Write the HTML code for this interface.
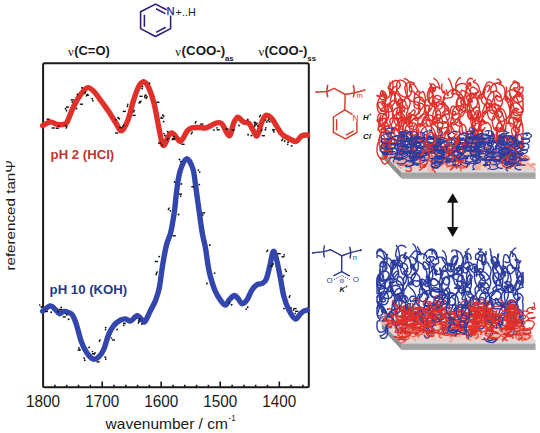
<!DOCTYPE html><html><head><meta charset="utf-8"><style>html,body{margin:0;padding:0;background:#fff;}svg{display:block;}</style></head><body><svg width="540" height="433" viewBox="0 0 540 433">
<rect width="540" height="433" fill="#fff"/>
<rect x="43.1" y="63.2" width="265.7" height="324.1" fill="none" stroke="#1a1a1a" stroke-width="2" rx="1.5"/>
<path d="M302.9,387.2 v-2.4 M291.1,387.2 v-2.4 M279.3,387.2 v-5.6 M267.5,387.2 v-2.4 M255.7,387.2 v-2.4 M243.9,387.2 v-2.4 M232.1,387.2 v-2.4 M220.2,387.2 v-5.6 M208.4,387.2 v-2.4 M196.6,387.2 v-2.4 M184.8,387.2 v-2.4 M173.0,387.2 v-2.4 M161.2,387.2 v-5.6 M149.4,387.2 v-2.4 M137.6,387.2 v-2.4 M125.8,387.2 v-2.4 M114.0,387.2 v-2.4 M102.2,387.2 v-5.6 M90.3,387.2 v-2.4 M78.5,387.2 v-2.4 M66.7,387.2 v-2.4 M54.9,387.2 v-2.4" stroke="#1a1a1a" stroke-width="1.6" fill="none"/>
<text x="43.1" y="407.2" font-family="Liberation Sans" font-size="16.0" fill="#1a1a1a" text-anchor="middle" textLength="34.0" lengthAdjust="spacingAndGlyphs">1800</text>
<text x="102.2" y="407.2" font-family="Liberation Sans" font-size="16.0" fill="#1a1a1a" text-anchor="middle" textLength="34.0" lengthAdjust="spacingAndGlyphs">1700</text>
<text x="161.2" y="407.2" font-family="Liberation Sans" font-size="16.0" fill="#1a1a1a" text-anchor="middle" textLength="34.0" lengthAdjust="spacingAndGlyphs">1600</text>
<text x="220.2" y="407.2" font-family="Liberation Sans" font-size="16.0" fill="#1a1a1a" text-anchor="middle" textLength="34.0" lengthAdjust="spacingAndGlyphs">1500</text>
<text x="279.3" y="407.2" font-family="Liberation Sans" font-size="16.0" fill="#1a1a1a" text-anchor="middle" textLength="34.0" lengthAdjust="spacingAndGlyphs">1400</text>
<text x="105.6" y="428.7" font-family="Liberation Sans" font-size="15.0" fill="#1a1a1a" textLength="122.3" lengthAdjust="spacingAndGlyphs">wavenumber / cm</text>
<text x="228.6" y="421.2" font-family="Liberation Sans" font-size="8.6" fill="#1a1a1a" textLength="7" lengthAdjust="spacingAndGlyphs">-1</text>
<text x="0.0" y="0.0" font-family="Liberation Sans" font-size="13.4" fill="#1a1a1a" textLength="110.6" lengthAdjust="spacingAndGlyphs" transform="translate(14.8,270.6) rotate(-90)">referenced tan&#936;</text>
<text x="68.0" y="55.8" font-family="Liberation Serif" font-size="12.6" fill="#1a1a1a">&#957;</text>
<text x="74.2" y="55.0" font-family="Liberation Sans" font-size="12.8" fill="#1a1a1a" font-weight="bold" textLength="35.6" lengthAdjust="spacingAndGlyphs">(C=O)</text>
<text x="175.3" y="55.8" font-family="Liberation Serif" font-size="12.6" fill="#1a1a1a">&#957;</text>
<text x="181.6" y="55.0" font-family="Liberation Sans" font-size="12.8" fill="#1a1a1a" font-weight="bold" textLength="43.6" lengthAdjust="spacingAndGlyphs">(COO-)</text>
<text x="224.9" y="60.5" font-family="Liberation Sans" font-size="7.2" fill="#1a1a1a" font-weight="bold" textLength="8.6" lengthAdjust="spacingAndGlyphs">as</text>
<text x="258.4" y="55.8" font-family="Liberation Serif" font-size="12.6" fill="#1a1a1a">&#957;</text>
<text x="264.4" y="55.0" font-family="Liberation Sans" font-size="12.8" fill="#1a1a1a" font-weight="bold" textLength="43.0" lengthAdjust="spacingAndGlyphs">(COO-)</text>
<text x="307.3" y="60.8" font-family="Liberation Sans" font-size="7.2" fill="#1a1a1a" font-weight="bold" textLength="8.8" lengthAdjust="spacingAndGlyphs">ss</text>
<g stroke="#30197a" stroke-width="1.55" fill="none" stroke-linejoin="round"><path d="M166.6,9.7 L155.5,4.1 L140.6,11.8 L140.6,28.6 L155.5,36.5 L170.6,28.6 L170.6,15.6"/><path d="M156,8.8 L165.4,13.6"/><path d="M144.4,14.8 L144.4,26.8"/><path d="M156,32.4 L165.7,27.3"/></g>
<text x="166.6" y="15.2" font-family="Liberation Sans" font-size="11.2" fill="#30197a" stroke="#30197a" stroke-width="0.25">N</text>
<text x="175.6" y="15.5" font-family="Liberation Sans" font-size="11.6" fill="#222" textLength="20.2" lengthAdjust="spacingAndGlyphs">+..H</text>
<path d="M42.6,125.7 C43.9,125.1 48.0,122.1 50.4,121.9 C52.8,121.7 54.8,124.0 56.9,124.4 C59.0,124.8 61.6,124.8 63.3,124.4 C65.0,124.0 65.5,124.9 67.2,121.9 C68.9,118.9 71.3,111.1 73.7,106.3 C76.1,101.5 79.1,96.4 81.5,93.3 C83.9,90.2 85.8,87.8 88.0,87.6 C90.2,87.4 92.0,89.5 94.4,92.0 C96.8,94.5 99.8,99.2 102.2,102.4 C104.6,105.7 106.5,108.2 108.7,111.5 C110.9,114.8 113.0,118.7 115.2,121.9 C117.4,125.1 119.5,131.3 121.7,130.9 C123.9,130.5 126.3,124.3 128.2,119.3 C130.1,114.3 131.6,106.5 133.3,101.1 C135.0,95.7 136.8,90.1 138.5,86.9 C140.2,83.7 142.0,81.5 143.7,81.7 C145.4,81.9 147.2,84.4 148.9,88.1 C150.6,91.8 152.5,97.4 154.1,103.7 C155.7,110.0 157.1,119.2 158.5,126.0 C159.9,132.8 161.3,141.5 162.5,144.3 C163.7,147.1 164.6,144.3 165.5,143.0 C166.4,141.7 167.3,138.1 168.2,136.5 C169.1,134.9 170.0,133.5 171.0,133.2 C172.0,132.8 172.7,133.1 174.1,134.4 C175.5,135.7 178.0,140.2 179.3,141.1 C180.7,142.0 180.8,141.3 182.2,139.6 C183.5,137.9 185.8,132.7 187.4,130.7 C189.0,128.7 189.9,128.3 191.9,127.8 C193.9,127.3 197.1,127.5 199.3,127.5 C201.5,127.5 203.5,128.2 205.2,128.0 C206.9,127.8 207.9,127.1 209.6,126.3 C211.3,125.5 213.9,123.9 215.6,123.3 C217.3,122.7 218.8,122.5 220.0,122.8 C221.2,123.1 221.2,122.8 222.8,125.0 C224.4,127.2 227.6,136.1 229.4,135.8 C231.2,135.5 232.2,126.4 233.6,123.3 C235.0,120.2 236.2,117.4 237.8,117.2 C239.4,117.0 241.5,120.9 243.3,121.9 C245.2,122.9 247.3,121.9 248.9,123.3 C250.5,124.7 251.7,128.2 253.1,130.3 C254.5,132.4 255.8,137.0 257.2,135.8 C258.6,134.6 260.0,126.7 261.4,123.3 C262.8,119.9 264.0,116.5 265.6,115.6 C267.2,114.7 269.2,116.0 271.1,117.8 C273.0,119.5 274.9,123.3 276.7,126.1 C278.5,128.9 280.1,132.3 282.2,134.4 C284.3,136.5 286.9,137.4 289.2,138.6 C291.5,139.8 294.0,141.9 296.1,141.4 C298.2,140.9 299.8,136.9 301.7,135.8 C303.6,134.7 306.5,135.1 307.5,135.0" stroke="#e0302a" stroke-width="5.4" fill="none" stroke-linecap="round" stroke-linejoin="round"/>
<path d="M42.6,311.1 C43.9,310.2 48.2,306.1 50.4,305.9 C52.6,305.7 54.1,308.5 55.6,309.8 C57.1,311.1 58.1,313.4 59.4,313.7 C60.7,314.0 61.8,311.8 63.3,311.6 C64.8,311.4 67.0,311.8 68.5,312.4 C70.0,313.0 71.1,313.1 72.4,315.0 C73.7,316.9 74.8,319.6 76.3,324.1 C77.8,328.6 79.8,337.4 81.5,342.2 C83.2,346.9 84.8,349.8 86.7,352.6 C88.7,355.4 91.3,358.3 93.2,359.1 C95.1,359.9 96.6,358.8 98.3,357.3 C100.0,355.8 101.8,353.8 103.5,350.0 C105.2,346.2 107.0,338.5 108.7,334.4 C110.4,330.3 112.0,327.8 113.9,325.4 C115.9,323.0 118.5,321.3 120.4,320.2 C122.4,319.1 123.9,318.8 125.6,318.9 C127.3,319.0 128.8,321.5 130.7,321.0 C132.6,320.5 135.2,315.9 137.2,315.8 C139.1,315.7 141.1,319.2 142.4,320.2 C143.7,321.1 143.7,323.0 145.0,321.5 C146.3,320.0 148.5,314.6 150.2,311.1 C151.9,307.6 153.9,304.6 155.4,300.7 C156.9,296.8 158.1,293.9 159.3,287.8 C160.5,281.7 161.6,271.1 162.8,264.0 C164.0,256.9 165.2,250.0 166.5,245.0 C167.8,240.0 169.3,237.5 170.3,234.0 C171.3,230.5 171.7,228.0 172.4,224.0 C173.1,220.0 173.9,215.7 174.6,210.0 C175.3,204.3 175.9,196.5 176.8,190.0 C177.7,183.5 178.5,176.2 180.1,171.0 C181.7,165.8 184.4,159.2 186.5,158.8 C188.6,158.4 191.2,163.8 192.8,168.5 C194.4,173.2 194.8,180.1 195.8,187.0 C196.8,193.9 197.9,202.4 199.0,210.1 C200.1,217.8 201.2,226.9 202.3,233.2 C203.4,239.5 204.6,242.7 205.5,248.0 C206.4,253.3 207.2,260.4 208.0,265.0 C208.8,269.6 209.0,271.4 210.2,275.7 C211.4,280.0 213.5,287.0 215.2,291.0 C216.9,295.0 218.6,297.6 220.3,299.9 C222.0,302.2 223.9,305.0 225.4,305.0 C226.9,305.0 227.7,301.5 229.2,299.9 C230.7,298.3 232.8,295.7 234.3,295.5 C235.8,295.3 236.8,297.2 238.1,298.6 C239.4,300.0 240.4,303.5 241.9,303.7 C243.4,303.9 245.3,302.2 247.0,299.9 C248.7,297.6 250.4,292.2 252.1,289.7 C253.8,287.1 255.5,285.7 257.2,284.6 C258.9,283.6 260.7,284.2 262.2,283.4 C263.7,282.5 264.8,282.5 266.1,279.5 C267.4,276.5 268.7,270.2 269.9,265.6 C271.1,261.0 272.1,252.9 273.2,251.6 C274.2,250.3 275.1,253.9 276.2,257.9 C277.3,261.9 278.7,269.3 280.0,275.7 C281.3,282.1 282.3,290.4 283.8,296.1 C285.3,301.8 287.0,306.2 288.9,310.0 C290.8,313.8 293.4,318.3 295.3,318.9 C297.2,319.5 298.9,315.1 300.4,313.8 C301.9,312.5 303.0,311.4 304.2,310.8 C305.4,310.2 306.9,310.1 307.5,310.0" stroke="#3246ad" stroke-width="5.4" fill="none" stroke-linecap="round" stroke-linejoin="round"/>
<g fill="#111"><circle cx="118.1" cy="117.7" r="0.95"/>
<circle cx="115.7" cy="119.7" r="0.85"/>
<rect x="122.6" y="124.4" width="1.4" height="3" transform="rotate(30 123.3 125.9)"/>
<circle cx="149.5" cy="83.3" r="0.95"/>
<rect x="46.5" y="118.5" width="3.2" height="1.4"/>
<circle cx="251.4" cy="135.5" r="0.95"/>
<circle cx="273.8" cy="131.7" r="0.95"/>
<circle cx="273.2" cy="129.7" r="0.85"/>
<circle cx="82.0" cy="87.7" r="0.95"/>
<rect x="146.0" y="96.0" width="1.4" height="3" transform="rotate(30 146.7 97.5)"/>
<circle cx="145.9" cy="95.5" r="0.85"/>
<rect x="254.5" y="122.0" width="1.4" height="3" transform="rotate(30 255.2 123.5)"/>
<rect x="70.7" y="99.2" width="3.2" height="1.4"/>
<circle cx="72.2" cy="101.9" r="0.85"/>
<rect x="66.0" y="106.4" width="3.2" height="1.4"/>
<rect x="259.3" y="114.5" width="1.4" height="3" transform="rotate(30 260.0 116.0)"/>
<rect x="172.0" y="138.0" width="3.2" height="1.4"/>
<circle cx="174.1" cy="136.7" r="0.85"/>
<circle cx="284.6" cy="141.0" r="0.95"/>
<rect x="139.9" y="100.4" width="1.4" height="3" transform="rotate(30 140.6 101.9)"/>
<rect x="166.9" y="137.6" width="1.4" height="3" transform="rotate(30 167.6 139.1)"/>
<rect x="231.6" y="129.4" width="3.2" height="1.4"/>
<rect x="138.7" y="100.8" width="1.4" height="3" transform="rotate(30 139.4 102.3)"/>
<rect x="86.3" y="93.7" width="1.4" height="3" transform="rotate(30 87.0 95.2)"/>
<rect x="225.5" y="128.4" width="3.2" height="1.4"/>
<rect x="191.1" y="131.5" width="1.4" height="3" transform="rotate(30 191.8 133.0)"/>
<circle cx="142.2" cy="88.5" r="0.95"/>
<circle cx="142.6" cy="86.5" r="0.85"/>
<rect x="122.7" y="110.7" width="3.2" height="1.4"/>
<rect x="200.2" y="123.4" width="3.2" height="1.4"/>
<rect x="156.3" y="101.6" width="3.2" height="1.4"/>
<rect x="118.9" y="126.9" width="3.2" height="1.4"/>
<rect x="171.5" y="138.8" width="3.2" height="1.4"/>
<rect x="181.4" y="143.6" width="3.2" height="1.4"/>
<rect x="144.4" y="94.1" width="1.4" height="3" transform="rotate(30 145.1 95.6)"/>
<circle cx="145.0" cy="97.6" r="0.85"/>
<circle cx="167.7" cy="131.8" r="0.95"/>
<circle cx="291.7" cy="145.9" r="0.95"/>
<circle cx="77.5" cy="94.5" r="0.95"/>
<circle cx="266.8" cy="122.1" r="0.95"/>
<circle cx="265.8" cy="120.1" r="0.85"/>
<rect x="157.9" y="142.4" width="3.2" height="1.4"/>
<circle cx="161.9" cy="145.1" r="0.85"/>
<rect x="254.2" y="124.3" width="1.4" height="3" transform="rotate(30 254.9 125.8)"/>
<circle cx="92.2" cy="98.7" r="0.95"/>
<circle cx="92.9" cy="100.7" r="0.85"/>
<rect x="65.8" y="125.8" width="1.4" height="3" transform="rotate(30 66.5 127.3)"/>
<circle cx="65.6" cy="125.3" r="0.85"/>
<rect x="256.0" y="122.4" width="1.4" height="3" transform="rotate(30 256.7 123.9)"/>
<circle cx="257.7" cy="125.9" r="0.85"/>
<rect x="133.2" y="109.7" width="1.4" height="3" transform="rotate(30 133.9 111.2)"/>
<rect x="115.1" y="132.3" width="3.2" height="1.4"/>
<circle cx="247.8" cy="119.5" r="0.95"/>
<rect x="194.9" y="120.8" width="1.4" height="3" transform="rotate(30 195.6 122.3)"/>
<rect x="216.6" y="129.1" width="3.2" height="1.4"/>
<circle cx="217.0" cy="127.8" r="0.85"/>
<circle cx="254.5" cy="122.3" r="0.95"/>
<circle cx="269.7" cy="121.8" r="0.95"/>
<circle cx="265.4" cy="129.8" r="0.95"/>
<circle cx="265.8" cy="127.8" r="0.85"/>
<rect x="160.3" y="117.4" width="3.2" height="1.4"/>
<circle cx="163.8" cy="116.1" r="0.85"/>
<circle cx="248.1" cy="134.7" r="0.95"/>
<rect x="261.7" y="135.0" width="3.2" height="1.4"/>
<circle cx="164.8" cy="135.5" r="0.95"/>
<circle cx="163.9" cy="133.5" r="0.85"/>
<rect x="260.9" y="128.9" width="1.4" height="3" transform="rotate(30 261.6 130.4)"/>
<rect x="281.5" y="138.3" width="1.4" height="3" transform="rotate(30 282.2 139.8)"/>
<circle cx="65.6" cy="108.7" r="0.95"/>
<circle cx="66.5" cy="110.7" r="0.85"/>
<rect x="85.9" y="94.5" width="3.2" height="1.4"/>
<rect x="272.0" y="129.1" width="3.2" height="1.4"/>
<rect x="84.5" y="91.3" width="1.4" height="3" transform="rotate(30 85.2 92.8)"/>
<circle cx="213.9" cy="130.1" r="0.95"/>
<rect x="132.5" y="114.7" width="3.2" height="1.4"/>
<circle cx="127.4" cy="106.3" r="0.95"/>
<circle cx="127.8" cy="104.3" r="0.85"/>
<circle cx="163.6" cy="121.6" r="0.95"/>
<circle cx="162.9" cy="115.3" r="0.95"/>
<circle cx="161.5" cy="117.3" r="0.85"/>
<circle cx="119.3" cy="118.7" r="0.95"/>
<rect x="55.7" y="127.5" width="3.2" height="1.4"/>
<circle cx="58.8" cy="126.2" r="0.85"/>
<circle cx="76.4" cy="108.5" r="0.95"/>
<rect x="51.6" y="127.3" width="3.2" height="1.4"/>
<circle cx="288.1" cy="142.3" r="0.95"/>
<circle cx="287.7" cy="144.3" r="0.85"/>
<rect x="267.6" y="118.7" width="1.4" height="3" transform="rotate(30 268.3 120.2)"/>
<circle cx="239.0" cy="125.5" r="0.95"/>
<rect x="79.8" y="103.5" width="3.2" height="1.4"/>
<rect x="139.4" y="95.6" width="3.2" height="1.4"/><circle cx="181.4" cy="183.9" r="0.95"/>
<circle cx="174.6" cy="182.0" r="0.95"/>
<rect x="111.8" y="339.3" width="3.2" height="1.4"/>
<circle cx="111.5" cy="338.0" r="0.85"/>
<circle cx="247.7" cy="307.2" r="0.95"/>
<circle cx="246.3" cy="309.2" r="0.85"/>
<rect x="269.8" y="265.3" width="3.2" height="1.4"/>
<circle cx="272.4" cy="264.0" r="0.85"/>
<rect x="281.4" y="256.1" width="3.2" height="1.4"/>
<circle cx="284.1" cy="254.8" r="0.85"/>
<circle cx="293.5" cy="309.9" r="0.95"/>
<circle cx="291.1" cy="307.9" r="0.85"/>
<rect x="93.9" y="352.0" width="1.4" height="3" transform="rotate(30 94.6 353.5)"/>
<circle cx="92.4" cy="351.5" r="0.85"/>
<circle cx="209.8" cy="245.0" r="0.95"/>
<rect x="62.7" y="316.2" width="3.2" height="1.4"/>
<circle cx="66.8" cy="314.9" r="0.85"/>
<circle cx="84.8" cy="360.2" r="0.95"/>
<circle cx="84.1" cy="358.2" r="0.85"/>
<rect x="266.6" y="249.4" width="1.4" height="3" transform="rotate(30 267.3 250.9)"/>
<rect x="295.1" y="310.6" width="3.2" height="1.4"/>
<circle cx="295.3" cy="313.3" r="0.85"/>
<rect x="156.1" y="271.1" width="1.4" height="3" transform="rotate(30 156.8 272.6)"/>
<circle cx="156.2" cy="274.6" r="0.85"/>
<circle cx="179.5" cy="159.5" r="0.95"/>
<circle cx="180.8" cy="161.5" r="0.85"/>
<circle cx="284.0" cy="308.6" r="0.95"/>
<rect x="58.8" y="308.8" width="3.2" height="1.4"/>
<circle cx="58.1" cy="311.5" r="0.85"/>
<circle cx="123.8" cy="323.5" r="0.95"/>
<circle cx="123.7" cy="325.5" r="0.85"/>
<rect x="91.9" y="353.0" width="3.2" height="1.4"/>
<circle cx="105.3" cy="357.2" r="0.95"/>
<circle cx="105.8" cy="359.2" r="0.85"/>
<circle cx="159.2" cy="256.6" r="0.95"/>
<rect x="99.0" y="339.1" width="1.4" height="3" transform="rotate(30 99.7 340.6)"/>
<circle cx="199.3" cy="184.6" r="0.95"/>
<rect x="288.9" y="295.0" width="1.4" height="3" transform="rotate(30 289.6 296.5)"/>
<circle cx="199.7" cy="172.1" r="0.95"/>
<circle cx="198.3" cy="170.1" r="0.85"/>
<circle cx="79.0" cy="347.9" r="0.95"/>
<circle cx="79.5" cy="349.9" r="0.85"/>
<circle cx="141.9" cy="324.1" r="0.95"/>
<rect x="277.6" y="253.0" width="3.2" height="1.4"/>
<rect x="202.0" y="212.2" width="3.2" height="1.4"/>
<circle cx="202.8" cy="214.9" r="0.85"/>
<rect x="191.3" y="186.0" width="3.2" height="1.4"/>
<circle cx="51.2" cy="312.3" r="0.95"/>
<rect x="77.6" y="349.3" width="3.2" height="1.4"/>
<circle cx="89.1" cy="347.4" r="0.95"/>
<circle cx="231.6" cy="304.7" r="0.95"/>
<circle cx="229.2" cy="302.7" r="0.85"/>
<rect x="44.8" y="310.8" width="3.2" height="1.4"/>
<circle cx="68.6" cy="319.3" r="0.95"/>
<circle cx="214.6" cy="273.1" r="0.95"/>
<circle cx="286.2" cy="271.3" r="0.95"/>
<circle cx="285.2" cy="269.3" r="0.85"/>
<circle cx="178.5" cy="214.5" r="0.95"/>
<circle cx="124.9" cy="323.4" r="0.95"/>
<rect x="172.6" y="235.1" width="3.2" height="1.4"/>
<circle cx="117.1" cy="329.4" r="0.95"/>
<rect x="178.8" y="193.4" width="3.2" height="1.4"/>
<circle cx="180.7" cy="196.1" r="0.85"/>
<rect x="138.1" y="320.8" width="1.4" height="3" transform="rotate(30 138.8 322.3)"/>
<circle cx="41.4" cy="307.0" r="0.95"/>
<circle cx="39.7" cy="305.0" r="0.85"/>
<circle cx="206.9" cy="283.5" r="0.95"/>
<rect x="96.5" y="361.2" width="3.2" height="1.4"/>
<circle cx="105.7" cy="327.6" r="0.95"/>
<circle cx="105.6" cy="329.6" r="0.85"/>
<rect x="282.9" y="274.6" width="1.4" height="3" transform="rotate(30 283.6 276.1)"/>
<circle cx="139.8" cy="318.9" r="0.95"/>
<circle cx="138.7" cy="320.9" r="0.85"/>
<circle cx="61.2" cy="307.4" r="0.95"/>
<rect x="154.8" y="260.8" width="3.2" height="1.4"/>
<rect x="168.1" y="207.3" width="1.4" height="3" transform="rotate(30 168.8 208.8)"/>
<circle cx="170.4" cy="210.8" r="0.85"/>
<circle cx="273.0" cy="264.0" r="0.95"/>
<rect x="293.4" y="307.9" width="3.2" height="1.4"/></g>
<text x="50.6" y="159.4" font-family="Liberation Sans" font-size="12.4" fill="#c0352e" font-weight="bold" textLength="63.6" lengthAdjust="spacingAndGlyphs">pH 2 (HCl)</text>
<text x="49.6" y="293.8" font-family="Liberation Sans" font-size="12.9" fill="#2a3784" font-weight="bold" textLength="77.6" lengthAdjust="spacingAndGlyphs">pH 10 (KOH)</text>
<polygon points="381.7,152.4 401.7,172.4 535.6,172.4 535.6,169.4 520,152.4" fill="#d9d9d9"/>
<polygon points="387,152.4 404.5,169.6 533,169.6 533,166.4 520,152.4" fill="#f0cdc6"/>
<polygon points="381.7,152.4 401.7,172.4 401.7,178.8 381.7,157.4" fill="#8e8e8e"/>
<rect x="401.7" y="172.4" width="133.9" height="6.4" fill="#a4a4a4"/>
<g fill="none" stroke-width="1.4" stroke-linejoin="round"><path d="M464,150.8l0.7,-2.5l1.1,-2.3l0,-1.2l0.1,-0.8l-0.3,-0.3l-0.5,-0.2l-0.4,-0.6l-0.1,-0.8l0.2,-1.2l0.3,-1.1l0.7,-1l1.1,-0.8l1.4,-0.1l0.7,0.4l0.7,1l0.4,1.6l-0.1,1.7l-0.4,1.5l-0.6,1.2l-0.3,1l-0.8,0.3l-0.8,-0.1l-1,-0.6l-1,-1l-0.3,-0.8l0.4,-0.5l0.9,-0.3l1.6,-0.2l1.8,-0.2l1.6,-0.4l1.5,-0.7l0.9,-1l0.8,-1.4l0.4,-1l0.2,-0.7l-0.3,-0.5l-0.4,0l-0.5,0l-0.9,0l0.3,-0.5l0.3,-0.7l0.4,-0.9l0.4,-1.2l-0.2,-1.2l0.2,-0.7l0.4,-0.5l0.1,-0.4l-0.4,-0.5l-0.1,-0.6l-0.3,-0.4l0.1,-0.7l0.1,-1l-0.4,-1.2l-0.6,-1.4l-0.7,-1.8l0.3,-1.7l-0.2,-1.9l0.7,-2.1l0.4,-1.4l0.8,-1.6l0.7,-1.4l0.5,-1.3l0.5,-1l0.8,-0.2l0.8,-0.3l1.3,0.2l0.6,0.7l0.9,1.5l0.3,2.1l-0.4,1.7l-0.7,1.8l-0.8,1l-1.5,0.5l-1.8,-0.2l-1.4,-0.7l-0.6,-1.2l-1,-2l-1,-1.7l-1.1,-2.3l-0.6,-2.6l-0.7,-2.5l-0.9,-2.4l0.1,-2.3l0.3,-2l0.2,-1.6l0.7,-1l1.3,0.9l0.6,1l0.8,1.2l-0.2,1.2l-0.4,0.3l-0.6,-0.3l-0.1,-0.7l-0.2,-0.7l-0.4,-0.9l-0.1,-0.6l-0.4,-0.7l-0.3,-0.8l-0.5,-0.8l0.2,-1.3l-0.4,-1.2l-0.9,-0.8l-1,-0.5l-0.5,-0.1l0,-0.5l0,-0.7l0,-0.8l0.3,-1l-0.4,-1.1l-0.2,-0.6l-0.2,-0.2l0,0l-0.1,-0.4l0.5,-0.7l0.5,-1l0.6,-1l0.7,-1l0.6,-0.7l0.5,-0.4l1,0.1l0.3,0.3l0.1,0.6l0.2,1l0,0.9l-0.7,1.0" stroke="#e0302a"/>
<path d="M415.9,153.5l0,1l-0.1,0.7l-0.8,0.1l-0.2,-0.4l-0.2,-1.1l-0.1,-1.5l-0.6,-1.8l-0.1,-1.8l0.4,-1.9l0.6,-1.9l-0.1,-1.3l-0.7,-0.8l-0.4,-0.4l-0.6,-0.1l-0.7,0.4l-0.3,0.7l0.1,0.7l0,-0.2l-0.6,-0.9l-0.6,-1.3l-0.4,-0.7l-0.8,-0.2l0,0.2l0,0.6l0,0.8l1,0.8l0.8,0.4l1.4,-0.1l0.7,-0.6l1.2,-1.3l0.5,-2.1l0.4,-2.2l0.6,-2.4l0.4,-2.5l-0.1,-1.7l0,-1.1l-0.1,-0.4l0.1,0.1l0.4,0.8l0.1,1.2l-0.2,1.3l-0.6,1.4l-1.3,1l-1.7,0.6l-1.1,0l-0.7,-0.6l-0.7,-1.2l-0.5,-1.7l-0.5,-2.2l-0.3,-2.8l0,-2.6l0.4,-2.9l0.5,-2.8l0.7,-1.7l0.4,-1l-0.2,-0.4l-0.3,0.1l-1.1,0.4l-1,1.2l-0.5,1.2l0.5,1.4l0.5,1.4l0.1,1.4l-0.3,0.3l-0.2,-0.4l-0.2,-0.6l-0.2,-1.3l-0.1,-1.5l-0.5,-1.6l0,-1.6l0.1,-1.6l0.5,-0.8l0.4,-0.5l0.3,0l0.6,0.3l0.6,0.5l0.5,0.4l0.8,0.5l1.2,0.3l1.5,0l1.6,-0.3l1.3,-0.7l1.3,-1.1l1.3,-1.7l0.5,-1.1l-0.3,-0.7l-0.7,-0.3l-0.9,-0.3l-0.7,-0.3l-1.2,-0.3l-1.5,-0.5l-0.7,-0.7l-0.3,-0.9l-0.1,-1.1l-0.1,-1.3l0.1,-1.4l-0.2,-1.5l0.2,-1.9l0.3,-2l0.2,-2l0.9,-1.7l1.1,-1.3l1,-0.8l1.1,0l0.9,0.5l0.4,0.8l-0.2,0.3l-0.7,-0.5l-0.5,-0.7l-0.8,-1.3l-0.8,-1.4l-0.8,-1.3l-0.8,-1.4l-0.9,-1l-0.8,-0.7l-0.8,-0.5l-0.6,-0.1l-1.1,0.3" stroke="#e0302a"/>
<path d="M437.3,157.6l-1.2,-1.3l-0.6,-2l-0.2,-1.4l0,-0.9l0.2,-0.4l0.1,0.1l0.6,0.5l0.8,0.3l0.6,-0.9l0.1,-1l0.3,-1l0,-1.1l-0.1,-1.2l0,-1.3l0.9,-1.4l0.5,-1.4l0.3,-1.5l0.5,-1.5l0.7,-1.6l0.8,-1.3l0.8,-1.3l0.8,-0.9l1.4,-1.1l1.9,-0.6l1.4,-0.3l1.1,0.7l0.5,0.3l0.4,-0.3l0.5,-0.9l-0.6,-1.2l-0.8,-1.5l-0.4,-1.3l-0.2,-0.9l-0.4,-0.7l-0.1,-0.5l-0.2,-0.5l-0.1,-0.3l0.4,-0.1l0.6,0.2l0.1,-0.3l-0.5,-0.8l-0.7,-1.1l-1.1,-1.1l-1.6,-1.1l-2,0.1l-1.4,0.4l-0.9,0.2l-1.8,0.3l-1.4,0.3l-1.3,0.4l-1,0.5l-0.5,0.7l-0.4,0.1l-0.4,-0.2l0.1,-0.6l-0.4,-0.9l0,-1.1l0.1,-1.5l0.6,-1.3l1.1,-1.5l0.6,-0.8l0.3,-0.5l0.8,-0.4l0.6,-0.3l-0.1,0l-0.6,0l-0.2,0.2l-0.1,0.7l-0.5,0.2l0,0.3l0.8,0.5l0.9,0.6l1.3,0.1l1.4,-0.2l1.4,-0.7l1.7,-1.3l1,-1.9l0.5,-2.1l0,-2.3l-0.4,-2.1l-0.7,-2l-0.9,-1.8l-1.1,-1.3l-0.4,-1l-0.9,-0.6l-0.8,0l-1.2,0.4l-1,0.8l-1,0.9l-0.2,1.2l-0.1,1.1l0.8,0.9l0.5,0.5l0.4,0.3l0,-0.3l-0.8,-0.5l-0.5,-0.6l-0.8,-0.8l-1.3,-1l-0.8,-1.4l-0.5,-1.8l-0.4,-2l-0.2,-2l0,-2.1l-0.1,-1.9l0.3,-1.7l1,-2l1,-1.3l1.2,-0.7l1.7,0.1l1.4,1.1l0.4,0.7l0.4,0l-0.2,-0.8l-0.2,-1.1l-0.5,-1.5l-0.4,-1.6l-0.9,-1.6l-1,-1.7l-1.6,-1.1l-1.1,-0.6l0,-0.5l0.2,-0.6" stroke="#e0302a"/>
<path d="M474.5,156.3l0.5,-1.7l-0.3,-1.2l-0.3,-0.9l-0.3,-0.4l0.1,0l-0.1,0l-0.4,0.2l-0.4,0.3l-0.7,0l-0.6,-0.2l-1.1,-0.6l-0.9,-0.9l-0.5,-1.4l-0.5,-1.9l-0.6,-2.3l-0.1,-2.3l-0.2,-2.1l-0.6,-2.6l0.3,-2.5l0.3,-1.7l-0.4,-1l-0.2,-0.7l-0.4,-0.4l-0.6,0.1l-0.2,0.4l0.3,0.7l0.3,1.1l1.8,1.9l1.3,0.6l0.4,-0.4l0.2,-0.7l0.2,-1.4l0.6,-1.8l0.6,-2l0.9,-1.9l1.2,-1.8l0.9,-1.7l1.1,-1.3l2,-0.9l1.8,-0.2l1.2,-0.1l0.2,0.3l0.1,-0.1l-0.6,-0.6l-1.1,-0.6l-0.8,-0.5l-1.3,-0.2l-1.3,0.2l-1.5,0.3l-1,0.7l-0.8,0.7l-1,1l0.8,1.2l0.6,0.7l0.5,0.3l0.8,0l0.6,-0.5l-0.1,-0.9l0,-1.2l-0.1,-1.5l-0.5,-1.6l-0.7,-1.7l-1,-1.6l-0.7,-1.3l-0.4,-1.1l-0.2,-0.8l0,-0.6l-0.5,-1.7l-0.9,-0.6l-1.1,0.2l-1,1.1l-0.6,1.7l0.2,2l1.2,1.9l1.5,1.5l1.6,0.8l1.8,0l2.1,-1l0.8,-1.2l1,-1.7l0.6,-2.1l0.8,-2.6l0.3,-3l-0.1,-3l-0.8,-3.3l-1.3,-2.9l-1.8,-2.4l-0.9,-1.2l-0.3,-0.7l-0.8,-0.6l-1.5,-0.4l-1.6,0l-1.6,0.6l-1,1.1l-1,1.4l-0.1,1.4l0.6,1.3l0.3,1.4l0.4,0l-0.5,-0.7l-0.6,-1.6l-0.7,-2.2l-0.8,-2.5l0.1,-2.3l1,-2.3l1.5,-2.3l1.5,-1.7l0.1,-0.8l0,-0.7l-0.1,-0.5l0.7,0.6l0.2,0.3l0,0.5l-0.8,0.3l-0.7,-1.1l-1.1,-0.7l-0.8,-0.8l0.3,-1.1l0.6,-1.2l0.6,-1l0.9,-0.9l1.1,-0.3l1.3,0.3l1.2,0.8" stroke="#e0302a"/>
<path d="M500.6,147.5l0.6,-2l1.6,-1.5l1.3,-0.7l1.7,0.1l1.9,0.8l1.8,1.2l0.6,0.1l0,-0.7l-0.2,-1.4l-0.4,-1.6l-0.9,-1.7l-1,-1.8l-1.8,-1.5l-1.8,-1l-1.8,0.9l-1.1,1l-1,0.9l-0.6,1.1l-0.4,1l-0.2,0.8l-0.4,0.2l-0.7,-0.5l-0.5,-0.2l-0.1,-0.1l0.5,0l0.5,0l0.7,-0.1l0.8,-0.2l0.8,-0.4l0,-0.6l-0.8,-0.6l-1,-0.7l-0.6,-0.9l-0.5,-0.8l-0.1,-1.3l-0.3,-1.7l0.8,-1.9l0.8,-2.1l0.8,-1.3l0.8,-0.5l0.3,-0.1l0,0.3l-0.2,0.7l0.1,0.6l-0.1,-0.3l-0.4,-0.1l-0.1,0l0.2,0.2l0.3,0.1l0.2,0.8l0.7,0.7l1,0.6l0.9,0.3l0.9,-0.1l0.7,-0.6l0.8,-1.1l0,-1.5l0,-1.8l0.5,-2.5l0.2,-2.8l0,-2.7l-0.3,-2.4l-0.6,-2.2l-0.9,-2.3l-1.4,-1.8l-1.6,-1.2l-1.5,-0.5l-0.9,0.2l-1.3,1l-1.4,1.7l-0.6,2.5l0,2.4l1,2.2l1.2,1.8l2,1.2l2.3,0.3l2.4,-1.2l1.9,-1.7l1.8,-1.6l1.1,-2.2l0.4,-2.8l-0.4,-3l-0.6,-2.6l-0.7,-2.1l-1,-2.1l-1.1,-1.8l-1.1,-0.4l0.2,-1.1l0.1,-1l1.1,-0.5l0.8,-0.2l0.4,0.3l0.6,0.7l0.7,1l0.8,1.9l0.5,0.7l0.1,-0.6l0.3,-1.4l0.3,-1.9l-0.9,-2.2l-0.6,-1.1l0.1,-0.4l0.2,0.5l0.3,1.1l0.5,1.5l-0.1,1.8l-0.4,1.4l-1,1.2l-1,0.8l-0.9,-1.1l-0.2,-1.4l-0.3,-1.4l-0.6,-1.5l-0.2,-1.6l-0.2,-1.1l-0.2,-1.4l0.8,-2l0.4,-2.3l-0.2,-1l-0.2,-0.5l0.1,0l0.2,0.1l0.1,0.3" stroke="#e0302a"/>
<path d="M398.1,155.3l-0.8,0.9l-1.7,0.4l-0.8,-0.4l0,-0.7l0.4,-0.9l0.2,-1l0.9,-0.8l1.1,-1.5l0.7,-1.7l0.5,-2.3l-0.1,-2.6l-0.7,-2.4l-1,-2.2l-1.7,-1.1l-1.6,-0.6l-1.4,-0.3l-1.1,0.1l-0.4,0.5l0.1,0.6l0.5,0.9l0.2,0.8l-0.2,0.7l-0.2,0.7l0.7,0.4l1.1,0.2l1.1,0.1l1.5,-0.3l1.3,-0.7l1.8,-1l1.4,-1.4l1.4,-1.4l1,-1.9l0.4,-2.1l0.2,-2.4l0,-2.3l0.2,-1.6l0.3,-0.8l-0.3,0.4l-0.3,0.7l-0.3,0.6l-0.3,0.6l-0.7,0l-0.7,-0.4l-0.4,-0.9l-0.2,-1l-0.5,-0.9l-0.3,-1.9l-0.9,-2.1l-1.4,-1.9l-1.8,-1.4l-1.8,-0.8l-1.9,-0.1l-1.2,0.8l-0.5,1.6l0,2l0.9,2.4l1.1,2.3l1.5,1.8l1.8,1l1.7,0.2l1.4,-0.6l1.5,-1.3l1.1,-1.8l0.5,-2.2l0.3,-2.8l0.1,-3.3l-0.1,-3.2l-0.3,-2.9l-1,-2.9l-0.6,-1.6l0,-0.8l0.4,-0.2l0.6,0.4l0.6,0.6l0.6,1.4l0.3,1.7l-0.2,1.7l-0.4,2l-0.4,1.8l-1.3,1.6l-1.7,0.7l-1.7,-0.2l-2,-1l-0.5,-1.1l0.2,-0.8l0.9,-0.5l1.1,-0.3l0.7,-0.4l0.8,-0.4l0.9,-0.7l1.4,-1.3l1.5,-1.9l0.6,-2.3l0.4,-2.4l-0.1,-2.3l-0.6,-2.4l-1.3,-2.7l-2,-2.5l-1.8,-1.8l-1.6,-1.4l-1.6,-0.7l-0.9,0l-0.6,1.2l0.2,1.2l-0.2,1.3l0.1,0.3l-0.3,-0.5l-0.6,-0.9l-0.5,-1.3l0.5,-1.4l0.7,-1.4l1,-1.3l0.8,-1l0.6,-0.7l1.3,-0.4l0.7,0l0.5,0.3l0,0.5l0,0.9l-0.1,1.1l-0.2,1.7l-1.1,1.8l-1.1,1.4" stroke="#e0302a"/>
<path d="M425.1,158.6l-0.6,-1.7l-0.7,-2.1l-0.5,-2.2l-0.4,-2.2l0.3,-2.3l0.5,-2l0.7,-1.8l0.8,-1.4l1.5,-0.9l1.2,-0.4l1.5,0.2l1.2,0.8l1.3,1.5l0.7,1.7l0.2,1.9l0,1.2l-0.3,0.9l-1.5,0.2l-1.8,-0.7l-1.5,-1.8l-1.8,-2.2l-1.2,-2.3l-0.6,-2.1l-0.1,-2l-0.2,-1.8l0.2,-1.6l0.8,-0.8l0.6,-0.2l0.4,0.1l0.8,0.4l0.7,0.6l0.6,0.6l0,0.4l0.2,-0.1l0.2,-0.4l-0.4,-0.5l-0.1,-0.7l-0.2,-0.9l-0.3,-1.1l-0.3,-1.1l-0.4,-1.1l-0.6,-1.1l-0.2,-1l-0.1,-0.9l-0.2,-0.8l-1.2,-0.7l-1.3,-0.5l-1.1,-0.2l-0.9,0.1l-0.6,0.2l-0.2,0.2l0.3,0.4l0.2,0.3l-0.5,0.2l-0.7,-0.3l-0.4,-0.7l-0.8,-1l-0.4,-1.3l0,-1.4l0.1,-1.8l0.4,-1.9l1.3,-1.6l1.2,-1.3l1.2,-0.8l1.2,-0.6l1.1,-0.3l0.6,0.1l0.8,0.3l1,0.6l0.5,-0.1l0.3,-0.4l0.1,-0.8l0.4,-1l1,-1.8l0.6,-1.7l-0.2,-2l-0.7,-1l-0.5,-0.6l-1,-0.2l-1.2,0.2l-0.5,0.5l-0.3,0.7l-0.2,1l-0.2,1.4l-0.3,1.3l-0.2,1.1l0.8,0.8l1.3,0.3l1.6,-0.3l1.3,-1l1.2,-1.5l1.1,-2l1.1,-2.2l0,-2.4l-0.4,-1.6l0,-0.8l0.8,-0.5l0.5,-0.2l0.8,0.3l0.1,0.5l0.2,0.4l-0.1,0.3l0.3,0.6l-0.5,0.6l-1.1,0.4l-1,0l-1.1,0.3l-1.5,-0.4l-1.4,-1.3l-0.4,-2.7l-0.6,-2.6l0,-2.8l0.8,-2.6l1.6,-2.1l1.1,-1l0.5,-0.6l-0.1,-0.3l-0.9,0l-0.3,0.3l-0.3,0.4l-0.6,0.7l-0.3,0.8l0.2,0.8l0.7,0.9l0.7,0.6l1.2,0.1l1.7,-0.4l1.5,-0.3" stroke="#e0302a"/>
<path d="M516.1,151l1.2,-1.8l1.4,-1.1l1.3,-0.6l0.6,-0.5l0.1,-0.1l-0.6,-0.2l-1,-0.3l-0.1,-0.2l0.6,-0.4l0.4,-0.4l0.8,-1.4l0.4,-1.2l-0.1,-1.1l0.5,-0.9l0.4,-0.9l0.5,-0.7l0.5,-0.5l0,-0.1l0,0.5l0,1.2l0,1.9l0,2.2l-0.1,2.1l-0.3,1l-0.6,-0.7l-0.1,-1.2l0,-0.7l-0.4,-0.4l-0.1,-0.2l-0.4,-0.1l-0.6,0.9l-0.8,0.5l-1.6,-0.1l-1.7,-0.5l-1.4,-1.1l-0.2,-0.6l0.1,-0.1l0.7,0.2l0.8,0.3l1.2,0.1l0.6,-0.3l0.7,-0.3l1.1,-0.5l0.7,-0.9l1,-1.3l1.3,-2l0.1,-2.5l0,-3.1l0,-3.1l-0.2,-3l-0.5,-2.7l-1,-2.9l-0.7,-1.5l-0.2,-0.5l0.3,0.3l0.7,0.7l0.2,1.3l-0.2,1.5l-0.3,1.3l-0.7,1.1l-0.9,1.2l-1,1l-1.3,0.6l-1.2,-0.4l-1.1,-0.7l-1.4,-1.2l-0.3,-1.1l0.3,-1l0.3,-0.8l0.5,-0.6l0.6,-0.4l0.6,-0.5l0.6,-0.5l0.3,-0.5l0.8,-0.8l0.8,-1l1.2,-0.7l1.2,-1.3l1.1,-1.8l0.6,-2.3l0.3,-2.8l-1.1,-2.2l-1.4,-2.3l-1.8,-1.6l-1.8,-0.8l-1.5,-0.1l-1,0.4l-0.6,0.8l-0.2,0.9l0.2,1.3l0.4,1.3l0.6,1.4l1,1.3l1.5,1.2l0.7,0.7l0.1,-0.1l0.6,0.1l0.7,0.2l1.2,0.1l1.2,-0.4l1.7,-1l0.1,-1.1l-0.3,-1.6l-1.1,-1.1l-0.8,-1l-1.1,-1l-0.6,-1l-0.4,-1.3l-0.6,-1.6l-0.5,-1.7l-1,-1.8l-0.5,-2.2l0.8,-2.5l1.2,-2.3l1,-1.8l1.1,-1.2l1.1,-0.7l0.8,-0.3l0.9,0.3l0,0.7l0,1.1l0,1.1l-0.1,1.1l-0.8,1.1l-0.9,1l-0.9,-0.4l-1.2,-0.7l-0.6,-0.9l0,-1.2l-0.3,-0.7l0,-0.6" stroke="#e0302a"/>
<path d="M479.6,153.2l-0.9,-2.6l-1.6,-2.2l-1.6,-1.8l-1.2,-0.8l-0.4,-0.6l0.1,-0.4l0.3,-0.2l0.8,0l0.9,0.1l0.6,0.7l0.2,0.2l0,-0.4l-0.1,-1.1l-0.4,-1.5l-0.8,-1.5l-1.4,-1.6l-1.4,-1.4l-1.2,-1.1l-0.6,-0.6l0.1,-0.5l0.6,-0.6l0.9,-0.5l1.3,-0.4l1.8,-0.1l1.2,0.3l1.2,0.7l0.6,0.9l0.7,1.1l0.3,1.4l-0.2,1.3l-1,0.9l-0.6,0l-0.1,-0.8l0.3,-1.3l-0.1,-1.5l0.1,-1.8l-0.4,-1.8l-0.6,-1.8l-0.8,-1.7l-0.7,-1.4l-1.2,-1.1l-0.9,-0.8l-0.8,-0.5l-0.4,-0.2l-0.7,0l-0.1,0.1l-0.1,0.4l-0.3,0.6l-0.9,0.5l-0.6,1.1l-0.1,1.6l0.7,1.3l1.4,1.2l2.3,0.6l1.7,-1.5l1.5,-1.8l1.1,-1.7l0.9,-1.9l0.5,-1.8l-0.2,-1.9l-0.2,-1.8l-0.4,-1.4l0.1,-2.1l-0.4,-1.7l-0.2,-1.3l-0.8,-1.1l-0.2,-0.6l0,-0.4l0.1,-0.1l0,0.3l0,0.6l0.2,1l-0.1,1.2l-0.4,1.6l-0.8,1.4l-1.4,0.3l-0.7,-0.1l-0.5,0.6l-0.7,0.2l-0.1,-0.2l-0.2,-0.2l0.5,-0.2l0.2,-0.3l0.6,-0.3l1.2,-0.5l1.4,-1l0.8,-0.8l0.8,-0.6l-0.2,-0.2l-0.4,-0.1l-0.8,-0.1l-1.2,-1.2l-1.2,-1.4l-0.9,-1.5l-0.7,-1.8l-1.3,-2l-0.6,-1.9l-0.6,-1.8l-0.2,-1.9l0.8,-1.7l1.3,-1.5l0.8,-1.3l0.8,-1.2l1.4,-0.8l1.1,-1.3l1.1,-0.9l1,-0.4l0,-0.5l0,-0.7l-0.4,-1l-1,-0.9l-1.1,-0.9l-1.1,-0.7l-0.8,-0.5l-0.9,-0.2l-1.1,0.2l-0.8,0.6l-1,1.3l-0.3,1.5l0.6,1.3l0.8,0.9l0.7,0.3l0.4,0l0.7,0.3l1,-0.1l1.6,-0.5l1.7,-0.9l1.6,-1.3" stroke="#e0302a"/>
<path d="M449.8,154.6l-0.7,-2.3l-1,-1.7l-0.4,-1l-0.7,-0.2l-0.6,0.2l-0.3,0.4l0,0.5l0.1,0.9l0.8,1.2l0.8,1.2l1.6,0.3l1.9,-0.1l1.5,-0.6l0.9,-0.9l1.1,-0.6l1.1,-1l1.1,-1.7l0.4,-1.1l0.3,-0.5l0.3,0l-0.1,0.3l-0.3,0.3l-1.2,-0.2l-1,-0.5l-1.4,-0.2l-0.7,-0.5l0.3,-0.5l-0.1,-0.5l0.2,-1l0.3,-1.1l0.8,-1.4l-0.2,-0.9l0,-0.4l0.2,-0.4l0,-0.2l0.3,-0.2l-0.7,-0.3l-1,-0.3l-1.3,-0.6l-0.9,-0.7l-1.3,-1.1l-1.2,-1.3l-0.7,-1.7l0.1,-1.7l0.1,-1.8l0.2,-1.9l0.5,-2.1l1.2,-1.6l1,-1.3l0.6,-0.8l0.6,-0.4l1,0l0.4,-0.1l0.5,0.2l1,-1.1l0.2,-1.3l0.9,-0.8l0.9,-0.3l0.9,0.9l1.2,0.6l1.4,1l0.9,1.3l0.5,1.4l-0.6,1.2l-1.6,0.5l-1.3,-0.1l-1.8,-0.9l-1.7,-1.4l-0.9,-2l-1.1,-2.2l-0.8,-2.3l-0.3,-2.3l0.5,-2.2l0.4,-2.7l1.5,-2.3l2.4,-1.4l2.3,-0.6l2.4,0.4l2.5,1.3l0.8,0.4l0.5,-0.5l0.3,-1l0,-1.6l-0.4,-1.8l-0.5,-1.9l-0.9,-1.8l-1.2,-1l-1.8,-0.2l-1.7,0.4l-1.4,0.9l-0.8,1.2l-0.5,1.7l-0.3,2.5l0.3,2.1l0.3,2l0.8,1.4l1.4,0.5l1.3,-0.1l1.6,-0.9l1.3,-1.5l0.4,-1.8l0.3,-2.2l-0.1,-2.5l-0.3,-2.8l-1.1,-2.9l-1.8,-2.6l-1.9,-1.9l-2.3,-1.2l-2.6,-1.3l-2,0.7l-1.4,0.8l-0.8,1l-1.1,0.8l-0.7,1l-0.4,0.9l0,0.7l0.3,0.5l0.4,0.2l0.3,-0.3l-0.3,-0.6l-0.9,-0.7l-0.5,0.1l0.5,-0.1l0.3,-0.2l0.3,-0.1l-0.1,-0.5l-0.5,-0.4l-0.5,-1.2l-0.3,-2.2" stroke="#e0302a"/>
<path d="M484,150.2l1.2,-1.7l1.5,-1.2l1.6,-0.5l1.7,0.3l0.5,0.7l0.2,1.1l0.2,1.4l0.2,1.6l-0.8,0.9l-0.7,0.3l-0.4,-0.2l-0.8,-0.4l-0.5,-0.8l-0.6,-1l-0.3,-1.2l0,-0.9l-0.9,0.4l-1.2,-0.1l-1.2,-0.5l0,-1.5l-0.3,-1.5l0.1,-1.8l0.2,-1.6l0.1,-1.4l-0.5,-1.7l-0.2,-1.1l-0.2,-0.7l-0.5,-0.3l-0.4,-0.1l-0.9,0.3l-0.3,0.7l-0.6,0.9l0.1,0.7l0.4,0.5l1,0.2l0.5,1l1.2,0.7l1.8,-0.1l2,-0.7l2.2,-1.5l1.4,-1.9l1,-2.2l0.1,-2.3l-0.5,-2.3l-0.1,-2.4l-0.7,-2.4l-1.5,-2l-2,-1.5l-1.6,-0.6l-1.7,-1.3l-1.4,-0.6l-1.4,0.5l-1.1,1.6l-0.9,2.7l-0.3,2.6l0.7,2.3l0.6,0.6l0.5,0l0.3,-0.7l0,-1.3l-0.2,-1.9l0.3,-2.2l0.5,-2.7l1,-3.1l1.5,-2.9l1.6,-2l1.4,-1.8l1.8,-1l1.7,-0.6l1.8,0.1l1.6,0.6l1.2,0.8l0.5,1.3l0.1,1.8l-0.5,2l-0.7,1.8l-0.7,1.3l-1.1,0.6l-1.1,-0.1l-1.4,-1l-1.3,-1.6l-0.8,-1.9l-0.4,-2l-0.2,-2l-0.8,-2.1l-0.2,-2l-0.2,-2.1l-0.1,-2l0.4,-1.7l0.5,-1.1l0.5,-0.8l1.1,-0.4l0.8,0.4l1.1,0.6l0.5,0.8l0.3,0.8l0.1,1l-0.4,0.8l-0.1,0.8l0,0.6l-0.4,0.4l-0.4,0.2l-0.7,-0.6l-0.5,-0.9l-1.1,-1.1l-0.7,-1.3l0,-1.3l-1.1,-1l-0.8,-1.5l-0.9,-2l-0.5,-1.5l-0.2,-0.5l-1,-0.2l-1,0.1l-0.8,0.4l-1.3,0.5l-0.9,1l0.5,1.1l0.7,0.9l1.2,0.4l1.2,-0.3l1,-1.7l0.8,-2l0.5,-2.3l0.3,-1.7l0.2,-0.8l0.1,-0.2l0.1,-0.2l0,0.1l0.8,-0.5" stroke="#e0302a"/>
<path d="M452,159.9l0.5,-1.5l0.2,-1l-0.1,-0.2l-0.1,0.3l-0.4,0.5l-1.1,0.5l-1.2,0.7l-0.8,0.5l-0.8,0.2l-1.4,-0.2l-1.4,-0.7l-0.8,-0.8l0.1,-0.4l-0.5,-0.8l-0.7,-1.2l-0.2,-1.8l-0.3,-2l-0.8,-2.5l0,-1.7l0.1,-1l0.3,-0.5l0.3,0l0.2,0.4l0.3,1l0.1,1l0.6,1.2l1.3,0.7l1.8,0.4l1.7,-0.2l0.5,-0.1l-0.4,-0.2l-0.8,-0.1l-1.2,-0.3l-0.7,-0.3l0.2,-0.4l0.7,-0.7l0.4,-0.9l0.2,-1.2l0.7,-1.8l0.5,-1.9l0,-2.9l-0.4,-2.9l-0.5,-3.2l-1,-1.5l-0.7,-0.5l-0.1,0.3l-0.4,0.8l-0.4,1.5l-0.5,1.7l-0.6,1.9l-0.9,1.6l-1.1,0.7l-2,0l-2.1,-0.6l-2.3,-1.3l-2.4,-2.2l-1.4,-2.8l-0.6,-3.2l-0.3,-3.6l0.7,-3.8l1.2,-3.1l1.3,-2.5l1.6,-2l1.8,-0.9l1.3,0l1.3,1.2l1.1,2.2l0.6,2.5l0.6,2.5l0.2,2.2l-0.7,1.7l-0.8,1.5l-0.8,0.6l-1.7,-1.1l-1.9,-0.7l-1.7,-1.4l-1.6,-2.3l-0.7,-2.9l-0.5,-3.4l0.5,-3.8l1.4,-3.7l2.1,-3l2.4,-1.8l2.9,-0.8l2.7,0.4l2.1,1.5l1.7,2.2l0.7,2.5l-0.1,2.1l-0.8,1.8l-0.8,0l-0.4,-0.6l-0.8,0.4l-0.4,0.3l-1.1,0.3l-0.8,-0.1l-1,-0.6l-0.1,-1.2l0.6,-1.1l0.9,-0.7l0.6,-0.2l0.8,0l0.8,0l1.3,0l-0.5,-1.1l-0.9,-1.1l-1.1,-0.4l-0.6,-1.4l-0.4,-1.6l-0.5,-1.8l-0.6,-1.8l0.2,-1.8l0,-1.7l0.3,-0.9l0.2,-0.3l0.3,-0.2l0.1,0.2l0,0.3l0.6,0.4l0.9,0.3l1.3,0.1l1.2,-0.2l1.8,-0.3l1.2,-0.2l0.8,-0.7l0.6,-1.3l0.4,-2l0,-2.3l-0.5,-2.6l-0.4,-1.4l-0.7,-1.6l-0.4,-1.7l-0.9,-2.2l-0.9,-2l-1.4,-1.6" stroke="#e0302a"/>
<path d="M382.7,153l1.2,-1l1.5,-0.4l1,0.2l1.1,0.7l0.3,1l-0.3,1.3l-0.2,1.5l-0.4,1.2l-0.5,1l-0.5,-0.1l-0.3,-0.6l0.2,-0.9l-0.1,-1.4l0.1,-1.6l0,-2.1l0,-2.2l-0.4,-2.4l-0.5,-2.2l-0.7,-1.7l-0.5,-1.2l-0.8,-0.7l-0.5,-0.3l-1,0.1l-1.1,0.5l-0.9,0.7l-0.4,1l0.1,1.4l0.7,1.4l1,1.1l1.1,1.1l1.4,0.4l1.8,0l1.7,-0.9l1.8,-1.8l1,-2.2l0.4,-2.5l0.2,-2.4l0.3,-2.2l-0.2,-2l-0.3,-1.7l-0.6,-1.3l-1.3,-1.1l-1.5,-0.6l-1.2,0l-0.7,0.4l0.2,0.1l0.4,-0.2l-0.1,-0.4l0.4,-0.6l-0.1,-0.5l-0.3,-1.3l0.3,-1l1.2,-0.6l1.1,0.1l0.4,0.4l0.5,0.8l0.5,0.4l0.4,-0.2l-0.2,-0.8l-0.5,-1.1l-0.8,-1.1l-0.8,-1l-0.5,-0.9l-0.4,-0.7l-0.3,-0.7l0,-0.9l-0.9,-1.5l-0.8,-0.7l-0.5,-0.1l-1,0.9l-0.9,1.3l0.3,1.5l0.7,2.1l1.5,1.2l1.3,1l1.5,0.2l1.7,-0.3l2,-1.1l1.4,-2.3l0.6,-2.4l0.4,-2.6l-0.1,-2.5l-0.5,-2.1l-0.7,-2.1l-1.1,-2.1l-1.8,-1.8l-1.2,-1.1l-0.6,-0.8l0.1,-0.7l0.9,-0.5l0.6,-0.3l0.5,-0.1l0,0.1l0.9,0.7l1,1.2l0.6,1.5l0.5,1.8l-0.4,1.6l-1.1,1.3l-2.4,0.3l-1.8,0.2l-2.2,-0.3l-2.3,-1l-2,-1.7l-1.7,-2.3l-0.7,-2.9l0.1,-2.5l0.8,-2l0.6,-1.7l0.9,-1.1l1,-1.2l1.1,-0.7l1.1,-0.4l1.5,0l0.9,0.5l0.9,0.9l0.1,1.4l-0.6,1.1l-1,0.8l-1,0.4l-1.2,0l-0.8,0.4l-1,-0.2l-0.8,-1l-0.9,-1.6l-0.8,-0.8l-0.5,-0.3l-0.3,0.3" stroke="#e0302a"/>
<path d="M438.7,156.8l0.1,1.3l-0.5,1.5l-0.9,1.6l-1.2,1.1l-1.7,0.5l-1.9,-0.1l-1.6,-0.7l-0.9,-1.3l-0.9,-1.9l-0.3,-2l-0.3,-2.4l0.2,-2.6l0.6,-2.2l0.9,-2l1.5,-1.4l1.1,-1l1.1,-0.6l1.3,-0.1l1.4,0.4l1.3,0.9l0.4,1l0.3,1.3l-0.1,1.1l-0.8,0.9l-1.1,0.5l-1.6,0.2l-1.7,-0.1l-1.5,-0.4l-1.4,-0.7l-1.6,-1.1l-0.7,-0.9l-0.2,-0.6l0.4,-0.2l-0.8,-0.6l-0.6,-0.8l-1.2,-0.4l-1.2,-0.8l-1.1,-1.3l-1.5,-1.7l-0.7,-2.2l-0.5,-2.6l0,-2.9l0.5,-2.6l1.5,-2.2l1.8,-1.5l1.8,-1l1,-0.6l0.2,-0.6l-0.4,-0.6l-0.6,-0.5l-0.5,-0.4l-0.8,0l-0.6,0.1l-0.7,0.6l-0.9,1.2l-0.5,0.3l0,-0.4l0.1,-1l0.3,-1.8l0,-1.9l0.5,-1.7l1.2,-1l1.1,-0.5l0.6,-0.1l0.3,0.1l0.8,0.5l0.4,0.7l0.6,1l0.8,1.1l0.9,1.5l0.1,1.6l0,1.4l-0.4,0.8l-1.2,0.3l-0.9,-0.3l-0.7,-0.8l-0.6,-1.4l-0.4,-1.7l0,-1.3l0.3,-0.9l0.4,-0.4l0.1,0.2l0.1,0.3l0.5,0.5l1.3,-0.4l0.8,0.4l1.3,0l1.7,-0.7l1.7,-1.5l1.2,-2l0.7,-2.9l-0.3,-2.4l-0.4,-2.1l-0.6,-1.7l-0.4,-1.5l-0.3,-1.2l-0.5,-0.7l-1.1,-0.3l-1.1,0l-0.9,0.2l-0.3,0.6l0.2,0.1l0.4,-0.2l0.6,-0.5l1,-0.1l0.7,-0.5l0,-0.8l-0.1,-0.9l0,-1l0.3,-1.1l0.4,-1.1l0.9,-1.1l0.5,-0.8l0.7,-0.6l1.1,-0.3l0.9,0l0.3,0.2l0.7,0.3l1.4,0.4l0.6,0.9l0.3,1l-0.4,0.9l-0.7,0.6l-1.2,0.1l-1.3,-0.4l-1.2,-0.6l-1.3,-1.1l-1.4,-1.4l-1.1,-1.8l-1.1,-2l-0.4,-1.4l-1.2,-0.5l-0.9,0l-0.3,0.0" stroke="#e0302a"/>
<path d="M403.6,164.9l-1.4,0.5l-1.7,-0.2l-1.4,-0.9l-0.7,-1.8l-0.2,-2.1l0.4,-2.5l0.8,-1.5l0.4,-1l0.1,-0.5l-0.3,-0.2l0.2,0.1l-0.2,0.2l-0.1,0.4l0.3,-0.4l0.3,-0.9l0,-1.2l0.4,-1.5l0.4,-1.8l0.6,-1.9l0.5,-0.9l-0.4,-0.6l-0.6,0.1l-0.8,0.3l-0.4,0.5l0,1l0.3,1.1l0.7,1.2l1,1.1l1.2,0.8l1.8,0.2l2.4,-0.6l1.9,-1.5l1.5,-2.1l1.2,-2.7l0.3,-3.1l-0.2,-3.5l-1.1,-3.1l-2.2,-1.9l-2,-1.2l-1.8,-0.6l-1.7,0.1l-1.2,0.4l-1.4,0.9l-0.4,0.4l-1,-0.9l-0.9,-1.3l-0.7,-1.9l-0.6,-1.2l-0.9,-0.5l-1.4,0.3l-1.2,0.6l-0.8,1.1l-0.1,1.7l1,1.2l0.7,0.9l0,1l0.1,0.1l-0.1,-0.6l-0.1,-1.3l0.1,-1.8l0,-2.5l1.6,-2.8l1.6,-2.2l0.6,-1.9l0.6,-1.1l0.2,-1.8l0.6,-0.2l1.1,0l0.9,0.2l1,0.5l0.9,0.5l0.7,0.7l0.5,0.7l1.1,0.8l0.4,0.7l-0.5,0.6l-0.9,0l-0.1,-0.4l0,-0.4l0.4,-0.6l0.1,-0.7l0.8,-0.3l0.7,-0.9l0.3,-1.3l-0.2,-2.1l-0.2,-2.2l0.1,-1.5l0.7,-0.8l0.4,-1l0.2,-1.4l0.2,-1.7l-0.2,-0.9l-0.4,-0.6l-0.4,-0.9l-1.1,-0.7l0,-1.6l-0.5,-1.6l-1,-1.4l-1.2,-1l-1.2,0.2l-1.7,0.6l-1.5,0.7l-1,0.9l-0.7,1.3l-0.2,1l0,0.9l0.5,0.5l0.5,-0.2l0.4,-0.6l-0.2,-0.2l-0.4,-0.4l-0.8,-1l-0.8,-1.2l-0.4,-1.8l0.3,-0.9l0.3,-0.4l-0.3,0.2l-0.3,0.6l0,0.8l0.6,0.8l0.5,0.9l0.3,0.6l1.1,0.5l1.3,-0.1l1.8,-0.7l2.2,-1.4l1.6,-2.2l1.5,-3l0.7,-3.6l-0.2,-3.4l-0.2,-3.1l-1.3,-2.8l-2.2,-2l-1.8,-1l-1.8,0l-1.2,0.6l-1.1,1.2l-0.7,1.5l-0.1,2l-0.1,1.8" stroke="#e0302a"/>
<path d="M383.3,153.7l-0.3,-0.7l0.1,-0.5l0,0l0.3,0.1l0.2,0.1l0.3,0.3l0.6,0.4l0.5,0.5l-0.2,0.5l-0.4,0.6l-0.3,0.7l0.3,1.2l-0.2,1.1l-0.2,0.8l-0.8,0.4l-1.2,-0.1l-1.6,-0.8l-1.3,-1.4l-1.3,-2.1l-0.8,-2.9l0,-3.4l0.4,-3.6l1.2,-3.4l0.4,-1.7l-0.1,-0.9l0,0.7l-0.3,0.8l0.3,0.2l0.6,-0.3l0.2,-0.6l-0.2,-1.8l0.1,-1.8l0.7,-1.9l1.5,-1.5l1.2,-0.9l1.5,-0.2l1.4,0.7l1.6,1.6l1.3,1.9l0.7,0.8l0.2,-0.2l-0.8,-0.5l-0.7,-1.3l-0.6,-1.4l-0.7,-1.3l-0.6,-1.1l-0.9,-0.9l-1.1,-0.6l-1.6,-0.3l-1.2,0.1l-0.6,0.3l-0.8,0.3l-0.4,0.3l-0.2,0.6l0.1,0.6l0.1,0.7l0.7,0.6l0.9,0.3l1.2,0l0.9,-0.4l0.8,-0.8l0.7,-1.3l0,-1.1l-0.1,-0.7l-0.2,-0.3l-0.3,-0.3l-0.7,-0.1l-0.4,-0.2l-0.6,-0.2l-0.6,-0.5l-0.8,-0.3l-1.2,-0.8l-0.7,-1.2l-0.6,-1.6l-0.7,-1.8l-0.4,-1.2l0,-0.5l-0.3,0.1l-0.2,0.7l0.1,0.7l0.5,0.7l0.7,0.4l0.9,-0.5l0.8,-0.8l1.1,-1.1l0.8,-1.3l0.6,-1.6l0.3,-1.2l0.2,-0.8l0.7,0.4l0.4,-0.2l0.5,-0.9l0.2,-0.1l0.6,-0.7l0.2,-1.6l0.4,-1.8l-0.3,-2l-0.3,-1.7l-0.7,-1.3l-0.8,-1.1l-1,-1.1l-0.4,-0.6l0.2,-0.4l0.3,-0.2l0.2,-0.2l1,-0.8l0.9,-0.1l0.6,0.5l-0.2,0.1l-0.2,-0.5l-0.2,-0.9l0,-1.3l-0.1,-1.6l-0.9,-1.7l-1,-1.5l-0.7,-0.7l-0.3,-0.4l0,-0.3l0.3,0l0,0l0.4,0.3l0.4,0.5l0.2,0.7l0.3,0.7l-0.2,1.2l-1.1,0.6l-1.4,0.3l-1.7,-0.1l-1.3,-0.4l-1.1,-0.6l0,0.4l0,0.2l0,0l0.3,0.2l0.7,0.1l0.9,-0.1l1.2,-0.5l1.5,-1l1.4,-1.6" stroke="#e0302a"/>
<path d="M518.9,157.1l-0.3,-1.7l-0.7,-1.4l-0.9,-1.1l-1.3,-0.5l-1.8,0.2l-1.2,0.7l-1.1,1.1l-0.9,1.2l-0.3,1.3l0.1,1.2l1,1.2l1.3,0.7l0.7,0l0,-0.4l-0.1,-0.6l-0.2,-1.5l-0.4,-1.4l-0.1,-1l0.1,-0.6l0.4,0l0.9,0.4l1.2,0.5l1.5,0.2l1.5,0.1l1.2,-1.2l0.5,-1.4l0.2,-1.7l0.4,-1.6l0.5,-2l0.6,-1.9l0.3,-1.8l0.4,-2l0.2,-1.9l-0.5,-2l-0.8,-1.9l-0.9,-1.2l-1.1,-0.6l-1,0.1l-1.4,0.5l-1.6,1l-0.6,1.2l-0.1,1.3l-0.5,1.5l-0.4,1.8l0.1,1.5l0.5,-0.2l0.4,-0.9l0.3,-1.4l0.4,-1.7l0.3,-2l-0.2,-2.1l0.3,-2l0,-2.4l-0.3,-2.5l-0.8,-2.1l-1.4,-1.6l-1.8,-1l-1.5,-0.5l-1.3,0.1l-0.6,0.5l-0.4,-0.2l0.3,-0.7l0.2,-0.9l0.3,-1.1l0.7,-1.2l0.8,-1.1l1.6,-0.8l1.6,-0.3l1.6,0.2l1.2,0.9l1,1.3l0.3,1.6l0,1.8l-0.6,1.9l-0.5,1.6l-1.3,0.6l-1.8,0l-1.6,-0.6l-1.2,-1.3l-0.4,-1.8l-0.8,-1.7l0.2,-2.6l0.5,-2.2l0.5,-2l1.1,-1.6l1,-1.3l1.5,-0.9l0.9,-0.5l1.2,-0.4l1.3,-0.3l1.2,-0.4l0.1,-0.2l-0.1,-0.2l-0.7,-0.1l-1.3,-0.9l-1.6,0l-1.2,0.7l-0.9,1.1l-0.3,1.8l0.6,1.6l1.1,1.4l1.4,0.7l1.8,0.3l1.9,-0.5l2,-1.3l1.7,-2.3l0,-2.6l0,-3.1l0,-3.5l-0.7,-3.8l-1.3,-3.1l-1.2,-1.7l-0.6,-0.8l-0.2,-0.3l0.6,0.3l0.7,1l0.3,1.6l-0.5,0.4l-0.2,-0.6l-0.5,-0.9l-1.1,-1.6l-1.4,-1.3l-1.2,-1.4l-1.5,-1.2l-0.9,-0.6l0.1,-0.4l0.7,-0.3l1.2,0l1.2,0.4l0.6,-0.2l0.7,-0.8l0.3,-1.4l-0.1,-1.7l-1.3,-1.5l-1,-1.2l-0.5,-0.5l-0.8,0.1l-1.2,0.7l-0.2,0.5l0,-0.1" stroke="#e0302a"/>
<path d="M504.9,162l0.3,-2.4l0.3,-2.2l-0.5,-2l-0.3,-1.7l-0.7,-1.3l-0.9,-0.9l-0.8,-0.6l-1.7,-0.3l-1.1,0l-0.9,0.6l-0.4,0.7l-0.3,0l0,-0.7l0.5,-1.2l0.8,-1.5l0.5,-1l-0.5,-0.4l-0.7,-0.2l-0.3,-0.1l-0.5,0.1l-0.9,0.5l-0.2,0.9l-0.1,0.9l0.3,1.2l1.1,1.3l1.7,0.8l1.5,0.4l2,-0.4l1.9,-1l2.2,-1.7l0.8,-2.1l0.1,-2.6l-0.2,-2.7l-0.9,-2.7l-1.2,-2.1l-1.5,-1.6l-1.6,-0.9l-1.9,-0.3l-1.6,0.3l-0.8,0.6l-0.9,1.1l-0.6,1l-0.3,1.1l0.1,1l0,1.3l1.1,1.4l1.8,1.2l1.5,-1.1l0.4,-1.1l0,-1.1l-0.6,0l-0.7,-0.8l-0.9,-1.1l-1.3,-1.3l-0.7,-2.1l-0.1,-2.4l-0.5,-2.5l0.3,-1.7l-0.7,-0.9l-0.7,-0.1l-0.7,0.5l0.3,0.8l1,0.9l0.9,0.8l1.1,0.5l0.6,0.7l1.1,0.2l1.1,-0.8l0.9,-1l0.8,-1l-0.2,-0.6l-0.6,-0.4l0.1,-0.7l0.8,-0.8l0.7,-1.1l0.7,-1.4l0.4,-1.5l0,-1.5l-0.3,-1.6l-0.6,-1.8l-0.5,-1.8l-0.8,-1.8l-0.9,-1.6l-1.2,-1l-0.9,-1.3l-0.3,-1.1l0.7,-1l0.6,-0.6l-0.1,-0.8l-0.5,-0.9l-1,-0.6l-1.8,-0.4l-2.1,-0.3l-1.8,0.5l-1.3,0.7l-1.2,1l-0.8,1.2l-0.7,1.3l0.1,1.2l0.5,1.1l1,1l1.3,0.6l1.7,0.4l1.9,-0.3l1.7,-1l1.5,-1.6l0.8,-2.1l1.7,-2.9l1.2,-3.3l-0.5,-2.5l-0.8,-1.8l-1.3,-1.1l-1.2,-0.4l-1,-0.9l-0.6,-0.5l-0.7,0l-0.3,0.4l-0.5,0.8l-0.1,1.1l0.6,1.3l1,0.9l0.7,0.9l1,0.5l1.3,0l1.9,-1.1l1.3,-1l0.9,-1.6l0.7,-2.3l0.1,-2.7l-0.2,-2.8l-1,-2.5l-1.8,-1.8l-2,-0.9l-1,-0.4l-0.1,-0.4l0.4,-0.6l0.8,-0.6l0.6,-0.7l0.5,-0.6" stroke="#e0302a"/>
<path d="M501,159.8l0,-1.3l0.1,-1.6l-0.6,-1.5l-0.9,-1.2l-1.1,-1l-0.8,-0.6l-0.8,-0.1l-1.2,0.2l-1,0.6l-0.7,0.9l-0.8,1.2l-0.3,1.3l-0.2,1l1.1,0.8l1.2,0l1.3,-0.4l1.4,-0.6l1.4,-1l1.3,-1.1l1.7,-0.9l1.3,-1.6l0.9,-2.2l0.4,-2.7l-0.5,-2.7l-1.3,-2.6l-1.7,-2.2l-1.3,-1.3l-0.7,-0.9l0,-0.8l-0.4,-0.7l0.1,-0.5l0.8,-0.2l0.6,0.1l0.7,0.4l0.4,0.9l0.3,1.5l0,1.5l-0.4,1.6l-0.5,1.3l-0.9,1l-1.1,0.7l-0.8,0.4l-0.8,-0.1l-0.3,-0.6l-0.3,-1l-0.6,-1.3l0.2,-1.8l0.2,-2.2l-0.1,-2.2l0.2,-1.6l0.1,-0.8l-0.2,-1l0,-1.2l-0.4,-1l0,-1.1l-0.4,-0.9l0.7,-0.8l1.2,-0.5l0.4,-0.3l0.1,0.1l-0.4,0.3l0.1,0.6l0,0.7l-0.5,0.6l-0.8,0.4l-0.9,0.2l-0.8,-0.2l-0.4,-0.5l-0.3,-0.4l-0.4,-1.1l-0.5,-1.7l-0.6,-2l-0.4,-2.5l0.4,-2.3l0.5,-2.1l1.1,-1.9l1.3,-1.3l0.7,-0.7l0,-0.6l0,-0.7l-0.1,-0.5l-0.3,-0.3l0.3,-0.4l0.1,-0.7l0.9,-0.9l1.1,0l0.9,0l0.6,0.2l0.8,0.3l0.5,0.7l0.3,1l0.8,1l0.2,1l-0.1,1l-0.2,1.2l-0.7,1l-1.1,0.4l-1.2,0l-0.8,-0.6l-1.4,-1l-1.6,-1.6l-1.2,-1.9l-1.3,-2l-0.7,-2.5l-0.3,-2.8l0.5,-2.8l1,-2.6l1,-1.7l1.8,-1l1.5,-0.1l1.6,0.4l1.2,0.2l0.8,-0.1l0.2,-0.7l-0.5,-1.1l-0.8,-1.3l-1.3,-1.1l-1.4,-0.9l-1.5,-0.6l-1.1,-0.1l-1.3,0.6l-1.5,0.4l-1.5,1.2l-1.4,1.9l-1,2.2l-0.6,1.1l-0.8,0.2l-1,-0.5l-1,-1.3l-0.9,-1.8l-0.3,-1.9l0.4,-2.6l0.8,-2.8l1.1,-2.6l1.1,-2.2l1.6,-0.9l0.7,-0.2l1,0.3l1.9,0.7l1.8,0.5l1.4,1.2l1,2l0.4,2.5l-0.1,2.1" stroke="#e0302a"/>
<path d="M490.7,156.5l-0.3,0.2l-0.2,-0.2l-0.2,-0.6l0,-0.8l0.8,-1.2l0.8,-1.1l1.3,-0.8l1.2,-0.5l1.5,-0.8l1.6,-0.2l2.1,0.5l1.5,1.1l0.9,1.6l0.7,2.2l0.1,2l-0.8,1.8l-1.7,1.2l-2.3,0.5l-2,-0.6l-1.7,-1.4l-0.9,-1.2l-0.6,-0.8l-0.2,-0.3l0.4,0.2l1,0.2l1.6,-0.2l1.3,-0.7l1.6,-1.4l1,-3l0.6,-3l0.3,-2.8l-0.2,-2.5l-0.9,-2.2l-1.3,-1.5l-1.6,-1.1l-1,-0.5l-0.5,-1.6l0,-1.3l0.3,-1.2l-0.3,0l-0.3,0.3l-0.8,-0.1l0.4,1.3l0.6,1.2l-0.4,1.1l-0.1,1.7l0.4,1.7l1.3,1.5l2,0.7l1.5,-0.3l1.7,-1.1l1.3,-1.7l1.5,-2.4l0.1,-2.7l0.1,-2.5l0,-2.7l-0.1,-2.3l-0.6,-2.1l-1.2,-1.6l-1.2,-1l-1.4,-0.6l-0.7,-1.2l0.2,-1l0.4,-0.7l0,-0.2l0.2,0.3l0.6,0.8l0.8,1.5l0.6,1.8l0.2,1.8l-0.1,1.9l-0.4,1.5l-0.9,1.2l-2.3,0.3l-1.7,-0.7l-0.6,-0.9l0,-1.1l0.7,-1.1l0.6,-1.5l0.7,-1.8l0.9,-1.7l0.6,-2.4l-0.6,-2.9l-0.6,-2.8l-1.1,-2.7l-0.7,-2.2l-1.8,-1.6l-1.9,-0.7l-1.8,0.2l-0.8,0.1l0.2,-0.1l0.7,-0.6l0.7,-0.8l0.8,-0.9l1.1,-0.7l1.4,-0.6l1.3,0.6l0.7,0.8l1,1.1l0.4,0.9l0.4,0.9l-0.2,0.7l0.2,0.6l0,0.6l-0.5,0.3l-0.6,0l-0.8,-0.4l-0.9,-0.8l-0.6,-1.1l-0.2,-1.4l-0.3,-1.5l0.1,-1.5l-0.2,-1.5l-0.1,-1.4l-0.8,-1.8l0.1,-1.8l-0.1,-1.3l0.3,-1l-0.1,-1l-0.2,-0.8l-0.5,-0.6l-0.7,-0.2l-1,0l-0.4,0.3l-0.4,0.5l-0.1,0.8l0.1,0l0.3,-0.4l0,-1l-0.2,-1.2l0,-1.6l0.3,-1.8l0.9,-1.5l1.1,-1.4l2.1,-1.1l2.1,-0.4l2,0.2l1.2,0.2l0.5,-0.2l0.1,-0.6l-0.5,-1l-0.9,-1.2l-1.4,-1.1l-1.8,-0.2" stroke="#e0302a"/>
<path d="M450.9,170.5l-0.3,-0.8l0.3,-0.5l0.5,-0.3l0.6,-0.2l0.7,-0.3l-0.3,-0.5l-0.1,-0.5l0.6,-0.8l0.9,-1l1,-1.5l1,-2l0.6,-2.3l0.6,-2.4l0.7,-2.5l0.2,-1.3l0.3,-0.5l0.6,-0.2l0.3,0l0.8,0.2l0.2,0.6l0.6,1.1l0.5,1.5l-0.6,1.2l-0.7,0.9l-0.9,0.3l-1,-0.2l-0.8,-0.5l-0.3,-0.6l0.5,-0.9l0.2,-1.1l0.4,-1.7l0.7,-2l0.5,-1.1l0,-0.5l-0.6,0l-0.9,0.5l-0.7,0.5l-1,0.2l-1.4,0.2l-1.6,-0.2l-1.6,-1l-0.4,-1l0.2,-0.8l0.8,-0.5l1.1,-0.5l1.7,-0.6l1.6,-0.3l1.4,-0.7l1.5,-1.2l0.7,-1.7l0.2,-0.9l-0.3,-0.4l0,-0.9l0.2,-1.4l0,-0.6l-0.2,-0.6l-0.4,0.2l-0.4,0.3l0.1,-0.4l0,-0.7l0,-0.8l0.2,-1.3l0.1,-1.7l0.5,-1.7l-0.2,-1.1l-0.2,-0.2l-0.1,0l-0.5,0.3l-0.7,0.5l-0.8,0.4l-1.1,0.2l-1.2,-0.4l-0.9,-0.9l-1,-1.3l-0.9,-1.7l-0.8,-2.1l-0.2,-1.3l0,-0.7l0.1,-0.3l0.4,-0.2l0.5,0.2l0.7,0.5l-0.1,0.4l0.5,0.3l0.6,-0.1l0.7,-0.5l1,-0.8l1.5,-1.2l1,-1.5l0.7,-1.8l0,-2.1l0.3,-2.2l-0.5,-2.2l-0.7,-2.2l-1.2,-1.8l-1.2,-1.2l-1.5,-0.7l-1.3,-0.2l-1,0.3l-0.5,0.6l-0.4,0.8l-0.1,0.9l-0.4,1.1l-0.2,1.5l0.3,1.5l0.9,1.2l1.4,0.7l1.8,0.2l1.8,-0.6l1.6,-1l1.4,-1.8l0.9,-2.4l0.7,-2.9l0.3,-2.7l-0.2,-2.8l-0.4,-2.3l-1.2,-2.1l-0.9,-1.4l-1.3,-1l-1.5,-0.4l-1.2,0.1l-1.5,0.5l-0.7,0.3l-0.1,-0.1l-0.2,-0.3l-0.2,-0.6l-0.2,-1l0.4,-1l0.7,-1l1.1,-0.3l1,-0.1l0.8,0l0.6,0.3l0.7,0.6l0.7,0.7l0.8,0.8" stroke="#e0302a"/>
<path d="M380.2,159.4l0.5,-1.3l0.4,-0.6l-0.1,-0.1l-0.1,0.2l0.1,0.6l0.2,0.8l0.1,1l0.3,1l0.7,0.9l0.7,1.3l1.3,0.8l1.1,-0.1l1.5,-0.8l1.7,-1.6l1.4,-2.5l1.2,-2.9l0,-3.5l-0.8,-3l-1.2,-2.7l-1.6,-1.6l-1.4,-0.7l-1.1,0l-1.2,0.3l-0.9,0.7l-1.1,0.5l-1.2,0.6l-0.8,1.2l0,1.4l0.5,1.6l1.3,1.2l0.7,0.1l-0.1,-0.3l0.3,-0.4l0.6,-0.2l1,-0.3l1.3,-0.7l1.4,-1.1l0.7,-0.9l0,-0.5l-0.2,-0.3l-0.5,-0.1l-0.8,-0.1l-0.8,-0.4l-1.1,-0.6l-1.1,-1.2l-0.5,-1.6l-0.5,-1.9l-0.6,-2.1l-0.4,-2.3l-0.1,-2.7l0.2,-2.3l0.4,-2.3l0.9,-1.8l0.6,-1l-0.1,-0.6l-0.2,-0.5l-0.7,-0.2l-0.8,0l-1.1,0.3l-0.7,0.6l-0.9,1.2l-0.4,1.6l-0.1,0.8l-0.1,0l0,-0.8l0.2,-1.4l0.3,-1.2l0.3,-1.5l0.6,-1.7l0.7,-1.8l0.8,-1.7l0.5,-0.9l-0.3,-0.6l-0.4,-0.5l-0.3,-1.4l0.4,-1.6l0.1,0.2l-0.1,0.3l-0.2,0.4l-0.2,0.7l-0.4,0.9l-0.1,0.8l-0.7,1.1l0,1.6l0.1,1.3l0.9,1.1l1,0.6l1.4,-0.2l1.5,-1.1l1.3,-2l0.9,-2.7l0,-3.4l-0.4,-3.3l-1.1,-3.1l-1.7,-2.6l-1.1,-1.3l-0.4,-0.7l0.2,-0.5l0.3,-0.3l1,0.1l0.9,0.5l0.9,1l0.4,1.4l0.2,1.3l-0.4,1.4l-0.8,1.2l-0.8,1l-1.2,0.3l-1.4,-0.2l-0.3,-0.6l0.3,-0.7l0.6,-0.6l1.2,-0.8l0.9,-0.9l0.7,-1.3l0.5,-1.5l0.5,-1.9l0.5,-2.1l0.1,-2l0.2,-1.9l-0.2,-2.1l-0.7,-1.8l-1.4,-1.3l-1.1,-0.7l-0.7,0l-0.7,0.6l-0.7,0.9l-0.3,1.2l0.3,1.2l1,1.2l1.1,0.7l1.1,0.4l0.9,0.1l0.9,0.9l1.3,0.3l1.4,-0.7l1.3,-1.6l0.3,-1.1l0,-0.5l-0.2,-1l0.1,-1.6l0.1,-2.1l0.1,-2.4l0.1,-2.8l-0.3,-2.8" stroke="#e0302a"/>
<path d="M435.9,172.7l-0.5,-0.2l-0.7,-0.8l-0.9,-1.4l-1,-2.1l-0.5,-2.3l-0.2,-2.4l-0.1,-2.4l0.3,-2.2l0.2,-1.4l0.4,-0.8l0.4,-0.4l-0.2,0l-0.8,0.1l-0.1,0.6l0,0.7l-0.1,0.7l0.3,0.5l0.2,0.4l0.2,0.3l0.3,0.2l0.8,0.2l0.7,-0.2l0.8,-0.4l0.9,-0.6l1.2,-0.4l0.7,-0.9l-0.2,-1.5l0,-1l-0.3,-0.6l-0.3,-0.5l-0.6,-0.3l-0.3,-0.4l-0.4,-0.5l-0.7,-0.7l-0.6,-0.8l-0.7,-0.6l-0.8,-1.2l-0.6,-1.1l-0.1,-0.7l0.1,-0.3l0.2,-0.3l0.2,0.1l0.1,0l0.4,0.1l-0.5,0.5l-0.3,0.1l-0.2,-0.6l-0.7,-1.2l-0.9,-0.9l-0.8,-0.2l0,0.1l-0.3,0.4l0,0.4l1.7,0.7l1.9,0.6l1.8,-0.1l2.3,-0.8l1.3,-2.9l0.8,-2.9l0.7,-2.9l0.7,-2.6l0,-2.4l0.2,-2.3l-0.3,-1.4l-0.2,-0.7l-0.2,-0.5l-0.1,0l0.2,0.5l-0.2,0.9l-0.3,1.1l-0.5,1.1l-0.6,1l-0.7,0.7l-0.4,-0.1l0,-0.5l-0.3,-0.8l-0.3,-1.2l0,-1.4l0,-1.6l0.4,-1.2l0,-1.6l0,-1.7l-0.2,-1.7l-0.2,-1.6l-0.6,-1.3l-0.4,-1l-0.3,-1.6l-0.5,-1.5l0.1,-1.2l0.5,-1.1l0.9,-0.7l0.8,-0.2l0.1,-0.5l0.8,0l0.9,0.6l0.6,1.2l0.5,1.7l0,2.2l-0.7,2l-1.2,1.9l-1.7,1.3l-2.2,0.5l-2.4,-0.2l-2,-1.1l-1.6,-2.1l-1,-3.2l0.2,-3.5l0.7,-3.2l0.9,-2.7l2,-1.9l2.5,-1l1.9,-0.4l2,0.1l1.9,0.7l1.2,0.8l0.6,0.8l0.6,0.9l-0.3,1.2l-0.8,1.1l-1.4,0.8l-1.5,0.2l-1.4,-0.3l-1.4,-0.8l-2,-1.3l-2,-1.3l-1.4,-1.9l-1,-2.3l-0.2,-2.9l-0.1,-2.9l0.2,-3l1.5,-2.1l1.8,-1.4l1.2,-0.6l0.7,-0.4l-0.3,-0.2l-1.3,-0.1l-1,0.3l-0.5,0l-0.4,-0.5l-0.4,-0.9l0.1,-1l0.3,-0.8l0.9,-0.6l0.6,-0.2l0.9,0.2l0.7,0.7l1,1l0.4,1.3l0.2,1.5l-0.4,1.7l-0.9,1.4" stroke="#e0302a"/>
<path d="M405.7,170.1l0.5,0.8l1.6,0.5l1.4,0l1.2,-0.4l0.9,-0.7l0.2,-0.7l-0.4,-0.9l-0.3,-1.3l-0.3,-1.4l-0.1,-1.6l-0.3,-1.7l0.3,-1.9l0.4,-1.9l0.7,-1.8l1.1,-1.7l1.4,-1.4l0.8,-1l0.9,-0.9l0.7,-0.3l1,0.2l1,0.7l0.4,0.9l0.2,1.4l-0.5,1.5l-0.9,1.4l-0.7,0.4l-0.3,-0.3l0.2,-0.7l0.1,-1.3l0,-1.7l-0.5,-1.9l0.1,-2l-0.8,-2.4l-1.1,-2.5l-1.7,-2.4l-2.4,-2l-1.9,-1l-1,-0.7l-0.5,-0.5l0,-0.4l0.4,-0.2l0.9,0l0.3,0.8l0.2,1l-0.3,0.4l0.1,-0.2l0,-0.6l-0.4,-0.9l-0.3,-1.1l-0.5,-1.1l-0.6,-1.1l-0.3,-0.7l0.3,-0.4l0.5,-0.3l0.3,-0.6l0.7,-0.6l0.2,-0.8l-0.5,-0.7l-0.5,-0.6l-0.6,-0.4l-1,-0.3l-0.9,0.1l-0.6,0.3l-0.2,0.7l-0.1,1l0,0.4l-0.4,0l0.6,-0.9l0.4,-1.3l0.6,-1.9l0.7,-2.3l1.6,-1.5l1.2,-1.1l1,-0.8l0.9,-0.3l0.7,0l0.7,0.3l0.4,0.7l-0.3,0.8l-0.1,0.8l0,0.7l-0.1,0.5l-0.5,0.2l-0.8,-0.2l-1,-0.6l-0.4,-0.9l-0.7,-1.2l-0.4,-1.3l-0.2,-1.4l-0.3,-1.6l0.3,-1.8l0.4,-1.2l1,-0.8l0.7,-1.4l0.5,-1.4l0.8,-0.8l1.2,-1.3l0.9,-0.8l1.1,0.5l0.5,0.9l-0.1,1l-0.7,1.1l-0.9,1.2l-1.2,0.9l-1.2,1.7l-1.7,1.2l-2.1,0.5l-2.5,-0.4l-2.2,-1.7l-2.2,-2.9l-1.1,-3.4l0.9,-2.2l0.7,-0.9l1,0l1.1,0.3l1.1,0.4l1.2,0.3l1.7,0.1l1.1,-0.2l1.1,-0.6l0.1,-0.7l-0.2,-0.7l0.4,-0.7l0.3,-0.7l0.3,-0.9l0,-1l-0.3,-1.2l-0.3,-1.3l-0.2,-0.8l-0.4,-0.6l-0.3,-0.3l-0.7,-0.2l-0.5,-0.2l-0.2,-0.1l-0.3,-0.1l0.2,-0.2l0.3,-0.3l0.1,-0.5l0.1,-0.6l0,-0.7l0.9,0.4l0.9,-0.4l1.3,-1.2l0.8,-2.1l0.4,-2.8l-0.8,-3.1l-0.9,-2.8l-1.2,-2.3l-1.9,-1.8l-1.7,-0.9l-1.7,-0.1" stroke="#e0302a"/>
<path d="M448.1,153.5l-0.9,-0.9l-0.4,-1.3l0.4,-1.1l1.1,-1l1.3,-0.5l1.2,-0.2l1,0.3l0.4,0.4l-0.5,0.3l-1.2,0.2l-1.5,-0.3" stroke="#e8604f"/>
<path d="M396.5,152.7l-1.1,0.3l-1.8,0l-1.8,-0.6l-1.3,-1l-0.5,-1.3l0.6,-1.3l1.5,-0.9l1.9,-0.6l0.6,-0.3l-0.1,-0.4l-0.4,-0.5" stroke="#f0a898"/>
<path d="M464.2,150.7l1.8,-0.3l1.3,0.3l0.4,0.4l-0.7,0.4l-1.2,-0.1l-1.2,-0.4l-1.1,-0.7l-0.5,-1l-0.1,-1l0.4,-1.0" stroke="#e8604f"/>
<path d="M482,151.1l-1.9,-0.4l-1.5,0l-0.8,0.3l-0.2,0.4l0.5,0.2l1.1,0l1.6,-0.5l1.5,-0.8l0.7,-1l0.2,-1l-0.7,-1.1l-1,-0.9l-1.5,-0.6l-1.4,-0.1" stroke="#f0a898"/>
<path d="M504,151.3l-1.7,-0.6l-0.5,-0.4l0,-0.3l0.4,-0.3l0.3,-0.3l0.6,-0.3l0.5,-0.2l0.8,-0.1l0.6,0.1l0,0.2l-0.4,0.2" stroke="#e8604f"/>
<path d="M477,154.9l1.5,-0.6l1,-1l0.3,-1.1l-0.3,-0.7l0.2,-0.5l0,-0.7l-0.1,-0.9l-1,-0.6l-1.6,-0.5l-1.5,-0.2l-0.9,0l-0.3,-0.2l0.1,-0.4l0.3,-0.4l0.2,-0.8l0.8,-0.8l0.2,-0.6" stroke="#e8604f"/>
<path d="M492.3,155l1.7,-0.7l1.1,-1l0.3,-1.3l-0.9,-1.2l-1.7,-0.9l-1.8,-0.5l-1.7,0l-0.9,0.4l0.2,0.4l0.8,0.2l1,-0.2l0.9,-0.5l1.1,-0.4l0.9,-0.8l0.6,-1.2l-0.2,-1.1l-1,-1l-1.8,-0.7" stroke="#f0a898"/>
<path d="M468.4,153.2l-1.1,0.2l0,0.5l0.9,0.3l1.5,-0.1l1.3,-0.5l0.6,-0.8l0.8,-1l0.1,-1.2l-1.5,-1l-1.8,-0.4l-1.6,-0.1" stroke="#f0a898"/>
<path d="M468.1,154.7l-0.7,0.3l-1.2,0l-1.2,-0.4l-0.7,-0.7l-0.5,-0.8l0,-0.9l0.3,-0.7l0.9,-0.7l0.9,-0.5l0.7,-0.3l-0.1,-0.4l-0.6,-0.4l-0.4,-0.4l-0.5,-0.4l-0.8,-0.2l-0.6,-0.2l-0.4,-0.1l0.3,-0.1l0.2,0.1l1,0l1.8,-0.2" stroke="#f0a898"/>
<path d="M503.7,156l-1.6,-0.1l-1.7,-0.6l-1.4,-1l-0.6,-1.2l0.4,-1.3l1.2,-0.9l1.3,-0.4l1,0.1l0.1,0.5l-0.7,0.4l-1.4,0.1l-1.4,-0.4l-1,-0.8l-0.4,-1.1l0.2,-1.0" stroke="#f0a898"/>
<path d="M489.4,156.3l1.6,-0.3l1.7,-1l0.6,-1.4l-0.6,-1.2l-1.7,-0.9l-1.8,-0.4l-0.7,-0.1l-0.4,-0.2l-0.1,-0.1l0.1,-0.4l0,-0.5l0.2,-0.7l0.4,-0.6l1.1,-0.7l1.6,-0.4l1.2,-0.1l1,0.2" stroke="#f0a898"/>
<path d="M474.2,156.6l-1.3,0l-1.1,-0.3l-0.2,-0.6l0.2,-0.6l0.6,-0.6l1,-0.4l1.2,-0.7l1,-1.1l0.4,-0.9l0.1,-0.9l-0.6,-1l-1.2,-0.7l-1.3,-0.5l-1.4,-0.2l-0.9,0.2l-0.4,0.4l0.1,0.4l0.5,0.3l1.5,0.2l2.1,-0.2l2.3,-0.9" stroke="#f0a898"/>
<path d="M402.4,154.1l1.5,-0.4l1.2,0.3l0.5,0.5l-0.6,0.5l-0.7,-0.1l-0.3,-0.3l0.2,-0.5l0.5,-0.5l0.5,-0.7l0.2,-0.9l0,-0.5l-0.1,-0.3l0.1,-0.2l-0.3,-0.1l-0.3,0l-0.8,-0.1l-1.2,-0.3l-1,-0.7l-0.6,-0.8l-0.5,-1.1l0.3,-1l1,-0.8l1.7,-0.6l1.4,-0.1" stroke="#e8604f"/>
<path d="M444.1,156.3l0.6,0.3l1.2,0l1.6,-0.2l1.7,-0.7l1.4,-1.2l0.2,-1.4l-1.2,-1.4l-1.9,-0.7l-1.5,-0.3l-1.3,0.1l-0.7,0.4l0,0.5l1.1,0.3l1.5,-0.2l0.1,-0.6l-0.3,-0.3l-0.4,-0.3l-0.7,-0.3l-1.1,-0.4l-1,-0.8l-0.2,-0.6l-0.2,-0.3l0.5,-0.3l0.9,-0.3" stroke="#e8604f"/>
<path d="M489.2,154.7l-1.7,-0.1l-1.3,0.3l-0.1,0.5l0.9,0.3l1.6,-0.1l1.5,-0.7l0.6,-1.1l0.7,-1.2l-0.5,-1.3l-1.2,-0.9l-1.7,-0.4l-1.6,0.1l-0.2,0.7l0.5,0.5l1.2,0.3l2,-0.3l1.4,-0.7l1,-1l0.8,-1.1l-0.3,-1.3l-1.4,-1l-1.8,-0.5l-1.9,0.1l-0.8,0l-0.1,-0.4" stroke="#f0a898"/>
<path d="M442.1,157.8l-0.6,-1.3l1,-1.3l1.7,-0.8l1.8,-0.2l0.8,0.5l-0.6,0.8l-1.7,0.3l-2.4,-0.1l-2.1,-0.8l-1.4,-1.3l0.2,-1.4l1.3,-1.2l1.8,-0.6l1.7,-0.1l1.2,0.2l0.1,0.3" stroke="#e8604f"/>
<path d="M388.7,157.1l0.9,-1.2l1.7,-0.7l1.4,-0.2l0.8,0.4l0,0.5l-0.7,0.3l-0.8,-0.1l-0.3,-0.4l0.3,-0.4l0.6,-0.6l0.7,-0.7l0.8,-0.9l0.5,-0.5l0.4,-0.3" stroke="#f0a898"/>
<path d="M406.3,157.5l0.3,0.4l1.2,0.2l1.8,-0.1l1.9,-0.6l1.4,-1l0.4,-1.3l-0.9,-1.4l-1.6,-0.9l-1.8,-0.4l-1.6,0l-0.5,-0.2l0,-0.4l0.2,-0.7l1.2,-0.8l1.4,-0.7l1.5,-0.5l1.6,-0.2l1.4,0.1l1.1,0.4l0.1,0.9l-1.2,0.7l-2.1,0.3" stroke="#e8604f"/>
<path d="M426.1,157l-0.5,0.5l0.7,0.4l1.4,0.1l1.6,-0.3l1.5,-0.8l0.8,-1.1l-0.1,-1.2l-0.7,-1.2l-2,-0.7l-2.2,-0.2l-1.4,0.2l-0.5,0.4l0.4,0.2l0.7,0.4l1.9,-0.1l2,-0.8l1,-0.9l-0.3,-0.8l-0.6,-0.3l-0.5,-0.2l-0.6,-0.2l-1.2,-0.1l-1.2,-0.3" stroke="#e8604f"/>
<path d="M507.1,157.3l-1,-0.9l-1.2,-0.5l-1.2,-0.3l-0.9,0l-0.6,0.2l-0.1,0.3l0.5,-0.1l0.6,-0.4l-0.1,-0.4l-0.5,-0.5l-0.7,-0.8l-0.4,-1.1" stroke="#e8604f"/>
<path d="M416.5,157.5l0.8,-1.1l1.7,-0.6l1.7,0l0.9,0.4l-0.3,0.4l-1,0.4l-2.2,0l-1,-0.6l-0.4,-0.7l-0.1,-0.6l-0.3,-0.8l0.1,-0.9l0.6,-0.8l0.3,-0.9l1.1,-0.7l1.6,-0.4l1.1,0l0.8,0.2l-0.3,0.2l-0.8,0.2" stroke="#f0a898"/>
<path d="M490.2,159.6l1.5,-0.8l0.5,-1.1l-0.2,-1.2l-0.6,-0.8l-0.1,-0.5l0.1,-0.4l-0.1,-0.2l0.6,-0.1l0.3,0l0,0.1l-0.3,0.2" stroke="#f0a898"/>
<path d="M427.9,158.2l0.5,0.5l-0.8,0.6l-1.8,0.2l-2.4,-0.4l-2.4,-1l-1.1,-1.4l0.5,-1.5l1.9,-1.3l2.4,-0.7l2.1,-0.3l1.5,0.3l0.8,0.4l0,0.7l-1.3,0.6l-1.9,0l-2.2,-0.5l-2.4,-0.8l-1.3,-1.4l0.6,-1.5l1.4,-1.1" stroke="#e8604f"/>
<path d="M417.9,159.7l-0.4,-0.2l-0.1,-0.4l0,-0.5l-0.1,-0.5l0.3,-0.9l0.1,-0.8l-0.2,-0.9l-0.2,-0.7l0,-0.4l-0.1,-0.3l0,-0.1l0.1,0l-0.3,0.1l-1,0.2l-1.3,-0.1l-1.4,-0.3l-1.6,-0.7l-1,-0.9l0.1,-1l0.7,-1l0.9,-0.8" stroke="#e8604f"/>
<path d="M455.2,159.7l-0.7,-1.1l0.1,-1.2l1.1,-1l1.3,-0.6l1.5,-0.2l0.3,-0.1l0.5,-0.3l0,-0.5l-0.2,-0.6l-0.8,-0.8l-0.2,-0.5" stroke="#f0a898"/>
<path d="M502.5,160.1l-1.5,0.1l-1.3,-0.4l-1.2,-0.9l-0.6,-1.2l0.3,-1.2l1.3,-1.1l1.8,-0.6l1.7,0l0.8,0.5l-0.2,0.4l-1.1,0.1" stroke="#f0a898"/>
<path d="M437.1,159.1l0.1,-1.2l-1.1,-0.8l-1.6,-0.5l-1,-0.1l-0.3,0.1l0.4,0.3l0.2,0.3l1.1,0.2l1.7,-0.3l1.7,-0.8l0.9,-1.3l-0.3,-1.4l-1.2,-1.1l-2.2,-0.7l-2.5,-0.1l-1.7,0.4l-0.5,0.6l0.6,0.6l1.9,0.3l2.4,-0.2l2.3,-0.8l1.4,-1.3l0.4,-1.7" stroke="#f0a898"/>
<path d="M496.9,158.7l-0.1,-0.3l0.1,-0.6l0.3,-0.6l0.5,-0.7l0.7,-0.6l1,-0.4l1.3,-0.2l1.3,0.1l0.9,0.4l0.4,0.5l-0.4,0.2l-1.2,0l-1.2,-0.3l-1.5,-0.8l-1.1,-1.1l-0.3,-1.2l0.4,-1.3l1.4,-1.1l2,-0.7l2,0l1.3,0.3l0.1,0.7l-1.4,0.5l-2.4,-0.1" stroke="#f0a898"/>
<path d="M459.6,158.6l1.3,-0.9l1.8,-0.5l1.3,-0.1l1,0.2l0.4,0.3l-0.4,0.3l-1.1,0.1l-1.3,-0.3l-0.5,-0.5l-0.2,-0.5l0.2,-0.4" stroke="#f0a898"/>
<path d="M428.8,158.1l1.2,-0.1l0.8,0.1l-0.1,0.3l-0.5,0.2l-0.6,0.2l-1.2,0l-1.5,-0.3l-1.7,-0.8l-1.1,-1.2l0.2,-1.5l1.1,-1.2l1.8,-0.8l1.6,-0.3" stroke="#f0a898"/>
<path d="M463.9,161.3l1.8,-0.8l0.9,-1.1l0.2,-1.1l-0.8,-1l-1.1,-0.8l-1.3,-0.4l-0.9,-0.3l-0.4,-0.3l0,-0.4l0.2,-0.5" stroke="#f0a898"/>
<path d="M515.3,161l1.5,0.1l1.5,-0.3l1.5,-0.8l0.9,-1.1l0.3,-0.8l0.3,-0.5l0.1,-0.2l0.1,-0.2l-0.3,-0.1l-0.3,0l-0.7,-0.2l-0.8,-0.3l-1,-0.4l-1.1,-0.6l-0.6,-0.9" stroke="#f0a898"/>
<path d="M403.8,161.6l-0.5,-1.2l-1.2,-1l-0.8,-0.6l-0.2,-0.4l-0.5,-0.4l-0.7,-0.4l-0.9,-0.3l-1.2,0.1l-0.7,0.3l0,0.4l0.8,0.4l1.8,0.1l2.1,-0.2" stroke="#f0a898"/>
<path d="M521.2,162.3l0,-1.1l0.7,-1.1l1.4,-0.9l1.8,-0.6l0.8,-0.3l0.1,-0.4l-0.4,-0.4l-0.7,-0.4l-1,-0.4l-1.2,-0.2l-1,-0.1l-0.6,0.1l0,-0.2l-0.1,-0.4l0.2,-0.7l0,-0.4l-0.3,-0.1l-0.1,0l-0.1,0.2l0.3,0.1l0.9,0l1.1,-0.3" stroke="#e8604f"/>
<path d="M452,160.2l-2.1,-0.4l-1.7,0.2l-0.8,0.6l0.6,0.5l1.5,0.4l2.1,-0.1l1.8,-0.7l1.4,-1.2l0.2,-1.5l-0.8,-1.5" stroke="#e8604f"/>
<path d="M518.1,163.1l-1.6,-0.1l-1.7,-0.5l-1.2,-1l-0.1,-1.2l1,-1.2l1.5,-1.1l2.3,-0.5l2,0l0.7,0l-0.1,-0.1l-0.5,-0.3l-0.4,-0.6l-0.5,-0.7l-0.7,-0.7l-0.8,-0.5l-1.1,-0.3l-1,-0.1l-0.8,0.1l-0.3,0.3l0.2,0.4l0.9,0l1.5,-0.2l1.2,-0.7" stroke="#e8604f"/>
<path d="M480.5,163.4l-1.8,-0.3l-1.5,-1.1l-0.3,-1.5l0.7,-1.4l1.4,-1l2.1,-0.5l1.9,0l0.9,0.6l0.1,0.7l-1.1,0.5l-1.9,0.1l-1.9,-0.7l-1.1,-1.1l-0.1,-1.3l0.8,-1.1l1,-0.6l0.7,-0.6l-0.3,-0.4l0.2,-0.5l0.4,-0.6" stroke="#f0a898"/>
<path d="M392.1,163.1l1.5,0.2l2.1,-0.4l1.6,-0.7l0.9,-1l0.3,-1l-0.7,-1l-1.5,-0.8l-1.7,-0.5l-1.9,0l-0.7,0.1l-0.3,-0.3l0.3,-0.5l0.6,-0.6l0.6,-0.7l0.8,-0.6l1,-0.5l1.3,-0.4l1,-0.1l0.8,0l0.4,0.1l0,-0.1l0,-0.3l0.2,-0.5l0.1,-0.7" stroke="#f0a898"/>
<path d="M520.9,163.1l0.3,-1.1l-0.6,-1.3l-1.6,-0.9l-2,-0.5l-1.8,0l-1.1,0.4l0.3,0.6l1.6,0.4l2.3,-0.1l2.4,-0.8l1.3,-1.2l0,-1.5l-1.5,-1.3l-2.2,-0.6l-2.1,0l-0.9,0.4l0.2,0.6l1.2,0.4l1.9,0.1l1,-0.4l0.3,-0.4l1,-0.5l0.7,-0.8l0,-0.5l-0.4,-0.2" stroke="#f0a898"/>
<path d="M464.3,164l1.8,-0.8l1.1,-1.2l-0.4,-1.3l-1.4,-1l-1.9,-0.6l-1.7,0l-0.6,0.3l0.2,0.5l0.9,0.3l1.7,-0.1l1.6,-0.5" stroke="#e8604f"/>
<path d="M490.8,163.8l-0.7,-1.2l0.2,-1.3l1.2,-1.1l0.7,-0.6l0.6,-0.4l0,-0.4l-0.4,-0.4l-0.8,-0.3l-1.1,-0.1l-0.7,0.3l0.2,0.3" stroke="#f0a898"/>
<path d="M503.9,162.6l-0.2,0.4l0.5,0.5l1.6,0.2l2,-0.3l2.1,-1l0.8,-0.8l0.4,-0.4l-0.7,-0.2l-0.9,-0.2l-1.3,-0.2l-1.2,-0.5l-0.6,-0.5l0,-0.5" stroke="#f0a898"/>
<path d="M441.2,164.7l0.7,0l0.5,-0.3l0.2,-0.4l-0.3,-0.5l-0.8,-0.7l-0.4,-0.9l0.1,-1l0.5,-1l1.1,-0.9l1.8,-0.7l2.1,-0.3l1.6,0.2l0.6,0.4l-0.6,0.3l-1.1,0l-0.4,-0.4l-0.6,-0.3l0.2,-0.4l0.7,-0.5" stroke="#e8604f"/>
<path d="M526.2,165.2l-1.8,0l-2,-0.4l-1.8,-1.1l-0.3,-1.5l0.8,-1.4l2.1,-1l2.3,-0.5l1.9,0.1l1.1,0.5l0.3,0.1l0.2,-0.2l0.3,-0.4l-0.1,-0.7l-0.3,-0.8l-0.8,-0.9l-1.3,-0.9l-1.5,-0.7l-1.4,-0.2" stroke="#e8604f"/>
<path d="M425.7,165.1l-1.6,0.1l-1.6,-0.4l-1.5,-0.8l-0.9,-1.1l0,-1.2l1.1,-1.1l1.7,-0.9l2,-0.2l0.8,-0.2l0.1,-0.3l-0.6,-0.5l-0.9,-0.6l-1,-0.6l-1.4,-0.4l-1.4,0l-1.3,0.1l-0.5,0.4l0.4,0.5l0.7,0l0.1,-0.3l-0.1,-0.4" stroke="#e8604f"/>
<path d="M411.4,165.2l1,0.2l1.6,-0.1l1.6,-0.6l1.6,-1.1l0.8,-1.6l-0.4,-1.5l-1.8,-1.2l-2.3,-0.5l-1.8,0.2l-0.3,0l0.1,-0.3l0.4,-0.6" stroke="#f0a898"/>
<path d="M441.7,165.8l-2,-0.5l-1.4,-1l-0.5,-1.1l0.6,-1.2l1.4,-1l1.9,-0.5l1.4,0l0.5,0.5l-0.7,0.5l-1.7,0.1l-1.8,-0.4l-1.7,-0.6l-1.2,-1.2l-0.5,-0.8l-0.1,-0.5l-0.3,-0.2l-0.2,0l0.2,0.2l0.5,0.2l1.2,0.1l1.9,-0.2l2.1,-0.6l1.8,-1l1.4,-1.1l0.3,-1.3" stroke="#e8604f"/>
<path d="M400.4,163.4l-1.1,0l-0.3,0.4l0.1,0.4l1.2,0.4l1.9,-0.1l2.2,-0.5l1.3,-1l0.5,-1.4l-0.5,-1.5l-1.7,-1.2l-2,-0.8" stroke="#e8604f"/>
<path d="M435,165.2l0.5,-1l1,-0.9l1.6,-0.6l1.4,-0.2l0.9,0l0.2,0.3l-0.7,0.3l-1.2,0.1l-1.5,-0.2l-1.1,-0.6l-0.7,-0.9l0,-0.9l0.3,-1l1,-0.8" stroke="#f0a898"/>
<path d="M408.8,166.8l-0.2,-0.4l0,-0.4l0.8,-0.4l0.8,-0.8l0.7,-0.9l0.4,-1l-0.4,-1l-1.1,-0.9l-1.7,-0.7l-1.8,-0.2l-1.4,0.3l-0.2,0.5l0.8,0.2l1.3,0.1" stroke="#f0a898"/>
<path d="M451.8,164.3l1.4,0.4l-0.2,0.7l-1.4,0.5l-2.2,0.1l-2.3,-0.5l-2,-1.2l-0.5,-1.7l1.4,-1.7l2.5,-1.1l3.1,-0.2l2.2,0.3l0.8,0.3l0.3,-0.2l0,-0.6" stroke="#e8604f"/>
<path d="M486.8,165.3l1.1,-1.1l1.6,-0.6l1.4,-0.3l0.3,-0.2l-0.1,-0.5l-0.6,-0.5l-1.1,-0.6l-1.3,-0.4l-1.2,-0.1l-0.8,0.2l-0.4,0.4l0.6,0.4l1.3,0.2l1.9,-0.3l1.7,-0.8l1.1,-1.1l0.4,-1.2l-0.5,-1.3" stroke="#f0a898"/>
<path d="M517.4,164.3l1.8,-0.1l1.2,0.2l0.2,0.4l-0.7,0.3l-0.4,-0.1l0.1,-0.3l0.4,-0.5l0.6,-0.8l0.2,-1l-0.3,-1.1l-0.8,-1l-0.4,-0.6l0.2,-0.4l0.3,-0.3l0.7,-0.2l0.4,-0.1l0.3,0.1l0,-0.2l-0.1,-0.6l-0.3,-0.7l-0.5,-0.8l-1.1,-0.6l-1.1,-0.4l-0.4,-0.3l0.2,-0.5" stroke="#e8604f"/>
<path d="M440.1,167.2l-1.2,-1.1l0,-1.4l0.9,-1.1l1.6,-0.8l1.8,-0.2l1.4,0.2l0.5,0.5l0.1,0l0.1,-0.2l0.1,-0.3" stroke="#f0a898"/>
<path d="M420.1,164.8l-1.4,0.4l0.5,0l0.5,-0.3l0,-0.5l0,-0.7l0.2,-0.9l0.7,-0.7l0.7,-0.6l1.2,-0.3l1,0.1l0,0.2" stroke="#f0a898"/>
<path d="M485.5,167.4l-0.7,-1.1l0.2,-0.7l0.4,-0.5l0.2,-0.4l-0.1,-0.5l0.1,-0.6l0.5,-0.7l0.9,-0.7l0.9,-0.7l1.1,-0.6l1.5,-0.2l1,0.3l0.1,0.4l-0.7,0.4l-1.9,0.2l-2.2,-0.4l-2,-1l-0.7,-1.1l0.4,-1.3l0.8,-1l1.3,-0.7l1.6,-0.4l1.4,0.2l0.3,0.4" stroke="#e8604f"/>
<path d="M496,166l0.3,0.4l-0.4,0.4l-1.6,0.2l-1.7,-0.3l-1.5,-0.6l-0.4,-0.6l-0.4,-0.8l-0.1,-0.9l0,-1l0.7,-0.8l1.1,-0.7l1.1,-0.4l1.1,0l0.4,0.3l-0.4,0.2l-1.1,0.1l-1.3,-0.3l-1.3,-0.7l-0.7,-1l0,-1.1l1,-0.9l1.7,-0.7" stroke="#f0a898"/>
<path d="M407.4,166.6l-1,-1l-1.6,-0.7l-1.5,-0.3l-1.1,-0.1l-0.8,0.1l-0.1,0.4l0.4,0.4l1.3,0.2l1.8,-0.2l1.9,-0.5l1.5,-1.2l0.5,-1.5l-0.8,-1.3l-1.5,-1l-1.4,-0.5l-1.7,-0.1l-0.6,0l0.2,-0.3" stroke="#e8604f"/>
<path d="M402.3,167.7l-0.7,0.1l-1,-0.1l-1,-0.5l-0.9,-0.6l-0.6,-0.8l-0.2,-0.8l0.6,-1l0.6,-0.9l0.3,-0.7l-0.4,-0.6l-0.8,-0.4l-1.1,-0.2l-1.3,0.1l-0.7,0.6l0.5,0.6l1.6,0.5l1.9,-0.2l2.1,-0.8l1.2,-1.3l-0.2,-1.4l-1.2,-1.2l-2.1,-0.7l-2,-0.2l-1.2,0.4l-0.2,0.5" stroke="#f0a898"/>
<path d="M460.6,168.1l1.1,0.2l1.5,0.1l2,-0.3l2,-0.7l0.8,-1.5l-0.4,-1.3l-1.2,-1.1l-1.6,-0.5l-1.6,0l-0.7,0.3l0.1,0.6l0.9,0.2l1.4,-0.2l1.5,-0.7l1.1,-1.1l-0.2,-1.1l-0.6,-0.7" stroke="#f0a898"/>
<path d="M446.4,167.6l1.1,-1.1l1.5,-0.9l1.6,-0.3l1,0.1l0.7,0.3l-0.4,0.4l-1.4,0.2l-1.6,-0.2l-0.9,-0.4l-0.2,-0.4l-0.4,-0.5l-0.4,-0.5l-0.5,-0.7l-0.4,-0.8l0.1,-0.9l0.5,-0.9l0.9,-0.8l1.3,-0.7l1.1,-0.4" stroke="#e8604f"/>
<path d="M409.7,168.6l-0.4,-1.3l0.5,-1.2l1.4,-1.1l1.9,-0.6l0.9,-0.3l-0.4,-0.2l-0.6,-0.3l-0.6,-0.3l-1,-0.5l-1.7,-0.4l-1.6,-0.2l-1.5,0.1l-0.6,0.3l0.1,0.5l1.1,0.4l1.6,0l1.6,-0.4l0.5,-0.6l0,-0.4l-0.2,-0.4l-0.5,-0.3l-0.8,-0.2l-1.3,-0.4l-1.9,-0.7l-1.5,-1.0" stroke="#f0a898"/>
<path d="M453.1,167.6l1.5,-0.5l1.7,-0.3l1.3,-0.4l1.1,-0.4l1.2,-0.2l0.9,0.3l0.3,0.4l-0.6,0.3l-1.2,0.3l-1.7,0l-2.4,-0.6l-1.5,-1.1l-0.8,-1.6l0.1,-1.2l0.1,-0.6l0.8,-1l1.5,-0.9l2.1,-0.6l1.3,-0.4l0.1,-0.4l-0.7,-0.3" stroke="#e8604f"/>
<path d="M418.5,167.8l1.6,-1l1.6,-0.4l0.4,-0.3l0,-0.3l-0.6,-0.5l-0.7,-0.4l-1.2,-0.4l-1,0l-0.7,0.2l-0.2,0.5l0,-0.1l-0.1,-0.6l-0.3,-0.9l0.4,-1.2l1.2,-1.2l1.8,-0.8l2.1,-0.3l1.9,0.2l0.8,0.2l0.1,-0.2l0,-0.4l-0.2,-0.7l-0.6,-0.7l-0.9,-0.8l-0.5,-0.5" stroke="#f0a898"/>
<path d="M477.3,170.6l-0.2,-0.4l-0.1,-0.3l0.7,-0.3l-0.1,-0.3l-0.4,-0.3l-0.7,-0.5l-0.3,-0.5l0.4,-0.2l0.9,-0.2l1.1,-0.4l1.5,-0.6l0.9,-0.9l0.2,-1.2l-0.3,-0.7l-0.3,-0.4l0,-0.2l0,-0.1l-0.2,0l-0.8,0l-1.1,-0.2l-1.1,-0.3l-1.2,-0.6l-1.1,-0.8" stroke="#f0a898"/>
<path d="M477,168.2l1.6,-0.1l1.1,0.2l0.3,0.5l-0.7,0.4l-1.4,0l-1.7,-0.7l-0.8,-0.9l-0.3,-1l0.6,-0.9l1,-0.8l1.4,-0.3l1,-0.1l0.4,0l0.1,-0.2l-0.1,-0.3l0.1,-0.5l0,-0.5l0.3,-0.4l0.4,-0.5l0.2,-0.5l-0.2,-0.5l0.2,-0.5" stroke="#f0a898"/>
<path d="M535,170.7l0,-1.2l-0.5,-1.2l-1.3,-0.9l-1.7,-0.6l-1.1,-0.4l-0.4,-0.5l-0.2,-0.5l0.5,-0.6l0.9,-0.7l1.4,-0.4l1.4,-0.2l1,0.2l0,0.4l0,0.5l-0.7,0.5l-1.8,0.2l-2.2,-0.2l-2.2,-0.8l-1.6,-1.4" stroke="#f0a898"/>
<path d="M433.1,171l-0.9,-1.1l-0.1,-1.2l0.7,-1l1.5,-0.8l1.5,-0.4l1.4,-0.1l0.7,0.3l-0.1,0.4l-0.8,0.3l-1.4,0l-1.3,-0.4l-1.4,-0.7l-0.8,-0.9l-0.4,-1l0.4,-1.2l1.1,-0.8l1.4,-0.6l1.2,-0.2l0.9,0.1l0,0.3" stroke="#e8604f"/>
<path d="M433.8,171.5l-1.8,0l-1.8,-0.5l-1.2,-0.8l-0.7,-1.2l0.2,-1.3l1.5,-1.3l1,-0.6l0.6,-0.6l-0.2,-0.4l-0.5,-0.4l-1.2,-0.1l-1.2,0.2l-0.4,0.6" stroke="#f0a898"/>
<path d="M461.5,171.4l-0.8,-1.1l0,-1.3l0.1,-0.7l-0.2,-0.4l-0.3,-0.2l-0.2,0l-0.2,0.1l0.4,0.1l0.9,0.1l1.3,-0.1l1.6,-0.4l1.4,-0.7l0.9,-0.9l0.4,-0.8l0.1,-0.5l0.1,-0.3l0.1,-0.1" stroke="#e8604f"/>
<path d="M479.4,148.4l-0.6,1.5l-0.1,1.6l0.3,1.1l0.9,0.8l0.9,0.4l0.9,-0.2l1.3,-0.7l0.5,-0.9l-0.6,-0.6l-0.8,-0.4l-0.4,-0.3l-0.5,-0.4l-1.1,-0.5l-1.4,-0.5l-1.3,-1.2l-0.8,-1.9l-0.8,-2.3l0.2,-2.3l0.3,-2.2l0.6,-1.8l1,-1.5l0.8,-1l0.7,-0.7l0.5,-0.4l0.4,-0.1l0.3,0.2l0.2,0.3l0.4,0.5l0.2,0.5l-0.3,0.6l0.8,1.3l-0.3,1l-0.8,0.8l-1.1,0.2l-0.7,-0.6l-0.9,-1.4l-0.1,-2.3l0,-2.4l0,-2.3l1.1,-2l1.1,-1.6l1.1,-1.2l0.8,-0.9l1.4,-0.5l0.7,-0.3l0.1,-0.4l-0.1,-0.4l-0.2,-0.4l-0.3,-0.5l0,-0.5l-0.1,-0.4l0.1,-0.4l-0.4,-0.7l-0.4,-0.4l-0.7,-0.1l-0.5,0.2l0.2,0.4l0.3,0.6l0.2,0.8l0.7,0.6l1,0.5l1.1,0.6l1.1,0.2l-0.1,-0.1l-0.6,-0.4l-0.8,-0.7l-1.2,-1l-1.1,-1.7l-0.4,-2.3l0.1,-2.7l0.2,-2.8l1,-2.2l0.6,-1.7l0.2,-1.5l0.4,-0.9l0.4,-0.4l0.5,0.2l0.7,0.8l0.8,0.6l0.4,1.4l-0.7,1.6l-0.8,0.9l-0.3,1l-0.6,1.2l-1.4,0.8l-1,0.2l0.2,-0.1l0.7,-1l0.9,-1l1.4,-1.1l0.9,-1.2l1.5,-1.7l1.2,-2.1l0.2,-1.4l0.4,-0.8l-0.5,-0.2l-0.8,0.1l-1.6,0.5l-1.2,0.3l-1.3,0.1l-0.9,-0.3l-0.7,-0.5l-0.8,-1.1l-0.6,-1.4l-0.4,-1.7l-0.2,-2.2l0.8,-2.4l1.1,-2.6l0.8,-2.5l1.6,-2l1.8,-1.5l0.9,-0.9l0.7,0.1l0.9,0.6l0.4,0.8l-0.5,1l-0.3,1.2l-0.2,1.1l-0.5,1l-0.9,0.7l-0.9,0.3" stroke="#e0302a"/>
<path d="M435.7,152.4l-1.7,0.3l-2.4,-0.2l-2.1,-0.8l-1.4,-1l-0.5,-1.4l0.8,-1.4l2.2,-1l2.7,-0.2l1.7,0.3l0.5,0.5l-0.3,0.4l-1,0.3l-1.6,-0.2l-1.8,-0.4l-1.4,-0.9l-0.9,-1l0,-1.2l1.1,-1.2l2.2,-0.9l2.6,-0.3l1.5,0.4l0.1,0l-0.2,-0.3l-0.5,-0.6l-0.7,-0.6l-0.7,-0.6l-0.1,-0.4l-0.6,-0.5l-1.2,-0.4l-0.2,-0.3l0.1,-0.5l0.6,-0.4l0.8,-0.3l0.9,-0.3l0.7,0l0.9,0.1l0.1,0.4l-1.1,0.4l-2.1,0.2l-2.2,-0.5l-1.9,-1.3l0.6,-1.1l0.7,-0.5l0.4,-0.3l0.7,0.0" stroke="#2c3c9e" stroke-width="1.2"/>
<path d="M481.3,146.4l-0.3,-0.2l-0.1,-0.7l0.2,-0.8l0.3,-0.7l-0.1,-0.8l-0.8,-0.5l-0.3,-0.3l-0.5,0.1l-0.3,-0.1l-0.3,0.1l-0.5,0.5l0,0.7l-0.1,0.9l-0.3,1l0.2,0.8l0.1,0l0.4,-0.3l-0.1,-0.7l-0.3,-0.8l-1,-1.2l-1,-1.2l-0.9,-1.7l0.1,-2l0.5,-1.7l0.6,-1.3l0.5,-1.5l0.5,-1.3l0.3,-1l0.9,-0.7l1.4,-0.1l0.8,0.2l0.7,0.7l0.7,1l0.4,1l-0.3,1l-1,0.8l-1.6,0.5l-1.3,0.3l-1.5,-0.2l-1.5,-0.7l-1.3,-0.7l-0.5,-0.7l-0.1,-0.8l0.4,-0.4l0.5,0.7l0.9,0.6l1.5,0.5l1.6,0l1.8,-0.7l1.5,-1.5l1.3,-2.4l1.1,-1.7l0.5,-0.9l-0.1,0.1l-0.4,0.8l-1,0.9l-1.9,1l-2.4,0.5l-2.2,-0.2l-2,-0.8l-1.9,-1.5l-1.3,-2.1l-0.8,-3.4l-0.5,-3.5l0.3,-3.5l0.6,-3.2l1.2,-2.8l1.2,-1.7l1.3,-1l1.3,-0.3l1.8,0.5l1.3,1.1l0.1,1.8l0.6,1.9l0.4,2.2l-0.5,2l-1.2,1.6l-1.8,1.1l-2.1,0.1l-2.4,-0.9l-2.1,-1.6l-0.9,-1.5l-0.7,-0.7l0.2,-0.3l0.5,-1.5l0.2,-1.5l-0.2,-1.8l0,-1.9l0.2,-2.1l0.4,-2.1l0.2,-2.1l-0.3,-2.6l1,-2.5l1.6,-1.9l1.8,-0.1l1.5,0.5l0.8,0.9l0.5,1.3l0.8,1.6l0.2,0.7l-0.1,-0.2l0.2,0.2l0.7,-0.4l0.1,-0.7l0.2,-1l0.5,-1.5l0.4,-1.7l0.2,-1.1l-0.1,-0.7l0,-0.1l-0.4,-0.4l-0.2,-1l-0.4,-1.3l-0.4,-1.6l-0.6,-1.7l-1,-1.3l-0.6,-1l-1.3,-0.7l-1.1,-0.2l-0.9,-0.2l-0.2,-0.5l0.2,-0.7l1,-0.8l1.4,-0.6" stroke="#e0302a"/>
<path d="M420.6,158.6l-1.8,0.4l-1.5,-1.3l-1.1,-1.2l-0.2,-0.9l0.1,0.5l0.5,0.2l0.8,-0.4l0.5,-0.4l-0.1,-1.3l-0.1,-0.2l-0.8,-0.3l-1,-0.3l-1.1,-0.6l-0.9,-0.8l-0.9,-1.2l-1.1,-1.6l-0.9,-2.1l-0.9,-2.3l-0.1,-1.7l-0.7,-0.8l-0.2,-0.3l-0.2,0.1l-0.4,-0.5l-0.4,-1.3l-0.3,-1.6l-0.6,-0.9l0,-0.5l0,0.4l-0.1,0.6l0.4,1.2l0.9,1.3l0.8,1l1,0.6l1.5,0.1l2.2,-0.5l2.2,-1.2l1.5,-1.8l0.8,-2.7l0.2,-2.8l0,-3.2l-0.7,-2.5l-0.6,-2l-0.9,-1.4l-1.4,-0.9l-1.7,-0.6l-1.6,-0.2l-1.3,0.2l-0.2,0.5l-0.3,0l0,-0.2l0.2,-0.6l0.5,-0.7l0.8,-0.9l0.5,-0.9l0.9,-0.9l0.8,-0.8l1.1,-0.7l0.7,-0.4l1,-0.3l0.7,0.2l0.5,0.3l-0.3,0l0.2,0.3l0.3,0.7l-0.1,0.5l-0.3,0.6l-0.4,0.4l0,0.1l-0.3,0l-0.4,0.2l-0.6,-0.2l-0.9,-0.7l-0.1,-1l0,-0.2l0.4,0l0.9,0.1l1.3,0.1l1.2,0.1l1.1,0l1.4,-1.1l0.9,-1.3l1,-1.5l0.9,-1.8l0.8,-1.8l0.5,-2l0.5,-1.9l-0.4,-2.2l-0.5,-2.3l-1,-2.3l-1.1,-1.9l-1.5,-1.3l-1.8,0.3l-1.6,-0.2l-1.3,0.4l-1.1,1.1l-1.1,1.7l0.1,2l0.7,1.3l0.6,0.8l0.9,0.5l1.6,0l0.9,-0.6l-0.4,-0.9l-0.2,-0.6l-0.6,-0.5l-1.6,-0.5l-1.6,-0.5l-1.6,0.2l-1.4,-0.3l-1.3,-0.9l-1.6,-1.3l-1,-1.7l-0.7,-1.9l-1.1,-2.6l-0.7,-2.6l-0.5,-2.8l1,-2.3l1.1,-1.6l1.7,-1.1l1.2,-0.5l1,0l1.3,0.3l1.4,0.5l1.3,0.8" stroke="#e0302a"/>
<path d="M464.8,151l-1.1,0l-0.1,0.1l0.4,-0.1l0.4,-0.4l0,-0.5l0.6,-0.7l0.8,-0.6l1,-0.5l1,-0.4l1,-0.2l0.6,-0.2l0.6,0l0.3,0.2l0,-0.1l-0.1,-0.4l0.2,-0.4l0.6,-0.5l0.7,-0.7l0.4,-0.8l-0.2,-0.6l0.2,-0.2l0.1,-0.1l0,-0.1l0,-0.2l-0.3,0l-0.4,0l-0.9,-0.1l-1.6,-0.2l-1.8,-0.7l-1.7,-1l-0.7,-1.2l0.2,-1.3l1.2,-1.1l1.6,-0.7l2,-0.4l1.9,0.1l1.1,0.4l0.3,0.5l-0.6,0.5l-2,0.1l-2,-0.4l-1.7,-0.7l-1,-0.9l-0.2,-1.1l0.7,-1.1l0.7,-0.7l-0.3,-0.4l-0.7,-0.3l-0.8,-0.1l-0.4,0.3l0.6,0.5l1.2,0.4l2.1,0l2.7,-0.5l2.2,-1.2l1,-1.7l-0.9,-1.6l-2.5,-1.3" stroke="#2c3c9e" stroke-width="1.2"/>
<path d="M406.7,153.8l-1.7,-0.1l-1.7,-0.6l-0.8,-0.8l0,-0.5l0.6,-0.2l0.8,-0.2l1.5,-0.1l1.8,-0.3l1.7,-0.5l1.8,-0.7l1.2,-1l0,-1.3l-1,-1.1l-0.7,-0.7l-0.3,-0.5l0.1,-0.3l0.4,-0.3l0.9,-0.1l0.5,0.1l0.4,0.1l-0.4,0.2l-0.6,0.1l-0.1,-0.1l0.3,-0.4l0.5,-0.5l0.5,-0.9l0.4,-0.9l-0.1,-1.1l-1.2,-1.3l-2.1,-1.1l-1.7,-0.5l-0.4,-0.5l0.9,-0.3l-0.1,-0.5l-1.3,-0.3l-1.5,-0.3l-1.6,0l-1.5,0.2l-0.7,0.7l0.4,0.8l1.8,0.6l2.7,0.1l3.2,-0.6l2.5,-1.4l0.8,-1.9l-1.6,-1.7l-2.9,-1l-2.8,-0.2l-0.8,-0.1l-0.2,-0.3l0.6,-0.5l1.2,-0.5" stroke="#2c3c9e" stroke-width="1.2"/>
<path d="M506.9,151.4l2.1,-0.1l1.6,0.3l0.3,0.5l-1,0.5l-2.1,0.1l-2.4,-0.6l-1.6,-1.2l0.5,-1.5l1.6,-1l1.9,-0.5l1.7,-0.1l0.9,0.2l0.6,0.2l-0.6,0.4l-1.4,0.3l-2,-0.2l-0.9,-0.3l0.4,-0.5l1.1,-0.5l2,-0.4l1.9,-0.9l1.3,-1.2l0,-1.3l-0.8,-1.1l-0.6,-0.7l0.3,-0.3l0.7,-0.1l0.8,0.1l0.1,0.2l-0.4,0.3l-0.9,0.2l-0.2,-0.3l0.4,-0.5l0.6,-0.7l0.5,-1.1l0.2,-1l-0.2,-1l-1,-0.9l-1.7,-0.8l-2.2,-0.3l-1.7,0.2l-0.8,0.4l0,0.5l1.1,0.5l2.2,0.2l2.8,-0.2l2.2,-0.8l1.1,-0.7l0.3,-0.5l0.6,-0.8l0.3,-0.8l0.1,-1l-0.8,-0.9" stroke="#2c3c9e" stroke-width="1.2"/>
<path d="M385.4,153l0,-2.4l0.6,-2.1l1.1,-1.9l1.4,-1.5l1.5,-1.1l0.7,-0.6l0.4,-0.8l0.2,-0.7l-0.3,-1l-0.7,-0.7l-1.3,-0.3l-1.6,0.3l-1,1.1l-0.8,1.7l-0.2,1.9l-0.2,1.8l0.3,1.4l0.5,1l0.6,0.6l1.4,0.4l1.8,-0.1l2.1,-0.8l2,-1.5l2,-2.2l1.7,-2.7l1.2,-3.1l0.2,-3.2l0,-2.8l-0.7,-2.3l-0.9,-1.7l-1.3,-1.4l-1.3,-0.7l-1.6,0l-1.1,0.7l-0.5,1.1l-0.4,1.7l-0.2,2.3l0.3,2l1.1,1.7l1.3,1.4l1.4,0.9l1.1,0.4l1.3,-0.1l1,-0.7l1.4,-1.4l1.3,-2l1,-2.4l0.5,-2.9l0.4,-3.5l0.1,-3.7l-0.9,-3.3l-1.2,-2.8l-1.7,-1.8l-1.5,-0.9l-1,-0.5l-0.2,-0.5l0,-0.6l1.4,-0.5l1.3,-0.1l1.9,0.4l1.1,1.1l1.7,1.9l1.3,2.4l0,2.6l-0.7,2.4l-1.1,2l-1.7,1.5l-2.1,0.8l-2.7,-1.5l-1.7,-2.1l-1.1,-2.6l-1.3,-3l-0.6,-2.8l0.2,-2.6l0.9,-2l1.3,-1.5l1.4,-0.9l1,-0.6l1.2,-0.2l0.4,-0.3l0.6,-0.3l-0.1,-0.5l0.1,-1.8l-1.2,-1.6l-1.7,-1.3l-1.2,-0.8l-1.4,-0.3l-1.7,0.3l-1.2,1.6l-1.1,1.3l-0.9,1.1l0.2,0.9l0.5,0.5l0.3,0.4l0.6,0.1l0.5,-0.2l0.7,-0.4l0.9,-0.7l0.7,-0.9l0.7,-1.2l0.8,-1.3l0.4,-1.4l-0.2,-1.5l-0.1,-1.5l0,-1.5l-0.7,-1.5l-0.8,-1.4l-0.3,-1.1l-0.5,-0.8l-0.8,-0.6l-1.3,-1.4l-1.4,-0.7l-1.2,-0.6l0.2,-1l0.7,-1.2l1,-1.3l1.2,-1.2l1.6,-1.4l1.8,-1.1l1.5,-0.4l1.8,0.2l0.9,0.7l1.1,1.8l0.6,2.4l-0.7,1.2l-0.4,1l-1.4,1.1l-1.5,0.6" stroke="#e0302a"/>
<path d="M485.4,153l0.1,0.5l-1.1,0.4l-2.3,-0.2l-2.2,-0.7l-1.4,-1l-0.3,-0.7l-0.1,-0.4l-0.1,-0.2l0.4,-0.1l0.3,-0.5l0.3,-0.3l0.7,-0.2l0.8,-0.1l1.2,-0.3l1.1,-0.4l1.1,-0.6l0.9,-0.6l0.3,-0.8l0.2,-1l-0.6,-0.9l-1.3,-0.8l-1.5,-0.6l-1.4,-0.2l-0.9,0.1l-0.5,0.4l0.9,0.3l1.7,0l1.7,-0.4l1.5,-0.8l0.6,-1.1l-0.7,-1.2l-0.9,-0.8l-1.6,-0.5l-1.3,0l-0.8,0.2l0.4,0.3l1.1,0.1l1.6,-0.1l1.6,-0.4l1.8,-0.5l1.5,-0.8l1,-1.2l-0.4,-1.4l-1.5,-1.1l-2.6,-0.5l-2.5,0.3l-1,0.7l0.6,0.6l1.6,0.3l2,-0.2l1.9,-0.7l1.2,-1.1l0,-0.8l0.3,-0.9l-0.3,-0.9" stroke="#2c3c9e" stroke-width="1.2"/>
<path d="M432.8,151.9l-2,-0.4l-1.8,0l-1,0.3l0.1,0.6l1.5,0.3l2.1,0l2,-0.5l1.7,-0.9l0.8,-1.2l-0.4,-1.2l-0.5,-0.7l-0.1,-0.5l0,-0.3l0.4,-0.2l0.3,-0.1l0.1,0.2l-0.7,0.1l-0.9,0l-1,-0.3l-1.1,-0.4l-0.7,-0.5l-0.4,-0.8l0.3,-0.9l0.6,-0.8l1.1,-0.7l1.3,-0.6l1.6,-0.4l1.8,-0.1l1,0.2l-0.1,0.5l-1.3,0.2l-1.8,-0.4l-1.5,-1l-0.5,-1.3l0.5,-1l0.4,-0.6l0,-0.5l-0.2,-0.3l0.5,-0.5l0.4,-0.8l1.2,-0.8l0.2,-0.5l-0.8,-0.4l-0.9,0l-1,0.2l-0.8,0.4l-0.1,0.6l1.2,0.4l2.3,0.1l2.6,-0.5l2.3,-1l1,-1.4l-0.3,-1.6l-2,-1.3l-1.2,-0.6l-0.5,-0.3l0.3,-0.2l0.7,-0.3l-0.2,-0.3l-0.8,-0.3" stroke="#2c3c9e" stroke-width="1.2"/>
<path d="M423.8,152.4l-1.5,0.1l-0.1,0.4l0.6,0.4l1.6,0.3l2.2,-0.2l1.1,-0.5l0.4,-0.4l-0.3,-0.2l-0.6,-0.3l-1,-0.3l-1.3,-0.6l-1,-0.9l-0.1,-0.6l0.2,-0.3l0.3,-0.2l1.1,0l1.6,-0.1l2,-0.3l1.7,-0.5l1.4,-0.7l1.1,-1.1l0.2,-1.4l-0.9,-1.3l-2.5,-1.1l-2.6,-0.5l-2.4,0.1l-1.7,0.6l0,0.9l1.5,0.7l2.8,0.1l3.3,-0.6l2.3,-1.1l1.2,-1.7l-0.9,-1.7l-2.6,-1.3l-2.2,-0.6l-0.6,-0.3l-0.2,-0.3l0.7,-0.2l1.1,-0.1l1.5,0l1.2,0.3l-0.1,0.5l-1.3,0.4l-1.4,0.3l-2,0l-2.3,-0.6l-2,-1.1l-0.9,-1.7l0.8,-1.7l2.2,-1.3l2.8,-0.7l2.8,-0.2l0.6,0.2l0,-0.1l-0.5,-0.3l-0.6,-0.4l-0.5,-0.3l-0.6,-0.3" stroke="#2c3c9e" stroke-width="1.2"/>
<path d="M506.4,152.6l1.3,-0.3l0.7,-0.3l-0.5,-0.5l0.2,-0.4l0.6,-0.2l0.7,-0.2l0.8,-0.1l0.8,0l0.4,0.3l-0.5,0.5l-1.7,0.3l-2.4,-0.4l-0.9,-0.4l-0.1,-0.6l0.4,-0.5l0.7,-0.4l0.9,-0.5l1,-0.7l1.1,-0.8l0.2,-1l-0.5,-1l-1.2,-0.7l-1.3,-0.5l-1.2,-0.2l-0.5,0l0.1,0.1l0.9,0.1l1,-0.3l0.4,-0.4l-0.1,-0.4l-0.2,-0.5l-0.5,-0.7l-0.2,-0.5l-0.2,-0.6l0,-0.7l0.4,-0.7l0.7,-0.6l0.9,-0.4l0.9,-0.1l0.3,0l-0.3,0l-0.6,0l-1.3,-0.1l-0.5,-0.4l0.2,-0.3l0.4,-0.4l1,-0.2l1.4,-0.4l1.3,-0.6l0.8,-0.5l0.3,-0.3" stroke="#2c3c9e" stroke-width="1.2"/>
<path d="M382.5,153.5l1.5,-1l2.1,-0.6l1.6,-0.1l0.9,0.2l-0.1,0.3l-0.6,0.4l-1.4,0.2l-2.1,-0.1l-2.4,-0.5l-1,-0.9l0,-1.1l0,-1.3l0.9,-1.3l2.2,-0.9l2.9,-0.2l2.3,0.4l0.7,0.9l-0.9,0.8l-2.8,0.4l-3.5,-0.5l-1.8,-1.1l0,-1.4l0.3,-1.3l1.3,-1.2l2.2,-0.7l2.3,-0.3l1.8,0.1l1,0.3l-0.2,0.6l-1.3,0.4l-2.3,0l-2.4,-0.6l-2,-1l-0.7,-1.2l0.7,-1.4l2.3,-1.1l2.5,-0.4l2,0.2l0.9,0.5l-0.2,0.5l-1.3,0.4l-2.3,-0.1l-2.2,-0.6l-1.8,-1.2l-0.5,-1.4l1.1,-1.2l1.6,-0.9l2.2,-0.4l0.7,-0.2" stroke="#2c3c9e" stroke-width="1.2"/>
<path d="M458.8,157l2.1,-0.6l1.6,-1.1l0.3,-1.2l-0.7,-1.2l-1.4,-0.7l-1.4,-0.3l-1.1,0.1l-0.1,0.3l0.4,0.5l1.5,0.3l2.5,-0.1l2.5,-1l0.9,-1.6l-0.7,-1.5l-2.1,-1.2l-2.6,-0.7l-2.5,0.1l-1.5,0.6l0,0.7l1.4,0.8l2.7,0.1l2.6,-0.4l2.6,-1l1.2,-1.3l0.1,-1.3l-0.4,-1.2l-1.4,-0.9l-2.2,-0.6l-2.4,-0.1l-1.7,0.3l-0.8,0.8l0.9,0.5l1.9,0.2l2.1,-0.4l2.2,-0.9l1.1,-1.2l-0.3,-1.2l-1,-1.1l-1.9,-0.8l-2,-0.2l-0.7,0.3l0.3,0.3l1.2,0.3l1.9,0l1.6,-0.5l1,-0.8l0.3,-1l-0.6,-0.8l-0.9,-0.7l-1.1,-0.4l-1,-0.2" stroke="#2c3c9e" stroke-width="1.2"/>
<path d="M387.1,153.9l-1.8,-0.5l-2.1,-0.1l-0.5,0.4l0.6,0.6l1.2,0.5l2,0.1l2,-0.3l2.3,-0.6l1.4,-1l0.6,-1.5l-0.5,-1.4l-1.5,-1l-1.8,-0.6l-1.7,-0.2l-1.6,0.2l-0.6,0.5l0.1,0.4l0.8,0.3l1.6,0.1l2.4,-0.1l2.6,-0.7l2.3,-1.2l0.5,-1.4l-1.1,-1.4l-2.1,-1l-2.4,-0.5l-2.3,0.2l-1.3,0.6l-0.5,0.6l1.1,0.4l1.7,-0.1l0.6,-0.4l0,-0.4l-0.7,-0.3l-1.4,-0.5l-1.5,-0.6l-0.4,-0.4l-0.3,-0.4l0.2,-0.3l1.2,-0.2l1.2,-0.3l0.3,-0.4l-0.3,-0.5l0.4,-0.5l0.9,-0.4l1.3,-0.6l0.2,-0.5l-0.2,-0.5l-0.7,-0.4l-0.9,-0.5l-0.7,-0.6l-0.6,-0.7l-0.4,-0.8l0.1,-0.8l0.6,-0.7l0.8,-0.5l1.5,-0.6l1.8,-0.1l1,0.5l-0.7,0.8l-2.6,0.3l-3.3,-0.6l-1.7,-1.6l0.6,-1.7l1.9,-1.2l2.3,-0.7l2.3,-0.1l1.9,0.4l0.2,0.7l-1.1,0.7l-1,0.0" stroke="#2c3c9e" stroke-width="1.2"/>
<path d="M404.7,149.3l-1.3,-0.8l-1.2,-0.2l-0.4,0.3l-0.2,0.6l-0.1,1.1l-0.5,1.3l0.3,0.7l0.2,-0.4l0.7,-0.7l-0.1,-1.2l0.3,-2l0.1,-1.9l0.7,-2.5l0.5,-2.5l0.8,-1.3l-0.6,-0.5l-0.7,-0.3l-0.8,-0.1l-0.2,0.1l-0.6,0.4l-1,0.5l-0.4,0.9l0.1,1l0.1,1.3l0.4,1.4l0.7,1.3l1.2,0.9l1,0.2l1.2,-0.2l1.3,-0.8l1.6,-1.3l1.7,-1.9l0.9,-2.1l0.3,-1.4l0.1,-0.8l-0.3,-0.1l-0.7,0.5l-0.5,0.4l-0.6,0.5l-0.7,0.3l-1.1,0.2l-1.6,-0.2l-1.3,-0.8l-1.2,-1.1l-1.3,-1.6l-0.6,-2.3l-1.1,-2.1l-0.8,-2.5l-0.2,-2.6l0.2,-2.7l1.1,-2.5l1,-2.1l1.2,-1.5l1.6,-0.3l0.6,0l-0.5,0l-1.1,-0.1l-1.3,0l-1.3,0.2l-1.1,0.5l-0.9,0.8l-0.3,1l-0.2,1l0,1l0.5,1l0.8,0.8l0.3,0.1l0.3,-0.3l0.3,-0.7l-0.1,-0.8l-0.9,-0.9l-1.2,-1.5l-1,-2.1l-0.5,-2.8l0.1,-3l1,-2.9l0.9,-2.5l1.9,-1.8l2,0.3l1.2,0.6l1,0.9l0.4,0.9l0.1,1.2l-0.4,1.1l-0.3,0.9l0,0.6l0.1,0.3l0.3,0.1l-0.6,-0.2l-0.6,-0.5l-1,-0.7l-0.8,-0.9l-0.9,-0.9l-0.5,-1.1l-0.4,-1.5l0.4,-1.6l0.6,-1.6l0.7,-1.6l0.2,-0.9l-0.6,-0.6l-0.2,-0.5l-0.1,-0.3l-0.3,-0.2l-0.4,0l-0.4,0.2l-0.8,0.4l-0.4,0.6l-0.3,1.2l0.1,1.3l0.4,1.3l0,0.4l-0.3,0.1l-0.8,-0.2l-1,-0.4l-1,-1l-0.7,-1.4l-0.1,-2.1l0.3,-2.9l0.7,-3.2l0.7,-1.6l0.4,-0.9l0.4,-0.1l0.4,0.7l0.4,0.8l0.6,1.1l1.2,1.5l1.4,1.2l1.9,1l2.1,0.5l2.3,-0.2l2.5,-0.9" stroke="#e0302a"/>
<path d="M414.4,157.1l-2.1,-0.1l-2.3,-0.5l-1.9,-0.8l-1.1,-1.3l-0.2,-0.8l0.9,-0.2l0.7,-0.1l0.8,0l1.1,-0.1l1.3,-0.2l0.7,-0.5l0.1,-0.1l-0.3,-0.3l0.5,-0.3l0.6,-0.2l0.9,-0.3l1.1,-0.5l1.2,-0.6l1,-0.9l0.5,-1l0,-1.2l-0.5,-1.2l-1.3,-1l-2.2,-0.3l-1.8,0.1l-0.8,0.2l0,0.2l0.7,0.3l0.9,0l1.3,-0.1l1.1,-0.5l1.2,-0.8l0.5,-0.9l-0.1,-1l-0.9,-0.9l-1.3,-0.5l-1.1,-0.3l-0.8,-0.4l-0.1,-0.3l0.2,-0.4l0.6,-0.5l0.6,-0.6l1,-0.4l1.3,-0.3l1.3,0l0.8,0.2l0.2,0.2l-0.6,0.1l-1.5,-0.1l-1.6,-0.7l-0.9,-1.0" stroke="#2c3c9e" stroke-width="1.2"/>
<path d="M404.9,157.5l2,-0.5l1.9,-0.7l1.4,-1.1l0.3,-1.3l-0.6,-1.1l-1.8,-0.8l-1.1,-0.4l-1.2,-0.2l-1.4,0.1l-0.8,0.2l-0.3,0.4l0.4,0.4l1.3,0.2l2.8,-0.3l2.2,-0.8l1.5,-1.4l0,-1.4l-1.2,-1.3l-2.1,-0.9l-2,-0.2l-1.5,0.2l-0.5,0.5l0.7,0.5l1.9,0.3l2.1,-0.4l1.6,-0.7l1.5,-1l0.5,-1.4l-1.2,-1.3l-2.3,-0.8l-1.5,-0.4l-0.9,-0.4l0.4,-0.3l1,-0.4l1,-0.3l1.6,-0.2l1.5,-0.1l0.9,0.2l0.2,0.4l-1,0.4l-1.8,0.1l-2.2,-0.4l-1.3,-0.6l-0.3,-0.5l0,-0.3l0.6,-0.3l1.1,-0.2l1.6,-0.5l1,-0.7l0.9,-0.9l0.5,-1.1" stroke="#2c3c9e" stroke-width="1.2"/>
<path d="M413.5,155.9l1.1,-1.2l2.3,-0.9l2.7,-0.5l1.4,-0.2l0.6,-0.4l-0.2,-0.6l-0.8,-0.7l-1.5,-0.6l-2,-0.3l-2.2,0.1l-1.3,0.2l0.4,0.7l0.9,0.3l0.6,-0.4l0.5,-0.4l0.3,-0.7l0.1,-0.7l0.1,-0.8l0.6,-0.9l1.3,-0.6l1.3,-0.3l0.8,-0.1l0.7,0.1l-0.2,0.1l-0.6,0l-1,-0.2l-1.2,-0.5l-1.2,-0.6l-0.7,-0.8l0,-1.1l1.4,-1l1.5,-0.6l1.9,-0.2l1.4,0.1l0.6,0.2l0,0.3l-0.6,0.1l-1.1,-0.1l-0.6,-0.3l-0.1,-0.4l0.5,-0.4l0.7,-0.4l1,-0.6l1,-0.7l0.8,-0.9l0,-0.7l-0.2,-0.4l0,-0.3l0.1,-0.2l-0.5,0l-0.8,0.1l-1.1,0l-1.6,-0.2l-1.5,-0.5l-1.5,-0.8l-0.5,-1.2l0.4,-0.8l0.2,-0.4l0.1,-0.2l0.2,0.0" stroke="#2c3c9e" stroke-width="1.2"/>
<path d="M499.9,156.2l0,0.4l0.7,0.2l1.5,0.1l2.3,-0.2l2.2,-0.6l1.9,-1l0.8,-0.9l0.6,-0.5l0.6,-0.1l0.4,0l-0.4,0l-1.4,-0.1l-1.5,-0.3l-1.2,-0.4l-1.5,-0.4l-1.9,-0.8l-1.1,-1.1l-0.3,-1.3l1.3,-1.3l2.1,-0.8l2.2,-0.2l1.8,0.4l0.5,0.5l-0.6,0.6l-2,0.5l-2.6,-0.2l-2.3,-0.7l-0.9,-0.8l-0.2,-0.7l0.3,-0.4l0.7,-0.1l0.8,0l1.6,0l2,-0.4l0.7,-0.5l-0.3,-0.3l-1,-0.3l-1.6,-0.5l-1.3,-0.7l-0.2,-0.6l0.1,-0.4l-0.1,-0.5l-0.5,-0.7l0.2,-1l0.3,-1l0.8,-0.9l0.3,-0.4l-0.5,-0.4l-0.5,-0.1l0.8,0.2l0.9,0l0.5,-0.3l0.1,-0.5l-0.2,-0.7l-0.1,-0.6l0.5,-0.7l0.7,-0.7l0.8,-0.4l0.9,-0.3l0.7,-0.3l0.6,-0.2l0.1,-0.1l-0.5,0l-0.5,-0.2l-0.8,-0.2l-0.8,-0.4l-1.2,-0.5l-0.9,-0.7l-0.3,-0.7l0.2,-0.7" stroke="#2c3c9e" stroke-width="1.2"/>
<path d="M513.7,158.5l2.7,-0.2l2.6,-0.9l0.9,-1.3l-0.5,-1.3l-1.4,-0.8l-1.7,-0.2l-1.2,0.1l-0.1,0.2l0.3,-0.1l0,-0.4l0,-0.4l-0.1,-0.6l-0.9,-0.6l-0.6,-0.4l-0.7,-0.1l-0.1,0l0.4,0l1.3,0.1l2.2,0l2.4,-0.5l2.2,-1l1.5,-1.4l0.3,-1l0.3,-0.7l0.7,-0.2l0.6,-0.1l-0.2,0.3l-0.2,0l-0.5,-0.6l-0.2,-0.7l-0.4,-0.8l-0.5,-0.8l-0.8,-0.8l-0.3,-0.8l-0.9,-0.6l-1.4,-0.4l-1.8,0l-0.9,0.3l-0.3,0.6l0.8,0.4l1.2,0.2l2.3,-0.2l0.9,-0.4l-0.2,-0.4l-0.6,-0.3l-1.5,-0.4l-1.5,-0.7l-1.6,-1l-0.7,-1.3l0.1,-1.3l0.8,-1.2l1.5,-1l2.4,-0.8l3.1,-0.3l2.5,0.3l1.2,0.5l0.2,0.9l-1.2,0.7" stroke="#2c3c9e" stroke-width="1.2"/>
<path d="M443,163.4l0.5,-0.6l0.9,-0.7l1.7,-0.9l1.3,-1.4l1.4,-1.6l0,-1.8l-0.2,-1.9l-0.3,-2.3l-0.8,-2.3l-1.1,-2.2l-1,-2.1l-1,-1.7l-1.3,-0.6l-1.3,-0.1l-1.3,0.5l-0.5,1.3l0.1,1.2l0.3,1.2l1.1,1.1l0.4,0.8l0.9,0.2l1.1,0l0.9,-0.5l0.5,-0.8l0.3,-1l0.4,-0.4l0.4,-0.3l-0.4,-0.2l-0.5,-0.2l-0.7,0l-0.7,0.6l-1.1,0.2l-1.8,-0.4l-1.4,-1.1l-0.6,-2.2l-0.1,-2.5l-0.5,-2.2l0,-2.4l0.3,-2.1l0.7,-1.9l0.8,-1.7l1.1,-1.5l1.8,-0.9l2,-0.4l1.3,-0.1l0.7,0.6l0.4,0.6l0,0.9l0.2,1.1l-0.3,0.9l-0.7,0.7l-1.1,0.6l-1.2,0.4l-0.4,-0.3l0.2,-0.5l0.9,-0.6l0.8,-0.9l0.9,-0.9l0.3,-1.3l0.7,-1.4l0.3,-1.4l0.2,-1.6l-0.2,-1.7l-0.5,-1.4l-0.7,-1.3l-0.4,-1.1l-0.3,-0.9l-0.2,-0.6l-0.7,-1.4l-0.9,-0.6l-0.9,0l-1.4,0.3l-1.2,1.1l-1.1,1.7l-0.5,1.6l0.4,1.7l0.9,1.1l1.2,0.6l1.6,0l1.8,-0.6l1.5,-1.4l1.7,-2l1,-2.2l-0.4,-3.1l-0.5,-2.8l-0.3,-2.1l-0.4,-1.6l-0.9,-0.8l0,-0.4l-0.1,-0.2l-0.1,-0.1l-0.9,-0.4l-0.7,-1.5l-0.4,-1.4l-1.4,-0.4l-0.9,-0.3l-0.5,-0.1l0.3,-0.3l0.1,-0.4l0.2,-0.4l0.3,-0.5l0.3,-0.4l0.9,-0.4l0.3,-0.5l0.3,-0.4l-0.2,-0.4l0.2,-0.2l-0.3,-0.4l-0.6,-0.6l0,-0.7l0.5,-0.9l0.4,-0.8l0.3,-0.7l0.2,-0.6l-0.2,-0.5l-0.1,-0.5l-0.8,-1.3l-0.5,0.3l-0.5,0.4l0.4,0.4l0.3,0.5l0.1,0.3l-0.3,-0.1l-0.9,-0.3l-0.2,-0.9l-0.5,-1.2l-0.6,-1.8l0.1,-1.9l0.2,-1.7l0.3,-1.7" stroke="#e0302a"/>
<path d="M429.6,158.1l1.1,0.4l2,0.1l1.9,-0.5l1.6,-1.1l0.6,-1.4l-0.8,-1.3l-1.7,-0.9l-2,-0.5l-1.7,0.1l-0.5,-0.1l0.2,-0.2l0.6,-0.5l0.9,-0.7l1.1,-0.7l1.4,-0.7l1.7,-0.4l1.6,0l0.6,0.2l0,0.2l-0.3,0.3l-1.3,0.1l-1.5,-0.1l-1.2,-0.5l-0.8,-0.8l-0.6,-0.9l0,-1.1l0.7,-0.9l1.7,-0.6l0.7,-0.3l0.5,-0.3l0.1,-0.4l-0.3,-0.5l0.2,-0.3l0.7,-0.3l0.7,-0.2l1,0l0.6,0.1l-0.1,0.2l-0.2,-0.1l-0.1,-0.4l0.2,-0.5l0.1,-0.6l0.4,-0.6l0.3,-0.8l0.1,-0.9l-0.3,-0.7l-1.1,-0.8l-1.5,-0.5l-1.5,-0.1l-1.7,0l-0.9,0.4l0.2,0.5l1.8,0.4" stroke="#2c3c9e" stroke-width="1.2"/>
<path d="M391.5,153.3l-0.4,-0.5l-1,-0.4l-0.7,-0.5l-0.7,-0.5l-0.4,-0.4l0.2,-0.2l-0.1,0l0.1,0.1l-0.2,0.2l-0.1,0.5l0.6,0.4l0.3,-0.1l-0.1,-0.5l0.3,-0.7l0.4,-0.9l0.6,-0.9l0.2,-1.1l0.2,-1l0.5,-1.2l0.2,-0.6l0,-0.4l-0.3,-0.7l-0.5,-0.8l-0.3,-0.9l0.3,-0.8l0.2,-1.7l0.5,-1.4l0.3,-1l0.6,-0.4l0.8,0.2l1.2,1.1l0.5,1.4l0,1.7l-0.6,1.6l-1.6,1.6l-2.1,1.4l-1.6,0.3l-0.4,-0.4l0.1,-0.9l0.9,-1.3l0.2,-1.1l-0.6,-0.7l-0.8,-0.1l-1,0l-1.1,0.1l-0.9,0l-0.4,-0.5l0,-0.6l0.3,-0.7l0.3,-0.5l-0.1,-0.4l-0.5,-0.5l-0.5,-1.3l-0.5,-1.4l-0.1,-1.3l0.2,-1.6l0.2,-1.7l0.4,-1.6l0.1,-1.8l-0.1,-1.9l0.3,-2l0.8,-1.9l0.5,-1.5l0.4,-1.7l0.4,-1.2l-0.3,-1.4l-0.8,-1.1l-1,-0.9l-1.9,-0.7l-1.6,-0.1l-1.8,0.4l-1,0.9l-0.4,1.1l-0.3,1.4l0,1.9l0.5,1.9l0.5,1.9l1.1,1.6l1.4,0.7l1.8,0l1.6,-1.2l1.8,-2.1l1.4,-2.7l0.9,-3.2l-0.1,-3.1l-0.4,-3.2l-1.1,-3.2l-1.5,-2.8l-1.8,-2l-2.1,-0.1l-1.8,0.7l-1.6,0l-1,0.9l-0.4,1.5l0.2,2l0.4,2.1l0.5,1.8l0.7,1.5l1.5,0.9l2.3,0.5l2.8,-0.4l1.6,-1.7l0.7,-1.3l0.5,-1.1l0.1,-0.7l-0.4,-0.6l-0.5,-0.8l0.1,-0.8l0.5,-0.6l0.5,-0.7l0.7,-0.8l0.5,-1l0.5,-1.2l0.3,-1.7l0.4,-1.9l0.5,-2l-0.2,-2.1l-1,-1.9l-0.7,-1.2l-0.1,-0.7l-0.3,-0.5l0,-0.4l0.8,-0.7l0.5,0.1l0.7,1l0.5,0.5l0.6,-0.2l0.5,-1.1l-0.1,-1.3l0.4,-1.7l0,-1.9l-0.2,-1.8l-0.6,-1.9" stroke="#e0302a"/>
<path d="M454.7,159.7l1.4,-1l0.6,-1.1l-0.1,-1.1l-1,-1l-1.9,-0.7l-2,-0.1l-1.2,0.3l0,0.5l1.2,0.5l2.2,0.2l2.9,-0.4l2.4,-0.9l1.4,-1.3l-0.3,-1.5l-1.6,-1.3l-3,-0.6l-2.8,0l-1.5,0.5l0.3,0.7l1.4,0.3l2.1,0l2,-0.5l1.9,-0.7l1.4,-1.2l-0.4,-1.2l-1.1,-0.9l-1.4,-0.5l-1.4,-0.2l-0.8,0.1l-0.4,0.2l0.4,0.1l1.1,-0.2l1.3,-0.4l0.9,-0.6l0.2,-0.8l-0.2,-0.7l-0.7,-0.7l-0.9,-0.6l-0.9,-0.5l-0.9,-0.2l-0.1,-0.4l0,-0.3l-0.2,-0.4l0.4,-0.5l0.5,-0.4l0.6,-0.4l0.7,-0.4l0.8,-0.4l0.5,-0.2l0.6,0l-0.2,0l-0.5,0l-1,-0.1l-1.4,-0.4l-1.4,-0.6l-0.7,-0.8" stroke="#2c3c9e" stroke-width="1.2"/>
<path d="M398.2,160.6l2.1,-0.6l1,-0.7l0.5,-0.4l0.1,-0.3l-0.2,-0.7l0.1,-0.8l0.1,-0.8l0.2,-0.7l-0.4,-0.7l-0.4,-0.8l-0.7,-0.6l-0.9,-0.4l-0.9,-0.3l-0.2,-0.2l0.2,-0.3l0.5,-0.6l0.7,-0.6l0.8,-0.6l0.4,-0.6l-0.1,-0.5l-0.8,-0.4l-1,-0.2l-1.6,0l-1.1,0.6l-0.1,0.6l1,0.6l2.6,0.2l2.9,-0.5l2.8,-1.4l0.8,-1.8l-0.8,-1.6l-2,-1.2l-2.9,-0.5l-2.6,0.3l-1.3,0.7l0.4,0.8l1.7,0.7l2.4,0.1l2.6,-0.4l2.6,-1l1.5,-1.6l-0.5,-1.8l-2.2,-1.3l-2.9,-0.3l-1.8,0.3l-0.8,0.5l-0.2,0.6l1.9,0.5l3.3,-0.2l2.5,-1l1.2,-1.5l-0.9,-1.2l-1.5,-0.9l-0.5,-0.6l-0.9,-0.4l-1.1,-0.4l-1.2,-0.1l-0.8,0l-0.6,0.3l0.1,0.4l1.1,0.3l1.7,-0.1l1.7,-0.7l0.7,-1.2l-0.5,-1.2l-1.4,-1l-2,-0.6l-1.7,-0.2l-1,0.2l0.3,0.3l1,0.2l1.5,-0.2" stroke="#2c3c9e" stroke-width="1.2"/>
<path d="M487.2,160.7l-1.2,-1.2l0.3,-1.2l1.2,-1.1l1.9,-0.9l2.3,-0.4l2.1,0l1.5,0.4l0.3,0.5l-1.3,0.5l-2.5,0.1l-2.4,-0.6l-1.5,-1l-0.3,-1.2l0.6,-1.1l1.5,-1l1.8,-0.6l1.9,-0.3l1.4,0.2l0.4,0.2l-0.4,0.2l-0.7,0.1l-1.5,-0.2l-1.6,-0.6l-1.1,-1l-0.2,-1.1l0.6,-0.9l0.7,-0.6l0.2,-0.5l0,-0.5l-0.5,-0.4l-0.4,-0.1l-0.5,0l-0.2,0.2l0,-0.2l-0.2,-0.3l-0.2,-0.4l-0.7,-0.6l-0.5,-0.6l-0.1,-0.9l0.4,-1.1l1.3,-0.9l2.4,-0.7l2.2,0l1.4,0.3l0.6,0.5l-0.6,0.6l-1.6,0.2l-1.9,-0.1l-1,-0.4l-0.4,-0.4l0.2,-0.4l0.9,-0.5l0.7,-0.8l0.8,-0.9l0.3,-0.9l-0.5,-1.1l-1.5,-0.9l-2,-0.5l-1.5,-0.1l-1.2,0.2l-0.1,0.4l0.8,0.1l1.5,-0.1l1.5,-0.5l1.3,-0.8l1.2,-0.9l0.2,-1.2l-1.2,-1.2l-2.3,-0.7l-2.4,-0.1l-2,0.4l-0.6,0.7" stroke="#2c3c9e" stroke-width="1.2"/>
<path d="M388.3,158.5l1.9,-0.7l2,-0.4l1.6,0.1l1.2,0.2l0.5,0.4l-0.8,0.4l-0.6,-0.1l0.2,-0.4l0.2,-0.4l0.3,-0.6l1.1,-0.5l1.2,-1l0.7,-1.3l-0.8,-1.4l-2.2,-1.1l-3.5,-0.4l-2.9,0.5l-1.1,1.1l1.7,1.1l3.2,0.4l3.2,-0.7l1.8,-1.2l0.6,-1.3l-0.3,-1.2l-1.2,-1l-1.2,-0.7l-1.6,-0.4l-1.1,-0.1l-0.8,0.2l-0.7,0.3l0.4,0.4l1.7,0.3l2.2,-0.4l2,-0.9l0.9,-1.3l-0.1,-1.3l-1.9,-1.2l-2.2,-0.5l-2,0l-1,0.5l0,0.5l1.3,0.4l2.1,-0.1l1.9,-0.6l1.2,-1.2l-0.3,-1.4l-1.3,-1.1l-2.1,-0.6l-1.8,-0.4l-0.7,-0.1l0,-0.4l0,-0.6l0.4,-0.6l0.9,-0.7l1.5,-0.4l1.6,-0.2l1.4,0.3l0.8,0.4l0.1,0.5l0.1,-0.1l0.5,-0.4l0.6,-0.6l0.6,-1l0.4,-0.6l0.6,-0.1l0.2,0.1l-0.3,0.3l-1.5,0.3l-2,0l-2.5,-0.5" stroke="#2c3c9e" stroke-width="1.2"/>
<path d="M476.9,161.8l-2,-0.4l-1.6,-0.8l-1,-1.1l0.4,-1.3l1.6,-1.2l2.4,-0.7l2.6,-0.2l1.9,0.3l0.8,0.4l-0.2,0.4l-1.4,0.2l-2.1,-0.3l-1.6,-0.7l-1,-1l-0.1,-0.8l0.1,-0.9l0.8,-0.9l1.2,-0.7l1.5,-0.5l1.4,-0.1l0.9,0.2l-0.1,0.3l-1.1,0.2l-1.6,-0.1l-1.4,-0.4l-1.2,-0.7l-0.7,-0.9l-0.1,-1l0.4,-0.9l1,-0.7l1.7,-0.5l1.6,-0.1l0.9,0.1l0.1,0.4l-0.8,0.2l-1.2,-0.1l-0.8,-0.4l-1.1,-0.6l-1,-0.8l-0.1,-1l0.8,-1.1l1.7,-0.8l1.9,-0.5l1.9,0l0.9,0.3l0.2,0.3l-0.9,0.2l-1.4,-0.3l-1.6,-0.7l-0.9,-0.9l0,-1.1l1.1,-0.9l1.1,-0.7l1.4,-0.4l1.3,-0.1l0.6,0.3l-0.2,0.3l-1,0.3l-1.7,-0.1l-1.6,-0.4l-1.7,-0.9l-0.7,-1.2l0.7,-1.3l1.7,-1l1.9,-0.6l2,-0.2" stroke="#2c3c9e" stroke-width="1.2"/>
<path d="M412.6,161.8l1.7,-1.1l0.9,-1.3l-0.1,-1.1l-0.8,-1l-1.9,-0.5l-2,0.1l-0.8,0.5l0.2,0.7l1.6,0.4l2.6,-0.2l2.1,-0.8l0.6,-0.8l0.4,-0.4l-0.2,-0.3l-0.4,-0.2l-0.9,-0.3l-1.4,-0.3l-1.3,-0.5l-1.1,-0.7l-0.8,-0.8l-0.1,-0.6l0,-0.4l0.1,-0.3l0.4,-0.1l0.4,-0.3l0.5,-0.2l0.2,-0.4l-0.1,-0.4l-0.3,-0.6l-0.2,-0.7l0.1,-0.8l0.7,-0.8l1.3,-0.7l1.7,-0.6l1.6,-0.3l1.3,0l0.4,0.4l-0.6,0.3l-1.7,0.1l-2.3,-0.6l-1.3,-1l-0.4,-1.3l0.8,-1.2l1.6,-0.7l1.9,-0.4l1.8,0l1.1,0.4l0.1,0.5l-1,0.5l-2,0l-2.4,-0.4l-2.2,-1.1l-1.1,-1.6l0.7,-1.6l2.6,-1.1l2.9,-0.2l1.9,0.5l0.3,0.8l-1.4,0.7l-1.7,-0.1l-1.1,-0.3l-0.2,-0.6l0.2,-0.5l0.5,-0.7l0.8,-0.7l0.9,-0.7l0.4,-0.9l-0.4,-1.1l-1.2,-1l-2.2,-0.8l-2.2,-0.3l-2,0.3l-0.8,0.6l0.9,0.8l1.8,0.2" stroke="#2c3c9e" stroke-width="1.2"/>
<path d="M476,160.9l-0.3,0l0.1,-0.3l0.3,-0.5l0.3,-0.7l0.2,-0.9l-0.3,-0.9l-1,-0.9l-1.7,-0.7l-1.9,-0.3l-0.9,0.2l-0.2,0.3l0.5,0.3l1.1,0.2l1.4,0l2,-0.3l2,-0.7l1.3,-1.2l-0.2,-1.4l-1.5,-1l-2.4,-0.7l-2.3,-0.1l-1.4,0.4l-0.5,0.2l-0.4,-0.2l-0.2,-0.4l-0.2,-0.5l-0.1,-0.8l0.3,-1l1,-1l1.9,-0.8l1.9,-0.4l1.9,-0.1l1.3,0.2l1.1,0.2l0.5,0.5l-0.5,0.7l-2,0.4l-3.3,-0.4l-1.9,-1.1l-1,-1.3l0.4,-1.3l1.6,-1l1.8,-0.5l1.4,-0.2l0.8,0l0,0.2l-0.3,0.1l-1.1,-0.1l-1,-0.3l-1.3,-0.5l-0.6,-0.8l-0.2,-0.7l0.3,-0.8l0.8,-0.7l1.3,-0.4l1.1,-0.3l0.6,0l0.1,0l-0.4,0l-0.9,-0.2l-1,-0.3l-1.1,-0.7l-0.4,-0.7" stroke="#2c3c9e" stroke-width="1.2"/>
<path d="M425.5,159.6l1.4,0.4l0.4,0.5l-1,0.3l-2,0.1l-2.3,-0.5l-1.8,-0.8l-0.7,-1.2l0.6,-1.6l2,-1.1l2.6,-0.6l2.7,0.1l1.4,0.2l0.6,0l-0.2,-0.5l-0.3,-0.8l-0.8,-0.9l-1.6,-0.9l-2,-0.3l-1.4,0l-0.9,0.2l-0.2,0.2l0.2,0.1l0.9,0l0.8,0.2l1.6,0.1l1.8,-0.2l2.3,-0.6l1.7,-0.9l0.7,-1.4l-1.2,-1.4l-2,-0.9l-2.1,-0.5l-1.8,0.1l-0.5,0l0,0.1l0.5,0.1l0.3,-0.3l0.2,-0.4l-0.1,-0.5l-0.1,-0.6l-0.2,-0.6l0.4,-0.8l0,-0.6l-0.2,-0.4l-0.2,-0.2l-0.9,-0.2l-0.4,0l-0.5,-0.2l-0.3,-0.6l0,-0.7l0.2,-0.8l0.6,-0.9l1.5,-0.9l2.2,-0.6l2.5,-0.3l2.1,0.3l1.1,0.4l0,0.6l-1.1,0.5l-2.1,0.1l-2.5,-0.3l-2.2,-0.9" stroke="#2c3c9e" stroke-width="1.2"/>
<path d="M435.3,161.7l1.6,0.2l2.4,0l2.2,-0.5l1.8,-0.9l1,-1.1l0.2,-1.1l-0.6,-1l-1.2,-0.8l-0.9,-0.5l-0.5,-0.4l0.4,-0.3l0.8,-0.3l0.8,-0.2l1,0.2l0.3,-0.3l-0.1,-0.5l-0.3,-0.8l-0.7,-0.8l-1.4,-0.7l-1.5,-0.4l-1.9,0.1l-1.5,0.5l-0.2,0.7l1.6,0.6l2.4,-0.1l2.6,-0.7l2,-1.2l0.7,-1l0,-0.5l0.8,-0.6l-0.1,-0.8l-0.7,-0.7l-0.3,-0.9l0.4,-0.6l0.9,-0.4l1,-0.1l1.1,0.3l0.2,0l0,-0.3l-0.2,-0.5l-0.7,-0.8l-1.2,-0.8l-0.7,-0.5l-0.2,-0.4l-0.5,-0.4l-0.5,-0.4l-0.1,-0.5l-0.7,-0.4l-0.9,-0.2l-0.9,-0.1l-0.8,0.2l-0.1,0.3l0.5,0.2l1,0.2l2.3,-0.1l1.4,-0.5l0.4,-0.6l0.1,-0.5l-0.5,-0.3l-0.5,-0.4l-1,-0.5l-0.7,-0.6" stroke="#2c3c9e" stroke-width="1.2"/>
<path d="M393.6,162.3l-0.3,-1.1l0.5,-1.3l1.6,-1.1l2.5,-0.7l2.2,-0.1l1.6,0.2l0.5,0.5l0,0.4l-0.9,0.3l-1.7,0.1l-2.4,-0.4l-2.3,-1l-0.5,-1.6l1.2,-1.5l2.3,-1.1l2.7,-0.3l2,0.2l1.1,0.5l0,0.5l-1,0.3l-1.6,-0.1l-1.8,-0.5l-1.6,-1.1l-0.7,-1.3l0.4,-1.4l0.8,-0.8l-0.1,-0.5l-0.5,-0.2l-0.6,0l-0.7,0.2l-0.3,0.3l0.5,0.5l1.9,0.4l3,0l3.5,-0.7l2.4,-1.5l0.9,-1.7l-1.1,-1.7l-3.3,-1.2l-3.7,-0.4l-2.9,0.4l-1.6,0.8l0,0.9l2.1,0.7l2.3,0l2.2,-0.5l2,-0.9l1.1,-1.1l0,-0.8l0.2,-0.3l0,-0.1l-0.8,-0.1l-1.2,-0.1l-1.7,-0.2l-1.6,-0.4l-1.4,-0.8l-1.2,-1l0,-1.1l1,-1.1l1.8,-0.9l1.8,-0.3l1.6,0.1l0.9,0.4l0,0.6l-1.1,0.3l-2.2,-0.2" stroke="#2c3c9e" stroke-width="1.2"/>
<path d="M482.1,160.4l0.4,-0.4l-0.1,-0.3l-0.3,-0.1l0.3,0.1l0.6,0.2l1.1,0.2l1.6,0l2.4,-0.1l2.5,-0.6l0.9,-0.6l0.7,-0.4l0,-0.3l0.4,-0.6l0.4,-0.7l0,-1.1l-0.2,-0.5l-0.3,-0.6l-0.2,-0.8l-0.7,-0.8l-1.2,-0.8l-1.4,-0.5l-1.3,-0.4l-1.7,-0.2l-1.6,0.2l-0.3,0.4l0.1,-0.1l0.1,-0.3l0.4,-0.2l0.3,-0.2l0.6,-0.2l0.3,-0.3l0,-0.5l0.1,-0.1l0.6,-0.2l0.9,-0.2l1.2,-0.4l1.5,-0.5l1.2,-0.8l0.5,-1l0.1,-1.1l-0.4,-1l0.1,-0.5l-0.5,-0.7l-1.1,-0.6l-1.2,-0.3l-1.1,-0.1l-0.9,0.2l-0.2,0.5l1,0.4l1.8,0.2l2.4,-0.4l1.7,-1l0.7,-1.3l-0.6,-1.3l-1.6,-1l-2.1,-0.6l-2.5,-0.2l-1.6,0.2l-0.6,0.6l0.8,0.3l0.7,-0.2l0.3,-0.5l0.6,-0.2l0.9,-0.2l0.8,-0.4l1,-0.4l0.7,-0.6l1.3,-0.5l1.1,-1l-0.2,-1.3l-2.1,-1.1" stroke="#2c3c9e" stroke-width="1.2"/>
<path d="M453.6,161.3l0.5,-1.2l1.3,-0.9l0.8,-0.6l0.4,-0.4l0.3,-0.4l-0.1,-0.4l-0.8,-0.2l-0.8,-0.2l-1,0.1l-0.3,0.3l0.5,0.3l0.8,0.1l1.2,-0.1l1.5,-0.4l1.7,-0.4l1.5,-0.8l0.6,-1.3l-0.5,-1.4l-2,-1.4l-3.2,-0.7l-2.7,0.1l-1.8,0.7l-0.2,0.8l0.5,0.1l0.3,-0.2l0.2,-0.4l0,-0.8l0.4,-0.8l0.7,-1.2l1.1,-1l1.7,-1l2.8,-0.8l3,-0.2l2.4,0.3l1.3,0.6l-0.8,0.6l-2,0.3l-1.9,-0.4l-1.4,-0.8l-0.4,-0.9l-0.1,-0.9l0.6,-0.9l0.9,-0.7l0.7,-0.4l0.6,-0.4l0.5,-0.1l0.2,-0.1l0,0l-0.6,0l-0.9,-0.2l-1,-0.3l-0.9,-0.5l-0.6,-0.6l-0.3,-0.7l0.2,-0.8l0.7,-0.7l1.2,-0.5l1.2,-0.4l1,-0.1l0.9,-0.2l0.3,0.1l-0.3,0.1l-1.1,0l-1.7,-0.2l-1.1,-0.6l-0.5,-0.5l-0.2,-0.4l0.2,-0.4l0.7,-0.2" stroke="#2c3c9e" stroke-width="1.2"/>
<path d="M500.8,161.1l-1.5,-1.1l-2.4,-0.6l-2.2,0l-1.2,0.6l0.4,0.6l1.8,0.3l2.4,-0.3l2,-1l0.7,-1.5l-0.9,-1.3l-0.9,-0.7l-0.3,-0.4l0.4,-0.4l0.7,-0.2l0.9,0.1l0.6,0.1l-0.1,-0.1l0,-0.4l0,-0.6l-0.3,-0.7l-0.6,-0.9l-1.2,-0.9l-0.8,-0.5l0.1,-0.3l0.4,-0.3l0.9,-0.1l1,0.1l0.7,0.3l-0.1,0l0,-0.3l0.2,-0.6l0.4,-0.7l0,-0.8l-0.3,-0.9l-1.1,-0.9l-1.9,-0.6l-1.7,-0.3l-1,0.1l-0.5,0.5l0.7,0.4l0.7,-0.1l0.1,-0.4l0,-0.6l-0.2,-0.7l0.2,-0.9l0.3,-0.9l1.1,-1l1.6,-1l2.3,-0.6l1.8,0.1l0.8,0.2l0.3,0.4l-0.6,0.3l-1.3,0.2l-1.7,-0.2l-1.1,-0.5l-1.1,-0.8l-0.6,-1.1l0.7,-1l1.1,-1l2.3,-0.8l2.8,0l2.1,0.6l-0.4,0.6l-1.7,0.3l-2.2,-0.4l-1.6,-0.9l-0.7,-1.2l0.5,-1.2l1.3,-0.8" stroke="#2c3c9e" stroke-width="1.2"/>
<path d="M449.9,161.7l0.3,0.5l-0.6,0.4l-1.9,0.2l-1.4,-0.2l-0.5,-0.4l0.4,-0.4l1,-0.5l1.5,-0.5l1.7,-0.9l0.8,-0.6l0,-0.4l-0.4,-0.1l-0.9,0l-1.1,-0.2l-1.4,-0.3l-2.2,-0.6l-1.9,-1l-0.7,-1.4l0.7,-1.3l1.8,-1.2l2.7,-0.8l2.3,-0.3l2,0.1l1.2,0.3l0.3,0.6l-0.5,0.4l-1.3,0.4l-1.7,0l-1.9,-0.2l-1.8,-0.7l-1.7,-0.9l-1.2,-1.5l0.3,-1.7l2.2,-1.6l3.2,-0.8l3.5,0.1l2.5,0.7l0.8,0.4l0.5,-0.2l0.5,-0.6l0,-0.8l-0.6,-0.9l-1,-0.8l-1.6,-0.7l-1.4,-0.6l-1.4,-0.2l-1.3,0.2l-0.6,0.5l0.5,0.8l1.5,0.4l2.7,0.1l2.6,-0.5l2.1,-1l1,-1.4l-0.5,-1.5l-1.9,-1.4l-2.8,-0.6l-2.5,-0.2l-2.1,0.5l-0.7,0.7l1.1,0.6l1.8,0.3l2.5,-0.1" stroke="#2c3c9e" stroke-width="1.2"/>
<path d="M468.1,166l-0.9,0.5l-1.6,0.2l-1.7,-0.4l-1.5,-0.9l-1.1,-1.3l-1.2,-1.7l-0.8,-2l-0.2,-2.1l-0.5,-2.5l0,-2.5l0.7,-2.2l1.2,-1.3l1,-0.7l1.2,0l0.5,0.4l0.8,0l1.1,0.6l0,1l0.1,1.1l-0.6,0.4l-0.8,-0.1l-1.1,-0.6l0,-1.1l-0.5,-1.3l0,-1.5l0.2,-1.4l-0.3,-1.4l-0.5,-1.4l-0.3,-1.3l-0.8,-0.9l-1.3,-0.6l-0.8,-0.2l-0.9,0.1l-0.7,0.3l-0.5,0.7l-0.1,0.6l0.3,0.6l-0.1,0.9l0.4,1.2l1.1,1.1l1.2,0.6l1.3,0.1l1.1,-0.6l1.6,-1.3l1.1,-1.9l0.7,-2.2l0.4,-2.6l0.4,-3l0.4,-2.8l0.1,-2.5l-0.4,-2.5l-0.9,-1.9l-1.2,-1.2l-2.1,-0.1l-1.3,1.7l-0.7,2.2l-0.3,2.1l0.5,1.9l0.8,1.5l0.9,1l0.7,-0.1l0.1,-0.5l0.3,-0.9l0,-1.2l-0.4,-1.5l-0.1,-1.6l-0.1,-2l-0.2,-2l-0.2,-1.3l-0.8,-0.5l-0.9,-0.1l-0.5,0l-0.1,0.4l0.1,0.4l0,-0.2l0.2,-0.8l0,-1.1l0,-1.7l0.3,-2.2l0.2,-1.9l0.9,-1.8l1.1,-1.7l2,-1.7l1.8,-0.9l1.7,0l1.9,0.8l0.8,1.3l0.9,1.7l0.3,1.8l0.3,1.4l0,1l-0.8,0.7l-1,0.4l-0.9,-0.4l-0.4,-0.9l-0.5,-0.8l-0.5,-1.4l-0.1,-2l-0.4,-2.6l-0.1,-3.1l0.4,-3l1.2,-2.7l1.5,-2.4l1.9,-1.6l1.5,-0.6l2.2,0.3l1.2,1.5l0.6,2.2l-0.3,2.8l-1.4,3l-3.1,2.7l-3.3,1.7l-3.6,0.4l-3.4,-0.8l-2.3,-1.8l-1.9,-2.5l-1.2,-3.1l0.2,-3.9l1,-2.8l1.3,-2l0.8,-1.6l0.3,-1l0.4,-1.5l0.5,-0.9l0.9,0.2l1.1,0.4l1.2,0.6l0.8,0.9l0.7,1.1l-0.6,1.3l-0.9,1.1l-0.8,1.1l-1,0.7l-1.7,0.3l-1.1,-0.3l-1.6,-1.2l-1.4,-1.8l-1,-2.4l-0.5,-2.9l0,-3.1l0.2,-2.7l1.1,-2.3l1.2,-2l1.2,-1.2l1.7,-0.5" stroke="#e0302a"/>
<path d="M501.2,160.6l-2.1,-0.4l-1.5,0.1l-0.8,0.4l0.5,0.5l1.4,0.5l2.3,0l2.3,-0.6l1.6,-1.1l0.9,-1.4l-0.6,-1.4l-1.4,-1.1l-0.8,-0.5l-0.2,-0.3l0.7,-0.4l1,-0.3l1.1,-0.1l1.4,0.3l0.5,0.4l-0.6,0.3l-1.3,0.1l-1.3,-0.2l-1.5,-0.4l-1.9,-0.4l-1.2,-0.7l0.7,-0.6l0.4,-0.7l0.3,-0.8l0.4,-0.8l0.6,-0.7l0.3,-0.4l-0.1,-0.3l-0.1,-0.3l0.1,-0.5l-0.2,-0.4l-0.4,-0.3l-0.4,-0.2l0,-0.1l-0.6,0l0.1,0.2l1.1,0.2l2.4,-0.1l2.2,-0.7l1.8,-1.3l0.5,-1.6l-1.3,-1.5l-2.6,-1l-2.9,-0.2l-2.1,0.3l-1,0.9l0.8,1l2.5,0.6l2.9,-0.2l3,-0.9l1.6,-1.5l0.1,-1.6l-1.8,-1.7l-2.8,-1.1l-3.4,-0.4l-2.5,0.6l-1,0.9l0.7,0.6l0.7,-0.1l0.1,-0.3l-0.4,-0.6l-0.7,-0.8l0.2,-0.9l0.4,-0.9l0.9,-0.8l0.8,-0.5l0.9,-0.4l1.1,-0.2l0.6,0l0.1,0l-0.1,-0.1l0.7,-0.2l0.2,0.0" stroke="#2c3c9e" stroke-width="1.2"/>
<path d="M396.6,162.9l0.6,0.5l1.5,0.4l2.7,0l2.9,-0.7l1.9,-1.3l0.3,-1.6l-1.4,-1.5l-2.4,-1.1l-3.3,-0.3l-2.6,0.3l-1.2,0.8l0.9,0.7l1.8,0.4l2.4,0.1l1.7,-0.4l0.8,-0.5l-0.1,-0.4l-0.8,-0.5l0.1,-0.5l0.5,-0.3l1.1,-0.4l1.5,-0.6l1.5,-0.9l0.5,-0.7l0.2,-0.4l0.1,-0.2l-0.6,-0.2l-0.9,-0.2l-1.4,-0.3l-1.5,-0.5l-1.2,-0.6l-0.9,-0.9l-0.2,-1l0.4,-0.7l0.5,-0.7l0.7,-0.6l0.7,-0.7l0.5,-0.6l-0.3,-0.6l-1.1,-0.5l-0.9,-0.2l-0.7,0l0,0.1l0.3,0.2l0.6,0l1,0.1l1.4,-0.1l1.3,-0.2l2,-0.4l1.7,-0.8l0.1,-1.2l-1.2,-1.2l-1.8,-0.8l-1.8,-0.5l-1.6,-0.2l-1.1,0.2l-0.3,0.2l0.2,0.3l0.5,-0.1l0,-0.4l-0.5,-0.5l-0.3,-0.6l-0.3,-0.7l0,-0.8l0.4,-0.8l0.5,-0.7l1.1,-0.7l1.2,-0.5l0.6,-0.4l0,-0.3l-0.5,-0.4l-0.7,-0.5l-0.8,-0.3l-1.2,-0.5l-1.5,0l-1,0.5l0.2,0.5l1.6,0.5l2.4,-0.1l2.6,-0.8l1.9,-1.4" stroke="#2c3c9e" stroke-width="1.2"/>
<path d="M416,162.2l-0.4,0.5l0.7,0.4l1.4,0.4l2.1,0l2.3,-0.5l1.7,-1.2l0.5,-0.9l0.2,-0.5l0.3,-0.6l0.2,-0.9l-0.3,-0.9l-1,-0.9l-1.9,-0.7l-1.9,-0.5l-1.9,-0.1l-0.9,0.3l0.5,0.5l1.4,0.3l2,0.1l2.3,-0.4l1.7,-0.7l1.1,-0.9l0.4,-0.9l0.1,-0.6l0.1,-0.5l0.1,-0.4l0.3,-0.2l0.1,-0.2l-0.2,-0.1l-0.2,-0.1l-0.6,-0.1l-1.1,-0.3l-0.8,-0.4l-0.7,-0.7l-0.9,-0.8l-0.2,-1.2l1,-1.1l1.4,-0.8l1.3,-0.2l0.7,0.1l0.3,0.1l-0.3,0.2l-0.6,0.1l-0.7,0l-1.5,-0.1l-1.7,-0.5l-1.2,-0.6l-0.5,-0.8l-0.1,-0.8l0.2,-0.8l0.3,-0.6l-0.1,-0.4l-0.2,-0.4l-0.1,-0.7l0.4,-0.7l1.2,-0.6l1.6,-0.5l1.6,-0.1l1.6,0.2l0.8,0.5l-0.1,0.5l-1.6,0.5l-2.3,0l-2.1,-0.7l-1.8,-1.3l-0.5,-1.5l0.9,-1.3" stroke="#2c3c9e" stroke-width="1.2"/>
<path d="M452.3,162.2l-1.1,-0.9l-2,-0.5l-2,-0.1l-1.5,0.3l0,0.5l1.1,0.6l0.9,0l0.6,-0.3l-0.1,-0.5l-0.2,-0.5l-0.7,-0.9l-0.8,-1l-0.1,-1.1l0.7,-1.1l1.3,-0.9l1.8,-0.7l2.2,-0.2l1.5,0.2l0.4,-0.1l0.2,-0.3l-0.2,-0.7l-0.6,-0.8l-1.4,-0.7l-0.6,-0.4l-1,-0.6l-1.4,-0.3l-0.2,-0.4l0.7,-0.5l-0.2,-0.1l-0.3,0l-0.3,0.3l0.5,0.2l0.9,0.4l1.2,0l1.3,-0.1l1.6,-0.4l1.3,-0.5l1.1,-0.8l0.8,-1l0.2,-1.1l-0.1,-0.7l0.3,-0.4l0.5,-0.1l0.2,0l-0.1,0.1l-1,0.2l-1.3,0l-1.7,-0.3l-1.9,-0.8l-0.9,-0.7l-0.3,-0.4l-0.2,-0.6l-0.1,-0.6l-0.1,-0.7l0.1,-0.7l0.3,-0.7l0,-0.6l-0.4,-0.5l-0.6,-0.3l-0.8,0l0.2,0.3l0.7,0.2l0.8,-0.1l0.5,-0.4l0,-0.5l-0.8,-0.3l-0.7,-0.5l-1.2,-0.4l-1,-0.8l-0.4,-1.1l0.5,-1.2l0.7,-0.7l0.2,-0.4l1,-0.6l1.1,-0.6l1.8,-0.6l1.9,-0.3l1.9,-0.1" stroke="#2c3c9e" stroke-width="1.2"/>
<path d="M514.7,156.9l-1.4,-1.1l-1.6,-0.7l-1.8,0.1l-1.6,1l-1.3,1.8l-0.8,2.3l-0.5,2.2l0.6,2l1.3,1.3l1.8,0.7l1.3,0.1l2,-0.7l2.1,-2l1,-2.2l1.1,-2.5l0.1,-1.7l-0.4,-1l0,-1.7l-0.2,-1.9l-0.5,-2.1l0.2,-2.2l-0.2,-2.2l-0.7,-2.2l-1.4,-0.7l-0.7,-0.2l-0.9,0.1l-0.7,0.5l-0.9,0.6l-0.9,1l-0.3,1.1l-0.5,1l0.3,1.8l1,1.7l1.7,0.9l1.1,0l0.4,-0.4l0.6,-0.6l0,-0.6l0.3,-1l0.2,-1l-0.3,-1l0.1,-0.6l-0.5,-0.9l0,-0.6l-0.5,-0.9l0,-0.7l-0.4,-0.4l0.4,-0.4l0.8,-0.3l1.2,-0.5l1.2,-0.6l0.3,-0.5l-0.1,-0.7l-0.4,-0.8l-1.1,-0.9l-0.9,-1.2l-0.8,-1.2l-1,-1.5l-0.6,-1.6l-0.4,-1.7l0,-1.5l0.3,-0.9l0.3,-0.4l0.3,-0.1l0.5,0l0.1,0.2l0.5,0.3l0.4,0.4l0.2,1.3l1.2,1.1l1.3,0.9l1.8,-0.4l1.1,-1.2l0,-1.2l-0.7,-0.4l0.2,-0.9l0.2,-1.1l0.4,-1.3l0.5,-1.6l0.9,-2l0.2,-2l-0.1,-1.9l-0.3,-1.9l-1.5,-1.8l-1.6,-1.2l-1.7,-1l-1.5,-0.5l-1,-0.1l-0.5,0.2l-0.4,0.5l-0.8,-0.1l-0.7,-0.5l-0.4,-0.8l-0.3,-1.1l0,-1.5l0.6,-1.4l0.7,-1.3l0.5,-0.9l0.7,-0.7l0.1,-0.4l-0.5,-0.1l-0.4,0.1l-0.9,0.5l-0.8,1.2l-0.7,1.3l-0.1,0.2l0,-0.7l0.5,-1.1l0.2,-1.2l0.4,-1.8l1,-2.1l0.9,-1.8l0.7,-1.6l1.5,-1.2l1.8,-1.5l1.8,-0.9l1.9,-0.1l1.7,0.7l1,1.8l0,0.8l0,-0.2l0,0.1l-0.1,1.1l0.1,1l-0.2,1.1l-0.7,1.2l-1.6,0.8l-1.5,0.4l-1.2,0.3l-1.4,-0.4l-1.9,-1l-1.4,-1.4l-1.5,-2l-1.3,-2.6l-0.7,-2.7l0.1,-2.5l0.5,-2.5l1.1,-2l1.6,-1.7l1.4,-1l2.2,-0.4l2.1,0.5l0.7,1l0.1,1.6l0.3,1.5l0.1,1.8l-0.7,1.6" stroke="#e0302a"/>
<path d="M475.9,163.3l-1.2,-1.1l-1.9,-0.6l-2.2,0.1l-1.1,0.6l0.8,0.8l2.3,0.4l2.9,-0.2l2.3,-1.1l0.4,-1l-0.3,-0.5l-0.4,-0.2l-0.5,-0.1l-1,-0.1l-1,-0.1l-1.7,-0.3l-1.6,-0.6l-1,-0.9l-0.4,-1.2l0.9,-1.1l1,-1.1l2,-0.9l2.5,-0.3l1.9,0.2l1.2,0.8l-0.5,0.9l-2,0.6l-2.6,-0.2l-2.6,-1l-1.9,-1.4l-0.3,-1.6l1.3,-1.5l2.2,-0.9l2.3,-0.3l2.2,0.1l1.5,0.6l0,0.8l-1.6,0.6l-3,-0.1l-2.7,-1l-1.3,-1.6l0.8,-1.7l2.8,-1.1l3.5,-0.2l1.7,0.6l0,0.8l-1.8,0.5l-2.6,0l-2.8,-0.9l-1.2,-1.4l0.6,-1.8l2.9,-1.3l3.9,-0.4l3,0.4l1.4,0.9l-0.7,1l-3,0.6l-3.9,-0.5l-3,-1.4l-0.7,-2l2,-1.8l3.3,-0.9l3.4,-0.1l1.5,0.2l0.1,-0.2l0.2,-0.3l-0.7,-0.7l-1.2,-0.8l-1.9,-0.6l-2.2,-0.2l-1.7,0.2l-1,0.7l0.3,0.7l1.3,0.4l1.1,-0.3l-0.1,-0.4l-0.6,-0.4l-1.6,-0.7l-1.1,-0.9l-1.1,-1.2l0.1,-1.2l0.7,-1.1l1.5,-1l2,-0.7" stroke="#2c3c9e" stroke-width="1.2"/>
<path d="M420.9,167.9l-0.6,-2.1l0,-2.2l-0.3,-2.1l-0.1,-2.1l0.4,-1.9l0.7,-1.6l0.2,-0.9l0.4,-0.6l0.3,-0.4l0,-0.2l0.6,-0.4l1.1,-0.6l1.2,-0.9l0.7,-0.9l0.5,-1.6l1.3,-1.3l1.4,-0.9l1.7,-0.2l1.4,0.6l1.1,1.4l0.4,2.1l0.2,1.2l-0.1,0.2l0,-0.5l0.3,-1l0.8,-1.6l0.5,-1.9l0.2,-2.6l-0.3,-2.7l-0.5,-1.5l0,-1l0.1,-0.1l0,1.1l0.5,1.2l0.2,0l0,-0.8l-0.2,-1l-0.1,-1.6l0.1,-1.7l-0.1,-1.5l-1,-1.5l-1.3,-1.1l-1.3,-0.5l-1,0l-1.2,0.7l-1.5,1.4l-1,2l-0.4,2l-0.2,2.3l0.5,1.8l1.6,1.5l1.6,0.6l1.7,-0.1l2.1,-0.9l1.2,-2l0.9,-2.6l0.5,-2.9l-0.7,-2.8l-0.9,-2.2l-0.9,-1.7l-1,-1.3l-1,-1l-0.5,-0.5l0.2,-0.4l0.8,-1.7l1.3,-1.3l1.3,-0.7l1.3,-0.3l0.7,-0.5l-0.3,-1l-0.8,-1.4l-1,-1.4l-1.7,-1.2l-1.3,-1l-1.7,-0.5l-1.6,-0.1l-2.2,0.6l-1.5,1.3l-1.4,1.7l-0.7,2.2l-1,2.2l-0.5,1.7l-0.2,0.5l-0.6,-0.5l-0.6,-0.9l-0.2,-0.1l-0.6,0.1l-0.4,0.2l-0.1,0.2l0.4,0.1l1.2,-0.2l1,-0.5l1.4,-0.9l1.2,-1.4l1.3,-1.7l1.2,-2.3l0.4,-3l-0.4,-2.7l-0.5,-2.6l-0.7,-2.2l-1.4,-1.8l-0.8,-1.1l-1,-0.6l-1.3,-0.2l-0.8,0.4l-0.8,0.6l-0.4,1l-0.1,1.1l0.3,1.1l0.6,1.1l0.7,0.6l1,0.3l1,-0.3l0.5,-0.8l0.7,-1.1l1.1,-1.1l0.6,-1.8l0.6,-2.3l0.1,-2.7l-0.2,-2.5l-0.6,-2.2l-0.6,-1.6l-0.9,-1.1l-0.4,-0.3l-0.6,0.2l-0.6,0.6l-1.4,0.5l-0.7,1.1l-0.4,1.5l0.2,1.4l0.5,1.6l1.7,1.7l2.1,1.5l1.6,-0.8l2.1,-1.3l2.5,-0.7l2,-1.8l1.1,-2.8l-0.1,-3.5l-0.5,-3.1l-1,-2.4l-0.8,-1.2l-0.6,-0.7l0.2,-0.2" stroke="#e0302a"/>
<path d="M452.4,163.3l0.1,-0.3l0.4,-0.5l0.9,-0.7l1.3,-0.6l0.5,-0.5l-0.4,-0.3l-0.5,-0.3l-0.9,-0.1l-0.5,0.1l-0.3,0.2l0.6,0.4l1.1,0l0.7,-0.3l0.2,-0.4l-0.3,-0.5l-0.2,-0.6l0.2,-0.8l0.3,-0.9l0.3,-0.6l0.3,-0.5l-0.1,-0.3l-0.2,-0.2l-0.6,-0.1l0.3,-0.1l0.9,-0.1l1.2,-0.3l1.1,-0.5l0.5,-0.8l-0.1,-0.9l-0.5,-0.9l-1.3,-0.5l-1.3,-0.3l-1.1,-0.1l-0.8,0.1l0.2,0l0.8,-0.2l0.8,-0.4l0.9,-0.1l0.7,-0.3l0.1,-0.2l0.2,-0.2l-0.2,-0.2l-1,-0.4l-1,-0.6l-1.1,-0.7l-0.7,-1.2l0,-0.9l0.4,-0.6l0.6,-0.2l0.5,-0.2l0.4,0l0.5,-0.3l0.2,-0.5l0.2,-0.6l0.1,-0.7l0.5,-0.7l0.8,-0.7l1.2,-0.6l1.7,-0.5l1.3,-0.1l0.6,0l0.4,0.2l-0.4,0.2l-0.8,0l-1.3,-0.2l-1.7,-0.6l-1,-0.8l-0.3,-1.1l0.2,-1.2l1.1,-1.1l1,-0.7l0.7,-0.5l1.5,-0.4l1.5,-0.2l0.6,-0.3l0,-0.3l-0.6,-0.5l-0.7,-0.5" stroke="#2c3c9e" stroke-width="1.2"/>
<path d="M507.2,166.1l-1.6,-0.9l-0.6,-1.3l0.9,-1.4l1.7,-0.9l2.5,-0.5l1.8,0.1l0.8,0.4l-0.4,0.5l-1.9,0.4l-2.4,-0.2l-2.6,-0.7l-1.2,-1.1l-0.1,-1.2l0.6,-1l1.5,-0.8l1.5,-0.3l0.7,-0.3l0.2,-0.2l-0.1,-0.4l0.2,-0.4l0.2,-0.4l-0.1,-0.4l-0.7,-0.5l-0.7,-0.2l-0.4,0l-0.2,0l0.1,0.3l1.1,0.1l2,-0.1l1.2,-0.4l0.5,-0.5l0.1,-0.4l-0.3,-0.3l-0.6,-0.5l-0.8,-0.6l-0.5,-0.9l0,-1l0.8,-0.9l1.3,-0.7l1.5,-0.4l1.3,-0.1l0.8,0.1l0.4,0.1l-0.3,0.2l-1.1,-0.1l-1.2,-0.3l-0.8,-0.6l-0.5,-0.7l-0.2,-0.9l0.5,-0.8l1.1,-0.8l1.3,-0.5l1.3,-0.2l0.8,0l-0.2,0.2l-1,0l-0.7,0l-0.5,-0.1l-0.2,-0.3l0,-0.4l0.3,-0.5l0.6,-0.4l0.8,-0.6l0.7,-0.9l0.3,-1.1l0,-0.7l0,-0.5l-0.4,-0.3l-0.4,-0.1l-0.4,0.1l-0.7,-0.1l-1.3,-0.1l-1.4,-0.1" stroke="#2c3c9e" stroke-width="1.2"/>
<path d="M469,165.2l0.6,-1.3l-0.4,-1.1l-1,-0.9l-1.5,-0.4l-1.3,0.2l-0.4,0.3l0.4,0.3l0.4,-0.2l0.3,-0.3l0.1,-0.5l-0.2,-0.6l-0.1,-0.6l0,-0.6l0.2,-0.7l0.4,-0.5l0.3,-0.6l0.6,-0.4l0.3,-0.3l0.6,-0.3l0.5,-0.2l0.1,0l-0.3,-0.1l-0.9,-0.2l-0.7,0.1l-1.5,-0.2l-1.6,-0.8l-0.7,-1.2l0.7,-1.4l0.9,-0.9l0.4,-0.6l0.7,-0.6l1.8,-0.6l2.1,-0.3l1.6,0.5l0.5,0.6l-0.6,0.5l-1.2,0.1l-1.7,-0.2l-1.1,-0.7l-0.9,-0.9l0,-1l0.8,-0.9l1,-0.7l1.6,-0.3l1,-0.2l0.5,0.1l0.1,0l-0.6,0l-1,-0.2l-1.2,-0.3l-1,-0.7l-0.4,-0.9l0.5,-0.9l1.1,-0.7l1.3,-0.4l1.6,-0.3l1.2,0.2l-0.3,0.5l-1.4,0.4l-2.1,-0.1l-2.1,-0.7l-1.3,-1.4l0.4,-1.7l2,-1.4l3.5,-0.8l3.3,0.2l1.9,1l-0.5,0.9l-2.1,0.6l-2.8,-0.3l-2.7,-0.8l-1.7,-1.4l-0.3,-1.4l0.8,-1.2l1.5,-0.9l2.2,-0.5l1.1,-0.2l0.8,-0.3l0.3,-0.3l-0.2,-0.5l-0.8,-0.5l-1.4,-0.4l-1.5,-0.2l-1.3,0.2l-0.9,0.4l0.2,0.4" stroke="#2c3c9e" stroke-width="1.2"/>
<path d="M524,164.4l0.1,0.4l-0.5,0.3l-1.1,0l-1.6,-0.3l-1.4,-0.7l-0.8,-1l-0.3,-1.3l0.7,-1.2l1.7,-1l2.2,-0.7l2.4,-0.1l1.8,0.3l0.6,0.6l-1.1,0.6l-2.2,0.4l-3.1,-0.6l-1.9,-1.1l-0.7,-1.4l0.6,-1.3l1.8,-0.9l1.3,-0.4l0.4,-0.4l0.1,-0.4l-0.8,-0.3l-1.3,-0.3l-1.1,-0.1l-0.7,0.1l-0.1,0.2l0.2,0.3l1.2,0.1l1.6,-0.2l1.1,-0.3l0.3,-0.4l-0.1,-0.4l-0.8,-0.5l-1.4,-0.5l-0.5,-0.6l0,-0.4l0.4,-0.3l0.4,-0.1l1,-0.2l1.1,0l1.2,-0.2l1.8,-0.4l1.4,-0.9l0.4,-0.7l0.6,-1l0.1,-1l-0.4,-1.1l-1.2,-1l-1.6,-0.7l-1.8,-0.3l-1.6,0l-1,0.3l-0.2,0.4l1.2,0.3l1.5,0l1.6,-0.3l1.8,-0.7l1.5,-0.8l0.8,-1.1l0,-1.2l-1.6,-1.2l-2.2,-0.7l-2.7,-0.2l-1.8,0.6l-0.2,0.2l0.5,0.4l1.3,0.3l1.9,0l2.4,-0.2l1,-0.5l1.5,-0.6l1.1,-1l0.7,-1.1l-0.4,-1.2l-1.4,-0.9l-1.7,-0.6l-1.7,-0.3l-1.1,0.1l-0.3,0.2l0.7,0.2l1.2,0l1.2,-0.3l1.5,-0.5" stroke="#2c3c9e" stroke-width="1.2"/>
<path d="M419.1,170.3l1.7,-0.7l1.2,-1.3l1.3,-2l0.9,-1.2l0.8,-0.7l0.4,-0.3l0.6,0.1l0.1,0.6l-0.2,1l-0.7,0.8l-0.9,0.6l-1.7,0.4l-0.3,-0.2l0.5,-0.5l1,-0.7l1.4,-1l1.4,-1.4l1,-1.9l0.5,-2.1l0.8,-2.5l0.4,-3.1l-0.3,-3l-1,-2.9l-1.5,-3l-1.9,-2.5l-2.2,-2.1l-2.5,-1l-2.1,0.2l-2.1,1.3l-1.9,2.5l-0.8,3.2l0.4,3l0.8,2.5l1.7,2l1.9,1.1l1.7,0l2.2,-1l1.4,-2.9l0.5,-2.7l0.2,-3l-0.4,-2.9l-1.3,-2.8l-1,-1.6l-0.3,-0.9l-0.5,-0.5l0,-0.6l0.4,0l0.6,0.7l0.1,1l-0.1,1.3l-0.4,1.3l-0.8,1.4l-1.3,1.2l-1.6,0l-1.7,-0.7l-0.9,-1.4l-0.5,-2.2l-0.9,-2.3l-0.8,-2.2l0.2,-2.7l0.1,-2.5l0.7,-1.8l0.5,-1.4l0.9,-0.9l0.8,-0.6l0.9,-0.2l0.3,0.3l0.3,0.8l-0.1,0.9l-0.8,0.7l-0.1,0.6l0,0.6l-0.1,0.6l-0.6,0.4l-0.8,0.3l-1.3,-0.1l-1.6,-0.5l-1.4,-0.9l-1.3,-0.9l-1.4,-1.7l-1,-2.4l-0.7,-2.5l-1.1,-1.4l-0.7,-0.4l-0.5,0.2l-0.5,0.5l-0.1,0.7l1.5,0.7l1.5,0.7l1.3,0.4l1.5,0l1.6,-0.4l1.5,-0.9l1.3,-1.3l1,-1.4l1.1,-1.7l1.5,-2l1,-1.1l1,-0.4l0.5,0l-0.1,0.2l0,0.2l-0.9,0.3l-0.1,0.1l-0.3,-0.3l0.3,-0.6l0.4,-0.8l0.1,-1l0.6,-1.1l0.5,-1.6l0.1,-1.5l-0.2,-1.6l-0.3,-0.9l-0.2,-0.3l0.3,-0.2l-0.3,0.1l-0.1,-0.6l0.2,-0.8l0,-0.9l0.4,-1.3l0.2,-1.3l0.1,-1.2l-0.9,-1.4l-1,-1.2l-1.3,-0.9l-1.2,-0.8l-1.1,-0.5l-1,-1.4l-1.5,-0.5l-1.1,0.3l-0.5,0.2l-0.5,-0.5l-0.6,-1.2l0.2,-1.3l-0.2,-0.5l0.2,-1.4l0.3,-1.6l-0.2,-0.7l0.4,0.3l0.3,0.4l0.3,0.7l0.5,0.8l0.2,0.7l0.2,0.7l0.3,0.7" stroke="#e0302a"/>
<path d="M406.1,164.8l-0.4,0.5l0.9,0.5l2.2,0.2l2.2,-0.3l2.1,-0.7l1.2,-1.1l0.3,-1.1l-0.8,-1.2l-1.5,-0.9l-2,-0.5l-2,0.1l-1,0.7l0.6,0.5l2.1,0.4l2.9,-0.3l2.6,-0.8l1.9,-1.3l0.3,-1.4l-1.4,-1.3l-2.2,-0.7l-2.3,-0.1l-1.5,0.3l-0.4,0.8l1.3,0.7l2.4,0.2l2.5,-0.3l2.2,-1l1.3,-1.3l-0.3,-1.4l-1.4,-1.3l-2.3,-0.9l-2.3,-0.1l-1.1,0.4l0.1,0.6l1.2,0.6l2.3,0.1l2.9,-0.5l2,-1.2l0.6,-1.5l-0.7,-1.3l-0.6,-0.7l-0.1,-0.6l1,-0.4l1.1,-0.3l1,-0.1l0.7,0.1l0.3,0.3l-0.3,0.4l-0.7,0.4l-1.5,0.3l-2.5,0.1l-1.4,-0.4l-0.1,-0.3l0.3,-0.4l0.6,-0.8l0.8,-0.9l0.5,-1l0.1,-1.1l-0.2,-1l-0.6,-0.9l-1.2,-0.6l-1.5,-0.4l-0.5,-0.2l-0.6,-0.5l0.2,-0.6l0.6,-0.6l1.1,-0.5l1.4,-0.3l1.1,0.1l0.1,0.5l-0.9,0.4l-1.5,0.2l-1.2,-0.1l-0.2,-0.4l-0.8,-0.3l-1.3,-0.4l-1.4,-0.6l-1,-0.7l-0.6,-0.9l-0.3,-1l0.2,-1.1l0.6,-1.0" stroke="#2c3c9e" stroke-width="1.2"/>
<path d="M439.9,165.3l0,0.4l-0.8,0.2l-1.3,0.1l-1.8,-0.3l-1.6,-0.8l-0.8,-1.2l0.3,-1.3l0.8,-0.7l0.1,-0.7l1,-0.6l1.5,-0.5l1.7,-0.3l0.9,-0.2l0.2,-0.3l-0.1,-0.5l-0.8,-0.4l-1.4,-0.3l-0.3,-0.4l0.3,-0.4l0.9,-0.4l1,-0.4l1.1,-0.3l0.9,-0.1l0.9,-0.1l0.5,0.1l-0.1,0.2l-0.8,0.1l-0.5,-0.3l0.3,-0.5l0.6,-0.5l0.6,-0.7l0.4,-0.7l0.2,-0.9l-0.6,-0.9l-1.3,-0.8l-1.3,-0.5l-0.9,-0.1l-0.9,0.1l-0.3,0.3l0.7,0.3l0.4,-0.2l-0.6,-0.1l-1,-0.5l-0.8,-0.7l-0.7,-1.1l0.3,-1.4l0.3,-0.7l-0.4,-0.2l-0.4,-0.1l-0.3,0.3l0.2,0.3l0.7,0.4l1.5,0.2l2.3,0.1l2.8,-0.4l2.3,-0.9l1.8,-1.4l0.4,-2l-1.5,-1.6l-3.2,-1.2l-3.3,-0.3l-2.7,0.5l-1.1,1l1,1l2.7,0.6l3.6,-0.1l2.9,-1.0" stroke="#2c3c9e" stroke-width="1.2"/>
<path d="M504.5,165.1l2,-1l2.7,-0.4l2.3,0.2l1.2,0.4l-0.1,0.5l-1,0.3l-1.4,-0.2l-1.9,-0.7l-1.1,-1l0.2,-1.2l1,-1.2l2,-1l2.1,-0.3l1.9,0.1l0.9,0.6l-0.4,0.6l-1.9,0.2l-1.9,-0.4l-1.4,-0.9l-0.7,-1.2l0.6,-1.3l1.6,-1l1.7,-0.6l1.7,-0.2l1.3,0.2l0.5,0.5l-0.1,0.6l-1.4,0.3l-2.4,-0.2l-2.3,-0.8l-1.3,-0.9l-0.7,-0.6l-0.2,-0.4l0.2,0l1.1,0.2l2,0.1l1.2,-0.2l0.2,-0.4l-0.2,-0.4l-0.6,-0.5l-1,-0.6l-1.5,-1l-1,-1.2l-0.5,-1.2l0.5,-1.4l1.3,-1.2l2.1,-0.9l2.7,-0.4l1.7,-0.2l0.6,-0.4l0.1,-0.4l-1,-0.5l-1.7,-0.6l-2.4,-0.2l-0.3,-0.3l0.2,-0.4l-0.5,-0.3l-0.3,0.1l-0.2,0l-0.5,0.3l0,0.3l0.2,0.3l0.5,0l0.8,-0.1l1.2,-0.5l1.1,-0.6l0.6,-0.9l0,-1l-0.8,-0.9l-1.2,-0.6l-1.2,-0.3l-1.3,-0.1l-1.5,0.1l-0.3,0.4l0.8,0.3l2,0.1l2.4,-0.6" stroke="#2c3c9e" stroke-width="1.2"/>
<path d="M405,166.4l1,0.3l1.4,0.1l2,-0.3l2.3,-0.8l1.1,-1l0.2,-1.1l-0.5,-1.2l-1.3,-0.9l-0.5,-0.4l-0.2,-0.4l0.2,-0.4l0.9,-0.4l1.3,-0.2l1.3,0.2l0,0.5l-0.9,0.5l-0.6,0.1l-0.1,-0.3l0.5,-0.5l0.8,-0.6l0.3,-0.5l-0.2,-0.3l0.5,-0.5l0.3,-0.4l-0.3,-0.3l-0.8,-0.3l-1.1,-0.4l-1.3,-0.6l-1,-0.9l-0.6,-1l0,-1l1,-0.9l1.1,-0.5l1.3,-0.1l0.9,0.1l0,0.3l-1,0.2l-1.5,0.1l-2,-0.4l-1.7,-0.9l-0.8,-1.1l0.3,-1.2l1.4,-1l1.6,-0.7l2.1,-0.3l1.1,-0.1l0.3,-0.2l-0.1,-0.4l-0.3,-0.6l-0.7,-0.7l-0.4,-0.3l0.2,-0.3l0.6,-0.2l0.9,-0.2l0.9,0.2l0.1,0.4l-0.8,0.3l-0.7,-0.2l-0.3,-0.4l0.6,-0.5l0.7,-0.6l0.5,-0.8l0.4,-0.9l0,-0.8l-0.3,-0.9l-1,-0.7l-1.4,-0.4l-1.4,-0.1l-0.9,0.2l0,0.4l1.4,0.2l1.6,-0.2l1.3,-0.4l1.1,-0.8" stroke="#2c3c9e" stroke-width="1.2"/>
<path d="M466.1,167.4l1.2,-1l0.4,-1.1l-0.2,-1.1l0,-0.6l0,-0.4l0.8,-0.3l1,0l0.5,0.2l0,0.4l-1.3,0.1l-1.8,0l-2.2,-0.4l-1.6,-0.8l-1.2,-1.1l-0.3,-1.3l0.7,-1.1l1.7,-0.8l2,-0.4l1.5,0.2l0.6,0.3l-0.2,0.4l-0.8,0l-1.7,-0.1l-1.8,-0.6l-0.4,-0.5l0.3,-0.5l0.8,-0.2l0.7,-0.2l1,-0.1l1.3,-0.3l1.7,-0.4l1.7,-0.7l1.3,-1l0.1,-1.4l-1,-1.2l-2.1,-0.8l-2,-0.3l-1.4,0l-0.8,0.2l0.2,0.2l0.9,0.2l1.4,-0.1l1.5,-0.2l1.5,-0.6l1.2,-0.9l-0.2,-1.1l-0.9,-1.2l-1.7,-0.9l-1.8,-0.5l-2.1,0l-1.3,0.5l0.2,0.8l2.1,0.3l2.6,-0.2l2.1,-0.8l1.2,-1.2l-0.1,-1.1l-1.1,-1l-1.5,-0.7l-1.5,-0.4l-0.9,-0.4l-0.3,-0.5l0,-0.6l-0.4,-0.3l-0.4,-0.1l-0.7,0.3l-0.3,0.4l1,0.5l1.9,0l1.8,-0.4l1.6,-0.7" stroke="#2c3c9e" stroke-width="1.2"/>
<path d="M411.9,164.8l2,-0.5l1.8,-0.2l1.4,0.1l1.2,0.3l0.2,0.5l-0.6,0.3l-1.1,-0.1l-1.4,-0.5l-1.6,-0.9l-0.7,-1.2l0.2,-1.2l1,-1l1.7,-0.7l0.8,-0.4l0.5,-0.4l-0.2,-0.5l0.2,-0.4l0.6,-0.4l1,-0.4l1.1,-0.3l1,0l1.2,0.2l0.4,0.5l-1.1,0.4l-1.6,0l-1.7,-0.4l-1.5,-0.8l-0.5,-0.9l0.2,-1l0.9,-0.9l1,-0.7l1.2,-0.4l0.7,-0.3l0.3,-0.3l-0.2,-0.4l-0.5,-0.5l-0.8,-0.4l-1,-0.3l-0.7,-0.1l-0.5,0l0.4,0l0.5,-0.1l0.1,-0.2l-0.1,-0.4l-0.8,-0.6l-0.4,-0.7l-0.1,-0.7l0.5,-0.7l0.8,-0.7l1.1,-0.6l0.9,-0.4l1,-0.2l0.1,-0.4l-0.2,-0.4l-0.5,-0.4l-0.5,-0.7l-1.1,-0.6l-1.3,-0.4l-1.5,-0.1l-1.1,0.1l-0.2,0.2l0.3,0.4l0.8,0.3l1.7,0l2.4,-0.3l2.4,-0.9l1.3,-1.1l0.3,-1.2l-0.9,-1.3l-2.2,-1.1l-2.5,-0.5l-2.1,-0.1l-1.5,0.4l-0.2,0.7l0.7,0.5l2,0.3l2.7,-0.3l2.4,-0.7l2.1,-1.4l0.6,-1.4l-0.7,-1.3l-1.9,-0.9l-2.7,-0.5" stroke="#2c3c9e" stroke-width="1.2"/>
<path d="M457.8,165.3l-2.1,-0.7l-1.8,0l-1,0.3l0.2,0.6l1.7,0.4l2.4,0l2.4,-0.5l1.4,-1.3l0,-1.3l-1.3,-1.1l-2,-0.8l-2.3,-0.4l-1.2,-0.3l-0.7,-0.4l0.2,-0.6l1,-0.8l1.6,-0.6l2.3,-0.2l1.9,0.3l1.2,0.7l-0.4,0.9l-1.6,0.6l-1.4,0l-0.3,-0.4l0.5,-0.5l0.9,-0.6l0.8,-0.7l0.6,-0.9l0.4,-1.1l-0.2,-1.2l-0.7,-1.2l-1.5,-1.1l-2.7,-0.7l-2.5,-0.1l-1.8,0.4l-0.5,0.8l0.6,0.2l0.2,-0.1l-0.2,-0.4l-0.4,-0.6l-0.5,-0.9l0.2,-1.2l1.2,-1.3l2.3,-1.2l3.2,-0.7l3.5,0l2.7,0.6l0.4,1.1l-1.5,0.7l-2.4,0.1l-2.5,-0.7l-1.4,-1.2l0.3,-0.9l0.5,-0.9l1,-0.7l1,-0.6l0.9,-0.5l1,-0.4l0.5,-0.3l0.3,-0.1l0.1,0l-0.3,0.1l-0.6,-0.1l-1.1,-0.2l-0.8,-0.4l-0.6,-0.6l-0.6,-0.7" stroke="#2c3c9e" stroke-width="1.2"/>
<path d="M485.6,165.6l-0.4,-0.3l0.3,-0.4l1,-0.5l0.3,-0.4l0.1,-0.4l-0.4,-0.3l-0.5,-0.1l-0.3,0.1l-0.2,0.1l0,0.1l0.5,0.1l0.8,-0.1l0.5,-0.3l0,-0.2l-0.3,-0.3l-0.5,-0.4l-1,-0.6l-0.7,-0.9l-0.1,-1.2l0.6,-1.1l1.3,-0.9l1.6,-0.6l1.4,-0.2l1.4,0l0.7,0.3l0.3,0l-0.3,0.1l-0.9,0l-1.1,-0.1l-1.4,-0.5l-1.4,-0.8l-0.6,-0.7l-0.2,-0.5l0.1,-0.3l0.4,-0.2l0.7,-0.1l0.8,-0.1l1.1,-0.2l1.4,-0.4l1.5,-0.7l0.9,-0.9l0.2,-1.1l-0.6,-1l-1,-0.6l-1.4,-0.4l-1.2,0l-0.6,0.2l0,0.2l0.7,0l1.1,-0.4l0.8,-0.7l0.1,-0.9l-0.1,-0.9l-1.1,-0.9l-2,-0.7l-1.3,-0.3l-0.7,-0.4l-0.4,-0.4l0.5,-0.6l1.2,-0.6l1.6,-0.4l1.8,-0.1l1.2,0.2l0.3,0.2l0,0.2l-0.1,0.4l-1.6,0.4" stroke="#2c3c9e" stroke-width="1.2"/>
<path d="M438.7,167.6l-0.9,0.3l-1.5,0.2l-1.8,-0.3l-2.2,-0.8l-1.2,-1.3l0.5,-1.7l2.2,-1.3l3.1,-0.8l2.8,-0.1l2.3,0.5l1,0.6l-0.8,0.8l-2.4,0.4l-3.1,-0.2l-3.1,-0.9l-1.7,-1.4l-0.1,-1.5l1,-1.3l1.9,-1l2.4,-0.6l2.6,-0.1l2.3,0.2l1.7,0.6l0,0.7l-1.3,0.5l-2.3,0.1l-2.5,-0.5l-2.2,-1l-0.6,-0.9l-0.1,-0.4l0,-0.3l0.5,0l0.9,0.1l1.7,-0.1l1.9,-0.4l1.9,-0.7l1.5,-1.2l0.6,-1.5l-0.7,-1.4l-1.9,-1l-2.7,-0.6l-2.2,-0.1l-2,0.5l-0.7,0.6l0.5,0.5l1.6,0.2l2.1,-0.2l2.1,-0.7l1.2,-1.1l0.6,-1.4l-0.7,-1.3l-1.7,-1l-2.5,-0.4l-2.2,0.2l-0.8,0.5l0.1,0.5l1.3,0.4l1.9,-0.1l2.6,-0.6l1.9,-1.1l0.2,-1.5l-1.2,-1.3l-1.1,-0.8l-0.4,-0.4l0.1,-0.4l0.5,-0.2l0.7,-0.1l0.7,0l0.2,0.1" stroke="#2c3c9e" stroke-width="1.2"/>
<path d="M502.9,167.8l-0.7,0.5l-1.5,0l-1.8,-0.5l-1.3,-0.9l-0.3,-1.1l0.1,-1.3l1.3,-1l1.9,-0.7l2.7,-0.2l2.1,0.4l0.4,0.6l-0.6,0.4l-0.5,-0.1l0,-0.4l0.5,-0.5l0.6,-0.7l0.3,-0.8l0.3,-1l-0.3,-1.1l-1.1,-1l-1.8,-0.7l-2,-0.2l-1.3,0.4l-0.2,0.5l1.1,0.6l2.2,0.2l2.6,-0.5l1.7,-1l1,-1.2l-0.3,-1.2l-0.9,-1l-1.6,-0.7l-2,-0.4l-1.2,0.1l-0.4,0.4l0.6,0.6l1.2,0.2l1.5,-0.1l2.1,-0.6l1.7,-1l0.1,-1.2l-0.8,-1.1l-1.6,-0.9l-2,-0.6l-2,-0.2l-1.3,0.3l-0.1,0.4l0.5,0.3l1,0.1l1.8,-0.2l1.6,-0.8l0.9,-1l-0.2,-0.7l-0.1,-0.5l-0.1,-0.4l-0.2,-0.3l-0.4,-0.1l-0.4,-0.2l-0.7,-0.1l-0.9,-0.3l-1.3,-0.1l-1.9,-0.7l-1.2,-0.7l-0.8,-0.6l-0.6,-0.4l-0.2,-0.1l0.2,0.1l0.1,-0.5l-0.4,-0.8l-0.3,-0.8l0,-0.9l0.3,-0.5l0.3,-0.3l0.2,-0.3l0.2,-0.1l0.3,-0.1l1,0l1,-0.1l1.5,-0.3l1.6,-0.6l1.7,-0.8l0.6,-1.2l-0.6,-1.2l-1.3,-0.8" stroke="#2c3c9e" stroke-width="1.2"/>
<path d="M507.9,160.7l0.4,-0.7l-0.1,-0.5l0.2,-0.5l-0.6,-0.5l-0.6,-0.4l-0.6,-0.2l-1.3,0l-1.2,0.5l-1.1,0.9l-0.7,1.4l0,1.8l0.1,1.8l1.2,1.8l2,1.4l2.2,0.7l2.8,-0.4l2.1,-2.2l0.8,-1.9l0.1,-1.1l0.2,-0.5l-0.5,-0.1l-0.6,-0.1l-0.4,-0.3l-0.8,-0.4l-1.6,-0.6l-1.1,-1l-1.3,-1.3l-0.5,-1.7l-0.7,-0.7l-0.3,-0.3l-0.2,0.2l0,-0.2l0.2,0.6l0.8,0.2l1.4,-0.4l1.3,-1.1l1,-1.7l1.1,-2.5l1.2,-3.1l0.3,-3.4l-0.6,-1.5l-0.1,-0.6l0.2,-0.2l-0.2,0.3l-0.3,0.8l-0.6,0.8l-0.4,0.8l-0.7,0.8l-1.1,0.8l-1.3,0.4l-1.3,0l-1.1,-0.7l-0.7,-1.1l-0.7,-1.8l0.1,-1.9l0.5,-2.3l1.3,-1.2l1.2,-0.5l0.6,0.3l0.6,0.3l0.5,0.8l1.1,0.9l1.5,0.6l1.7,0.1l1.7,-0.2l1.6,-1.1l1,-1.6l0.7,-2.6l0.1,-2.5l-0.4,-2.2l-0.8,-2l-1.4,-1.6l-1,-1.1l-0.9,-0.8l0.1,-0.6l-0.1,-0.3l0.2,-0.3l-0.1,-0.3l-0.5,-0.8l0.1,-0.8l-0.1,-0.8l-0.2,-1l1.1,-0.8l1.5,-0.4l1.4,0l0.9,0.2l0.7,0.3l0.2,0.4l0.2,0.7l0.1,0.7l-0.6,0.8l-0.7,0.7l-0.5,0.4l-0.1,0.1l0.1,-0.2l0.8,-0.5l0.9,-0.6l0,-0.4l-1.2,-0.5l-1.5,-0.5l-1.4,-0.7l-1.7,-1l-1.7,-0.9l-1.1,-0.5l0.1,-0.4l0.3,-0.4l0.6,-0.3l0.2,-0.5l-0.2,-0.6l0,-0.7l0,-0.8l-0.3,-0.9l-0.5,-1.3l-0.1,-1.7l0.6,-1.8l0.2,-2l0.5,-1.8l0.6,-1.8l0.8,-2l0.8,-1.6l1,-1.3l1.1,-0.8l1.2,-0.1l1.3,0.5l0.7,0.3l0,-0.4l-0.8,-0.7l-1,-1.1l-0.7,-1.2l-0.9,-1.2l-1.3,-1.1l-0.9,-0.8l-1.5,-0.5l-1.2,-0.1l-1.2,0.3l-0.7,0.5l-1.2,0.7l-1.4,1.1l-1.1,1.8l-0.7,1.9l0.3,1.8l0.7,1.3l1.4,0.6l0.6,-0.2l-0.2,-1.4l-0.8,-1.3l-1.4,-1.1" stroke="#e0302a"/>
<path d="M487.5,169.6l1.8,-1l0.8,-1.2l0,-1.1l-0.8,-1l-1.7,-0.7l-2.1,-0.3l-1.6,0.2l-0.7,0.5l0.6,0.5l1.5,0.2l2.2,-0.2l2.1,-0.8l1,-1.3l-0.2,-1.3l-1.6,-1.1l-1.1,-0.6l-0.5,-0.5l0.6,-0.3l1.6,-0.3l1.6,-0.1l1.3,0.1l1,0.3l0,0.4l-1.2,0.4l-2,0l-2.3,-0.4l-1.9,-0.8l-1.3,-1.2l-0.3,-1.5l1.5,-1.6l2.5,-1l3.3,-0.3l2.6,0.4l0.9,0.1l0.1,-0.4l-0.5,-0.7l-0.9,-0.8l-1.2,-0.8l-2.2,-0.6l-2.2,-0.2l-1.7,0.2l-1.3,0.5l0,0.7l1.1,0.4l1.6,0.2l2.5,-0.1l2.3,-0.5l1.1,-1.3l-0.2,-0.7l-0.3,-0.8l0.1,-0.7l0,-1l-0.7,-1.1l-1.6,-0.7l-1.4,-0.4l-1.1,-0.1l-0.8,0.1l-0.3,0.3l0.5,0.2l1,0.1l1.4,-0.2l1.4,-0.4l1.1,-0.8l0.8,-0.9l0,-1l-0.9,-0.9l-1.3,-0.6l-1.1,-0.3l-0.9,-0.2l-0.8,0.1l-0.2,0.1l0.3,0.1l0.2,-0.2l0,-0.4l-0.3,-0.4l0.2,-0.3l0.5,-0.2l1.1,-0.3l0.9,-0.3l1.4,-0.6l1,-0.8l0.5,-1.1" stroke="#2c3c9e" stroke-width="1.2"/>
<path d="M434.4,166.7l-1.5,0l-0.7,0.4l0.1,0.4l1,0.4l1.7,0l2.4,-0.5l1.9,-1l0.8,-1.4l-0.4,-1.2l-0.3,-0.6l0.3,-0.5l0.3,-0.3l0.8,-0.2l1.1,0.1l0.4,0.2l-0.2,0.5l-1.2,0.3l-1.9,-0.2l-1.9,-0.5l-1.6,-1.1l-0.6,-1.3l0.5,-1.4l1.6,-1.1l2.6,-0.5l2.3,0.2l1.1,0.5l-0.8,0.5l-1.6,0.2l-0.9,-0.3l-0.2,-0.4l0.1,-0.5l0.7,-0.5l0.8,-0.7l0.4,-0.8l0.1,-1l-0.3,-0.8l-1.3,-0.7l-1.4,-0.3l-0.8,0l-0.1,0.1l0.5,0.2l1.2,0.1l1.4,-0.4l1.4,-0.6l0.8,-1l0.1,-0.7l-0.2,-0.4l0,-0.3l0.1,-0.3l0.1,0l-0.3,0.2l-1.3,0.2l-1.9,-0.2l-2,-0.4l-2.1,-0.9l-0.9,-0.6l-0.1,-0.6l0.5,-0.2l0.6,-0.2l1.1,-0.3l1.3,-0.4l1.3,-0.6l0.9,-0.9l0.5,-0.9l0.4,-0.9l-0.2,-0.9l-0.7,-0.8l-1.2,-0.6l-1.5,-0.3l-0.5,-0.4l-0.1,-0.4l0.9,-0.5l1.3,-0.5l1.8,-0.4l1.8,-0.1l1.5,0.1l0.5,0.4l-0.2,0.5" stroke="#2c3c9e" stroke-width="1.2"/>
<path d="M472.4,170.1l0.4,-0.4l0.9,-0.4l0.8,0l0.1,-0.2l-0.6,-0.5l-0.8,-0.6l-0.2,-1.2l0.1,-1.2l1.1,-1.2l1.9,-0.8l1.8,-0.4l1.2,-0.5l0.9,-0.4l0.4,-0.5l0,-0.6l-0.5,-0.6l-1.1,-0.7l-1.5,-0.4l-0.2,-0.4l0.5,-0.5l1.5,-0.2l1.6,-0.2l1.4,0l1,0.2l0.6,0.4l-0.5,0.6l-1.7,0.4l-2.3,-0.1l-2.1,-0.6l-1.3,-1.1l-0.5,-1.4l0.9,-1.2l1.3,-1l1.7,-0.6l1.8,-0.3l1.6,0.2l0.2,0l-0.4,-0.4l-0.3,-0.5l-0.2,-0.8l-0.8,-0.8l-1.5,-0.7l-2.2,-0.4l-2.1,0l-1.6,0.2l-0.5,0.7l0.9,0.8l2,0.4l2.5,0l3,-0.7l2,-1l0.9,-1.4l-0.2,-1.6l-1.4,-1.3l-2.4,-0.9l-2.3,-0.1l-1.6,0.5l-0.1,0.9l1.1,0.5l2.2,0.2l2.7,-0.5l2,-0.9l1,-1.2l0,-1.3l-1.2,-1.2l-2.4,-0.8l-2.8,-0.2l-1.3,-0.1l-0.4,-0.3l0.3,-0.6l0.7,-0.7l1.4,-0.5l1.5,-0.4l1.6,-0.3l1.4,-0.2l1,0.1l1,0.2l0.3,0.3l-0.3,0.2l-1.3,0.3l-2.5,0l-2.4,-0.6l-2,-0.8l-1.2,-1.3l0,-1.3l1.1,-1.3" stroke="#2c3c9e" stroke-width="1.2"/>
<path d="M490.3,168.7l0.7,0.6l1.8,0.2l2.4,-0.3l2,-0.9l0.6,-1.2l-0.6,-1.2l-1.2,-0.8l-1.3,-0.5l-1.4,-0.3l-1,0l-0.2,0.1l0.3,0.2l1.2,0l1.6,-0.3l1,-0.5l0.3,-0.4l0.3,-0.4l-0.1,-0.4l-0.3,-0.3l-0.4,-0.1l-0.9,-0.3l-1.2,-0.5l-1,-0.8l-0.5,-1.1l0.2,-1.1l1.2,-1.1l2.2,-0.9l2.4,-0.4l2.3,0.1l1.6,0.6l0.5,0.1l0.2,-0.4l-0.1,-0.7l-0.1,-0.9l-0.6,-0.9l-1.2,-0.8l-2.1,-0.7l-2.5,-0.2l-2.4,0.3l-1,0.7l1,0.7l2.1,0.3l2.6,-0.3l2.1,-0.9l0.9,-1.4l-0.2,-1.3l-1,-1.1l-1.7,-0.6l-2,-0.2l-1.8,0.2l-0.8,0.6l0.7,0.5l0.8,0l0,-0.5l-0.2,-0.8l-0.2,-0.9l0.3,-1.1l0.5,-0.8l0.9,-0.8l1.3,-0.8l2,-0.8l2.3,-0.5l2.4,0l1.6,0.4l0.4,0.7l-0.9,0.6l-2.7,0.4l-1.5,-0.2l-0.4,-0.3l0.8,-0.7l1.2,-0.7l0.8,-1l0.2,-0.9l-0.2,-1.1l-0.4,-0.6l-0.3,-0.5" stroke="#2c3c9e" stroke-width="1.2"/>
<path d="M521.2,169.7l-1.6,0.1l-2.2,-0.4l-1.8,-0.8l-0.7,-1l0.3,-1.1l0.9,-0.7l1.2,-0.5l1.2,-0.2l0.7,0.1l0.2,0.1l-0.2,0l-0.7,-0.1l-0.6,-0.4l-0.8,-0.6l-0.4,-0.7l0.2,-0.9l0.4,-0.9l1.2,-0.7l1.4,-0.5l1.3,-0.1l0.3,-0.1l0.1,-0.3l-0.1,-0.5l-0.3,-0.4l-0.4,-0.6l-0.5,-0.4l-0.8,-0.4l-1.2,-0.5l-1.4,-0.2l-1,0.2l-0.5,0l-0.2,-0.3l0.1,-0.7l0.2,-1l1,-1l1.6,-1.1l0.8,-0.5l0.1,-0.3l-0.2,-0.1l-0.9,0.2l-0.6,0.3l0.1,0.6l1.6,0.6l2.3,0.2l2.3,-0.3l2.4,-0.8l1.4,-1.4l0,-0.9l-0.6,-0.6l-0.4,-0.2l-0.9,-0.1l-0.8,-0.1l-1,-0.2l-1,-0.3l-1,-0.4l-1.2,-0.4l-1.7,-0.5l-1.3,-0.9l-0.5,-1.3l0.6,-1.2l1.6,-1.1l1.2,-0.6l0.4,-0.5l-1.1,-0.4l-1.1,-0.3l-1.4,0l-1.4,0.1l-0.9,0.6l0,0l0.2,-0.4l0.1,-0.7l0.6,-0.8l0.7,-0.8l0.2,-0.4l0,-0.2l-0.1,-0.2l-0.2,0l-0.1,0l0.5,0.1l0.5,0.3l1,0.1" stroke="#2c3c9e" stroke-width="1.2"/>
<path d="M508.1,171.1l-1.5,-0.9l-0.5,-1.2l0.6,-1.2l2,-1.1l2,-0.6l1.8,-0.1l1,-0.3l0.4,-0.3l-0.3,-0.5l-0.4,-0.6l-0.9,-0.7l0.1,-0.5l0.8,-0.3l1.3,-0.1l0.8,0.1l1,0.3l0.3,0.4l-0.7,0.4l-1.7,0.1l-2.1,-0.4l-2,-0.8l-1.3,-1.2l-0.1,-1.4l1.4,-1.3l2.4,-0.8l2.4,0l1.2,0.5l-0.2,0.5l-1.1,0.5l-1.7,0.1l-1.2,-0.3l-0.3,-0.4l0.5,-0.4l0.5,-0.6l0.8,-0.6l0.7,-0.6l0.6,-0.7l0.3,-0.8l0,-1l-0.6,-0.9l-1,-0.7l-1.2,-0.4l-1,-0.1l-0.2,-0.1l0.1,-0.3l0,-0.6l-0.1,-0.4l-0.1,-0.4l0,-0.2l-0.3,-0.1l0.1,0.1l0.6,0.1l1.3,0.1l2,-0.2l2.2,-0.6l1.6,-1.1l0.9,-1.2l-0.5,-1.4l-1.8,-1.1l-2.6,-0.6l-2.7,0.1l-1.9,0.9l0.3,1l2.4,0.7l3.2,-0.1l2.7,-1.1l1.2,-1.6l-0.6,-1.8l-2.3,-1.4l-1.8,-0.6l-0.8,-0.4l0.2,-0.4l-0.5,-0.3l-0.9,-0.3l-0.7,0.2l-0.2,0.3l0,0.2l0.7,0.2l1.3,0.2l1.4,0l1,-0.3l0.4,-0.4" stroke="#2c3c9e" stroke-width="1.2"/>
<path d="M456.3,168.8l0.2,-0.5l0.2,-1.2l0.4,-1.3l0.6,-1.4l0.9,-1.3l0.5,-1.3l1.2,-1l0.8,-0.5l0.9,-0.4l0.7,-0.1l0.3,-0.1l0,0.1l-0.3,0.3l0.7,0l0,0.6l-1.1,0.8l-1,0.6l-0.3,0.1l-0.7,-0.1l-0.9,-0.3l-1.1,-0.6l-1.1,-0.6l-1.1,-0.8l-0.3,-0.6l-0.1,-0.5l0.1,-0.2l0,-0.4l-0.7,-0.6l-1.1,-1.1l-1.2,-1.4l-1.1,-1.2l-1,-1.5l-1.5,-1.6l-0.3,-1.5l0.2,-1.7l-0.7,-1.7l-0.8,-1.2l-0.2,-0.4l-0.7,0.1l-1.2,0.3l-0.7,0.9l-0.4,1.2l0.1,1.8l1,1.9l0.9,1.5l1.5,0.5l1.8,-0.2l1.8,-0.8l1.6,-1.4l1.6,-2l1,-2.6l0.6,-2.7l0.3,-3l0.2,-2.1l0.5,-1l0.6,-0.3l0.6,0.6l0.4,1.3l-0.1,2.1l-0.6,2l-1,1.8l-2,1.3l-2.6,0.3l-2.5,-1l-1.7,-1.6l-1.7,-2.6l-0.5,-1.6l0,-0.5l0.2,0l0.5,0.4l1.1,0.7l2.1,-0.6l1.8,-1l2.4,-1.3l1.5,-1.6l0.8,-0.6l0.4,-0.4l-0.1,0.1l-0.8,0.1l-1.2,-0.2l-1.3,-0.5l-0.9,-1.2l-1.1,-1.5l-0.5,-2l-0.5,-2.5l-0.2,-2.6l0.5,-2.8l0.5,-2.5l1,-2l1.5,-1.7l1.6,-1l0.4,-0.6l0,-0.5l-0.3,-0.5l-0.6,-0.5l-1,-0.2l-1.1,0.1l-0.3,0.6l0,1.2l-0.3,1.4l0.3,2l0.7,2l2,0.7l1.5,0l0.5,-0.8l0.9,-0.7l1.4,-0.6l1.5,-0.8l1.6,-0.9l0.8,-1.2l0.7,-1.4l0.8,-1.6l0.4,-1.5l0.2,-1.6l0,-1.8l-0.2,-1.7l-0.7,-1.6l-1,-1.3l-0.3,-0.8l0,-0.7l0.4,-0.6l0.3,-0.6l0.2,-0.6l0.5,-0.5l0.2,-0.2l0,0l-0.8,0.4l-1.2,0.6l-0.7,0.9l-0.3,0.9l-1,1.5l0.7,1.5l1.3,1.1l1.5,0.3l2.3,-0.6l1.9,-1.6l1.1,-2.2l0.8,-2.9l0,-3.3l-0.3,-2.3l-0.1,-1.2l-0.2,-0.6l-0.3,0.1l-0.1,-0.8l-0.9,-0.8l-1.2,-1l-0.6,-1.5l-0.7,-1.3l-0.8,-1.1l-1.3,-0.5l-1.6,-0.1l-1.9,0.2l-1.7,0.7l-1.8,1.1l-0.5,1.1l-0.4,0.7l-0.4,0.8l-0.2,0.5" stroke="#e0302a"/></g>
<polygon points="381.7,323.5 401.7,343.5 535.6,343.5 535.6,340.5 520,323.5" fill="#d9d9d9"/>
<polygon points="387,323.5 404.5,340.7 533,340.7 533,337.5 520,323.5" fill="#f0cdc6"/>
<polygon points="381.7,323.5 401.7,343.5 401.7,349.9 381.7,328.5" fill="#8e8e8e"/>
<rect x="401.7" y="343.5" width="133.9" height="6.4" fill="#a4a4a4"/>
<g fill="none" stroke-width="1.4" stroke-linejoin="round"><path d="M407.3,323.8l-0.3,-2.7l0.5,-2.8l1.1,-2.4l1.6,-1.8l1.7,-1.1l1.7,-0.2l1.4,0.6l1.6,0.5l1.5,1l1.2,1.6l0.3,1.7l-0.1,1.4l-0.6,1l-0.7,0.8l-1,0.3l-1.2,0.1l-1.8,-1l-1.3,-1.5l-0.5,-1.9l0.2,-2.3l0.2,-1.4l-0.1,-1l0.3,-0.6l1.1,-0.1l0.8,0.4l0.7,0.4l0.7,0.5l1.1,0.4l1.1,-0.1l1.2,-0.5l0.7,-0.7l0.8,-0.4l1.4,-1.1l1.2,-0.8l-0.5,-1.3l-0.8,-0.7l-0.9,-0.5l-0.9,-0.6l-1.3,-0.7l-1.2,-0.9l-1,-1.2l-0.8,-1.2l-0.2,-1.5l0.5,-1l0.1,-0.7l0.5,-0.4l0.2,-0.4l0.5,-0.2l0.4,-0.1l0.3,-0.1l0.4,-0.3l0.6,-0.5l1,-0.6l0.7,-0.9l0.7,-1.1l0.5,-1.3l0.5,-1.3l-0.2,-1.3l-0.5,-1.2l-0.2,-1.3l-0.1,-0.9l-0.2,-0.6l-0.6,-0.4l-0.4,-0.7l-0.1,-0.8l-0.2,-0.8l0,-0.7l0.2,-0.5l0.3,-0.3l0.1,0l-0.1,0.1l0,0.1l-0.4,0.2l-0.1,-0.2l-0.3,-0.6l-0.2,-0.9l-0.2,-1.1l-0.2,-1.1l-0.1,-1.1l0.1,-1l-0.3,-0.6l-0.5,-0.8l-0.8,-0.8l-0.4,-0.7l-0.7,-0.7l-0.7,-0.6l-0.6,-0.3l-0.7,0l-0.5,0.2l-0.7,0.5l-0.4,0.6l-0.8,0.4l-0.5,0.2l-0.1,0l0.5,-0.2l0.6,-0.6l1,0.3l1.4,-1l1.6,-2.1l1.1,-2.8l0.1,-3.1l-0.1,-2.8l-0.9,-2.4l-1.6,-1.2l-1.7,-0.6l-0.6,-0.5l-0.4,-0.6l-1.2,-0.4l-1.1,-0.2l-0.9,0.1l0.3,-0.3l0.7,-0.9l0.8,-1l0.9,-1.1l0.9,-1.2l1.1,-0.9l0.8,-0.5l1,-0.2l0.9,0.3l1.4,0.9l1,1.8l0.8,0.9l0.6,0.2l0.2,-0.9l-0.8,-1.4l-0.9,-2.1l-1.3,-2.2l-0.9,-2.0" stroke="#2c3c9e"/>
<path d="M463.9,319.1l1.3,-2.2l1.4,-1.6l1.4,-1.1l1.4,-0.6l1,0.6l1.1,0.8l0.8,1l0.7,0.9l-0.3,0.9l-0.3,0.9l-1,0.7l-1.3,0.4l-1.4,-0.1l-1.7,0.7l-2.2,0l-0.8,-0.2l-0.7,-0.1l0.1,0l0.2,0.1l0.4,0l0.8,0l0.9,-0.5l1.1,-0.8l1.5,-1.6l1.3,-2.3l0.8,-2.7l-0.1,-3.2l-0.4,-3.4l-0.4,-1.7l-0.2,-0.7l0.2,0.2l0.5,0.4l0.2,0.6l0.3,1l0.2,1l-0.4,0.9l-0.2,0.6l-0.8,0.2l-0.8,-0.3l-0.5,-0.5l-0.4,-1.2l0.3,-1l0.8,-1l0.5,-0.8l-0.3,-0.8l0.1,-0.7l0.6,-0.7l0.3,-0.8l0.6,-0.8l0.3,-0.9l0.1,-1.1l1.1,-0.7l0.6,-0.7l0.1,-0.7l0.3,-0.4l0.2,0.3l0.4,0.5l0.1,0.6l-0.3,0.7l-0.9,0.6l-1.2,0.2l-1.6,-0.4l-1,-0.9l-1.7,-1.7l-0.8,-2.5l-0.7,-2.9l0,-2.9l0.6,-2.9l0.9,-2.5l0.6,-1.3l0.1,-0.8l-0.5,-0.5l0.2,-0.8l0.8,-1.2l0.6,-1.1l0.6,-0.5l0.9,-0.4l0.8,0l0.2,0.4l0.7,0.9l0.3,1.3l-0.7,1.7l-0.6,1l-0.9,0.6l-0.8,0.3l-0.3,1l-0.3,0.6l-1,0.2l-0.6,-0.6l-0.3,-1.4l-0.2,-2l-0.1,-2.1l0.4,-2.5l0.5,-2.4l0.5,-2.5l1.1,-2.1l1.7,-1.6l1.8,-1.1l2,-0.3l1.4,0.6l1.1,1.2l0.4,1.7l0.2,1.5l-0.3,1.2l-0.6,1.1l-0.8,0.7l-1.3,0.4l-1.3,-0.3l-1.3,-0.8l-1.1,-1.5l-0.7,-1.9l-0.6,-2.1l-1,-2.3l-0.8,-2.3l0,-2.3l0,-1.3l-0.2,-0.9l-0.5,-0.5l-0.2,0l-0.3,0.3l-0.2,0.8l0.2,1.2l0.6,0.2l0.1,-0.5l-0.1,-1.2l-0.2,-1.8l0.2,-1.8l-0.4,-1.8l0.1,-1.4l1.2,-1.1l1.4,-0.7" stroke="#2c3c9e"/>
<path d="M486.2,317.7l-0.3,-1.1l0,-0.6l0.1,-0.5l0.4,-0.2l0.7,0l0.3,0.4l0.6,0.9l0.4,1.1l0.5,0.3l0.4,-0.4l0.5,-0.8l-0.1,-0.2l-0.4,0.3l-0.1,0.6l-0.2,0.8l-0.7,0.7l-0.8,0.4l-1.3,0.1l-1.4,-0.5l-0.7,-1.1l-0.4,-1.8l-0.3,-2.3l0.5,-2.7l0.8,-2.7l0.9,-2.6l1.2,-1.9l1.3,-1.4l1.3,-1.4l1.7,-0.6l1.3,0.6l0.6,1.5l0,2l-0.4,0.8l-0.1,0.1l0.1,-0.6l-0.4,-1.1l0.1,-1.7l-0.7,-1.7l-0.9,-2.3l-1.2,-2.3l-1.8,-2.2l-1.7,-1.4l-1.7,-0.7l-0.9,-0.5l-0.1,-0.5l0.2,-0.6l0.1,-0.6l0.8,0.2l0.5,0l-0.4,-0.2l0.2,-0.2l0.5,-0.1l1.2,-0.9l1.3,-0.4l1.1,-0.5l0.1,-0.2l0.3,0.2l0.5,0.7l-0.2,-0.2l-0.2,-0.9l-0.6,-1l-0.7,-1.2l-0.6,-1.1l-0.9,-0.8l-1.6,0l-1.3,0.3l-1.3,0.5l-0.4,0.7l-0.1,0l-0.3,-0.7l-0.3,0l-0.1,0.6l-0.2,0.7l-0.3,1l0.6,0.5l0.5,0.4l0.6,0.1l0.8,-0.3l0.7,-0.8l0.5,-1.2l1,-0.8l0.2,-2.4l-0.6,-2l-1.1,-1.7l-1.2,-1.5l-1.2,-1.3l-0.8,-0.7l-0.2,-0.7l0,-0.6l0.1,-0.6l-0.3,-0.4l-0.2,-0.2l-0.7,-1.2l-0.7,-0.3l-0.7,0.5l-0.6,1l-0.6,1.5l-0.6,1.6l0.1,1.4l0.2,0.2l0.2,-0.6l0,-1l-0.2,-1.5l0.5,-1.6l0.1,-2l-0.1,-2.4l0.1,-2.7l0.4,-2.9l0.8,-2.6l0.9,-2.1l1.4,-1.8l2,-0.3l1.6,0.3l1.1,0.7l0.4,1.4l0.4,1.6l0.1,1.5l-0.2,1.5l-0.1,1.3l0,0.7l-0.5,0.2l-0.8,0.3l-0.7,-0.3l-0.7,0.3l-0.7,0l-0.7,0.0" stroke="#2c3c9e"/>
<path d="M434.5,325l-0.3,-2.5l0.7,-2.6l0.6,-2.4l1.2,-2l1.7,-1.3l2,-0.4l1.2,-0.2l0.3,-0.3l-0.2,-0.8l-0.6,-0.9l-1,-0.9l0,-0.7l0.8,-0.7l1.1,-0.5l1.2,-0.6l1.4,-0.4l1.2,-0.3l1.4,0.1l0.6,0.4l0.8,0.9l0.5,0.1l0.3,-0.8l0,-1.3l-0.4,-1.3l-0.8,-1.3l-0.8,-1.3l-0.9,-0.8l-0.6,-0.7l-0.7,-0.4l-1.3,-0.1l-0.7,0.2l-0.8,0.4l-0.5,0.6l-0.7,1.1l-1.1,1l-0.7,1.4l-0.3,1.8l0,1.3l1.1,1.2l1.3,0.6l1.5,-0.2l1.6,-1.2l1.7,-2.2l1,-3.2l0.4,-3.4l0,-3.4l-2.1,-2.5l-1.5,-1.8l-1.6,-1l-1.8,-0.8l-1.4,-0.9l-2,-0.4l-1.9,0.1l-1.5,0.3l-1.4,0.6l-1.1,0.9l-0.5,0.9l0.3,1.2l-0.2,1.1l0.7,1.1l0.8,0.8l1.2,0.5l1.6,0l2,-0.4l2.4,-1.2l1.5,-1.7l0.7,-3l-0.1,-2.8l-0.7,-2.5l-1.1,-2l-1.1,-1.5l-1.4,-1.2l-1.1,-0.9l-1.1,-0.5l-0.3,-0.1l-0.9,-0.6l-1,-0.2l-0.6,0.4l-0.7,0.7l-0.9,1.2l-0.5,1.1l0.1,1.4l0.9,1.1l1,1l1.7,0.4l2,-0.6l1.9,-1.5l1.7,-2.5l0.7,-3.4l0.2,-3.7l-0.3,-3.3l-0.5,-1.8l0,-0.7l-0.2,-0.3l0.4,0.5l0.5,0.9l0.8,1.3l0.3,1.7l-0.3,1l-0.5,0.6l-1.1,0.3l-1.1,0l-1.1,0l-1.4,0l-1.1,-0.3l-0.4,-0.4l0.1,-0.4l0.6,-0.5l0.8,-0.4l1,-0.6l0.2,-0.6l-0.5,-0.5l-0.7,-0.5l-0.8,-0.7l-0.7,-0.9l-0.7,-1.1l-1,-1l-0.1,-0.5l0.4,-0.9l0.7,-0.7l0.2,-0.6l-0.2,0.7l0.8,0.4l0.3,0.1l0.1,-0.1l-0.5,-0.1l-0.8,-0.4l-1.2,-0.7l-1,-1.2l-0.8,-1.6l-0.9,-2.3l-0.9,-2.9" stroke="#2c3c9e"/>
<path d="M422.5,322.7l-0.3,-2.3l-0.7,-2l-1.2,-1.9l-1,-1.3l-0.1,-0.7l-0.7,-0.5l-0.2,0l-0.2,-1.2l-1,-0.3l-0.7,-0.3l-1.3,-0.6l-1,0.1l-1.4,-1l-2,-0.4l-1.8,0.3l-1.6,0.7l-1.3,1.2l-0.6,1.8l-0.2,0.8l0,0.1l-0.1,-0.9l0.2,-0.3l1,0.1l1.1,0.4l1.7,0.2l0.7,1l1.6,1l1.7,0.4l2.2,-1.4l1.1,-1.8l1.1,-1.9l1,-2.3l0.8,-2.7l-0.5,-3.1l-0.7,-2.8l-0.9,-2.4l-0.8,-1l-1.1,-0.8l-1.3,-0.6l-1.5,-0.2l-1.2,0.4l-1.1,0.9l-0.4,1.2l0.1,1.3l0.7,1.3l0.6,0.5l0.4,-0.5l0.6,-0.2l0.6,-0.3l0.2,0.4l0.5,0.2l0.6,-0.3l0.6,-0.6l1.1,-0.8l1,-1.1l0.8,-1.3l0.5,-0.8l0.3,-0.5l-0.2,-0.4l0.3,-0.7l0.6,-0.7l0.7,-1l-0.1,-1.1l0,-0.6l-0.3,-0.2l0,-0.6l0.3,-0.8l0.2,-1.1l0.7,-1.4l0.2,-1.4l0.6,-1.4l0.4,-1.2l0.4,-1.2l-0.1,-0.9l-0.4,-0.7l-0.4,-0.6l-0.3,-0.3l-0.3,-0.1l-0.3,0.1l-0.4,0.3l-0.4,0.3l0,0.4l0,0.4l-0.1,1.2l0.4,1.3l1.1,1.1l2.1,0.3l1.8,-0.7l1.8,-1.9l1.2,-3.1l0.4,-2.4l0.1,-1.2l-0.4,0l-0.5,0.8l-0.6,1.2l-0.5,0.2l0,-0.8l0.4,-1.6l0.2,-2l-0.6,-2.5l-0.8,-2.4l-0.9,-2.1l-1.8,-1.8l-1.8,-1.2l-1.1,-0.6l-0.3,-0.3l-0.2,-0.2l-0.4,-0.3l-0.5,-0.2l-1,-0.7l-0.9,-0.2l-0.7,0.1l-0.1,0.4l0,0l-0.4,-0.5l-0.3,-0.9l0.4,-1l0.7,-1.4l0.5,-1.2l0.9,-1.4l1.6,-1l1.7,-0.7l1.3,0.4l1.6,0.3l1.6,0.7l0.7,0.9l0.4,1.1l-0.2,0.2l0.2,-0.3l-0.3,-0.7l-0.4,-0.9l-0.5,-1.2" stroke="#2c3c9e"/>
<path d="M475.6,324.3l0,1.2l0.3,1.8l1.3,1.6l2.2,-0.1l2.2,0.1l1.7,-1.1l1.4,-1.6l0.5,-2.4l0.7,-2.2l0.9,-2.4l0.2,-2.3l-0.2,-2.2l-0.5,-2l-1.3,-1.9l-1.5,-1.5l-2,-0.8l-1.5,-0.6l-1.8,0.4l-1.2,1.2l-1.5,2.1l-0.6,2.3l0.4,2.2l0.4,0.8l0.1,-0.2l-0.6,-0.6l-1.3,-0.9l-1.4,-1.2l-1.2,-1.4l-0.7,-2.2l-0.4,-2.2l0.5,-2.7l0,-2.5l0.2,-2.1l1.5,-0.9l1.2,-0.6l1.3,-0.4l0.8,-0.2l0.6,0.1l0.9,-0.4l0.9,0.2l0.7,0.8l0.9,1l0.1,1.1l-0.3,1.2l-1,1.1l-1.3,1l-1.7,0.3l-1.6,-0.3l-0.7,-1.4l0,-1.6l-0.1,-1.8l0.5,-1.8l0.9,-1.7l0.9,-1.7l1.2,-1.6l0.7,-1.2l0.6,-1.1l0.7,-0.7l0.4,-0.5l0.4,-0.2l0.3,-0.1l0,0l0.1,0.2l0.1,0.3l0.1,0.3l-0.2,0.3l-0.3,0.1l-0.5,-0.1l0,-0.4l-0.1,-0.7l0,-1l-0.5,-1.3l-0.1,-1.4l0.3,-1.5l0.5,-1.8l0.9,-1.6l1.2,-1.5l1.1,-1.1l1.1,-0.5l0.8,0.1l0.2,0l-0.1,-0.4l-0.1,-0.6l-0.5,-1l-1.3,-1.1l-1.2,-1l-1,-0.9l-1,-0.6l-0.8,-0.5l0.1,-0.5l-0.4,-0.5l0,-0.5l0.2,-0.7l0.7,-0.5l0.3,-0.4l0.9,-0.1l0.9,0.3l0.9,0.6l0.7,0.8l0.1,1l0.3,0.1l0,-0.6l0.2,-0.8l0.2,-1.2l0.3,-1.6l0,-1.8l-0.6,-1.9l-1.6,-1.7l-1.8,-1.4l-1.5,-0.9l-1.4,-0.3l-0.7,0.2l-0.2,0l-0.3,-0.4l0,-0.9l-0.3,-1.2l0.1,-1.5l0.9,-1.4l1.7,-1.2l1.9,-0.7l1.3,-0.2l1.5,0.6l1.5,1.5l0.7,2.1l0.3,2.6l-0.5,2.3l-1.1,2.2" stroke="#2c3c9e"/>
<path d="M401.2,320l2,0.4l1.2,1l0.5,1.4l0.3,1.7l-0.1,1.4l-0.2,1.1l-1.1,0.7l-1.4,0.4l-1.5,-0.1l-0.8,-0.5l-0.4,-0.5l-0.3,-0.7l-0.3,-0.7l-0.7,-1l-0.6,-1.2l-0.8,-1.5l-0.8,-1.7l-0.6,-2.1l0.3,-2.1l0.5,-2.1l0.1,-2.4l0.1,-1.3l0.1,-0.3l0.2,0.3l-0.2,1.1l-0.2,1.8l0,1.9l-0.3,0.8l0.1,-0.1l-0.3,-0.8l-0.4,-1.6l-0.4,-2l-0.3,-2.8l0,-2.9l0.7,-2.6l1.2,-2.9l2.3,-2.4l2.4,-1.5l2,-0.9l2.1,0.4l1.1,1.1l0.9,1.3l0.5,1.6l0.1,2l-0.8,0.5l-0.8,-0.2l-0.6,-1.1l-0.2,-1.6l-0.8,-2.2l-0.7,-1.2l-0.4,-0.5l-0.2,0.1l0.2,0.3l-0.2,-0.2l-0.1,-0.7l-0.6,-1l-1.1,-1.7l-0.9,-2.1l-0.6,-1.9l-1,-1.5l-1.7,-1l-2.1,-0.4l-1.5,0.2l-1.8,0.8l-1.5,1.4l-0.5,1.7l0.4,1.8l0.6,1.5l0.9,1.4l0.9,1.2l1.6,0.5l1.7,-0.3l1.7,-0.7l1.5,-1.2l1.7,-1.6l0.9,-2.1l0.9,-2.5l0.4,-2.7l0,-2.6l-0.5,-2.1l-1.1,-1.7l-0.8,-1l-0.8,-0.5l-0.7,-0.1l-0.6,-0.5l-0.8,0l-0.5,0.8l-0.3,1.1l-0.5,1.2l-0.2,1.2l-0.1,1.5l0.1,1.2l1.1,1l2.1,0.7l1.5,0.1l2.2,-0.6l1.9,-1.6l0.7,-3.2l0.7,-3.2l-0.4,-3.1l-1.2,-2.7l-1.8,-2.3l-1.8,-1.6l-1.6,-1.1l-1.8,-0.7l-1.8,-0.1l-1.7,0.3l-1,0.9l0,0.2l0.1,-0.4l0,-0.7l0.1,-0.9l0.5,-1.2l0.5,-1.4l0,-0.7l-0.3,-0.5l-0.3,-0.2l-0.7,0l-1,0.2l-0.5,0.3l-0.6,0.6l0.4,0.7l0.1,0.9l0.6,0.6l0.8,0.4l1.2,0.1l1.2,-0.1l1,-0.6l1,-1l1.3,-1.1l0.7,-1.9l0.1,-2.2l-0.6,-2.4l-0.3,-2.4l-0.5,-2.2l-0.6,-2.1l-1.2,-1.9l-0.8,-1.3" stroke="#2c3c9e"/>
<path d="M506.9,331.4l-0.9,0.8l-1.5,0.3l-1.3,-0.3l-1.3,-1.1l-0.7,-1.9l-0.6,-2l-1.4,-1.7l-0.1,-2.5l0,-2.4l1.1,-2.6l1.3,-2.2l1.6,-1.6l0.9,-0.9l0.8,-0.6l0.2,0.1l0.1,0.1l0,0.1l-0.6,0.1l-1,0.3l-0.7,0.3l-0.5,0.6l-0.9,0.7l-0.6,0.8l-0.1,0.9l0.5,0.6l0.7,0.5l0.8,0.1l1.2,-0.3l1.2,-0.8l1,-1.2l1.2,-1.6l0.5,-1.9l0.2,-2l-0.1,-1.5l-0.1,-0.7l0.2,-0.4l0.3,-0.2l0.2,0.1l0.2,0.4l-0.4,0.6l-0.5,0.5l-0.5,0.6l-0.8,0.4l-0.6,-0.2l0.1,-0.4l-0.1,-0.6l-0.1,-0.9l0.2,-1.1l-0.1,-0.7l-0.3,-0.4l0,-0.2l-0.4,-0.1l0,-0.1l-0.7,-0.3l-0.3,-0.4l-0.2,-0.6l-0.8,-0.9l-0.6,-1.2l-0.9,-1.7l-0.2,-1.7l0,-1.9l0.2,-2l1,-2l1.2,-2l1,-1.5l1.1,-1.2l0.4,-0.7l0,-0.2l0,-0.1l0.3,-0.3l-0.1,-0.2l-0.8,-0.1l-0.3,-0.1l-0.3,0.1l-0.3,0.1l0.4,0.2l0.1,0.4l0.4,0.5l0.6,0.3l0.6,0.2l0.7,0l1.1,0l1,-0.3l0.9,-0.6l0.8,-0.7l0.5,-0.9l-0.2,-0.7l-0.5,-0.1l-0.8,0.1l-0.8,0l-0.7,0l-1.3,-0.4l-1.1,-0.6l-0.4,-0.6l-0.1,-0.5l0.2,-0.3l0.1,-0.4l0.3,-0.5l0.4,-0.7l0.4,-0.9l0.5,-1.3l0.3,-1.5l-0.2,-1.9l-0.4,-2l-0.2,-1.9l-0.3,-1.7l-0.4,-1.3l-0.8,-0.9l-0.6,-0.6l-0.9,-0.4l-1,-0.5l-1.4,0.4l-0.3,0.9l0,1.6l0.3,1.6l-0.2,1.6l0.8,1.2l1.3,0.6l0.8,-0.3l0.9,-0.4l0.4,-0.6l-0.4,-0.5l-1,-0.6l-0.9,-0.2l-0.7,-0.5l-1.9,-1.2l-1.1,-2.6l-0.8,-2.7l-0.9,-2.3l-0.5,-2.3l0.1,-2.1l0.4,-1.8l0.3,-2.1" stroke="#2c3c9e"/>
<path d="M389.1,323.4l-0.1,1l0.3,0.4l-0.4,-0.4l-0.5,-1.1l-0.6,-1.6l-0.9,-1.6l-1.3,-1.5l-1.4,-0.7l-0.8,-0.1l-0.7,0l0.8,-0.1l0.7,-0.4l0.5,-0.4l0.3,-0.5l0.3,-0.5l0.4,-0.3l0.7,-0.9l1,-0.5l1.1,0l0.6,0.4l0.9,0.7l1.5,1.2l0.6,1.4l0.2,1.5l-0.2,1.1l-1.2,0.4l-1.8,-0.5l-1,-0.8l-0.3,-0.6l0.9,-0.4l0.8,-0.2l1.1,-0.3l1.1,-0.6l0.9,-0.9l0.3,-0.8l-0.1,-0.5l-0.5,-0.3l-1,0.4l-1.4,0.3l-1.6,-0.2l-1.6,-0.6l-1.6,-1.1l-1.4,-1.9l-1.3,-2.3l-0.7,-2.9l0,-3.6l0.5,-3.7l1.4,-3.2l2.5,-2.7l2.3,-1.7l2.4,-0.8l2.6,0.5l0.7,0.3l-0.1,0l-0.4,-0.7l-1.2,-1.2l-1.3,-1.3l-0.3,-0.9l-0.2,-0.5l-0.2,0.5l0.4,0.6l0.2,0.7l0.6,0.3l0.7,0.5l0.7,1.4l0,1.5l-0.5,1.7l-0.8,2.1l-1.1,1.5l-2.2,0.4l-2.4,-0.2l-1.8,-0.7l-1.8,-1.4l-1.7,-1.8l-1.4,-1.9l-1,-2.2l-0.4,-2.5l-0.3,-2.5l0.3,-1.6l0,-0.9l0.2,-0.5l-0.6,-0.1l-0.4,0.4l0.2,0.8l0.6,0.7l0.3,0.7l1.2,0.8l0.4,0.3l0.3,-0.2l0.1,-0.8l-0.2,-1.3l0.1,-2l-0.6,-2.4l-0.3,-2.6l0.7,-3.1l0.5,-2l-0.3,-1.1l-0.6,-0.4l0,0.3l0.6,1.1l0.4,1.1l0.7,1l0.7,1l0.5,1.6l0.4,1.5l0.7,1.5l1.3,1.1l1.5,0.5l1.6,-0.7l1.6,-1.6l1.7,-2.9l0.9,-3.2l0.9,-3.1l0.2,-3.2l-0.2,-1.9l-0.4,-1.1l-0.4,-1.1l-0.8,-1.2l-0.8,-1.1l-1.5,-1l-1.6,-0.6l-1.3,-0.2l-0.2,-0.1l0.1,0.2l-0.1,-0.5l0.2,-0.7l0.6,-0.7l0.2,-0.7l0.4,-0.5l-0.1,-0.3l-0.1,-0.1l-0.5,0.2l0,0.6l0,0.9l-0.3,1.1l-0.1,1.1l-0.2,0.8l-0.6,0.4l-1,0.2l-1.1,-0.2l-0.7,-0.8" stroke="#2c3c9e"/>
<path d="M446.9,335.1l0.7,-0.4l0.6,-0.9l0.6,-1.3l0.2,-1.6l0.1,-1.9l0,-1.8l-0.3,-2.2l-0.5,-1.8l-0.4,-1.7l-0.7,-1.6l-0.5,-1.4l-0.4,-2l-0.9,-1.4l-1.6,-0.6l-2,0.4l-1.1,1.1l-0.7,1.5l-0.5,2.2l1.3,2.4l1.3,1.9l1.2,1.2l1.7,0.4l2.3,-0.6l1.9,-1.4l1.6,-2.4l0.3,-1.8l-0.2,-1.1l0.1,-0.5l-1.1,-0.2l-1.3,0l-1,-0.1l-1.1,-0.1l-1,0.1l-1.7,-0.4l-1.7,-0.8l-1.7,-1.6l-1.1,-2.3l0.1,-2.9l-0.3,-2.6l0.7,-2.4l0.8,-1.5l0.2,-0.6l-0.8,-0.6l-1.4,-0.2l-1.1,0.4l-0.2,0.8l0.1,1.5l0.8,1.9l1.3,2.1l1.2,1.7l1.6,-0.1l1.8,-0.9l1.4,-1.5l1.2,-1.8l1.1,-1.8l1,-2l0.3,-2.2l0,-2.2l-0.4,-2.3l-0.5,-2l-0.4,-1.5l-0.9,-1.1l-1.2,-0.7l-0.2,-0.5l0,-0.5l0.4,-0.5l0.1,-0.2l1,-0.1l0.9,-0.1l0.7,0.2l0.5,0.7l0.5,1.3l0.4,1.3l-0.8,1.2l-0.5,1.1l-1,0.7l-1.2,0.2l-1.8,-0.5l-1.5,-1.2l-0.6,-1.6l-0.5,-2l-0.5,-2.1l0.4,-2.3l0.6,-2l0.8,-2.2l0.9,-1.7l1,-1.5l1,-1l1.4,-0.5l1.8,0l0.8,0.4l0.1,-0.1l0.4,0l0.4,0.2l0.9,0.1l0.5,0.3l0.7,0.4l0.4,-0.1l0,-0.6l0,-0.7l0.5,-1l-0.3,-1l-0.2,-1l-0.5,-1.2l-0.7,-1.3l-0.7,-1.2l-0.9,-0.8l-0.5,-0.7l-0.1,-0.5l-0.1,-0.5l0.5,-0.7l0.4,-0.5l0.4,-0.3l-0.3,-0.8l-1.3,-0.1l-1.1,0.2l-0.7,0.9l-0.5,1.4l0.2,1.6l0,1.4l0.8,1l1.6,0.8l1.1,0l1.1,-0.6l0.9,-1.3l0.9,-1.9l0.5,-2.3l1.1,-2.4l0.5,-1.6l0.7,-1l-0.1,-0.3l-0.5,0.3l-0.5,0.8l-0.5,1l-0.9,1.2l-1.4,1.1l-2.1,1l-2.9,-0.5l-2.5,-1.2l-1.6,-1.9l-1.4,-2.4l-1.1,-2.7" stroke="#2c3c9e"/>
<path d="M514.4,328.1l0.5,-2.4l0.6,-1.9l0.7,-1.5l1.1,-1l1,-0.6l0.9,-0.1l0.7,0.2l0.7,0.5l0.7,0.7l0.5,0.8l-0.2,1l-0.2,1l0.1,0.4l0.3,-0.1l0.2,-0.5l0.7,-1l0.3,-1.6l0,-2l0,-2.5l-0.2,-2.5l-0.7,-2l-0.7,-1.7l-1.1,-1.3l-1.5,-0.6l-1.2,-0.1l-1.1,0.8l-0.6,1l-0.4,1.3l0.1,1.3l0.5,1.1l0.8,1.1l1,0.7l1.1,0.3l1.2,-0.1l1.5,-0.7l1.3,-1.2l0,-1.6l0,-1.6l0,-2l0,-2.2l0,-2.8l-0.5,-2.6l0.2,-1.3l0.1,-0.7l0.2,-1l0,-1.3l-0.6,-1.5l-1,-1.4l-1.3,-1.1l-1.9,-0.4l-1.6,0.3l-1.5,1.2l-0.2,0.3l-0.3,-0.1l0.1,-0.8l0.4,-1.2l0.7,-1.3l1.1,-1.2l1.3,-1.2l1.2,-0.9l1.5,-0.7l1.3,-0.4l0.8,0l0,-0.2l0,-0.6l-0.3,-1l-0.9,-0.9l-0.3,-0.5l0.7,-0.5l0.8,-0.5l0,-0.5l-0.7,-0.6l-1.1,-0.5l-1.4,-0.1l-1.6,0.5l-1.2,1.3l-0.8,1.8l-0.4,2.1l-0.2,0.8l0.1,-0.3l0.3,-0.9l0,-1.6l0.2,-2.2l0.6,-2.3l1,-2l0.9,-2.1l1.4,-1.7l1.3,-1.4l1.3,-0.8l0.3,-0.3l0,0.6l0,1.1l0,1.4l0,1.5l0,1.6l0,1.9l0,1.8l-0.6,1.5l-0.8,1l-1.7,-0.5l-1.2,-1.1l-0.8,-1.3l-0.3,-1.6l-0.3,-1.8l-0.6,-2.1l-0.5,-2l-0.3,-1.3l-0.1,-1.4l0.2,-1.4l0.1,-1.3l-0.1,-0.7l-0.1,-0.4l-0.4,-0.3l-0.7,0.1l-0.5,0.1l-0.4,0.3l0.1,0.4l0.1,0.3l0.3,0l0.3,0l0.6,-0.2l0.5,-0.5l0.7,0.1l1.3,-0.3l0.9,-0.3l0.7,-0.2l-0.3,0.1l-0.5,0.3l-0.8,0.3l-1.3,0.2l-1.6,-0.3l-1.5,-0.8l-1.5,-1.3l-1.2,-2l-1,-2.5l-0.4,-2.6l0.5,-2.7l0.9,-2.5l1.4,-2.2l1.5,-1.8l1,-1.2l1.7,-0.6" stroke="#2c3c9e"/>
<path d="M379.5,335.5l1.5,0.1l1.5,-0.5l1.5,-0.9l1.3,-1.4l0.7,-2.3l-0.1,-1.6l-0.1,-1.7l-0.1,-1.8l-0.2,-1.8l-0.6,-1.5l-0.6,-1.4l-0.6,-1.1l-0.7,-0.9l-0.9,-0.5l-0.7,-0.2l-0.5,0.1l-0.6,0.3l-0.3,0.6l-0.2,0l-0.9,-0.5l-0.6,-0.8l-0.6,-1.2l-0.2,-1.8l0.4,-2.1l0.7,-2l0.4,-1.6l0.5,-1.4l0.6,-1l1.3,-0.5l1.1,0.1l1.1,0.9l0.6,1.6l-0.1,2.1l-0.8,1.6l-0.8,1.2l-0.8,1.2l-1,0.8l-1.4,0.3l-1.3,-0.2l-1,-0.8l0,-1.6l0,-1.8l0,-1.9l0.4,-2.1l0.3,-1.9l0.5,-1.8l0.8,-1.6l1,-1.3l1.3,-1l1.2,-0.7l0.9,-0.3l0.7,-0.1l0.6,0.3l0.4,0.4l0.3,0.6l0,0.5l-0.1,0.4l-0.6,0.5l-0.8,0.3l-1,0.2l-1.1,-0.2l-1,-0.7l-0.7,-1l-0.4,-1.2l-0.4,-1.5l-0.2,-1.6l0.1,-1.5l-0.1,-1.7l0,-1.8l0.5,-1.6l0.8,-1.3l1,-1l0.8,-0.6l1.1,-0.9l0.2,0.9l0.6,0.5l0.3,1.4l-0.1,1.8l-0.4,1.7l-0.9,1.4l-1.4,0.2l-1.3,0.6l-1.5,0.1l-1.8,-0.6l0,-1.3l0,-1.9l0,-2.3l0,-2.7l0,-2.8l0,-2.6l0.3,-2.4l1.2,-2.2l1.4,-2l1.7,-1.5l1.7,-0.8l1.8,-0.1l1.9,0.6l1.4,1.4l0.7,1.9l-0.6,2.2l-1.1,1.9l-1.1,1.1l-0.6,1.4l-1.1,0.7l-1.5,-0.9l-1.3,-1.5l-1.1,-1.7l-0.5,-2.1l-0.1,-2l-0.1,-2.1l0.2,-2.1l-0.2,-2.2l0.1,-2.2l1,-1.8l1.2,-1l1.2,-0.2l1.6,0.7l1,1.2l0.6,1.7l0.2,1.8l-0.4,1.7l-1.2,1.5l-1.6,1l-1.1,-0.7l0.1,-1l0.1,-1.1l0.1,-1.3l0.2,-1.6l0.2,-1.8l0.2,-1.8l0.4,-2l0.7,-2.5l-0.5,-2.8l-1.1,-2.7l-1,-1.7l-0.4,-1.3l-0.6,-0.3l-1.2,-0.2l-1.1,0.5l-0.9,0.6l-0.5,0.8l-0.3,1l0,0.9l0.1,1.3" stroke="#2c3c9e"/>
<path d="M408.5,325.6l-1.3,-1l-1.3,-0.7l-0.8,-0.1l-0.8,0.4l-0.9,0.7l-0.7,1.6l-0.6,1.9l0.3,2.4l1.2,1.7l0.8,0.9l0.4,0.2l0.5,0.2l0.7,0l0.7,-0.3l0.1,-0.7l0.7,-1.2l1.3,-1.9l0.9,-2.7l0.9,-3.3l-0.4,-3.2l-1,-3.2l-1.1,-3l-1.2,-2.1l-1.1,-1.2l-1,-0.2l-1.2,0.5l-1.2,1.5l-0.3,0.9l-0.3,-0.1l0.1,-0.5l0.4,-0.9l0.1,-1.4l0.6,-1.6l0.4,-1.6l1.4,-1.8l1.8,-1.3l1.8,-0.9l1.9,0.2l0.4,0.1l-0.7,-0.2l-0.2,-0.1l0.5,0.1l0,0.4l-0.2,0.7l0,1.1l0,1.1l-0.2,1l-0.2,1l-0.6,0.8l-1.2,0.8l-1,0.5l-1.4,0.4l-1.3,0l-1.7,-0.5l-1.5,-0.9l-1.5,-1.3l-1.4,-1.2l-1.2,-1.9l-0.9,-2.3l-0.9,-2.6l-0.7,-2.5l0,-2.8l0.1,-2.5l1.3,-2.4l1.6,-1.6l1.9,-0.9l1.3,1l0.8,1.2l0.4,1.1l-0.3,1.5l-0.3,1.6l-0.4,1.3l-1.1,1l-0.9,0.8l-0.6,0.5l-0.7,0.1l-0.8,-0.1l-0.4,-0.6l-0.5,-0.9l-0.2,-1.3l-0.1,-0.7l0.3,-0.3l0.1,-0.2l1.1,-0.1l1.6,-0.2l2.1,-0.9l1.3,-1l1.6,-1.2l1.2,-1.2l1.2,-1.4l0.6,-1.7l1,-1.5l0.7,-2.1l0.1,-2.2l-0.5,-2.3l-1.3,-2.5l-1.6,-2.1l-0.9,-1.2l-0.5,-0.8l0.3,-0.4l1,-0.2l1.6,0.1l1.1,0.6l0.1,-0.3l-0.5,-1l-0.5,-1.3l-0.2,-0.6l0.6,-0.1l0.3,0.4l0.5,-0.3l-0.2,-0.9l-0.4,-1.2l-0.5,-1.5l-1.2,-1l-1.8,-0.7l-1.3,0l-1.2,0.7l-0.5,1.3l-0.6,1.1l0.3,1.6l0.4,2.2l0.8,2.2l1,1.6l2,1l1.9,0.3l1.5,-0.3l1.6,-1l1.1,-1.8l0.7,-3l-0.2,-2.9l-0.5,-2.5l-0.6,-2.4l-0.5,-1.9l-0.8,-1.4l-1.2,-1.1l-1.1,-0.7l-1.3,-0.4l-1.7,-0.9l-1.7,-0.1l-1.5,1l-0.7,1.5l-0.6,1.9l-0.3,2.1l0.8,1.6l1,0.9l1.4,-0.1l2,-1.3l1.2,-2l0.8,-2.2" stroke="#2c3c9e"/>
<path d="M504.8,331.4l0,1.6l0.9,1.2l1.2,1.2l1.5,0.7l1.6,0.1l1.4,-0.6l1.5,-1.2l0.8,-1.9l0.8,-2.1l0.3,-2.3l-0.3,-2.1l-0.3,-2.3l-0.6,-2l-0.8,-2.2l-1.7,-1.6l-1.6,-0.8l-1.2,-0.1l-0.4,1.2l-0.4,0.6l-0.3,-0.3l0.1,-0.9l0.3,-1.6l0.5,-1.7l0.4,-1.7l0.7,-1.6l1.8,-1.5l1.5,-0.9l1.7,-0.4l2,0.3l1.7,1.1l0.9,1.4l0.6,2.1l0.2,2.6l-0.5,2.8l-1.5,2.5l-1.9,1.8l-2.7,-0.7l-1.7,-1.5l-1.9,-2l-1.1,-2.2l-1.3,-2.3l-0.4,-2.2l0.2,-2.1l0.4,-2.1l0.6,-1.8l1.1,-1.4l0.9,-1.1l1.5,-0.8l1.2,-0.5l1.4,-0.3l1.1,0l0.9,0.3l0.2,0.5l0.5,0.7l0.1,0.7l0.7,0.6l0.8,1.4l-0.4,1.6l-0.7,0.7l-0.1,0.2l-1,0.3l-1.6,-0.1l-1.7,-0.5l-1.3,-1.1l-1.8,-1.5l-1.7,-1l-1.1,-0.2l-0.7,-0.8l-0.7,-1.2l-0.4,-1.9l-0.4,-2.2l-0.2,-2.8l0.1,-3l1.5,-2.9l0.8,-2.1l1.2,-1.6l1.3,-0.9l1.5,-0.1l1.3,0.4l1,0.8l0.2,0.8l0.1,0.9l0.1,1.1l-0.3,0.9l0.2,1l-0.4,0.8l-0.9,0.7l-1.1,0.2l-1.6,-0.5l-1.3,-1.1l-1.8,-1.8l-1.3,-1.5l-0.8,-1l0,-0.4l0,0l0.3,0.4l0.7,0.5l0.7,1l0.9,0.4l1.4,-0.9l1.1,-1.4l0.7,-1.7l0.7,-2.2l0.4,-2.5l-0.4,-2.4l-0.5,-2.7l-1.2,-2.5l-1.7,-2.1l-1.4,-1.4l-1.4,-0.7l-1.3,0.1l-1.2,0.8l-0.4,1.5l-0.1,1.6l0,1.5l1,1.3l1.1,0.8l1.2,0.3l0.7,-0.3l-0.1,-0.4l-0.4,-0.6l-0.7,-0.7l-0.2,-0.8l-0.4,-1l-0.3,-1.4l0.2,-1.5l0.3,-1.7l-0.6,-1.8l-0.2,-1.8l0.2,-1.9l0,-2l0.4,-1.7l0.1,-1.5l0.4,-1.2l0.9,-0.8l0.7,-0.1l1.3,0.4l0.7,0.9l0.5,0.9l0.8,1.3l0.8,1.2l0.1,1.1l-0.3,0.9l-0.7,0.8l-1,0.3l-1.4,0l-1.3,-0.6l-0.8,-0.6" stroke="#2c3c9e"/>
<path d="M388.2,329.5l-0.7,-2.2l-1,-1.9l-1.5,-1.6l-1.8,-1.9l-2,-1.2l-2,-0.1l-1.8,0.7l-0.4,1.3l0,1.9l0,1.9l0.1,2.1l0.9,2l1.7,1.7l2.3,-0.1l1.8,-0.8l1.5,-1.4l1.1,-1.8l1.1,-2.1l0.8,-2.4l0.6,-2.2l0,-2.5l-0.2,-2.2l-0.9,-2l-1.1,-1.4l-0.6,-2l-1,-1.4l-1.2,-0.6l-1.2,0.3l-1,1.3l-0.3,0.8l1,0.6l0.7,-0.6l0.6,-0.2l0.4,0.4l0.6,0.6l0.4,0.8l0.4,0.6l0.7,0.3l0.6,1.3l0.6,1.1l0.8,0.5l0.6,-0.1l0.2,-0.2l0.1,-0.2l-0.9,-0.1l-1.1,-0.4l-1.2,-0.6l-1.3,-0.8l-0.9,-1.1l-0.8,-1.5l-1.2,-2.1l-1.1,-2.4l-1,-2.6l0.3,-2.7l0.1,-2.6l0.6,-2l0.2,-0.9l0.1,-0.4l0,-0.2l-0.3,0.1l-0.3,0.3l-0.4,0.4l-0.4,0.5l0.1,0.5l0.4,0.5l0.7,0.4l0.6,0l0,-0.4l0.1,-0.6l-0.2,-0.6l-0.3,-0.7l-0.5,-0.8l-0.4,-0.9l-0.4,-1l-0.4,-1.2l-0.2,-1.3l0.4,-1.3l0.3,-1.4l0.5,-1.3l0.4,-1.1l0.5,-1l0.8,-0.8l0.7,-0.6l0.5,-0.4l0.7,-0.6l0.3,-0.2l0.2,0.1l0.2,0.7l0.2,1l-0.1,1.4l-0.5,1.5l-1.1,1.2l-1.3,0.4l-1.5,-0.2l-1.5,-0.9l-1.4,-1.4l-0.3,-2l0,-2.2l0.1,-2.7l0.5,-2.6l0.7,-1.5l0.5,-0.9l-0.2,-0.1l0.1,0.8l0.2,1.1l0.3,1.5l0.4,1.1l0.7,1l1.4,0.8l1.5,0.2l1.8,-0.5l1.7,-1.2l1.8,-1.9l1.5,-2.7l0.9,-3.1l-0.1,-3.1l-1.5,-2.8l-1.6,-2l-1.6,-1.4l-1.9,-0.9l-1.6,0l-1.1,0.3l-0.5,0.7l-0.6,0.9l-0.1,1.1l-0.3,0.8l0.2,0.6l0.5,0.5l0.8,0.2l0.8,0.4l1,0l1.3,-0.5l1,-1.3l0.9,-1.8l0.6,-2.1l-0.1,-2.6l-0.3,-2.4l-0.8,-2.1l-1.3,-1.8l-1.5,-1.2l-1.7,-0.6l-1.2,0.4l-1.5,-0.1l-1.1,0.8l-0.6,1.5l0.1,1.7" stroke="#2c3c9e"/>
<path d="M380.2,335.8l0.8,1.3l0.6,0.9l1,0.4l1.3,-0.1l1.4,-0.3l1.2,-1.2l0.7,-2l0.3,-2.4l0.1,-3.1l-0.6,-2.9l-1,-2.8l-1.7,-1.9l-1.7,-1l-1.1,-0.3l-0.9,0l-0.2,0.1l-0.3,-0.2l-0.3,-0.3l0.1,-1.1l0.4,-1l1.1,-0.7l1.6,-0.2l1.6,0.1l1.1,0.5l0.9,0.7l0.6,0.9l0,1.3l-0.3,0.5l-0.3,-0.1l0,-0.4l0.1,-0.9l0,-1.3l-0.1,-1.7l-0.2,-2.2l-0.7,-2.3l-0.7,-2.4l-1.5,-1.7l-1.8,-1.1l-1.9,-0.3l-1.5,0.3l-1.3,1.2l0,0.4l0,-0.5l0.4,-1l0.2,-1.2l0.5,-1.1l0.2,-0.5l0.2,-0.1l0.4,0.1l0.6,0.1l0.3,0.3l0.4,0.4l-0.1,0.5l0.4,0.6l-0.7,0.2l-0.7,-0.5l-0.7,-0.9l-0.6,-1.2l-0.8,-1.7l0,-1.9l0,-1.9l0.9,-2.4l1.4,-2.2l2.4,-1.5l2.1,-0.7l2,0.3l1.5,1.3l0.5,1.7l0.5,1.7l0.1,2.3l-0.4,2.5l-1,1.9l-1.7,1.4l-2.2,0.3l-2.2,-0.5l-2.3,-1.4l-1.6,-2.9l0,-2l0,-1.4l0.2,-0.5l0.6,-0.4l1.3,-0.2l1.3,-0.3l0.9,-0.5l1.1,-0.6l1.1,-0.1l0.7,-0.1l0.8,-0.6l1.1,-1.1l1.2,-1.5l1.3,-2.1l0.7,-2.6l0.7,-2.6l0.2,-3.1l0,-1.7l0.5,-0.7l0.6,-0.2l0.3,0.6l0.6,1l0,1.4l-0.6,2.2l-1.3,1.7l-1.2,1.9l-1.2,1.3l-1.2,0.6l-2.1,-0.2l-1.8,-1.2l-1.6,-1.7l-1.8,-2.7l-1.1,-3.1l-0.2,-1.7l0.4,-0.9l0.6,0.2l0.3,0.6l0.3,1.2l0.7,1l1.1,0.8l1,0l0.5,-0.6l0.4,-0.7l0.2,-1.9l-0.5,-2l-0.3,-2l0.1,-1.2l0,-0.6l0.3,-0.1l0.5,-0.2l0.9,-0.2l0.6,-0.6l0,-0.7l-0.1,-1l0.1,-1.2l-0.3,-1.4l0.2,-1.7l-0.2,-1.9l-0.6,-1.9l-0.8,-1.8l-1.7,-1.4l-1.1,-0.9l-1,-0.6l-1,-0.4l-0.7,-0.1l-0.8,-0.1l-0.2,0.2l0,0.7l0,0.6l0.1,0.4l0.6,0.4" stroke="#2c3c9e"/>
<path d="M403.5,341l1.3,0l0.7,-1.3l0.2,-1.6l0.3,-1.8l0.1,-2l-0.1,-1.9l-0.7,-1.8l-0.3,-1.6l-0.9,-1.3l-0.6,-0.9l-0.3,-0.5l-0.3,-0.5l-0.2,-0.5l-0.4,-0.4l0,-0.5l0.2,-0.3l0.1,-0.5l-0.1,-0.5l-0.2,-0.7l-0.5,-0.6l-0.8,-0.4l-0.8,-0.3l-0.5,-0.1l-0.5,0.1l0,0.2l-0.4,0.2l0.1,0.4l0.8,0.2l1.3,0.1l0.9,-0.2l1,-0.4l0.3,-0.6l0.4,-0.8l0.4,-1.1l0.7,-1.2l0.7,-1.2l0.1,-1.4l0.7,-1.4l0.4,-1.2l0.1,-1l-0.1,-0.8l-0.2,-0.6l-0.2,-0.6l0,-0.5l0.2,-0.5l0.2,-0.5l0.4,-0.4l0.3,-0.2l0.6,-0.1l0.6,0.1l0.1,0.1l-0.3,0.3l0.4,0.8l-0.5,0.8l-0.8,1.1l-1.3,0.9l-1.3,0.1l-1.5,-0.6l-1.7,-1.3l-1.7,-2.1l-0.8,-2.7l-0.2,-3.2l0.2,-2.3l0.3,-1.1l0.2,0l0.4,0.2l0.8,0.4l0.7,0.8l0.8,0.7l0.3,1l0.4,0.6l1.1,0.5l1.6,0l0.4,-0.4l0.5,-0.6l-0.2,-0.7l-0.8,-0.9l-0.9,-1.1l-0.8,-1.4l-0.6,-1.7l-0.6,-1.8l-0.4,-2.1l0.2,-2.2l0.2,-2l0.5,-1.8l0.8,-1.4l0.4,-0.8l0,-0.5l-0.5,-0.3l-0.5,-0.4l-0.1,-0.6l0.2,-0.6l0,-0.5l0.1,-1.1l-0.1,-1l0.1,-0.9l0.8,-0.7l0.7,-0.6l1.1,-0.4l0.8,0.3l1.3,0.5l1.4,0.5l1,0.6l0.9,1l0.9,1.5l0.7,1.7l-0.3,1.4l-0.8,1.1l-1.4,0.2l-1.2,-0.7l-0.1,-1l0,-0.5l0.8,-0.7l0.5,-0.3l0.5,-0.4l0.9,-0.6l0.8,-0.7l0.8,-1.7l1.1,-1.9l0.8,-1.8l0.2,-1.9l-0.1,-1.8l-0.2,-1.5l-0.8,-1.3l-0.9,-1.2l-0.9,-0.9l-1.1,-0.8l-0.7,-0.6l-0.4,-0.4l-0.1,-0.4l-0.2,-1.4l-0.2,-1.4l-0.4,-1.3l-0.9,-1l-1.6,-0.7l-1.9,-0.3l-1.6,0l-0.7,-0.1l0.6,-0.8l0.8,-0.8l0.6,-1.3l0.6,-1.1l0.1,-0.7l0.1,-0.4l0.1,-0.1l-0.4,0.3l-0.7,0.9l-0.4,1.4l-0.4,1.5l0.4,1.5l0.8,1.4l1.2,0.3" stroke="#2c3c9e"/>
<path d="M467.4,337.5l0.6,0.4l0.3,-0.1l-0.2,-0.6l0.1,-0.2l-0.4,0l0,0.2l0.8,0.1l0.9,0l1.1,-0.4l0.9,-1l0.6,-1.2l1.5,-0.7l0.9,-1.5l0.9,-1.8l0.1,-1l0,-0.7l0.4,-0.2l0.1,-0.7l0.3,-1.1l0,-1.6l-0.6,-0.9l-0.8,-1.1l-0.6,-1.5l-0.5,-1.4l-0.6,-1.7l-0.8,-1.9l-0.6,-1.6l-1.1,-1.2l-1,-0.5l-1.1,0.4l-0.3,0.3l0.3,0l0.5,-0.3l0.7,-0.8l0.9,-0.8l1.1,-0.7l1.1,-0.6l1,-0.4l0.8,0l1.2,0.4l1.3,0.6l1.1,0.7l0.6,0.8l-0.2,1.1l-0.4,1.1l-1,0.8l-1.4,0.3l-2,-0.3l-1.5,-0.9l-1.7,-1.6l-0.8,-2.1l-0.6,-2.7l-0.1,-2.6l0,-2.6l0.2,-2.3l0.7,-1.9l0.8,-1.1l1,-0.5l1,0.3l0.8,0.2l0.1,-0.1l-0.5,-0.9l-0.5,-1.1l-0.7,-1.4l-0.8,-1.3l-1.3,-1.1l-1.3,-0.7l-1.7,-0.4l-1.9,0.3l-1.9,0.9l-1.3,1.7l-0.2,0.8l0,-0.1l0.1,-0.7l0,-0.9l0.1,-1.2l0.1,-1.2l0.8,-1.1l1.1,-1.2l1.4,-1l1.3,-0.6l1,-0.2l0.9,0.2l0.7,0.6l0.2,0.8l0.7,0.8l0.3,1.5l0.3,1.7l-0.6,1.5l-1.4,0.3l-0.5,-0.6l-0.1,-0.8l0.9,-1l0.6,-1.4l0.8,-1.5l0.4,-1.6l0.5,-1.5l0,-1.4l0,-1.6l-0.3,-1.6l-0.8,-1.1l-0.2,-0.9l-0.1,-0.4l-0.1,-0.2l0.3,0l0.5,0.5l0.6,0.9l0.4,1.1l-0.7,1.4l-0.9,1.1l-1.2,0.7l-1.9,0.1l-1.9,-0.8l-1.1,-1.4l-1,-2l-0.9,-2.6l-0.6,-3.1l0.2,-3.3l0.8,-3.3l1.4,-3l2.1,-2l2.6,-1l2.4,1l1.3,1.2l0.8,1.1l0.1,1.2l-0.3,1.1l0.1,0.9l-0.8,0.6l-0.6,0.4l-0.9,0.1l-1.1,-0.2l-0.9,-0.5l-1,-0.8l-1.6,0.1l-1.8,-0.6l-0.8,-1.7l-0.2,-2.3l0.3,-2.4l0.1,-2.4l0.5,-2.2l1.2,-1.6l1.5,-1.2l1,-0.4l1.2,0.3l1.2,1.1l0.4,1.3l0.6,1.5l-0.2,1.3l-0.6,1.0" stroke="#2c3c9e"/>
<path d="M423.2,331.7l0.8,-0.9l0.9,-0.4l1.4,0.1l1,0.8l0.7,1.4l0.9,1.7l0.4,1.5l-0.3,1l-0.5,0.7l-1.1,0.4l-0.8,0l-1,-0.5l-0.8,-1.1l-0.6,-1.4l-0.7,-1.8l-0.3,-1.9l-0.1,-2.3l0.4,-2.1l0.6,-1.9l0.5,-1.8l1.1,-1.1l0.4,-0.8l0.5,-0.5l0.7,-0.3l0.5,-0.1l0.8,0.3l0.2,0.4l0,0.6l0.1,0.6l0,0.5l0.1,0.4l0.2,0.2l-0.8,0.1l-0.7,-0.1l-1.3,-0.6l-1,-0.8l-1.4,-0.9l-1.1,-1.4l-0.4,-1.8l0.3,-2.1l0.7,-2.2l0.9,-1.5l0.9,-1.5l0.9,-1.3l0.7,-0.9l0.6,-0.4l0.3,-0.3l0.2,-0.5l-0.2,-0.6l-0.4,-0.4l-0.7,-0.4l-0.5,-0.4l-1,-0.1l-0.1,0.4l-0.3,-0.7l-0.1,-1.1l0.4,-1.3l0.5,-1.5l0.1,-1.4l0.1,-1.2l0.3,0.2l0.8,-0.6l0.8,0.1l0.3,0l-0.3,-0.6l-0.3,-1l-0.5,-1.1l-0.3,-0.9l-0.2,-0.9l-0.5,-0.6l-1,-0.4l-1.1,0.1l-1.2,0.6l-1.3,0.9l-1.2,0.8l-0.5,1.6l-0.1,1.4l0.4,1.2l0.5,1.2l1.1,0.8l1,0.3l1.2,-0.3l1.7,-0.8l1.5,-1.6l1.3,-2.3l0.9,-2.5l0.8,-2.8l-0.4,-2.8l-0.8,-1.8l-0.6,-0.7l0,-0.2l-0.5,-0.1l0.1,0.2l0.4,0.4l0.9,0.9l0.8,1.2l-0.3,1.2l-1.2,0.9l-1.3,0.6l-1.2,-0.1l-1.3,-0.7l-1.2,-1.3l-1.3,-1.8l-0.5,-2l-0.5,-2l0.2,-2l0.3,-1.2l0.1,-0.8l0.1,-0.3l0.5,0.2l0.7,0.3l1.1,0.5l1.1,0.8l0.3,0.8l0.4,0.4l0.7,0.1l0.5,0.3l0.7,-0.1l0.4,-0.7l0.4,-1.2l0.1,-1.7l0.2,-2.4l0.5,-2.6l0.1,-2.7l-0.1,-2.3l-0.4,-1.9l-0.9,-1.9l-1.3,-1.5l-1.1,-1l-1.2,-0.4l-0.7,0.1l-0.3,0.9l-0.3,1.3l0,1.3l-0.1,1.2l0.6,1l0.4,0.8l0.5,0.7l0.6,0.3l0.5,-0.1l0.9,-0.4l1.2,-0.3l1,-0.5l0.8,-0.4l0.2,-0.3l-0.3,0l0.2,-0.1l-0.2,-0.1l-0.5,-0.1l0.2,-1.5l0.2,-1.4l0,-1.2l0.3,-1.3l1.2,0.2l1,-0.4l1.4,-1.1l0.2,-2.2" stroke="#2c3c9e"/>
<path d="M484.1,337.5l0.5,1.4l1.1,1.3l1,1l1.2,0.8l0.5,0l1.1,-0.2l1.1,0.6l1.3,0.2l1.4,-0.3l1.6,-0.9l1.4,-1.5l0.5,-0.7l-0.6,-0.2l-1.2,0.3l-1.4,0.4l-2.3,0.5l-2.1,0.1l-1.2,-0.4l-0.3,-0.5l-0.3,-0.5l0.7,-0.5l1.3,-1.6l0.8,-1.8l0.6,-1.8l0.4,-2.1l0,-2.6l0.4,-2.6l0,-2.6l0,-2.2l0.3,-2.4l-0.8,-2.5l-0.9,-2l-1.7,-1.4l-1.7,0.9l-1,1.2l-0.8,1.5l-0.1,1.3l0.1,1.1l0.3,0.8l-0.1,0.3l0.4,0.1l0.2,-0.1l0.2,-0.3l0.9,-0.5l0.5,-0.8l0.2,-0.9l-0.1,-1.1l-0.3,-1.3l-0.2,-1.5l-0.9,-1.5l-0.7,-1.4l0.1,-1.6l0.3,-1.1l0.4,-0.7l-0.4,-0.2l-0.5,-0.9l-0.1,-1.1l0.1,-1.4l-0.2,-1.7l-0.3,-1.7l-0.6,-1.4l-0.9,-1l-1,-0.4l-1.1,0.1l-1.6,0.9l-0.8,1.6l-0.7,1.9l0,2.1l0.2,1.7l0.7,1.6l1.2,1.2l1.4,0.8l1.9,0l1.7,-1l2.2,-2.1l1.4,-2.7l0.7,-2.9l0,-3.5l-0.5,-3.4l-1.3,-2.7l-1.7,-2.2l-2.4,-1.7l-2.5,-1.2l-0.8,-0.5l0.1,-0.5l1.1,-0.3l0.7,-0.4l-0.4,-0.7l-0.6,-0.7l-0.5,0.4l-0.1,0.4l-0.1,0.7l-0.5,0.9l0.1,1.1l0.4,1.4l0.4,1.3l0.6,1.2l0.5,1.2l0.4,1.1l1.6,0.7l1.4,0.1l1.8,-0.7l0.5,-1.3l0.7,-1.1l0.4,-1.2l0.5,-1.7l0.7,-1.4l0.8,-2.5l-0.3,-2.7l-0.7,-2.9l-1.9,-2.5l-1.4,-1.8l-1.5,-1.2l-1.9,-0.6l-1.2,-0.1l-1.1,0.5l-0.9,1.3l-0.2,1.6l0.2,1.7l1,1.8l1.1,1.4l1.3,0.7l1.7,0.1l1.9,-0.6l1.5,-1.2l1.4,-1.9l0.7,-2.7l0.5,-2.5l0.2,-2.1l-0.5,-1.7l-0.8,-1.3l-0.8,-1.1l-0.6,-1.6l-0.9,-1.3l-1.2,-0.8l-1.3,-0.3l-1,0.2l-1.1,0.7l-0.5,1.2l-0.1,0.5l-0.1,-0.3l-0.3,-1l-0.2,-1.3l-0.1,-1.6l0.3,-1.7l0.5,-1.7l0.5,-1.2l0.2,-0.9l0.8,-0.4l1.2,0.1l0.6,0.5l0.4,0l0.1,-0.5l-0.2,-1l0,-1.1l-0.5,-1.1" stroke="#2c3c9e"/>
<path d="M519.8,333.8l0.1,-1.2l-0.8,-1.2l-0.7,-1.2l0.2,-0.8l1,-0.6l1.2,-0.1l1.1,0.4l1.1,1.1l0,1.7l0,1.9l0,0.2l0,-0.8l0,-1.8l0,-1.8l0,-0.7l0,0.2l0,0.6l0,1.1l-0.1,1.5l0.1,0.1l0,-0.7l0,-1.4l0,-1.8l0,-2.5l-0.4,-2.7l-0.7,-2.8l-0.8,-2.3l-0.4,-1.9l-0.8,-1.4l-1,-0.9l-1.3,-0.7l-1.6,-0.1l-0.9,0.8l-0.7,1.2l-0.7,1.8l0.1,2.1l1.2,1.7l1.5,1.3l1.2,0.8l1.1,0.3l1.1,-0.2l0.8,-0.5l0.3,-0.8l-0.2,-1l0.1,-1.3l0,-1.5l-0.4,-1.7l-0.8,-1.7l-0.6,-1.9l-0.4,-2.1l-1.1,-2.2l-1.1,-1.9l-1.8,-1.3l-1.6,-0.7l-1.2,0l-0.8,0.5l-0.3,0l-0.2,-0.3l-0.3,-0.8l0.3,-1.3l0.5,-1.3l-0.3,-0.6l-0.5,-0.1l-0.2,0.3l-0.5,0.5l-0.5,1l-0.7,1.5l0.1,1.4l0.5,1.4l0.9,1l1.3,0.6l1.7,-0.6l1.1,-0.9l1.2,-1.2l1.2,-1.4l0.7,-1.5l0.6,-1.5l0.3,-1.3l-0.2,-1.4l1,-0.8l1,-0.5l0.1,-0.1l0.1,0.4l-0.1,0.8l-0.6,0.6l-0.6,0.5l-0.7,0l0.2,-0.1l0.4,0.3l0.5,0.4l-0.4,0.2l-0.8,0.1l-1.2,-0.3l-1.3,-0.8l-1.1,-1.6l-0.8,-2l-0.5,-2.8l0.1,-3.1l1.2,-3.3l1.4,-2.8l1.2,-2.6l1.2,-2l1,-1.5l1.6,-1l1.6,-0.7l0.7,0.7l0,1.3l0,0.9l0,0.2l0,0.7l0,0.7l0,1.1l0,1.4l-0.2,1.2l-0.7,0.9l-0.2,-0.1l0.3,-0.6l0,-1l-0.1,-0.6l-0.2,-0.2l-0.5,-0.2l-0.5,-0.2l-0.4,-0.5l-0.8,-0.7l-1.5,-1.1l-1.1,-1.7l0,-1.8l0.3,-2l0.6,-2.1l0.3,-1.7l0.3,-1.6l0.2,-1.4l-0.1,-1.2l0.1,-1.1l0.2,-1.3l0.7,-0.6l0.1,-0.5l-0.2,-0.4l-0.2,-0.6l-0.3,-0.6l-0.4,-0.6l-0.8,-0.6l-0.6,-0.3l-1.2,-0.2l-0.8,0.1l-0.2,0.3l0.2,0.4l0.8,0.7l0.6,0.7l0.4,0.5l0.5,0.3l0.6,0.1l0.9,-0.1l0.7,-0.3l0.7,-0.6l0.9,-1.0" stroke="#2c3c9e"/>
<path d="M427.6,322.5l-0.3,0.3l0.6,0.4l1.6,0.2l2,-0.2l1.7,-0.9l0.9,-1.2l-0.3,-1.2l-1.2,-1l-1.3,-0.6l-0.4,-0.4l-0.8,-0.2l-1,0l-0.5,0.2l0.2,0.4l0.7,0.2l1.5,0l1.4,-0.5l1.2,-0.8l0.6,-1.2l-0.5,-1.3l-1.2,-1.1l-2,-0.6l-2.4,0.2l-0.8,0.6" stroke="#e8604f"/>
<path d="M507.3,324.5l0.4,-1.1l-0.2,-1.1l-1,-0.8l-1,-0.8l-1.2,-0.4l-0.4,-0.6l0.4,-0.5l0.6,-0.5l0.5,-0.3l-0.1,-0.4" stroke="#e8604f"/>
<path d="M472.2,325.4l1.3,-0.8l0.5,-1l0,-1.2l-0.9,-1.1l-1.5,-0.7l-1.4,-0.4l-1.4,0l-1,0.3l-0.3,0.3l0.9,0.2l1.1,-0.1l1.3,-0.5l0.9,-0.7l0.4,-1l-0.4,-1.1l-0.7,-0.9l-1.2,-0.5l-0.9,0l-0.8,0.2l0.4,0.6l1.5,0.3l1.1,-0.3l0.2,-0.6l0,-0.6" stroke="#f0a898"/>
<path d="M421,322.8l-1,0l-0.2,0.3l0.3,0.3l1.1,0.3l1.6,0l1.6,-0.5l1.4,-0.9l0.5,-1.3l-0.5,-1.3l-1.4,-1l-1.5,-0.5" stroke="#e8604f"/>
<path d="M381.8,323l1.5,-0.6l1.5,-0.2l1.1,0l0.8,0.4l0.1,0.4l-1,0.3l-1.5,0l-2,-0.3l-1.3,-0.8l0,-1.2l0,-1.2l0.6,-1.2l1.5,-0.9l2,-0.6l1.1,-0.3l0.9,-0.3l0.5,-0.4l-0.4,-0.5l-1,-0.4l-1.1,-0.4l-1.1,-0.2l-0.3,-0.3l0.1,-0.5l0.2,-0.4" stroke="#f0a898"/>
<path d="M445.5,324.2l0.1,0.3l0.7,0.3l1.5,0.1l1.4,-0.5l1.4,-0.8l0.8,-1.2l-0.3,-1.3l-1.4,-1l-1.9,-0.5l-1.8,0l-0.6,0.1l-0.1,0.1l0.2,0.1l0.9,0.1l1.1,-0.2l1.3,-0.4l0.9,-0.5l0.6,-0.8l0.3,-0.8l-0.3,-0.9l-0.2,-0.6l-0.4,-0.4l-0.1,-0.4l0.1,-0.2" stroke="#f0a898"/>
<path d="M477,326.4l-1.8,-0.7l-1,-1.2l0,-1.4l1.1,-1.3l2.1,-0.6l1.9,0.1l0.7,0.6l-0.4,0.7l-1.3,0.3l-2,-0.1l-2.1,-0.7l-1.1,-1.1l-0.3,-1.4l0.5,-1.5l1.4,-1.3l2.3,-0.6l2.5,0l1.3,0.6l-0.1,0.7" stroke="#f0a898"/>
<path d="M438.7,323.6l-1.3,0.3l-0.4,0.4l0.2,0.3l1,0.1l1.2,-0.4l1.2,-0.7l0.7,-1l0.2,-1.1l-0.5,-1l-0.5,-0.5l0.1,-0.4l0.3,-0.3l0.3,-0.1l0.2,-0.1l-0.2,0l-0.3,-0.2l-0.1,-0.4l0,-0.5" stroke="#e8604f"/>
<path d="M487.1,323.8l-0.5,0.2l-0.4,0.2l0.3,0.3l1,0.1l1.3,-0.2l1.3,-0.5l1,-0.7l0.5,-0.8l0.2,-1l-0.5,-1l-0.5,-0.6l-0.8,-0.6l-1.1,-0.3l-1,-0.2l-1,0.1l-0.4,0.2l0.2,0.2l0.4,0.2l1.3,-0.2l1.3,-0.7l0.4,-1.3l-0.4,-1.2l-1.3,-1l-2,-0.8l-2.1,-0.3" stroke="#e8604f"/>
<path d="M385.3,325.6l0,-1.1l0.1,-0.8l0,-0.5l-0.3,-0.3l-0.2,-0.1l-0.3,0.1l0.3,0l0.8,0l0.7,-0.2l1.1,-0.4l1.1,-0.6l0.8,-0.7l0.4,-0.8l0.2,-0.8l-0.3,-0.8l-0.5,-0.8l-1.6,-0.6l-1.6,-0.1l-1,0.2l-0.1,0.5l1,0.5l1.7,0l1.9,-0.5l0.8,-0.6l0.3,-0.3" stroke="#f0a898"/>
<path d="M460.9,326.5l1.9,-0.2l1.6,-0.7l0.9,-1.1l0,-1.2l-0.8,-1.1l-1.4,-0.8l-1.5,-0.4l-1.3,0l-0.8,0.3l-0.1,0.5l1,0.3l1.4,-0.1l1.7,-0.4l1.2,-1l0.2,-1.2l-0.5,-1.1l-0.8,-0.8l-1.2,-0.5l-1.2,-0.2l-0.8,0.1l-0.3,0.1l0,0.1l0.7,0l0.8,-0.3l0.8,-0.5" stroke="#f0a898"/>
<path d="M471.1,326.7l-1.6,-0.5l-1.6,-0.8l-0.8,-1.1l0.2,-0.8l0.2,-0.4l0.1,-0.1l0.3,0l0.5,0l0.8,0l1.3,-0.3l1.4,-0.5l1.4,-0.9l1,-1l0.6,-1.2l-0.6,-1.2l-1.7,-0.9l-1.9,-0.2l-1.3,0.6l-0.2,0.3" stroke="#f0a898"/>
<path d="M412,326.2l-0.4,-1.3l0.5,-1.1l1.2,-0.8l1.4,-0.5l1.5,-0.2l0.3,-0.3l0,-0.3l0,-0.5l-0.3,-0.5l-0.7,-0.5l-1.2,-0.3l-0.3,-0.3l0.2,-0.4l0.3,-0.4l0.3,-0.6l0.7,-0.6l1.1,-0.4l1.3,-0.1l1.2,0.2l0.5,0.3l-0.4,0.4l-0.9,0.3" stroke="#e8604f"/>
<path d="M491.7,327.8l1.4,-0.6l0.7,-0.9l0.3,-1.2l-0.4,-1.1l-1,-1l-1.7,-0.6l-1.7,0l-0.7,0.4l0.1,0.2l0.2,-0.3l-0.1,-0.6l0.1,-0.7l-0.2,-0.9l0.4,-1l0.9,-0.9l1.4,-0.6l1.7,-0.3l1.6,0.3l0.9,0.5l-0.1,0.8l-1.1,0.5l-1.1,0.0" stroke="#e8604f"/>
<path d="M397.8,327.6l1.2,-1.2l0,-1.4l-1.3,-1.1l-1.8,-0.4l-1.1,0.1l-0.6,0.4l0.6,0.2l0.8,0l1.2,-0.4l0.7,-0.7l0.5,-0.9l0,-0.8l-0.6,-0.8l-0.9,-0.5l-0.9,-0.2l-0.2,-0.3l0.3,-0.4l-0.1,-0.5l0.1,-0.5l0.4,-0.6l0.6,-0.5l0.7,-0.4l0.6,-0.3" stroke="#f0a898"/>
<path d="M411.6,327.7l-1.2,-1l-0.4,-1.2l0.5,-1.2l0.2,-0.9l-0.1,-0.5l0,-0.4l-0.5,-0.3l-0.2,-0.1l-0.3,0l0.5,0.3l0.7,0.2l0.8,0.1l1.2,0l1.1,-0.3l0.9,-0.5l0.7,-0.8l0.4,-1l0,-0.6l0.3,-0.4l0,-0.2l-0.1,-0.1l-0.5,-0.1" stroke="#f0a898"/>
<path d="M390.7,327.9l-1.3,-0.9l-0.4,-0.7l0,-0.4l0,-0.2l0.2,-0.1l0.4,-0.2l0.8,-0.3l1,-0.5l1.2,-0.8l0.1,-0.6l0.4,-0.7l0.3,-1l-0.4,-1l-0.8,-0.8l-1.3,-0.7l-1.4,-0.3l-1.4,0.1l-0.8,0l-0.1,-0.2l0.3,-0.5l0.5,-0.6l0.6,-0.7l0.2,-0.4l-0.2,-0.3" stroke="#f0a898"/>
<path d="M454.3,325.1l1.3,0.1l0.5,0.5l-0.6,0.4l-1,0l-1.1,-0.4l-0.9,-0.8l-0.1,-1l0.4,-0.9l0.9,-0.9l1.3,-0.6l1.4,-0.2l0.9,0.2l0,0.2l-0.6,0.1l-1.1,0l-1.2,-0.3l-1.3,-0.6l-0.8,-0.9l-0.1,-1.1l0,-0.9l1,-0.8l1.5,-0.5l1.5,-0.1" stroke="#e8604f"/>
<path d="M476,328l-1.1,-0.8l-1.1,-1l-0.3,-1.3l0.7,-1.4l1.6,-1l2.1,-0.3l1.9,0.4l0.5,0.3l0,0l-0.2,-0.6l0,-0.3l-0.2,-0.2" stroke="#e8604f"/>
<path d="M404.3,326.1l0.3,0.3l-0.2,0.3l-1.1,0.2l-1.6,-0.3l-1.4,-0.5l-0.8,-0.9l-0.5,-1l0.3,-1.3l0.2,-0.6l0.4,-0.7" stroke="#f0a898"/>
<path d="M388.7,327.7l-0.5,-0.8l0,-0.8l0.5,-1l0.6,-0.9l0.8,-0.8l1.1,-0.6l1.4,-0.2l1,0.1l0.5,0.3l-0.5,0.6l-1.5,0.3l-1.4,-0.4" stroke="#e8604f"/>
<path d="M468.9,328l1.4,0.2l1.7,-0.1l1.6,-0.7l1,-1l0,-1l-0.4,-0.9l-0.9,-0.7l-1.1,-0.5l-1.3,-0.2l-1.2,0.1l-0.1,0.2l0.4,0.1l0.8,-0.3l0.9,-0.4l1.1,-0.6l0.7,-0.8l0.1,-0.8l-0.8,-0.8" stroke="#f0a898"/>
<path d="M447.5,329.5l1,-1.1l0.2,-1.2l-0.3,-1.1l-1.1,-0.7l-1.5,-0.2l-1.2,0.2l0,0.5l0.9,0.3l1.6,0l2.1,-0.6l1.5,-1.1l0.4,-1.6l-1,-1.3l-1.2,-0.7" stroke="#e8604f"/>
<path d="M497.7,327l1.2,-0.4l1.2,-0.1l0.6,0.3l-0.5,0.6l-1.4,0.3l-1.9,-0.2l-1.9,-0.8l-0.9,-1.2l0.3,-1.3l1.3,-1l1.8,-0.5l1.7,-0.1l0.9,0.6l-0.2,0.5l-1.4,0.4l-1.5,-0.3l-1.2,-0.7l-0.6,-1.1l0,-1.3l1,-1.3l1.6,-1l2.4,-0.6" stroke="#f0a898"/>
<path d="M490.3,327.4l0.7,0.3l0.3,0.3l-0.7,0.3l-1.2,0l-1.6,-0.4l-1.1,-0.7l-0.9,-1l0.1,-1.3l0.4,-1.1l1.2,-0.8l0.4,-0.5" stroke="#e8604f"/>
<path d="M424,328l0,0.3l0.7,0.2l1,-0.2l0.9,-0.4l0.5,-0.7l0.2,-0.7l-0.2,-0.8l-0.3,-0.7l-0.8,-0.6l-1,-0.4l-0.8,-0.2l-0.5,-0.1l-0.1,0l0.2,0l0.6,-0.2l0.3,-0.4l0.1,-0.4l-0.3,-0.1l-0.5,-0.2l0.2,-0.2l0.6,-0.2l0.9,-0.4l1.2,-0.7l1,-0.9" stroke="#f0a898"/>
<path d="M421.9,330.1l-0.9,-0.5l0,-0.5l-0.2,-0.6l-0.4,-0.8l-0.2,-1l0.3,-1l1,-1l1.7,-0.7l1.3,-0.3l1.1,0.2l0.3,0.4l-0.8,0.4l-1.7,0.2l-1.8,-0.5l-0.7,-0.6l-0.3,-0.5l0,-0.5l0.3,-0.4l0,-0.5l-0.3,-0.4l-0.4,-0.4l-0.5,-0.5l-0.4,-0.6l-1,-0.5" stroke="#f0a898"/>
<path d="M429.9,330.2l1.3,-0.9l0.5,-1.1l-0.6,-1.3l-1.5,-1l-1.9,-0.6l-1.6,0l-0.8,0.5l0.3,0.4l1.3,0.3l1.7,-0.2l1.5,-0.6l1.1,-1.1l0.3,-1.2l-0.3,-1.1l-1.3,-0.9l-2.1,-0.5l-1.8,0.1l-1,0.5l0.1,0.7l1.4,0.5l2.6,0.2l3,-0.6" stroke="#f0a898"/>
<path d="M502.6,328.5l-0.1,0.4l1.2,0.4l1.8,0l2,-0.5l1.7,-0.9l0.6,-1.2l-0.1,-1.2l-0.7,-1l-0.4,-0.6l0.2,-0.4l0.5,-0.4l0.9,-0.2l0.9,-0.2l0.8,0.1" stroke="#e8604f"/>
<path d="M521.4,328.1l1,0.1l0.9,0.3l-0.1,0.4l-0.8,0.3l-1.6,0.1l-2.4,-0.5l-1.9,-1l-0.4,-0.9l-0.2,-0.4l-0.1,-0.2l0.2,-0.1l0.3,0.1l1.1,-0.3l0.9,-0.6l1,-0.7l0.8,-0.8l0.1,-0.9l-0.3,-1l-0.6,-0.8l-1.1,-0.6" stroke="#f0a898"/>
<path d="M470.1,331.8l-0.2,-0.5l0.5,-0.2l1.1,-0.2l1.2,-0.4l1.6,-0.7l1,-0.9l0.5,-1.1l0,-1.2l0.1,-0.6l-0.1,-0.4l0.1,0l0.1,0.2l-0.2,0.3l-0.6,0.2l-1.5,0.1l-1.9,-0.4l-1.6,-0.6l-1.5,-1l-0.6,-0.7l-0.3,-0.4l0.2,-0.1l0.5,0l1,-0.1l0.9,-0.2" stroke="#f0a898"/>
<path d="M464,329.9l-1.6,-0.4l-1.6,0.1l-0.4,0.4l0.6,0.5l1.7,0.3l2,-0.4l1,-0.6l0.1,-0.5l0.1,-0.3l-0.5,-0.3l-1,-0.3l-1.6,-0.3l-1.1,-0.6l-1,-1l-0.3,-1l0,-0.7l-0.2,-0.3l0.1,-0.1l0.1,0.1l0.4,0.1l1,0.0" stroke="#f0a898"/>
<path d="M439.7,332.1l-0.3,-1.3l0.6,-1.1l1.3,-1.1l2.3,-0.4l1.8,0l1.4,0.2l0.4,0.3l0,0.3l-1.1,0.1l-1.2,-0.2l-0.9,-0.4l-0.8,-0.5l-1.1,-0.7l-1,-1l-0.3,-0.7l-0.3,-0.3l0,-0.1l0.1,0l1,0l1,-0.4l1,-0.7" stroke="#f0a898"/>
<path d="M409.6,332.8l-0.8,-1.1l-0.1,-1.3l1.2,-1.1l1.5,-0.7l1.4,-0.3l1.1,0l0.2,0.3l-0.2,0.3l-0.8,0.1l-1.3,-0.1l-1.3,-0.5l-1.1,-0.7l-0.7,-1l0.2,-1.1l1.3,-1l1.8,-0.7l1.6,-0.2l0.8,0.1l0,0.2" stroke="#f0a898"/>
<path d="M486.2,332.5l-0.6,0.2l-0.6,-0.1l-0.5,-0.3l0.3,-0.4l0.1,-0.5l0.7,-0.5l0.9,-0.8l0.4,-0.7l0.2,-0.7l-0.1,-0.8l-0.5,-0.9l-1,-0.9l-1.6,-0.6l-1.9,-0.4l-1.4,0l-0.5,-0.2" stroke="#f0a898"/>
<path d="M421.3,333l0.7,-1.2l-0.3,-1.2l-1,-0.9l-1.5,-0.5l-1.5,-0.1l-0.5,0.2l-0.1,0.4l0.4,0.3l1,0.1l1.5,-0.2l1.9,-0.8l0.9,-1.2l0,-1.4l-1.4,-1.4l-1,-0.8l-0.3,-0.5l0.1,-0.2l0.5,-0.2l0.5,0l0.5,0.1l0.2,0.2l-0.1,0.2l-1,0.2l-1,-0.1" stroke="#e8604f"/>
<path d="M497.5,334l-1.1,0.1l-1.5,-0.3l-1.4,-0.7l-0.2,-0.6l0.2,-0.5l0.2,-0.2l0.2,-0.4l-0.3,-0.4l-0.3,-0.7l-0.4,-0.8l0.1,-1.0" stroke="#f0a898"/>
<path d="M458.6,332.6l0.1,0.4l-0.9,0.4l-1.5,0.1l-1.7,-0.3l-1.6,-0.7l-1,-1l0.1,-0.8l-0.2,-0.4l-0.3,-0.2l-0.2,0.1l0.8,0l1.3,-0.2l1.1,-0.2l1.3,-0.6l0.9,-0.8l0.3,-1.2l-0.2,-1.3" stroke="#f0a898"/>
<path d="M430.5,333.2l-0.3,-0.5l-0.2,-0.2l0.1,-0.2l0,-0.1l-0.4,0l-0.9,-0.1l-1.3,-0.3l-1.2,-0.6l-0.8,-1l0,-1l0.4,-0.9l1,-0.8l1.1,-0.5l0.9,-0.2l0.6,0.1l0.3,0.2l-0.2,0.2" stroke="#f0a898"/>
<path d="M445,334.7l1.4,0.1l1.8,-0.4l1.3,-1l0.3,-0.8l-0.1,-0.5l-0.5,-0.2l-0.4,-0.6l0,-0.7l-0.1,-0.7l-0.3,-0.8l-0.7,-0.8l-0.3,-0.5l0.1,-0.4l0.5,-0.3l0.6,-0.1l0,-0.4l-0.3,-0.5l-0.4,-0.6l-0.8,-0.6l0,-0.4" stroke="#f0a898"/>
<path d="M510.6,335.1l-1.6,-0.2l-2,-0.6l-1.1,-0.9l-0.5,-1.3l0.6,-1.2l1.2,-0.9l1.6,-0.5l0.5,-0.4l-0.1,-0.4l0.4,-0.3" stroke="#e8604f"/>
<path d="M511,334.5l-0.6,0.4l-1.4,0l-1.8,-0.5l-1.4,-1l-0.3,-1.3l0.5,-1.1l1.1,-1l1.7,-0.7l1.9,-0.1l1.1,0.5l0.1,0.8l-1.5,0.6l-2.4,0.1l-2.3,-0.5l-1.4,-1.3l-0.8,-1.3l0.8,-1.4l1.2,-1l1.8,-0.6l1.4,-0.2l1.1,0.2l0.4,0.3l-0.1,0.2" stroke="#e8604f"/>
<path d="M502.6,333l0,-0.3l-0.2,-0.4l0,-0.3l0.3,-0.2l0.1,0l0.3,0l-0.3,0.1l-0.2,0.1l-0.6,-0.2l-1.1,-0.4l-0.9,-0.7l-0.3,-0.6l-0.1,-0.4l0.3,-0.4l0.5,-0.3" stroke="#e8604f"/>
<path d="M528,332.9l1.9,-0.2l0.9,0.2l0.2,0.3l-0.4,0.4l-1.1,0.1l-1.4,-0.2l-1.8,-0.8l-0.8,-1l0.1,-1.1l0.3,-1.1l1.2,-0.8l1.6,-0.5l1.5,-0.2l1.3,0l0.8,0l0,0.3l-0.6,0.2l-1.4,0l-1.7,-0.3" stroke="#e8604f"/>
<path d="M515.7,334.4l0.5,0.4l0.9,0.1l1.1,-0.2l1.3,-0.5l1.2,-0.7l0.9,-1.1l0.4,-0.8l0.5,-0.5l0.2,-0.2l0.1,0l-0.3,0.2l-0.7,0.1l-1.2,-0.2l-1.7,-0.3l-1.3,-0.7" stroke="#f0a898"/>
<path d="M445.5,334.5l0.4,-1.2l1.3,-0.8l1.6,-0.4l1.2,-0.1l1.1,0.3l0.1,0.3l-0.3,0l-1.1,-0.2l-0.8,-0.6l-0.4,-0.8l0.3,-0.9l0.6,-0.9l1.3,-0.6l1.3,-0.5" stroke="#f0a898"/>
<path d="M443.4,335.4l0,-1.2l-0.8,-1.1l-1.6,-0.9l-1.7,-0.4l-1.3,0.1l-0.9,0.3l-0.2,0.4l0.9,0.2l1.1,-0.2l0.9,-0.6l0.9,-0.8l0.2,-1l-0.6,-1l-0.6,-0.6l-0.2,-0.4l-0.1,-0.2l0.1,-0.2l-0.2,-0.1l-0.1,-0.1l-0.3,-0.1" stroke="#f0a898"/>
<path d="M523.2,336.8l1.6,-0.4l0.6,-0.7l-0.1,-0.5l0.2,-0.7l0.6,-0.8l0.1,-1l-0.3,-1.1l-1.1,-1l-1.1,-0.7l-1.5,-0.5l-1.6,-0.2l-1.5,0.2l-1.1,0.4l-0.2,0.7l0.4,0.1l0.3,-0.1l0.2,-0.7l-0.4,-0.6l-0.6,-1l-0.1,-1.1l-0.4,-0.7" stroke="#f0a898"/>
<path d="M410.1,337.4l-1.7,-0.5l-0.9,-0.9l0.1,-1.2l1,-1.2l1.7,-1l2.1,-0.4l1.6,-0.2l1.4,0.3l0.6,0l0.5,-0.3l-0.2,-0.6l0.3,-0.4" stroke="#e8604f"/>
<path d="M411.7,336.7l0.7,0l0.9,-0.1l1.2,-0.2l1.2,-0.5l0.9,-0.6l1.1,-1l0.4,-1l-0.5,-1.1l-1.2,-1l-1.4,-0.5l-1.5,-0.2l-1.1,0.1l-0.4,0l-0.1,-0.3l-0.1,-0.6l0.4,-0.8l1,-1l1.2,-0.8l0.7,-0.5l-0.2,-0.5" stroke="#e8604f"/>
<path d="M475.2,336.3l-0.6,-1.1l-1.3,-0.9l-1.4,-0.5l-1.1,-0.2l-1,0.2l-0.3,0.3l0.6,0.4l0.9,0.1l1.4,-0.3l1.6,-0.7l0.9,-1.1l-0.2,-1.2l-1,-1.1l-1.3,-0.8l-1.5,-0.4l-1.4,0l-0.9,0.2l-0.3,0.3" stroke="#e8604f"/>
<path d="M458.9,335.2l1.3,0.1l0.5,0.5l-0.5,0.5l-1.4,0.2l-1.8,-0.4l-1.7,-0.8l-0.8,-1.2l0.1,-1.4l1.4,-1.2l2.5,-0.7l2.3,-0.1l1.5,0.4l0.4,0.2l-0.1,-0.1l-0.4,-0.4l-0.6,-0.6l0.1,-0.8l-0.3,-0.8l-0.6,-0.9l-1.5,-0.5l-0.3,-0.3l0.1,-0.2l0.6,-0.2l0.5,-0.1l0.4,0.0" stroke="#f0a898"/>
<path d="M476.1,337.9l1.4,-0.2l1.7,-0.4l0.8,-0.6l0.9,-0.7l0.9,-0.9l0.2,-0.8l0.1,-0.5l-0.2,-0.8l-0.4,-0.8l-0.6,-0.9" stroke="#f0a898"/>
<path d="M420.1,338.2l-1.2,-0.8l-0.8,-1.2l0.2,-1.2l1.5,-0.9l1.7,-0.4l1.4,0l1.3,0.1l0.3,0.6l-1.3,0.1l-1.2,-0.3l-0.8,-0.6l-0.7,-0.7l-0.3,-0.9l0.4,-0.9l0.5,-0.8l0.7,-0.5l0.7,-0.4" stroke="#f0a898"/>
<path d="M467.5,335.5l0.5,-0.4l0.1,-0.4l0.1,-0.4l-0.3,-0.5l-0.7,-0.4l-0.5,-0.3l-0.7,-0.2l-0.7,-0.1l-0.5,0.1l-0.1,0.2l0.5,0.2l0.7,0l1.1,-0.3l1.2,-0.6" stroke="#f0a898"/>
<path d="M441.9,337.8l-1.3,-0.2l-1.1,-0.5l-0.3,-0.5l0,-0.4l0.1,-0.5l0.2,-0.4l0.3,-0.5l0.2,-0.6l0.4,-0.7l-0.2,-0.8l-0.5,-0.8l-0.9,-0.5l-0.8,-0.3l-0.5,-0.2l-0.3,-0.1l0.2,0l0.3,-0.2l0.6,-0.2l0.7,-0.4l1,-0.6l0.5,-0.7l0.1,-0.8l-0.2,-0.7l-0.8,-0.5" stroke="#e8604f"/>
<path d="M473.1,335.8l-1.5,-0.7l-0.9,-0.3l0.1,-0.4l0.4,-0.4l0.7,-0.4l1.1,-0.4l1,-0.2l1.1,0.2l0.6,0.2l-0.3,0.4l-0.9,0.2" stroke="#e8604f"/>
<path d="M417.3,337l1.1,-0.8l0.6,-0.5l0.4,-0.4l0,-0.4l-0.2,-0.3l-0.6,-0.3l-0.5,-0.1l-0.1,0l-0.1,0.1l0.2,0.4l0.8,0.1l0.8,-0.1l1.4,-0.3l1.3,-0.6l0.2,-0.6l0,-0.4l-0.5,-0.3l-0.8,-0.4l-0.9,-0.5l-1,-0.6" stroke="#e8604f"/>
<path d="M508,336.4l-2.6,-0.3l-1.6,0.4l-0.3,0.7l0.4,0.3l0,-0.3l-0.2,-0.4l-0.2,-0.6l-0.3,-0.6l-0.5,-0.9l-0.1,-1l0.7,-1.1l1.3,-0.8l2,-0.7l2.1,-0.2l1.7,0.1l1.2,0.5l0.1,0.6l-0.8,0.5l-1.8,0.2l-2.5,-0.4l-2.3,-1.1l-1.2,-1.7l0.6,-1.6l1.9,-1.1" stroke="#f0a898"/>
<path d="M427,338.5l0,-1.3l0.7,-1.1l1.7,-0.9l2,-0.4l1.9,0.3l0.8,0.4l-0.5,0.7l-0.8,0l-0.2,-0.3l0.1,-0.4l0.5,-0.6l0.6,-0.8l0.1,-0.5l-0.2,-0.2l-0.5,-0.1l-0.8,-0.1l-0.1,-0.3l0.6,-0.5l0.8,-0.7l0.7,-1l-0.1,-1.3l-0.9,-1.1l-1.2,-0.9l-1.8,-0.6l-1.7,-0.1" stroke="#e8604f"/>
<path d="M498.9,339.2l-0.3,-1.2l-0.9,-1l-1.5,-0.7l-1.6,-0.2l-1.2,0.1l-0.8,0.5l0.4,0.3l0.9,0.2l1.5,-0.3l1.4,-0.7l0.6,-1.1l-0.2,-1.1l-0.9,-1.1l-1.5,-0.8l-1.9,-0.5l-1.6,-0.1l-1,0.3l-0.1,0.4l0.9,0.2l1.4,0.1l1.7,-0.3l1.6,-0.7" stroke="#f0a898"/>
<path d="M472.2,340.9l-1.5,-0.3l-1.3,-1l-0.1,-0.8l0.2,-0.4l-0.1,-0.4l0.1,-0.2l0.7,-0.2l0.3,0.1l1.2,-0.1l1.6,-0.4l1.4,-0.7l1.1,-1.1l0.6,-1.4l-0.6,-1.4l-1.8,-1.2l-2.8,-0.6l-2.3,0.1l-1.3,0.8" stroke="#f0a898"/>
<path d="M404.4,339l-0.3,0.4l0.6,0.3l1.2,0l1.5,-0.4l1.4,-0.9l0.5,-1.1l-0.2,-1.1l-0.9,-0.8l-0.6,-0.5l-1.1,-0.2l-1,-0.1l-0.7,0.1l-0.1,0.2l0.6,0.2l1.1,-0.1l1.4,-0.5" stroke="#e8604f"/>
<path d="M519.8,338.6l1.4,-0.7l1.5,-0.4l1.5,0l0.9,0.4l0,0.5l-0.9,0.5l-1.5,0l-1.9,-0.5l-1.5,-0.9l-0.8,-1.3l0,-1.4l1,-1.2l2,-0.8l2.2,-0.1l1.5,0.4l0.4,0.6l-0.9,0.6l-1.7,0.3l-2.1,-0.3l-2,-1.0" stroke="#e8604f"/>
<path d="M415,340.7l0.1,-1.1l-0.9,-1.1l-1.2,-0.7l-1.8,-0.3l-1.3,0.1l-0.4,0l0.1,-0.3l0.2,-0.6l0.4,-0.7l0.8,-0.8l0.8,-0.5" stroke="#f0a898"/>
<path d="M449.2,342.1l1.7,-0.6l1.2,-1l-0.2,-1.3l-1.1,-1.2l-0.9,-0.6l-0.2,-0.4l-0.1,-0.4l0.1,-0.2l0.4,-0.1l0.2,0l-0.2,0.1l-0.2,-0.2l0.5,-0.4l0.4,-0.7l0,-0.9l-1.1,-0.8l-1.1,-0.7l-1.3,-0.5l-1,-0.3l-0.8,0l-0.7,0.1l-0.3,0.2l0.7,0.3l1.3,0l1.4,-0.5" stroke="#f0a898"/>
<path d="M502.5,341l0.2,0.3l0,0l0.1,-0.4l0.5,-0.5l0.7,-0.7l0.4,-0.7l0.1,-0.8l-0.5,-0.8l-0.9,-0.7l-1.3,-0.6l-0.6,-0.4l0,-0.4l0.3,-0.4l0.3,-0.4l0.8,-0.3" stroke="#e8604f"/>
<path d="M400.7,342.7l1.5,-0.1l1.3,-0.4l1.1,-0.7l0.7,-1l0.3,-1.1l-0.4,-1.1l-1.2,-0.9l-1.7,-0.5l-1.4,0.1l-0.7,0.3l0.1,0.3l0.7,0.2l1.2,0.1l1.6,-0.3l1.6,-0.8l1,-1.2l0.1,-1.4l-0.1,-0.8l0,-0.5l0.7,-0.2l0.7,0l-0.3,0.2l-0.5,0.1l-1,0.1l-1.5,-0.2" stroke="#e8604f"/>
<path d="M528.4,340.3l-1.6,-0.1l-1.1,0.1l-0.7,0.4l0,0.1l-0.1,-0.3l-0.5,-0.7l-0.4,-0.7l-0.2,-0.9l0.4,-1l1.2,-1l1.6,-0.8l2.1,-0.3l1.9,0.1l1.1,0.5l0.1,0.7l-0.9,0.5l-1.6,0.1l-1.8,-0.3l-1.3,-0.8l-0.9,-1.0" stroke="#f0a898"/>
<path d="M523.2,341.4l-0.9,-1.1l-1.1,-0.7l-1,-0.4l-1,0.1l-0.4,0.4l0.3,0.5l0.2,0.1l-0.3,-0.3l-0.4,-0.3l-0.6,-0.5l-0.8,-0.7l-0.9,-0.9l-0.3,-1.1l0.4,-1.2l0.8,-0.9l1.5,-0.6l1.7,-0.3l1.7,0.2l0.8,0.7l-0.5,0.7l-1.8,0.2l-2.2,-0.2" stroke="#e8604f"/>
<path d="M432.4,321.4l-0.9,0.1l-0.1,0.3l0.6,0.4l0.6,-0.2l0.3,-0.5l0.1,-0.7l0.3,-0.9l0.3,-1l1.6,-0.8l1.9,-0.5l1.9,-0.3l1.6,0l0.8,0.1l0.9,0.2l0.2,0.3l-1.2,0.2l-2,-0.2l-2.2,-0.8l-1.8,-1.3l-0.3,-1.3l1,-1.3l2.4,-1l2.8,-0.2l1.1,0.2l0.1,0l-0.4,-0.3l-0.4,-0.5l-1.1,-0.7l-1,-0.6l-0.8,-0.5l-1.3,-0.4l-1.6,-0.2l-1.1,0l-0.5,0.1l0.2,0.4l1.1,0.3l1.9,0.1l2.3,-0.4l1.8,-1l0.9,-1.3l-0.9,-1.2l-1.6,-0.9l-2,-0.3l-1.7,0.2l-0.6,0.4l0.2,0l0.3,-0.2l-0.1,-0.5l0,-0.6l-0.4,-0.8l0.1,-1l0.3,-0.9l1.1,-0.9l2,-0.8l2.2,-0.3l2.3,0.2l1.7,0.7l0.1,0.9l-1.9,0.7l-2.8,0.1l-3.4,-0.6l-2.5,-1.3l-1.1,-1.7l1.1,-1.9l2.6,-1.2l3.5,-0.4l1.9,0.5" stroke="#e0302a" stroke-width="1.2"/>
<path d="M442.7,322.1l1.8,-0.9l1.9,-0.6l1.9,-0.2l0.7,-0.2l-0.1,-0.4l0.6,-0.4l0.8,-0.1l0.5,0.1l0.3,0.2l-0.5,0.4l-1.5,0.1l-1.9,-0.3l-2.1,-0.9l-1.2,-1.2l0.2,-1.6l1.5,-1.3l2.2,-0.9l2.8,-0.3l2.7,0.3l1.1,0.3l0.5,0.1l0.3,-0.4l0.2,-0.5l-0.1,-0.7l-0.4,-0.9l-0.4,-0.8l-0.4,-0.6l-0.1,-0.4l0.8,0l0.9,0.1l0.4,0.4l-0.5,0.4l-1.5,0.6l-2.1,0.1l-2.6,-0.4l-2.9,-0.9l-1.8,-1.2l-0.6,-1.5l1.7,-1.4l2.3,-0.8l1,-0.7l0.6,-0.5l0,-0.5l-0.4,-0.4l-0.7,-0.3" stroke="#e0302a" stroke-width="1.2"/>
<path d="M472.9,318.6l1.9,-1.9l1.9,-1.2l1.3,-0.6l1.6,0.1l1.4,0l0.3,0.9l0.3,1.2l-0.3,1.8l-0.5,1.9l-1.2,2l-1.7,1.2l-1.9,0.3l-2,-0.7l-1.9,-1.5l-1.7,-2.1l-1.5,-2.3l-0.6,-2.7l0.3,-2.8l0.7,-2.8l1.5,-2.5l1.7,-2l2.1,-1.1l2,-0.6l2.8,-0.5l2.8,0.5l2.2,1.2l1.4,2l0.9,2.6l0.1,2.8l-0.9,1.7l-1.3,0.8l-1.9,0.2l-1.6,-0.6l-1.3,-1.4l-1.2,-1.9l-0.7,-2.5l0.5,-3l0.4,-3.2l0.2,-3.1l0.9,-2.4l0.7,-1.7l1,-1.2l1,-0.5l1.1,0.2l1.4,0.7l0.6,1.1l0.2,1.7l-0.1,1.5l-0.3,1.3l-0.6,1.6l-1.6,1.4l-2,1l-2,-1.2l-1.4,-1.7l-0.9,-2.1l-1,-2.4l-0.6,-2.5l-0.3,-2.4l-0.1,-2.1l0.8,-1.7l1.1,-1.3l0.9,-0.7l0.6,-0.4l0.3,-0.5l0.1,-0.4l0.3,-0.5l0.5,-0.4l0.6,-0.2l0.6,0l0.3,0.3l0.2,0.3l-0.1,0l0,-0.4l0.3,-0.3l0.6,0.1l0.8,0.6l0.1,1.1l-0.7,1.1l-0.7,1l-0.4,0.8l-0.7,0.3l-0.9,-0.1l-1.3,-0.8l-1.2,-1.5l-1.4,-2.4l-0.9,-3.1l-0.3,-3.1l-0.2,-3.3l0.9,-3.1l0.5,-2.3l0.3,-1.2l-0.4,-0.6l-0.8,-0.2l-0.5,1l0.2,1.1l-0.2,1.3l0.5,1l0.8,1l0.8,0.9l0.5,1.1l0.4,1.2l1.4,-0.4l0.9,0.1l0.7,-0.5l0.9,-1.1l1.1,-1.6l1.1,-2l0,-2.3l-0.3,-2.5l-0.7,-2.2l-0.4,-2.6l-0.7,-2.3l-0.7,-1.7l-1,-1l-1.2,-0.3l-0.4,-0.2l-0.2,-0.4l0.6,-0.8l0.9,-1l0.4,-1l0.3,0.1l0.6,-0.7l0.8,-0.6l0.5,-0.5l-0.2,0l-0.2,-0.1l-0.9,-0.1l-1.4,0l-1.4,-0.4" stroke="#2c3c9e"/>
<path d="M392.3,319.2l-0.2,1.2l-0.2,1.4l0.6,1.4l0.5,1.1l0.8,0.8l1.3,0.6l1.5,0.1l1.7,-0.4l1.4,-0.8l1.3,-1.5l1.4,-1.8l0.6,-1.5l0.6,-0.9l0.4,-0.5l0,-0.2l0,0.3l-0.1,0.4l0.1,-0.1l0.1,-0.7l0.5,-0.9l0.5,-1.2l0,-1.8l0,-1.8l0.3,-2.1l0.3,-2.3l0.1,-2.3l-0.3,-2.1l-0.9,-1.7l-1.1,-1.2l-1.6,-0.6l-1.6,-0.1l-2.1,0.4l-2.3,1l-1.3,1.1l-1,1.3l0,1.6l0.4,1.5l0.7,1.4l1.1,1l1.5,0.2l1.5,-1l1.1,-1.5l1.1,-1.8l0.6,-1.3l0.3,-0.9l-0.2,-0.6l0.2,-0.3l-0.3,0l-0.3,-0.7l-0.1,-0.9l-0.4,-1.1l-0.2,-1.3l0,-1.6l-0.6,-1l-0.8,-0.7l-0.3,-0.2l-0.4,0l-1,0.2l-1.2,0.3l-1,0.1l-1,0l-0.9,-0.4l-0.2,-0.7l0.2,-1.1l0,-1.2l-0.7,-1.1l-0.8,-1.8l-0.6,-1.1l-0.9,-0.7l-1,-0.2l-0.7,0.5l1.2,-0.7l1.1,-1l1,-1.1l0.7,-1.4l0.7,-1.7l0.7,-1.5l0.5,-1.2l0.4,-1.9l1,-1.6l1.2,-1l0.6,-0.8l0.3,-0.8l0,-0.9l-0.2,-0.2l-0.7,-0.2l-0.6,0l-0.7,0.3l-0.6,0.5l-0.6,0.9l-1,0.8l-0.5,1.2l0.1,1.1l0.2,0.9l0.3,0.4l-0.3,-0.2l-0.8,-0.6l0,-0.7l-0.5,-0.9l-0.5,-1.1l-0.1,-1.3l0.2,-1.4l0.1,-1.5l0.8,-1.7l0.2,-1.7l0.1,-1.7l0.1,-1.5l0.8,-1.3l1,-1l1.2,-0.6l1.4,-0.1l1.5,-0.1l1.6,0.6l1.1,1.1l0.8,1.4l0.1,1.6l-0.3,1.6l-1.2,0.9l-1.5,-0.7l-1,-1.3l-0.6,-1.7l-0.1,-1.9l-0.2,-2.1l-1.3,-1.8l-0.7,-2.4l0.1,-2.6l0.6,-2.5l0.8,-2.1l1.2,-1.7l1.7,-1l1.9,-0.2l2.2,0.7l2,1.8" stroke="#2c3c9e"/>
<path d="M400.2,321.8l2,-0.4l1.8,-0.2l1.3,0.2l0.1,0l-0.1,-0.4l-0.3,-0.6l-0.7,-0.6l-0.8,-0.5l-0.8,-0.5l0,-0.5l0.6,-0.4l1,-0.5l0.9,-0.3l1.3,-0.2l0.9,0l0.6,0.1l-0.3,0.3l-1,0.2l-1.4,-0.2l-1.6,-0.5l-1.5,-0.8l-0.6,-1l0.2,-1.1l1.1,-0.9l1.4,-0.8l2,-0.4l1.7,0l1,0.4l-0.7,0.5l-1.1,0.1l-1.4,-0.3l-1.3,-0.4l-1.4,-0.9l-0.1,-1.5l1.3,-1.3l2.6,-0.9l2.6,-0.2l2.1,0.4l0.1,0.2l-0.1,0.5l-1.3,0.4l-1.9,0.1l-2.2,-0.2l-2.4,-0.6l-2.1,-1.1l-0.6,-1.6l0.7,-1.7l1,-0.8l0,-0.5l-0.7,-0.1" stroke="#e0302a" stroke-width="1.2"/>
<path d="M417.8,323.8l1.2,0.4l2.1,0l1.6,-0.4l0.5,-0.4l0.3,-0.2l-0.2,-0.2l-0.8,-0.3l-1.1,-0.4l-0.9,-0.9l-0.4,-0.9l-0.2,-1l0.4,-1l0.9,-0.9l0.9,-0.5l0.4,-0.3l0.2,-0.2l-0.8,-0.4l0,-0.5l0.1,-0.6l0.3,-0.7l-0.3,-0.3l-0.5,-0.2l-0.3,0l-0.3,0.3l1,0.5l1.8,0.4l2.3,-0.1l2.4,-0.5l2.2,-1l1.1,-1.4l-0.2,-1.4l-1.7,-1.3l-2.9,-0.7l-2.4,0l-1.1,0.7l0.3,0.5l1.2,0.3l1.7,-0.2l1.7,-0.6l1.1,-0.9l0.3,-0.7l0.3,-0.4l-0.1,-0.3l0.1,-0.1l-0.7,0l-1,0.1l-1.7,-0.3l-1.7,-0.7l-1.4,-1.1l-0.4,-1.3l0.3,-0.8l0.8,-0.8l0.3,-0.6l0.6,-0.6l0.8,-0.7l1.4,-0.5l0.5,-0.4l-0.6,-0.5l-1.2,-0.1l-1,-0.2" stroke="#e0302a" stroke-width="1.2"/>
<path d="M484.3,322.3l1.5,0.4l0.4,0.4l-0.1,0.4l-1.3,0.3l-1.8,-0.3l-1.6,-0.9l-0.1,-0.8l0.3,-0.7l0.4,-0.4l0.8,-0.2l0.7,0l1.1,-0.1l1.2,-0.2l1.5,-0.4l1,-0.7l0.8,-0.9l0,-0.7l-0.2,-0.5l-0.5,-0.3l-0.8,-0.1l-0.6,0.1l-1.1,0l-1.6,-0.2l-1.9,-0.5l-1.5,-0.9l-1,-1.2l0.2,-1.5l1.4,-1.4l2.8,-0.8l2.8,-0.2l2.1,0.4l0.9,0.7l-0.4,0.5l-1.8,0.4l-1.3,-0.2l-0.5,-0.4l0.2,-0.4l0.5,-0.4l1.3,-0.6l0,-0.6l-0.6,-0.5l-0.7,-0.4l-1.1,-0.5l-0.8,-0.6l0.2,-0.5l0.2,-0.4l0.7,-0.4l0.6,-0.4" stroke="#e0302a" stroke-width="1.2"/>
<path d="M478.7,323l-0.5,-0.3l0.1,-0.3l0.4,-0.5l0.7,-0.5l0,-0.5l0.6,-0.5l1.3,-0.3l2,-0.1l1.7,0.1l1,0.4l0.3,-0.1l-0.2,-0.4l-0.3,-0.7l-0.7,-0.9l-0.6,-0.8l-0.9,-0.8l-1.8,-0.5l-0.5,-0.4l0.1,-0.4l0.9,-0.5l1,-0.4l1,-0.2l0.6,-0.2l1.1,0l0.9,0.1l0.1,0.4l-0.8,0.4l-1.6,0.2l-1.9,0l-0.6,-0.4l0,-0.3l0.5,-0.5l0.8,-0.6l0.9,-0.7l0.9,-1.1l0,-1.4l-1,-1.3l-1.9,-1.1l-2.9,-0.8l-2.8,-0.1l-2.2,0.4l-0.8,0.7l0.7,0.6l1.5,0.2l2.4,-0.1l2.4,-0.6l2.3,-1l1.1,-1.4l-0.6,-1.4l-1.9,-1.1l-2.1,-0.5l-2,0l-1.5,0.4l0.3,0.6l1.8,0.5l3,-0.1l2.8,-0.8l1.1,-1.4l-0.5,-1.3l-1.6,-0.8l-1.6,-0.3l-1,-0.1l-0.3,0.2" stroke="#e0302a" stroke-width="1.2"/>
<path d="M489,326l1.9,-1l0.9,-1.2l-0.1,-1.3l-1.3,-1.1l-2.3,-0.7l-2.4,0l-1.3,0.5l0.3,0.8l1.4,0.5l2.6,0.1l3,-0.5l2.5,-1.1l1,-1.5l-0.6,-1.5l-2,-0.9l-1.8,-0.5l-2.2,0.1l-1.2,0.5l0.1,0.6l1.4,0.4l2.3,0l2,-0.5l1.8,-0.9l1,-1.1l0.1,-1.2l-0.1,-0.7l-0.1,-0.3l0,-0.2l0.2,0.2l-0.3,0.2l-1.3,0l-1.4,-0.1l-1.9,-0.3l-1.4,-0.6l-1.3,-0.9l-0.5,-1.2l0.4,-1l0.9,-0.9l1.2,-0.6l1.4,-0.5l1.4,0l0.7,0.4l-0.3,0.5l-1.4,0.2l-1.9,-0.1l-1.8,-0.6l-1.1,-0.9l-0.1,-1l0.7,-1.1l1.7,-0.8l1.9,-0.5l0.8,-0.3l-0.1,-0.3l-0.8,-0.4l-0.7,-0.5l-1.1,-0.6l-1.4,-0.5l-1.8,0l-1.1,0.5l0.1,0.7l1.7,0.5l1.7,0.0" stroke="#e0302a" stroke-width="1.2"/>
<path d="M516.7,324.8l-0.1,-2.1l-0.2,-2.2l-0.5,-1.8l-0.1,-1.2l-0.6,0.1l0,0.3l-0.1,0.3l-0.1,0l0,0.3l0.1,0.9l-0.2,1.2l-0.2,1.1l-1.2,0.9l-1.2,0.4l-1.3,-0.5l-1,-0.9l-1.2,-1.1l-1,-1.3l-0.9,-1.5l-1.1,-1.3l-0.8,-1.9l-0.5,-2.1l0,-2.1l0.5,-1.2l0.1,-0.5l0.2,0l0.3,-0.4l-0.2,-1.4l0.5,-1.7l1,-1.8l1,-1.5l1,-0.9l1,-0.7l1.6,-0.3l1.4,0.2l1.1,0.4l0.4,0.7l1,0.9l0.7,1.3l0,1.7l-0.7,1.7l-0.6,1.3l-1.3,0.7l-2,0.3l-1.4,-1.3l-1.1,-1.7l-0.8,-2l0,-1.5l0.2,-1.2l0.7,-0.6l1.3,-0.3l1.5,-0.3l0.8,0.8l1.1,0.6l1.1,0.4l1.3,0l0.9,-1.5l0.7,-1.6l0.1,-1.8l-0.2,-1.9l0,-1.9l-0.5,-1.8l-0.9,-1.7l-1.3,-1.4l-1.6,-1.1l-0.9,-0.6l-0.9,-0.3l-0.8,-0.1l-0.3,0l-0.6,0.2l-0.5,0.2l0.3,-0.1l0.5,-0.4l0.3,-0.6l0.5,-0.7l-0.6,-0.5l-0.6,0.2l-0.5,0.7l0.2,1l0.8,1.5l0.7,1.2l0.5,0.8l1.3,0.4l2.2,-0.1l1.9,-0.7l2.1,-1.4l0.8,-2.7l1,-2.6l0.7,-2.6l0.2,-2.8l-0.2,-2.5l-1.4,-2.3l-1.3,-1.7l-1.7,-1.2l-1.8,-0.8l-1.5,-0.3l-1,-0.1l-0.5,-0.4l0.1,-1.5l-0.3,-1.1l-0.7,-0.4l-1.1,-0.1l-1.2,0.1l-0.7,0.4l-0.9,0.9l-0.5,1.5l-0.1,1.8l0.4,1.8l0.8,1.5l1.1,0.7l0.9,0.3l1,-0.4l1.3,-0.9l1.3,-1.4l1.7,-1.7l1.2,-2.4l0.3,-2.7l0.1,-3.1l-0.7,-3.4l-1.2,-3l-2.5,-2l-1.4,-0.7l-0.4,-0.4l-0.1,-0.1l0.3,-0.1l0.4,0.2l0.5,0.3l0.4,0.5l0.4,0.8l0.3,0.9l-0.1,1.2l-0.5,1.4" stroke="#2c3c9e"/>
<path d="M433.7,324.9l0.8,0.4l-0.3,0.4l-1.4,0.2l-1.8,-0.2l-1.7,-0.7l-1.2,-1l-0.1,-1.3l0.6,-1.3l2.2,-1l2.8,-0.3l1.9,0.4l0.6,0.7l-1,0.7l-2.2,0.3l-3,-0.2l-2.4,-1l-1.4,-1.4l0.6,-1.4l1.4,-1.1l2,-0.8l2.3,-0.5l2.3,0l1.6,0.2l0.9,0.5l-0.4,0.7l-2,0.4l-3.2,-0.2l-2.4,-1l-0.6,-0.9l0.1,-0.6l0.1,-0.3l0.6,0.1l1.1,0.1l2,0l2.1,-0.4l2,-0.9l0.6,-0.8l0.1,-0.5l-0.4,-0.3l-0.9,0l-1.7,0l-1.8,-0.3l-2,-0.6l-1.3,-0.9l-1.3,-0.9l-0.6,-1.4l1.6,-1.3l1.9,-0.8l2.3,-0.5l2,0.1l1,0.6l-0.6,0.7l-0.7,0.1l0.1,-0.3" stroke="#e0302a" stroke-width="1.2"/>
<path d="M394.5,325.6l-0.5,-1.2l-1.7,-1l-2.2,-0.3l-1.6,0.1l-0.9,0.4l0.1,0.5l1.2,0.2l0.7,-0.3l0.3,-0.4l-0.6,-0.6l-0.9,-0.7l-0.9,-0.9l-0.5,-0.7l-0.4,-0.4l-0.5,-0.1l-0.6,-0.1l-0.4,-0.2l0,-0.5l-0.2,-0.7l-0.1,-0.9l0.5,-1l1,-1l2.2,-0.8l2.6,-0.4l2.1,0l1.2,0.2l0.7,0.3l-0.1,0.3l-0.8,0.3l-1.5,-0.1l-1.9,-0.6l-1.5,-0.9l-0.4,-1.1l0.7,-1.1l1.6,-0.8l1.9,-0.5l1.8,-0.2l0.9,0.2l0.2,0.3l-0.1,-0.2l0.7,-0.1l0.5,-0.4l0.5,-0.6l0.7,-0.7l0.3,-0.8l-0.1,-0.9l-0.7,-0.9l-1.6,-0.7l-0.9,-0.4l-0.2,-0.4l0.4,-0.2l0.4,-0.2l0.7,0l0.5,0.2l0.1,0.1l-0.3,0l-0.8,0.1l-1.2,-0.3l-1.4,-0.5l-1,-0.8l-0.4,-1.1l0.3,-1l1.1,-0.8l1.2,-0.6l1.4,-0.3" stroke="#e0302a" stroke-width="1.2"/>
<path d="M419.3,327l2.1,-0.1l2,-0.4l2,-0.7l1.3,-1.1l0.2,-1.3l-0.6,-1.1l-1.7,-0.9l-2.1,-0.3l-1.3,0.2l-0.5,0.3l0.2,-0.1l-0.1,-0.4l0.6,0l1.3,0l1.5,-0.1l1.7,-0.2l1.7,-0.4l0.6,-0.6l-0.1,-0.4l-0.4,-0.4l-0.3,-0.1l-0.7,-0.2l-1.2,-0.4l-1.8,-0.5l-1.9,-1l-1.1,-1.2l-0.1,-1.3l1.8,-1.2l3,-0.6l2.2,0.1l1.3,0.6l0.3,0.1l0.2,-0.3l0,-0.7l-0.5,-1l-1.1,-1l-1.5,-0.8l-1.7,-0.6l-1.8,-0.3l-1.5,0l-1,0.2l-0.5,0.5l0.6,0.5l1.9,0.5l2.8,-0.3l2.7,-0.8l1.7,-1.1l0.6,-1.1l-0.2,-0.7l0.1,-0.4l-0.5,-0.6l-0.6,-0.6l-0.8,-0.6l-0.7,-0.4l-0.3,-0.6l0.1,-0.7l0.6,-0.5l1.2,-0.4l1.2,0.1l0.7,0.4l-0.5,0.5l-1.5,0.3" stroke="#e0302a" stroke-width="1.2"/>
<path d="M416.6,325.8l-0.9,-1.2l-1.6,-0.8l-1.9,-0.2l-1.3,0.4l-0.3,0.6l1.1,0.5l2.4,0.1l2.3,-0.7l1.2,-1.5l-0.7,-1.6l-2,-1.1l-2.7,-0.6l-1.4,-0.1l-0.3,-0.3l-0.5,-0.1l-0.4,0l-0.2,0.3l0.1,0.3l0.9,0.1l1.4,0l1.9,-0.2l2.1,-0.6l1.6,-0.9l1.2,-1.1l0.3,-1.3l-0.7,-1.2l-1.6,-0.9l-1.9,-0.3l-1.8,0.1l-1.4,0.5l0,0.8l1.4,0.5l1.3,-0.4l0.6,-0.5l0,-0.6l-0.7,-0.2l-1.3,-0.6l-1.2,-0.8l-0.7,-1.1l0.4,-1.3l1.8,-1.4l2.9,-0.9l3,-0.2l2.6,0.5l1,1l-1.4,0.9l-2.6,0.4l-3,-0.4l-2.9,-1.2l-0.8,-1.6l0.8,-1.8l1.1,-0.7l0,-0.3l-0.6,-0.1l-0.3,-0.2l-0.3,0l-0.3,0.1l0.2,0.2l0.6,0.2l1.2,0l1.5,-0.3l1.8,-0.6l1.5,-0.8l0.5,-1.2l-0.2,-1.1l-1.1,-0.9l-1.5,-0.6l-1.8,-0.3l-1.3,0.1l-0.3,0.5l0.9,0.4" stroke="#e0302a" stroke-width="1.2"/>
<path d="M433.9,330.6l0,-1.3l0.3,0.3l0.1,0.6l-0.9,0.8l-1.1,0.6l-1.4,0.1l-1.5,-1.4l-0.9,-1.9l-1,-2.3l-0.5,-2.4l-0.2,-2.5l0.4,-2.3l0.8,-2.2l0.9,-1.8l1,-1.7l1.6,-1.5l1.3,-1l1.2,-0.7l0.9,-0.1l0.7,0.6l1.3,0.8l1,0.4l0,-0.1l0.3,-0.6l-0.2,-1.1l-0.4,-1l-0.8,-1.3l0.2,-0.5l0.5,-0.4l0.3,-0.6l-0.1,-0.7l-0.5,-0.8l-0.5,-0.8l-1,-0.4l-0.9,-0.2l-0.8,0l-1.4,-0.2l-1.2,0.4l-0.7,0.8l-0.2,1.2l0.4,1.1l0.8,0.7l1,0.4l0.8,0.6l1.2,0.1l1.8,-0.3l2.1,-1.2l2.1,-2l1.3,-2.5l0.7,-2.6l-0.3,-2.4l-0.6,-1.9l-0.3,-2.3l-0.9,-2.1l-1.4,-1.6l-1.8,-1.3l-2,-0.6l-2,0.4l-1.1,1l-1.4,1.9l-0.6,2.1l0.1,2l1,1.5l1.4,0.9l2.2,0.4l1.9,0.5l2.1,-0.1l1.7,-0.5l1.5,-1l1.3,-1.4l0.5,-1.9l0,-2.1l0,-1.5l-0.5,-0.6l-0.7,0.2l-0.7,0.4l-1,0.6l-1.4,0.7l-1.4,0.5l-1.6,0.2l-2.1,-0.2l-1.6,-0.7l-1.6,-1.2l-1.5,-1.9l-0.6,-2.5l-0.2,-3l0,-3.3l0,-3l0.7,-2.6l1.3,-1.9l1.4,-1.4l1.6,-0.7l1,-0.1l0.3,1.3l0.4,1.2l0.7,1.3l-0.1,1.1l-0.2,1l-0.2,0.2l-0.2,-0.3l-0.3,-0.8l-0.5,-0.9l-0.3,-1.2l0.1,-1.2l-0.4,-1.3l-0.8,-1.3l-0.5,-0.8l-0.2,-0.4l-0.2,-0.2l-0.2,-0.1l1,-0.2l1.1,-0.1l0.9,-0.7l0.5,-1.4l0.4,-0.7l0.8,0.2l0.8,-0.3l0.7,-1.2l-0.1,-1.6l-0.4,-2.2l-0.9,-2.1l-1.8,-2.4l-1.1,-1.9l-1.2,-1.4l-1.4,-0.9l-1.4,0.4l-0.7,0.1l-0.2,-0.1l0.4,-0.4l0.4,-0.3l1,-0.1l0.8,0.9l0.1,1l-0.3,1l0.2,1l0.2,1.2" stroke="#2c3c9e"/>
<path d="M403,326.6l-0.4,-1.2l-1.4,-1l-2.1,-0.5l-1.5,0.1l-0.5,0.2l0.3,0.1l0.1,-0.3l0.2,-0.5l-0.8,-0.5l-0.4,-0.9l0.5,-1l1.6,-1.1l2.5,-0.8l3.1,-0.3l2.3,0.2l1.4,0.6l0.1,0.6l-1.1,0.8l-2.3,0.3l-1.2,-0.2l-1.6,-0.4l-2.1,-0.6l-2.1,-1.1l-1,-1.7l0.7,-0.9l0.2,-0.4l0.2,0l0.6,0l0.2,-0.5l-0.8,-0.5l-0.6,-0.7l-0.2,-0.9l0.7,-1.1l2.2,-1.2l2.4,-0.7l2.1,-0.2l1.9,0.2l1.1,0.5l0.2,0.7l-0.8,0.5l-1.8,0.2l-2.2,-0.3l-1.7,-0.7l-0.8,-1.1l-0.5,-1.2l0.7,-1.3l1.7,-1.1l2.2,-0.7l2.2,-0.2l1.9,0l1.1,0.4l-0.5,0.5l-0.8,0.0" stroke="#e0302a" stroke-width="1.2"/>
<path d="M506.7,327.1l0.4,-1.2l1.6,-0.9l1.4,-0.7l1.4,-0.5l0.6,-0.3l0.3,-0.3l-0.1,-0.3l-0.3,-0.4l-0.6,-0.3l-0.7,-0.2l-0.5,-0.1l-0.1,0.1l0.2,0.1l0.5,-0.1l0.9,-0.2l1.2,-0.3l1.4,-0.7l0.8,-0.8l0.2,-0.8l-0.3,-0.8l-0.6,-0.7l-0.7,-0.5l-0.9,-0.3l-1.1,-0.1l-0.7,0.1l0,0.2l0.3,-0.2l-0.3,-0.4l-0.6,-0.5l-0.8,-0.6l-0.8,-0.9l-0.3,-0.9l0.6,-0.9l1.3,-0.7l2.2,-0.3l2.1,0.2l1.2,0.4l-0.1,0.5l-1.1,0.2l-0.7,-0.2l-0.5,-0.5l-0.6,-0.4l-1.1,-0.4l-1.1,-0.6l-0.9,-0.9l-0.3,-1l0.5,-1l1.1,-0.9l1.2,-0.7l1.5,-0.3l0.6,-0.2l0.9,-0.1l0.7,0l0.1,0.2l-0.7,0.1l-1.5,0l-1.7,-0.4l-1.8,-0.5l-1.5,-1.1l-0.3,-1.3l0.9,-1.3l2.3,-0.6l2,0l1.1,0.3l0.1,0.3l-0.3,0.2" stroke="#e0302a" stroke-width="1.2"/>
<path d="M488.7,322.1l0.9,-1.6l1.7,-1.1l1.4,-0.7l1.1,-0.4l-0.2,-0.3l-0.1,-0.5l-0.8,-1.1l0.1,-0.8l0.3,-0.6l0.5,-0.4l0.2,-0.1l0.3,0l0.3,0.3l1,0.7l0.2,1.1l0.5,1.6l-0.2,1.5l-0.3,1.4l-1.1,1.3l-1,1l-1.1,0.2l-1.2,-0.2l-1.8,-1.2l-1.9,-2.1l-1.2,-3l-0.4,-3.6l0.1,-3.5l0.4,-3.1l0.3,-2.4l1.3,-1.7l1.2,-0.9l0.8,-0.1l1.2,0.8l1,1.4l0.3,1.6l-0.3,2l-1.2,2l-0.7,1.7l-0.9,1.3l-1.5,-0.2l-1.3,-0.6l-0.7,-1.2l-0.7,-1.5l-0.6,-1.4l-0.2,-1.8l0,-2.1l0.3,-2.2l0.8,-2.2l1.4,-2.4l1.9,-1.9l1.6,-1.8l1.7,-1.2l1.8,-0.8l2.3,-0.1l2.1,0.4l1.8,1l0.7,1.5l0.3,1.7l-0.4,1.4l-1,1.3l-1.4,0.9l-1.7,0.5l-2.4,-0.1l-1.6,-0.6l-0.9,-0.7l-0.5,-0.6l-0.1,-0.7l0.2,-0.7l0.8,-0.8l1,-0.9l1.1,-1.1l1,-1.4l0.7,-1.9l0.6,-2.2l0.1,-2.5l-0.1,-2.1l-0.6,-1.9l0.1,-1l0.5,-0.1l0.9,-0.5l1.1,-0.3l0.7,0.2l0.5,0.4l0.1,0.8l-0.1,1.1l0.3,0.9l-0.2,1l-0.3,0.7l-1,0.4l-1.2,0l-1.1,-0.4l-0.8,-0.7l-0.9,-1.1l-0.4,-1.5l-0.3,-2l-0.3,-2.3l0,-2.4l-0.3,-2.6l0.2,-1.7l-0.3,-1l-0.3,-1.2l0.3,-1.3l0.7,-1.1l0.3,-1.3l1.2,-0.9l1.3,-0.3l1.5,0.3l1.3,0.9l0.4,1.1l-0.3,0.6l-0.2,-0.3l-0.5,-1l-0.6,-1.4l-0.8,-1.7l-0.5,-1.9l-0.7,-1.7l-0.9,-1.1l-0.9,-0.6l-1.1,0.5l-1.2,1l-0.3,1.5l0.3,1.8l1.1,1.7l1.1,1.4l1.1,0.6l1.1,0.2l0.4,-0.4l-0.2,-0.5l-0.6,-0.7l-0.6,-0.8l-1.2,-1.1l-0.9,-1.2l-0.9,-1.6l-0.9,-2.1l-0.7,-2.3l0.1,-2l-0.4,-1.9l-0.7,-2.4" stroke="#2c3c9e"/>
<path d="M515,326.5l0.3,0.4l-0.3,0.3l-0.8,0.1l-1,-0.2l-1,-0.5l-0.2,-0.4l0.5,-0.4l0.8,-0.4l1.2,-0.1l1.7,-0.4l2,-0.9l1,-1.2l-0.1,-1.3l-1.5,-1.3l-2.8,-0.7l-2.4,0l-1.5,0.5l-0.5,0.7l0.9,0.8l1.9,0.4l2.6,0l1.4,-0.4l-0.1,-0.4l0.6,-0.8l1,-1l0.6,-1l-0.1,-1l-0.7,-0.5l-0.4,-0.2l-0.5,0l-0.7,-0.1l-0.2,-0.4l-0.4,-0.3l0.2,-0.4l0.6,-0.5l1,-0.6l0.6,-0.8l0.1,-0.9l-0.5,-0.9l-1.1,-0.8l-0.6,-0.5l0,-0.4l0.4,-0.3l0.5,-0.4l0.6,-0.1l0.4,-0.3l0.3,-0.7l-0.4,-0.8l-1.2,-0.7l-1.7,-0.7l-1.6,0.1l-1,0.3l0,0.4l0.3,0l0.3,-0.3l0.4,-0.4l0.1,-0.6l0.2,-0.6l0.7,-0.8l0.8,-0.8" stroke="#e0302a" stroke-width="1.2"/>
<path d="M390.3,326.7l1.3,0.4l-0.2,0.5l-0.9,0.3l-0.8,-0.2l-0.3,-0.3l0,-0.4l0.3,-0.4l0.7,-0.5l1.2,-0.5l1.2,-0.8l0.8,-1l0.1,-1.1l-0.8,-1.1l-1.8,-0.8l-2.2,-0.5l-1.8,0l-1.4,0.2l-0.3,0.4l0.7,0.3l1.7,0l2.2,-0.2l2.2,-0.7l1.3,-1.1l0,-1.2l-1.1,-1l-1.5,-0.7l-1.6,-0.2l-1,0.1l0,0.3l0.8,0.3l1.6,0l2,-0.4l0.9,-0.6l0.1,-0.5l-0.3,-0.3l-0.7,-0.2l-0.1,-0.4l0.2,-0.4l0.4,-0.5l0.6,-0.6l0.4,-0.9l-0.1,-0.8l-0.6,-0.8l-0.7,-0.9l-1.7,-0.6l-1.9,-0.2l-1.4,0.2l-0.4,0.5l0.6,0.3l0.5,-0.1l0.1,-0.3l-0.5,-0.5l-0.9,-0.7" stroke="#e0302a" stroke-width="1.2"/>
<path d="M423.7,330.5l1.4,0.8l1.5,0.3l0.6,-0.5l0.4,-0.7l-0.2,-0.8l-0.6,-0.9l-0.9,-0.9l-0.6,-1.1l-0.6,-1.2l-0.5,-1.3l-0.7,-1.5l-0.1,-1.7l0.2,-2.1l0.8,-2.3l0.8,-2.5l1.1,-2l1.3,-1.5l0.9,-0.5l0.8,-0.2l0.3,-0.4l0.4,-0.4l0.6,-0.4l0.5,-0.4l0.6,-0.2l0.5,-0.1l-0.2,-0.5l-0.6,-0.7l-0.8,-0.4l-0.9,-0.6l-0.6,-0.5l-0.8,0.1l-1.3,0.3l-1,0.4l-1.2,0.5l-0.9,0.5l-0.2,0.6l0.8,0l0,-0.5l0.1,-0.6l0.1,-0.8l0.3,-0.9l0.4,-0.9l0.2,-1.1l0.5,-1.2l0.8,-1.1l0.2,-1.9l0.7,-1.4l1,0.1l-0.1,-0.9l-0.5,-0.9l-0.6,-1.4l-0.6,-1.4l-0.7,-1.3l-1.1,-0.9l-0.9,-0.1l0,1.6l0.2,1.5l1,0.5l-0.1,-0.1l-0.1,-0.7l0.2,-0.7l-0.4,-0.9l-0.1,-1l-0.3,-0.5l-0.8,-0.8l-0.7,-0.5l-0.4,-0.1l-1,0.1l-0.5,0.5l-0.2,0.1l0.4,-0.3l0.1,-0.6l0.1,-1.1l0.3,-1.2l0.5,-1.4l0.6,-1.4l1.1,-1.5l1.2,-1.5l0.9,-1.2l1.3,-1.1l1.3,-0.5l0.9,0l0.2,1.2l-0.2,1.2l-0.3,1l-0.7,0.7l-0.9,0.6l0.4,1.3l-0.1,1.4l-0.6,1l-0.9,0.5l-0.6,-0.2l-1.1,-0.7l-0.2,-0.6l0.1,-0.5l0.1,-0.3l0.4,-0.1l1.1,-0.3l1.4,-0.6l2,-1.3l1.2,-1.9l1.2,-2.2l0.5,-2.7l-0.1,-2.8l-0.7,-2.9l-0.7,-2.6l-0.7,-2.4l-1.6,-1.9l-1.3,-1.3l-1.3,-0.7l-0.3,-0.3l0.1,-0.5l0.5,-0.7l0.6,-0.9l1.5,-0.8l1.4,-0.6l1.3,-0.2l1.6,0.1l1.3,0.8l1.1,1.6l0.4,0.5l0.4,-0.5l0.3,-1l0.1,-1.5l0.1,-1.7l-0.2,-1.8l-0.9,-1.7l-1.3,-1.3l-1.5,-0.8l-1.6,-0.2l-2,0.4l-1.8,1.2l-1.7,1.7l-1.5,2.4l-0.5,2.4l0,2.0" stroke="#2c3c9e"/>
<path d="M507.8,326.3l-2.1,-0.1l-1.3,0.4l0.4,0.7l1,0.1l0.8,-0.2l0.2,-0.5l-0.1,-0.5l-0.5,-0.8l-0.3,-0.8l0.4,-0.9l0.8,-1l1.4,-0.8l1.9,-0.6l1.3,-0.6l0.2,-0.6l-0.3,-0.5l-1.3,-0.5l-2,-0.2l-1.7,0.1l-1.1,0.6l0.1,1l1.6,0.7l3.3,0.3l2.9,-0.9l2.2,-1.3l0.8,-1.4l-0.7,-1.4l-2.1,-1.1l-2.6,-0.8l-2.8,-0.2l-2.5,0.3l-1.2,0.8l0.6,0.7l1.7,0.5l0.7,-0.2l0.3,-0.3l-0.3,-0.4l-0.9,-0.5l0.1,-0.3l1.2,-0.2l1.3,-0.4l1.7,-0.7l1.9,-1l1.2,-1.4l-0.1,-1l0,-0.7l0.6,-0.1l0.3,0.1l0,0.1l-0.9,0l-1.2,-0.1l-1.3,0l-1.8,-0.3l-0.3,-0.3l0,-0.3l0.7,-0.3l1.4,-0.4l1.3,-0.6l0.6,-0.5l-0.8,-0.3l-0.7,-0.2l-1.7,-0.2l-2.6,-0.5l-2.6,-0.9" stroke="#e0302a" stroke-width="1.2"/>
<path d="M440.1,326.9l2.1,-0.2l0.5,-0.1l0.1,-0.4l-0.3,-0.5l-0.5,-0.6l-1,-0.6l-1.5,-0.4l-0.1,-0.4l0.7,-0.5l1.4,-0.4l1.4,-0.3l1.5,-0.1l1.5,0.2l0.9,0.4l0.1,0.5l-1.2,0.4l-2.8,0.1l-2.8,-0.9l-1.3,-1.3l-0.1,-1.3l0.8,-1.3l1.8,-0.8l2,-0.4l2,0.1l0.5,0l0,-0.2l-0.3,-0.5l-0.5,-0.6l-1,-0.7l-1.4,-0.6l-0.5,-0.4l0,-0.4l0.4,-0.4l0.6,-0.4l1,-0.3l1,-0.1l0.7,0.2l0.2,-0.2l0.2,-0.4l0.1,-0.6l-0.1,-0.7l-0.4,-0.7l-0.2,-0.4l0.5,-0.2l0.5,-0.1l0.2,0l0,0.1l-0.2,-0.2l-0.4,-0.2l-0.5,-0.2l-0.8,-0.2l-1.2,-0.3l-1.2,-0.5l-0.9,-0.5l-0.5,-0.8l-0.2,-0.7l0.1,-0.8l0.5,-0.6l0.7,-0.6l0.7,-0.4l1.1,-0.2l0.7,-0.1l0.3,0l-0.2,0l-0.4,0.2l-1.8,-0.1" stroke="#e0302a" stroke-width="1.2"/>
<path d="M416.5,322.3l-1.1,-1l-0.8,-0.3l-0.4,-0.2l-0.2,-0.5l0.6,-0.1l0.2,-0.9l1.2,-1l0.7,-0.8l0.7,-0.5l0.9,-0.1l0.7,0.2l0.6,0.4l0.4,0.7l0,0.9l0.3,1l0.2,0.9l0.2,0.2l0.3,-0.3l0.1,-0.8l0.2,-1.2l0.6,-1.4l0.5,-1.8l0,-1.8l-0.3,-1.8l-0.7,-1.1l-0.8,-0.6l-0.2,-0.3l-0.1,0.4l-0.4,0.6l-0.8,0.8l-0.8,0.6l-0.5,0.6l-0.7,0.4l-0.9,0.2l-1.4,-0.1l-1.5,-0.4l-1.3,-0.6l-1.3,-0.9l-1.5,0.1l-0.9,-0.7l-0.6,-1.5l-0.5,-2.5l-0.2,-1.7l-0.3,-0.8l-0.5,0.1l-0.4,0.8l-0.2,1.2l0.1,1.1l0.2,1l0.4,0.9l1.2,0.6l1,0.2l1.3,-0.2l1.2,-0.7l0.9,-1.2l1.4,-1.6l1,-2.1l1,-2.7l0.6,-3.3l-0.4,-3.4l-1.3,-3.1l-1.8,-2.5l-1.9,-1.8l-1.6,-1.8l-0.5,-0.9l-0.2,-0.7l0.9,-0.7l0.9,-0.4l1.2,-0.3l1.7,0.4l0.4,0.3l0.2,-0.1l-0.2,-0.4l-0.2,-0.5l-0.8,-0.7l-0.4,-0.4l0.4,-0.4l0.6,-0.3l1.3,-0.2l1.4,0.1l1.2,0.1l1.4,-0.2l1,0.3l1.1,0.9l-0.1,1.5l-0.8,1.4l-0.8,0.9l-1.2,0.6l-1.3,0.2l-0.7,-0.4l-1.1,-0.7l-1,-1l-1,-1.3l-0.7,-1.6l-0.2,-1.6l0,-1.9l0.4,-1.7l1,-1.8l1.3,-1.5l1,-1.2l0.8,-0.9l0.2,-0.7l-0.1,-0.4l-0.2,-0.2l-0.3,-0.1l-0.9,0.2l-0.5,0.4l-0.6,-0.6l-0.3,-0.7l0.2,-1.1l0.4,-1.1l0.4,-1.2l-0.3,-0.8l-0.6,-0.4l-0.9,-0.1l-0.6,0.3l-0.5,0.4l-0.2,0.8l-0.6,1l0.4,1l0.8,0.8l0.8,0l0.4,-0.3l-0.2,-0.7l-0.2,-0.9l-0.5,-0.6l-0.3,-0.3l-0.6,0.1l0.1,-0.7l-0.5,0.6l0.1,0.4l1,0l1.5,-0.6l1.7,-1.5l1.5,-2.1l0.9,-2.8l0,-3l-0.2,-3.1l-0.5,-2.7l-1,-2.4l-0.9,-2.1l-1.2,-1.4l-1.1,-0.4" stroke="#2c3c9e"/>
<path d="M472.8,330.9l0.8,-0.8l0,-0.5l0.1,-0.1l0.6,-0.3l0.7,-0.7l0.1,-0.7l0.1,-0.5l0.3,-0.4l0,-0.1l-0.6,0.1l-1.3,0.2l-1.6,-0.1l-1.6,-0.4l-1.7,-0.7l-1.4,-1.2l-0.2,-1.2l1.1,-1.1l1.6,-0.8l2.2,-0.5l1.4,0l0.9,0.2l0,0.3l-0.8,0.3l-1.4,-0.1l-1.3,-0.4l-1.3,-0.7l-0.9,-0.8l0.1,-1l0.7,-0.9l1.1,-0.7l1.4,-0.5l1.6,-0.5l1.5,-0.1l0.8,-0.2l0.2,-0.4l0,-0.6l-0.2,-0.7l-0.7,-0.7l-0.3,-0.5l0.3,-0.3l0.5,-0.2l0.6,0l0.5,0l0.2,0.2l-0.1,0.3l-0.7,0.4l-1.6,0.2l-2.2,-0.3l-2.1,-0.7l-1.6,-1.3l-0.2,-1.4l0.7,-1.3l1.4,-1l1.9,-0.6l2,0l1.3,0.2l0.6,0.5l-0.7,0.5l-1.5,0.2l-1.8,-0.2l-1.7,-0.6l-1.3,-0.9l-0.6,-1l0,-1.1l0.8,-1l1.3,-0.6l1.6,-0.3l1.1,-0.1l0.8,0.2l-0.1,0.3l-0.2,-0.1l0.2,-0.3l1.1,-0.4l1,-0.8l0.2,-1.2l-0.6,-1.3l-1.7,-0.8" stroke="#e0302a" stroke-width="1.2"/>
<path d="M506.6,330.2l-0.7,-1l-1.4,-0.7l-1.6,-0.4l-1.5,0.1l-0.7,0.4l0.6,0.5l1.3,0.2l1.7,-0.1l1.8,-0.4l1.5,-0.7l0.6,-0.7l0.4,-0.4l-0.1,-0.2l-0.1,-0.2l-0.3,-0.2l-1.1,0l-1.8,-0.3l-1.9,-0.6l-1.4,-1l-0.5,-1.2l0.4,-1.3l1.4,-1.1l2.5,-0.9l2.7,-0.2l2.1,0.2l1.4,0.6l-0.4,0.8l-1.7,0.4l-2,-0.2l-1.9,-0.6l-1.5,-1.1l-0.4,-1.2l-0.3,-1.4l1.1,-1.2l2.2,-0.8l2.8,0l1.8,0.5l0.2,0.9l-1.4,0.7l-1.1,0l-1.5,-0.2l-1.9,-0.3l-1.9,-0.7l-1.9,-1.1l-0.9,-1.4l0.6,-1.3l1.2,-0.9l1.7,-0.9l2,-0.4l1.5,0.1l0.9,0.2l0.1,0.4l-0.5,0.3l-1.2,0.2l-1.8,0l-2.2,-0.6l-1.6,-1.1l-0.5,-1.3l1,-1.2l2.1,-0.9l2.3,-0.6l2.3,0l1.2,0.6l-0.3,0.7l-1.8,0.6l-2.8,0l-2.7,-0.6l-2,-1.3l-0.6,-1.6l1,-1.5" stroke="#e0302a" stroke-width="1.2"/>
<path d="M448.1,326.1l0.5,1l0.1,1.3l-0.2,1.3l-0.6,1.2l-0.2,1l-0.6,0.7l-1.4,0.5l-1.3,-0.1l-0.6,-0.6l-0.7,-1.1l-0.7,-1.5l0.2,-1.4l0,-0.8l0.5,0l0.8,0.2l1.2,0.3l1.4,-0.1l1.2,-0.4l2.1,-1l1.6,-1.3l0.7,-2.2l1.3,-1.8l1.4,-2.7l0.3,-3.2l-0.5,-1.5l-0.6,-0.5l0.2,0l0.1,-0.5l0,-0.9l0.2,-1l-0.1,-1.2l-0.2,-0.8l0.4,-0.5l0.4,-0.3l0.4,-0.4l0.1,0l1,0.3l0.9,0.7l0.7,0.7l0.3,-0.1l0,-0.7l-0.1,-1.5l-0.1,-1.9l-0.1,-1.9l0.6,-1.2l0.8,-0.2l-0.2,0l-0.8,-0.5l-0.5,-0.9l-0.1,-1.7l-0.4,-1.6l-1.1,-1.6l-1.8,-1.4l-1.7,-1l-2.1,-0.5l-1.9,0.4l-1.9,1.2l-1.7,2l-1.8,2.3l-0.4,2.4l0.7,1.8l1.4,0.9l1.8,0.1l1.5,-0.7l1.1,-1l0.3,-1l-0.1,-0.7l-0.8,-0.6l-0.4,-0.5l-1.3,-0.5l-1.5,-0.7l-0.5,-0.8l0,-0.5l0.1,-0.5l-0.6,-0.6l-0.6,-0.6l-0.7,-0.8l-0.5,-1l-0.5,-1.3l-0.5,-1.6l-0.8,-1.7l0,-2.3l0.2,-2.6l0.6,-2.5l0.8,-2.2l0.9,-1.2l1.1,-0.6l1.3,-0.1l1.1,0.4l1,0.9l0.3,0.4l-0.5,-0.4l-0.3,-0.8l-0.3,-0.2l0.2,0l0.9,0.3l0.3,0.7l0.3,1l0.3,1.3l0.2,1.2l-0.6,1.2l-1,1.2l-1.1,0.7l-1.2,-0.5l-1.5,-1.1l-1.1,-1.6l-0.9,-2l-0.5,-2.5l-0.1,-2.8l0.2,-2.9l0.5,-2.8l1.3,-2.3l1.8,-1.8l1.7,-1.1l1.5,-0.4l1.7,0l0.8,0.5l0.8,1.1l0,1.3l-0.3,1.4l-0.5,1.4l-1.1,0.9l-1.2,0.2l-1.1,-0.1l-1.1,-0.7l-1,-1.1l-0.3,-1l0,-0.7l0,-0.5l-0.3,-0.4l0.4,-0.3l0.5,-0.5l0.3,-0.6l0.3,-0.8l0.3,-0.8l-0.1,-1l-0.5,-1.2l-0.1,-1.4l0.3,-1.5l-0.5,-1.7l-0.6,-1.6l-0.6,-1.5l-1,-1.2l-1,-0.9l-0.7,-0.4" stroke="#2c3c9e"/>
<path d="M470.7,332.3l2,-0.1l2.2,-0.6l1.9,-0.9l0.9,-1.1l-0.3,-1.1l-0.8,-0.8l-0.9,-1l-1.9,-0.5l-1.9,0.1l-1.2,0.7l0.6,0.8l2.1,0.5l2.9,0l3.1,-0.8l2,-1.2l0.6,-1.6l-0.6,-1.5l-1.8,-1.3l-2.8,-0.8l-2.9,-0.3l-2.4,0.4l-0.5,0l0.2,-0.4l0.6,-0.8l1.5,-1l2,-0.7l2.4,-0.3l2.6,0l1.8,0.5l0.7,0.3l0.1,-0.1l-0.5,-0.4l-0.6,-0.5l-0.4,-0.8l-0.9,-1l-1.5,-0.8l-2.1,-0.6l-1.9,-0.2l-1.6,0.2l-0.9,0.6l0.4,0.5l1.5,0.4l2.3,0.1l2.6,-0.4l2.3,-1l1.3,-1.2l0.3,-1.4l-0.8,-1.2l-0.6,-0.6l0,-0.5l0.3,-0.2l0.8,-0.1l0.7,0.2l0.1,0.4l-0.7,0.5l-2,0.3l-2.3,-0.1l-2.7,-0.7l-1.9,-1.4" stroke="#e0302a" stroke-width="1.2"/>
<path d="M422.8,330.1l-0.7,0.3l0.2,0.1l0.1,-0.3l0.1,-0.4l0.4,-0.7l0.6,-0.8l0.6,-0.9l1.4,-1l2.2,-0.7l2.1,-0.1l1.5,0.2l0.9,0.7l-0.4,0.7l-1.4,0.4l-2.2,0l-2.1,-0.8l-1.4,-1.1l-0.4,-1.3l0.6,-1.3l0.6,-0.9l0.3,-0.5l-0.4,-0.2l-0.5,0l0,0.1l-0.1,0.2l0.6,0.3l1,0.2l1.8,0l2.2,-0.4l2.3,-0.9l1.5,-1.3l0.1,-1.4l-1.4,-1.4l-2.9,-1l-3.3,-0.1l-1.9,0.5l-0.3,0.7l0.7,0.6l1.4,0.3l1.9,-0.2l2.3,-0.7l1.8,-1.1l1.2,-1.3l0,-1.6l-1.6,-1.3l-2.4,-0.6l-2.3,0l-1.9,0.5l-0.5,0.8l1.3,0.7l2.4,0.2l3.2,-0.5l2.4,-1.2l0.7,-1.7l-1.5,-1.6l-1.5,-0.7l-0.5,-0.5l0.1,-0.3l-0.2,-0.5" stroke="#e0302a" stroke-width="1.2"/>
<path d="M493,335l-0.5,-1.9l-0.2,-2.4l-0.4,-2.6l-0.1,-2.4l0.5,-2l1.6,-1.7l1.8,-1.2l1.5,-0.6l1.4,0l1.4,0.6l0.9,0.8l0.8,1.1l0.3,1l-0.1,1l0.3,0.1l0.4,-0.6l0.3,-1.2l-0.2,-1.6l-0.2,-1.8l-0.1,-1l0.6,-0.6l0.2,0.2l-0.2,0.5l-0.2,0.6l-0.6,0.5l-0.9,0.2l-1.1,0.2l-0.6,0.1l-1.2,-0.2l-1.1,-0.5l-1.5,-0.1l-1.7,-1.6l-1.3,-1.9l-0.4,-2.1l0.1,-2.1l0.2,-2.2l0.6,-2l0.4,-1.8l0.7,-1.5l1.3,-1.2l1.7,-0.6l2,-0.1l1.7,0.4l1.3,1l0.6,1.6l-0.7,1.7l-0.4,1.1l-1,0.7l-1.3,0.1l-1.5,-0.3l-1.6,-0.1l-1.2,0.4l-0.7,-0.2l-1.2,-0.9l-1.4,-1.9l-0.9,-2.4l-0.4,-3.2l0.3,-3.3l1.2,-3.2l2,-2.6l2.4,-1.7l2,-0.6l1.7,0.2l1.6,0.8l1.5,1.2l1.2,1.4l0.6,0.3l-0.2,-0.3l-0.1,-1.1l-0.7,-1.3l-0.9,-1.3l-0.9,-1.4l-1,-0.9l-0.8,-0.6l-1.3,-0.3l-1.2,-0.2l-1.1,-0.1l-0.7,0.1l-0.5,0.4l-0.1,0.5l-1.2,0.6l-1.2,1l-0.5,1l0.3,1l0.9,0.7l1.6,0.3l1.7,-0.3l1.9,-0.9l1.9,-1.5l1.1,-1.9l0.3,-2.3l0.3,-2.3l-0.1,-2.7l-1,-2.4l-1.3,-1.8l-1.5,-1.3l-1.3,-0.7l-1.5,0l-1.8,0.5l-0.9,1.2l-0.6,1.8l0.1,2.3l0.6,2l0.8,1.4l0.4,0.7l1,0.1l0.9,-0.7l0.8,-1.3l0.8,-2.2l0.4,-2.9l-0.2,-3.3l-2.4,-3l-1.9,-2.1l-0.4,-1.2l0,-0.2l0.1,0l-0.3,0.1l0.2,0.3l-0.1,0.3l0.3,0.3l0.6,0.4l0.2,0.4l0.7,-0.3l0.5,-0.2l0.2,-0.1l0.3,0.6l-0.3,0.6l-0.1,0.2l0.1,-0.1l-0.3,-0.7l-1.2,-1.1l-1.3,-1.6l-1.3,-1.9l-0.9,-2.2l0.2,-2.5l0.5,-1.4l0,-0.9l-0.3,-0.5l-0.2,0.3" stroke="#2c3c9e"/>
<path d="M412.8,332.8l-0.8,-1.4l0.5,-1.4l2,-1.2l3.1,-0.6l2.9,0.2l1.5,0.7l-0.3,0.9l-1.9,0.6l-2.9,-0.2l-2.8,-1.1l-1.2,-1.7l0.9,-1.7l2.6,-1.2l2.9,-0.2l2.7,0.1l1.3,0.8l-0.2,0.8l-0.5,0.2l0.5,-0.3l1,-0.5l1.1,-0.9l0.8,-1l0.2,-1.1l-0.5,-1.1l-1,-1l-2.2,-0.7l-1.8,-0.4l-1.6,-0.1l-1,0.1l-0.4,0.3l0.4,0.3l1.1,0l1.2,-0.1l1.5,-0.5l1.1,-0.8l0.5,-0.8l-0.1,-0.9l-0.8,-0.6l-1,-0.5l-1.1,-0.2l-0.5,0l-0.1,-0.1l-0.2,-0.2l-0.4,-0.4l-0.4,-0.6l-0.4,-0.5l-0.5,-0.2l-0.4,-0.2l-0.2,-0.1l0.2,0l0.8,0l1.6,-0.1l2.1,-0.5l1.6,-0.9l1,-1.1l-0.3,-1.2l-1.1,-1l-1.8,-0.8l-2.1,-0.5l-1.8,0.1l-0.8,0.3l0.3,0.5l0.9,0.3l1.9,0.1l2,-0.4" stroke="#e0302a" stroke-width="1.2"/>
<path d="M460.5,328.9l-0.8,-2.1l-1.4,-1.7l-1.4,-1.3l-1.8,-0.7l-1.4,-0.2l-1.4,0.2l-1.4,0.6l-0.8,1.2l-0.2,1.5l0.8,1.5l1.4,1.4l1.1,0.3l0.5,-0.2l-0.6,0l-0.3,0.1l0.1,0.6l0.8,0.5l1.2,0.4l1.5,-0.2l1.3,-0.8l1.1,-1.4l0.4,-1l-1.2,-1.2l-0.8,-0.7l-1.3,-0.5l-1.1,-0.5l-0.7,-0.6l-1,-0.9l-0.7,-1.1l-0.7,-1.4l-0.3,-1.6l-0.9,-2.1l-0.3,-2l0.1,-2l0.2,-2l0.9,-1.7l0.9,-1.7l0.6,-1l-0.4,-0.5l-0.1,-0.4l0.1,-0.3l-0.5,-0.1l0.5,-0.4l0.6,-0.3l0.6,-0.1l0.6,0l0.7,0.2l0.2,0.3l0.1,0.9l0.4,1.3l-0.2,1.4l0.4,1.3l0.5,1l1.3,0.4l1.5,0l1.5,-0.7l0.7,-1.1l1.3,-1.9l1.4,-2.3l1,-3l0.3,-3.2l-0.2,-3.1l-0.7,-3l-1.2,-2.6l-1.4,-1.8l-1.8,-0.2l-2.6,0l-1.6,0l-1.1,0l-0.1,-0.3l0.6,-0.5l0.8,-0.5l1.3,-0.4l1.4,-0.2l1.6,0.1l1.6,0.5l1.7,0.7l0.9,1.1l0.2,1.2l0.3,1.3l-0.4,1.1l-1.3,0.7l-1.1,0.2l-1.5,-0.3l-1.4,-0.9l-0.8,-1.5l-0.7,-1.7l-0.5,-2.1l-0.3,-2.3l0.5,-2.4l0.2,-2.1l0.1,-1.7l0.4,-1.4l0.8,-1l1.3,-0.5l1.3,0.1l0.1,0l-0.1,-0.2l0.5,0.1l0.8,0.4l-0.1,0.9l0.2,1l-0.4,0.9l-0.9,1.1l-1.2,1.1l-1.9,0.6l-1.6,0l-0.6,-0.4l0.1,-0.6l0.4,0.2l0.3,-0.1l0.4,-0.2l-0.1,-0.3l-0.4,-0.2l-0.7,-0.2l-0.5,-0.2l-1,-0.3l-1.2,-0.7l-1.7,-1.3l-1.5,-1.1l-0.8,-0.5l-0.4,-0.3l0.1,0.1l1.2,0.1l2,-0.1l2,-0.6l1.9,-1.2l2,-1.9l1.4,-2.7l0.7,-1.7l0.3,-0.8l0.1,0l0.1,-0.8l0.7,-1.6l0.8,-1.7l0.4,-2.2l-0.4,-2.4l-0.8,-2.4l-1.3,-2.5l-2.1,-1.4l-2.1,-1l-1.8,-0.4l-1.6,0l-0.6,0.3l-0.5,0.5l-0.1,0.6l0.1,0.8" stroke="#2c3c9e"/>
<path d="M459.6,330.6l2.2,0l1,-0.1l0.4,-0.3l-0.1,-0.5l-0.3,-0.7l-0.7,-0.6l-1,-0.5l-1.3,-0.3l-1.2,-0.1l-0.8,0.2l-0.3,0.4l0.8,0.3l1.3,0.1l2.1,-0.2l2.2,-0.3l2.2,-1.1l1,-1.5l-1,-1.7l-1.3,-0.9l-0.4,-0.6l0.4,-0.2l0.9,-0.2l1,0l0.8,0.1l0.8,0.4l-0.6,0.5l-1.5,0.2l-1.7,-0.2l-1.7,-0.5l-1,-0.8l-0.6,-0.9l0.3,-1l0.4,-0.6l0.1,-0.5l-0.2,-0.2l-0.7,-0.1l0,0.1l0.5,0l1,-0.1l1.4,-0.3l1.2,-0.6l1.1,-0.7l0.6,-0.9l-0.3,-0.9l-0.6,-0.8l-0.3,-0.5l-0.1,-0.4l0.1,-0.3l0.5,-0.3l0.5,-0.1l0.1,0.1l-0.3,0l-0.6,0l-0.9,-0.2l-1.2,-0.4l-1,-0.7l-0.5,-1l0.2,-1l0.8,-1l0.9,-0.5l0.1,-0.4l-0.2,-0.4l-0.6,-0.5l-0.9,-0.3l-0.3,-0.5l0.2,-0.6l1,-0.6l1.7,-0.5l1.8,-0.1l1.9,0.4l0.9,0.6l-0.5,0.6l-1.3,0.3" stroke="#e0302a" stroke-width="1.2"/>
<path d="M429.1,331.9l0,0.7l1.2,0.6l2.4,0.1l2.7,-0.3l2.5,-0.9l0.9,-0.9l0.1,-0.7l-0.5,-0.3l-0.8,0l-1.1,0.1l-1.8,-0.3l-1.6,-0.6l-1.6,-0.9l-0.6,-1l0.1,-0.9l0.6,-0.9l1.1,-0.6l0.7,-0.4l0.1,-0.3l0.3,-0.4l0,-0.3l-0.3,-0.2l-0.1,-0.2l0.3,-0.1l0.5,0l0.9,-0.1l1.3,-0.3l1,-0.4l1.1,-0.6l0.9,-0.6l0.4,-0.9l-0.5,-1.1l-1.6,-1l-2.7,-0.5l-2.4,0.1l-1.1,0.6l0.3,0.8l1.7,0.5l2.9,0l1.5,-0.4l0,-0.4l-0.6,-0.3l-1.4,-0.6l-0.2,-0.5l0.5,-0.5l1.1,-0.5l1.1,-0.6l1.2,-0.8l0.7,-1.1l0.1,-1l-0.6,-1l-1,-0.8l-1.5,-0.5l-1.1,-0.3l-0.9,0l-0.5,0.3l0.4,0.3l0.9,0.2l1.1,0l1.3,-0.5l1.2,-0.8l0.2,-0.6l0.1,-0.5l-0.1,-0.2l-0.4,-0.1l-1.1,-0.1l-0.9,-0.3l-0.7,-0.7l-0.4,-0.7l-0.2,-0.8l0.1,-0.8l0.5,-0.8l0.7,-0.7" stroke="#e0302a" stroke-width="1.2"/>
<path d="M432,328.8l0.4,-1.9l0.7,-1.6l1.3,-1.2l0.6,-0.6l0,-0.5l-0.2,-0.5l-0.5,-0.5l-0.3,-0.3l-0.9,0l-0.9,0l0,0.4l0.5,-0.2l-0.7,-1.4l0.3,-1.7l0.4,-1.7l0.5,-1.1l0.1,-1l-0.6,-0.7l-1.1,-0.5l-1.2,0.1l0.5,1.5l0.5,1.5l0.6,1.3l0.3,1.3l0.8,1l0.7,0.5l0.8,0.1l0.8,0.7l1.1,0.3l0.7,-0.3l2.2,-1l1.6,-1.2l1.3,-0.6l0.9,-0.2l0.3,0.1l-0.3,0.5l-1,0.5l-1,0.2l-1,-0.2l-1.6,-0.4l-1.6,-1l-1.3,-1.3l-1.7,-1.7l-0.9,-2.5l-0.4,-3.2l-0.1,-3.2l0.5,-3l0.7,-2.6l1.4,-1.8l1.2,-1.2l0.8,-0.7l1,-0.4l0.8,-0.1l0.4,0.2l0.4,0.5l-0.3,-0.1l0.8,-0.3l0.8,0.3l0.7,0.8l1,1l0.3,1.4l0.2,1.8l-0.2,2l-0.9,1.6l-2,1.1l-2.4,0.4l-2.3,-0.8l-1.3,-1l-0.5,-0.7l0.1,-0.3l1,0l1.7,-1.8l1.2,-1.3l1.2,-1.5l0.8,-1.8l-0.1,-1.9l-0.3,-2l0.2,-1.6l0.2,-2.2l0.1,-2.6l-0.1,-2.6l-0.9,-2.1l-1.2,-1.8l-1.6,-1.9l-1.3,-0.9l-1.8,0.2l-1.5,0.9l-0.5,1.5l-0.4,1.7l0.2,1.8l0.7,2l1.1,1.9l1.7,1.8l2.4,1.4l2.7,0.4l3.2,-0.5l3,-1.4l2.4,-2.9l1.1,-3l0.4,-3l0,-3.1l-0.7,-2.8l-0.8,-2.2l-1,-1.8l-1.4,-1.1l-1.7,-0.3l-0.4,0.4l-0.3,0.9l-0.1,1l-0.1,1.1l-0.5,1.4l-1,0.8l-0.3,-0.2l-0.1,-0.9l0.1,-1.1l-0.1,-1.3l-0.6,-1.7l-0.6,-0.8l0.2,-0.3l0,0.4l0.5,1l1.5,0.4l1.5,0.1l1.5,-0.2l1.2,-0.3l0.8,-0.7l0.5,-0.9l0,-1.3l0.2,-1.7l-0.3,-2l-0.9,-1.9l-0.6,-1.6l-1,-1.3l-0.6,-1l-0.9,-0.8l-1.2,-0.4l-1.1,-0.2l-1.2,0l-0.5,0l-0.8,0.1l-0.2,0.2l-0.6,0.3l-0.5,0.8" stroke="#2c3c9e"/>
<path d="M497.7,332.1l0.3,0.5l-0.8,0.3l-1.6,0.1l-2.1,-0.4l-2.1,-1l-0.7,-1.3l0.9,-1.3l2.1,-1l2.5,-0.4l2.1,0.2l0.9,0.4l-0.1,0.1l0.1,-0.2l0.4,-0.6l0.1,-0.8l-0.3,-0.9l-0.6,-0.8l-1.3,-0.8l-1.5,-0.7l-1,-0.4l0.1,-0.5l1,-0.3l1.2,-0.2l1.2,0l0.9,0.2l0.5,0.4l-0.4,0.5l-1.4,0.3l-1.6,-0.1l-1.9,-0.6l-1.5,-0.9l-1.1,-1.2l-0.5,-1.3l0.9,-1.3l1.7,-0.9l2.1,-0.5l2.1,-0.2l1.8,0.2l1,0.4l-0.2,0.6l-1.3,0.4l-2.1,-0.1l-2.1,-0.5l-1.3,-1l-0.4,-1.1l0.1,-1.1l1.3,-1.1l1,-0.6l0.3,-0.5l-0.5,-0.3l-0.6,-0.4l-1.1,-0.1l-1.1,0l-0.8,0.3l0,0.3l-0.1,-0.2l-0.4,-0.5l-0.4,-0.7l0,-0.9l0.3,-0.8l0.8,-0.9l1.3,-0.8l2.1,-0.7l2.3,-0.1l1.8,0.3l0.5,0l0.5,-0.3l0.1,-0.7l0.1,-0.4l0.6,0l0.3,0.3l-0.9,0.5l-0.7,-0.1l0.2,-0.4l0.8,-0.7l0.7,-0.8l0.7,-1.1l-0.2,-1.3l-1.4,-1l-1.9,-0.9" stroke="#e0302a" stroke-width="1.2"/>
<path d="M480,334.2l1,-0.3l0.3,-0.4l-0.1,-0.4l-0.4,-0.4l0.2,-0.3l1,-0.3l1.2,-0.3l1.1,-0.5l1.3,-0.6l1.5,-0.9l1,-1.1l-0.5,-1.1l-1,-1l-1.5,-0.6l-1.4,-0.3l-1.2,0l-0.4,0.1l0.2,0.1l0.7,0l1.4,-0.1l1,-0.5l0.9,-0.6l0.5,-0.8l0.3,-0.5l0.3,-0.5l0.3,-0.3l0.1,-0.3l0.1,-0.2l-0.1,-0.2l-0.4,-0.3l-0.5,-0.3l-0.7,-0.4l-0.6,-0.5l-0.4,-0.6l0,-0.5l0.3,-0.3l0.1,-0.2l0.1,-0.2l0.4,-0.1l0.8,-0.3l1.2,-0.5l0.8,-0.8l0.1,-0.8l-0.3,-0.9l-0.8,-0.8l-1.1,-0.5l-1,-0.4l-0.8,-0.1l-0.3,-0.1l0.1,0.1l0.7,-0.1l0.9,-0.1l1.2,-0.3l1,-0.4l1.2,-0.7l0.6,-0.9l0.2,-0.8l0.5,-0.7l-0.3,-0.3l-0.2,-0.1l-0.1,0l-0.4,-0.1l-0.5,-0.2l-0.6,-0.2l-0.8,-0.3l-0.9,-0.4l-0.4,-0.5l-0.5,-0.1l-0.3,-0.3l-0.7,-0.6" stroke="#e0302a" stroke-width="1.2"/>
<path d="M496.5,328.8l0,-1.7l0.1,-1.4l0.6,-0.8l0.6,-1.3l1,-0.4l1.2,0.7l0.1,0.2l0.3,0.5l0.3,1.1l0.5,1.2l-0.5,0.1l-0.4,-0.5l-0.4,-0.9l-0.3,-1l-0.2,-1.2l-0.2,-1.3l-0.5,-1.3l0,-1.2l0.3,-0.8l0.4,-1l-0.4,-1.1l-0.1,-1l-0.2,-0.7l-0.8,-0.3l-0.7,0.1l-0.2,0.4l0.6,-0.2l0.5,-0.4l0.4,-0.8l0.6,-0.9l0.4,-0.6l0,-0.4l-0.3,-0.2l0.1,0.1l0.1,-0.4l0.5,-0.8l0.8,-1l0.5,-1l0.3,-1.1l-0.3,-1l0.5,-0.7l0.4,-0.5l0.8,-0.1l1.2,0.4l0.9,0.8l0,1l-0.5,0.2l-0.6,-0.3l-1,-0.7l-0.9,-1l-1,-1.2l-1.1,-1.4l-1.1,-1.3l-1,-1.2l-0.4,-0.9l-0.4,-0.7l-0.6,-0.4l-0.4,-0.2l-0.3,0.1l-0.2,0.3l0.1,0.4l-0.1,0.5l-0.4,1.1l0.1,1.5l1.2,1.6l1.8,1.1l2,0.4l2.7,-0.7l2,-1.7l1.7,-2.2l1.2,-2.9l0.6,-3.3l0.2,-3.2l-0.4,-3.1l-0.9,-2.8l-1.6,-1.9l-1,-0.8l0,-0.4l0.9,-0.4l1,-0.3l1.5,0.1l1.5,0.4l1.3,1.3l1,1.6l0.4,1.7l0.1,1.8l-0.5,1.7l-1.1,1.4l-1.4,0.8l-2,0.1l-2,-0.6l-1.3,-1.8l-1.5,-2.3l-1.3,-2.7l-0.6,-2.8l-0.4,-2.5l-0.4,-2.1l0.5,-1.6l0.4,-1.2l0.3,-0.8l0.4,-1.5l1.3,-0.7l1.3,0.2l0.2,1.8l-0.2,1.5l-0.2,1.3l-0.4,0.9l-1,0.7l-0.9,1l-1.3,0.6l-1.1,-0.1l-1.1,-0.7l-1.5,-1.3l-1.4,-1.9l-1.2,-2.4l-0.8,-2.5l-0.4,-2.7l0.4,-2.5l0.9,-2l1.4,-1.5l1.2,-0.8l1.4,-0.2l1,0.4l0.2,1.6l-0.9,1.6l-0.9,1.3l-0.9,1l-0.7,-0.1l-0.1,-0.4l0,-0.7l0.1,-0.8l0.4,-1l0,-1.1l0.5,-1.1l0.4,-1.2l0,-1.2l0.2,-1.1l0.3,-1l-0.1,-1l0.1,-0.8l-0.1,-0.6l0.5,-0.5l0.2,-0.3l-0.2,-0.2l-0.1,0l-0.3,0.1" stroke="#2c3c9e"/>
<path d="M473.5,333.7l-0.3,-1.2l1,-1.3l1.8,-0.7l2.2,-0.3l1.7,0.1l1.5,0.2l0.4,0.4l-0.7,0.4l-1.8,0.1l-2.3,-0.5l-1.5,-1.1l-0.5,-1.2l0.5,-1l1.3,-0.9l1.6,-0.6l1.3,-0.2l1,-0.1l0.7,0.1l0.6,0.3l-1,0.2l-1.2,-0.1l-2,-0.5l-1.5,-0.9l-0.6,-1.1l0.5,-1.3l1.7,-1.1l2.4,-0.7l2.4,-0.1l2,0.5l-0.3,0.8l-1.7,0.4l-2.2,-0.1l-2,-0.3l-1.7,-0.8l-0.8,-1.4l0.1,-1l-0.1,-0.5l-0.4,-0.3l-0.6,0l-0.3,-0.4l0.3,-1l1.5,-0.9l1.6,-0.8l2.1,-0.5l2.2,-0.2l1.7,0.1l0.9,0.3l0.2,0.3l-0.3,0.4l-1.8,0.1l-2,-0.3l-1.8,-0.9l-0.8,-1.2l0.4,-1.2l1.4,-1.1l2,-0.7l2,-0.3l0.9,-0.2l0.7,-0.2l0.2,-0.5l-0.4,-0.5l-0.9,-0.5l-1.2,-0.5l-1,-0.4l-1.4,-0.1l-1.2,0l-0.8,0.4l0.1,0.3l0.1,-0.1l-0.3,-0.4l-0.4,-0.6l0.1,-0.3l0,0l0.6,0.0" stroke="#e0302a" stroke-width="1.2"/>
<path d="M405,332.3l-1,0.4l0.3,0.4l1.6,0.2l1.8,-0.2l1.6,-0.7l0.9,-1l-0.5,-1.1l-0.8,-0.8l-0.9,-0.5l-1.2,-0.5l-1.2,0l-0.5,0.2l0,-0.1l0.1,-0.3l0.5,-0.5l0.3,-0.5l0.1,-0.8l0.7,-1l1.3,-1l2,-0.7l2.4,-0.3l1.4,0.2l0.9,0.6l-0.4,0.5l-1.4,0.4l-2.3,-0.1l-2.2,-0.8l-1.6,-1.3l0.3,-1.6l2.1,-1.3l1.4,-0.7l0.8,-0.4l0.2,-0.4l-0.6,-0.3l0.1,-0.4l0.8,-0.5l1.4,-0.4l1.5,-0.3l1,0l0.6,0.1l0.5,0.2l-0.3,0.3l-1.1,0.3l-1.7,0l-2,-0.3l-1.7,-0.8l-1.2,-1.2l0.2,-1.2l1.6,-1l1.6,-0.5l1.2,-0.2l0.5,-0.3l0,-0.4l-0.6,-0.6l-0.3,-0.6l-0.2,-0.6l0.4,-0.5l1.4,-0.4l1.6,-0.1l0.6,-0.2l-0.5,-0.2" stroke="#e0302a" stroke-width="1.2"/>
<path d="M417.8,334.7l-1.8,-0.1l-1.2,-0.3l-0.1,-0.4l0.8,-0.3l1.7,-0.5l1.6,-0.8l1.2,-1.3l0.1,-1.3l-1.2,-1.3l-1.2,-0.7l-0.6,-0.5l0.7,-0.4l0.7,0l0.9,0l0.8,0.2l0.4,0.3l-0.2,0.2l-1.2,0.1l-1.7,-0.2l-1.5,-0.7l-0.9,-0.9l0.1,-1.2l0.9,-0.9l1.4,-0.6l1.4,-0.3l1.4,0l0.7,0.1l0,-0.1l-0.4,-0.1l-0.5,-0.2l-0.7,-0.2l-1,-0.3l-1,-0.4l-1.2,-0.7l-0.8,-1l0.5,-1.1l0.9,-0.7l1,-0.5l1.1,-0.3l0.8,0l0.3,0.1l-0.2,0l-0.6,0l-0.7,-0.4l-0.3,-0.3l-0.3,-0.5l-0.3,-0.4l-0.9,-0.4l0.2,-0.4l0.4,-0.4l0.6,-0.3l0.6,-0.2l0,-0.4l-0.2,-0.4l-0.2,-0.5l-0.3,-0.6l-0.3,-0.8l0.1,-0.9l0.6,-0.8l0.6,-0.6l1,-0.6l1.4,-0.3l1.3,0l0.5,0.2l-0.4,0.2l-0.8,0.1l-1.3,-0.1l-1.7,-0.4l-0.9,-0.5l-0.1,-0.4l0.4,-0.3l0.6,-0.3l0.7,-0.4" stroke="#e0302a" stroke-width="1.2"/>
<path d="M396,328.3l1.3,0.6l0.8,0.9l0.4,1.1l-0.3,0.4l-0.1,0l-0.5,-0.7l-0.4,-1.3l-0.5,-1.7l-0.3,-1.8l-0.7,-2.2l-0.9,-2l-1.5,-2.1l-1.4,-1.6l-1.8,-1l-1.4,-0.3l-1.1,0.4l-1.5,1.3l0,1.3l0.1,-0.6l0.3,-1l0.9,-1.6l0.8,-1.6l1.2,-1.5l1.5,-0.3l0.4,0l-0.2,0l-0.1,0l-0.3,0.1l-0.9,0.3l-0.1,-0.2l0.6,-0.7l0.4,-0.9l0.9,-0.9l1.5,-0.8l1.1,-0.7l1.3,-0.4l1.5,-0.3l0.9,-0.1l0.6,0.3l1,0.1l0.4,0.7l0,0.9l-0.3,1.1l-1,1.2l-1.4,0.9l-1.4,0.4l-1.2,0.1l-0.8,-0.3l-0.9,-0.6l-1,-1l-0.3,-1.4l0.1,-1.7l0.4,-2.2l0.2,-2.4l1.1,-2.2l0.9,-1.4l1.1,-1.3l0.6,-1.1l0.7,-1l0.5,-0.8l0.5,-0.5l0.4,-0.3l0.3,0l0.8,0.4l0.7,0.7l0.8,0.8l0.8,1l-0.1,0.8l-0.1,0.6l-0.3,0.4l-0.7,0.1l-0.1,-0.4l-0.3,0.3l0.2,0.1l0.7,-0.2l0.5,-0.6l0.5,-0.8l0.9,-1.3l0.6,-2.1l0.6,-2.3l0.1,-2.4l-0.3,-2.7l-0.9,-2.3l-1.1,-2l-1.5,-1.8l-2.1,-1.4l-2.4,-1.4l-2.9,-0.6l-2.5,0.4l-2.7,1.2l-2,2.1l-0.8,2.8l0.8,2.7l1.4,2.1l2.1,1.1l2.2,0l1.2,-0.8l0.5,-0.6l-0.1,-0.5l-0.2,-0.5l-0.2,-0.6l-0.5,-0.7l-0.4,-1l-1.4,-1.4l-0.7,-1.7l-0.3,-1l0.4,-0.4l0.3,0.1l1,0.3l1.6,0.2l1.5,-0.3l1.3,-0.8l1.6,-1.2l0.9,-2.4l0.8,-2.5l0.1,-2.2l-0.3,-2l-0.6,-2l-0.6,-1.6l0.1,-2.5l-0.7,-2.2l-1.5,-1.1l-1.6,-0.5l-1.5,0.3l-1,1l-0.1,1.5l0.1,1.7l0.1,1.5l0.7,1.1l0.5,0.5l0.5,0.1l1.1,-0.3l0.8,-0.8l0.7,-1.1l0.6,-1.4l0.6,-1.8l1.2,-1.9l0.3,-2.9l-0.3,-2.9" stroke="#2c3c9e"/>
<path d="M467.2,335.2l2,0l2.5,-0.4l2,-0.8l1.4,-1.2l0.3,-1.2l-1,-1.1l-1.7,-0.7l-1.7,-0.2l-1.4,0.2l-0.8,0.6l0.9,0.7l2.2,0.3l2.8,-0.3l2.4,-0.9l1.8,-1.5l0.3,-1.8l-1.8,-1.3l-2.6,-0.6l-1.1,-0.3l-0.3,-0.3l0.7,-0.4l1,-0.5l1.5,-0.2l0.2,-0.4l-0.3,-0.4l-1,-0.4l-1.2,-0.4l-1.2,-0.2l-1.4,0.2l-1,0.5l0,0.4l1,0.4l1.9,0.2l2.3,0l2.2,-0.6l1.8,-1l0.7,-1.4l-1.2,-1.4l-1.7,-1l-1,-0.6l-0.6,-0.4l0.4,-0.3l0.7,0l0.8,0l1.4,0l0.5,0.3l-0.3,0.3l-1.5,0.3l-2.2,-0.1l-2.8,-0.6l-2.2,-1.2l-0.9,-1.7l1.4,-1.7l1.2,-0.8l0.3,-0.5l-0.4,-0.5l-1.2,-0.2l0.1,-0.5l0.8,-0.5l1.1,-0.2l0.9,0l-0.2,-0.2l-0.6,-0.3l-0.8,-0.3l-1.1,-0.2l-0.7,-0.2l-0.3,0l-0.4,0l-0.1,0.1l0.4,0.2l0.9,0l1.6,-0.3l1.2,-0.6l0.8,-0.9l0.2,-0.9l-0.4,-0.6l-0.1,-0.5l-0.1,-0.2l0.4,-0.2l0.3,-0.1l-0.2,0.0" stroke="#e0302a" stroke-width="1.2"/>
<path d="M439.4,332.7l-1.5,0.2l-0.6,0.4l0.9,0.4l1.4,0.5l2.6,-0.1l2.2,-0.9l0.9,-1.1l0,-1.3l-0.9,-1l-1.5,-0.7l-1.6,-0.2l-0.8,0.2l-0.1,0.2l0.6,0.2l1.2,-0.2l1.6,-0.4l1.2,-0.7l0.8,-0.8l0,-1l-0.8,-0.8l-1,-0.6l-1.4,-0.3l-1,0.2l-0.2,0.4l1.4,0.2l1.4,-0.3l1.1,-0.5l0.5,-0.6l0.1,-0.5l-0.4,-0.3l-0.7,-0.3l-0.6,-0.2l-1.3,-0.4l-1.2,-0.7l-0.7,-0.9l0.3,-1l0.6,-1l0.8,-0.8l0.1,-0.6l-0.3,-0.5l-0.6,-0.2l-0.8,0.1l-0.2,0.4l0.7,0.6l1.2,0.2l1.7,-0.1l1.9,-0.4l1.8,-0.7l0.9,-0.8l0.3,-0.6l0.1,-0.2l-0.2,-0.2l-0.5,-0.1l-0.9,0l-1.7,-0.2l-1.9,-0.5l-1.7,-0.8l-1.3,-1.2l0.1,-1.3l1.1,-1l1.6,-0.8l1.9,-0.4l0.9,-0.1" stroke="#e0302a" stroke-width="1.2"/>
<path d="M462.9,333.5l1.4,0.2l0,0.5l-1,0.2l-1.5,-0.1l-1.4,-0.5l-0.7,-0.8l-0.1,-1l0.6,-0.9l1.1,-0.8l1.5,-0.5l1.1,-0.4l0.2,-0.3l-0.1,-0.4l-0.5,-0.5l-0.7,-0.4l-0.9,-0.4l-0.9,-0.2l-0.8,0l-0.4,0.1l-0.1,0.1l0.3,0.2l0.8,0l1.8,-0.2l2,-0.7l1.3,-1.1l0.3,-1.2l-0.8,-1.3l-1.7,-1l-1.9,-0.6l-2,-0.2l-1.5,0.2l-0.6,0.4l0.4,0.6l0.8,0.1l0.1,-0.2l0.5,-0.1l1.4,-0.1l2.1,-0.5l2.1,-0.8l1.8,-0.9l0.9,-1.1l-0.1,-1.1l-0.9,-1.1l-1.7,-0.8l-1.8,-0.5l-1.4,-0.3l-0.3,-0.3l0.1,-0.4l0.3,-0.5l0.9,-0.5l1.4,-0.2l1.5,-0.2l1.2,0.1l1.1,0.2l0.1,0.4l-0.8,0.5l-1.7,0.1l-1.7,-0.3l-1.8,-0.8l-1.2,-1.1l-0.1,-1.2l0.9,-1.3l2,-0.9l2.5,-0.5l2,0.2l1.2,0.6l-0.6,0.7l-0.7,0.1l-0.1,-0.3l0.3,-0.5l0.5,-0.7l0,-0.4l-0.3,-0.2l-1,-0.1l-1.3,-0.1l-1.7,-0.3l-1.7,-0.6l-1.5,-0.9l-0.8,-1.1l0.1,-1.4l1.5,-1.3l2.6,-0.9l3,-0.1l1.5,0l0.6,-0.1" stroke="#e0302a" stroke-width="1.2"/>
<path d="M399.7,335l0.4,-1.5l2.2,-1.3l3.2,-0.6l3,0.2l1.7,0.5l0.3,0.7l-0.9,0.5l-1.3,0.1l-1.6,-0.3l-2,-0.8l-1.2,-1.1l-0.3,-1.6l1.6,-1.5l1.8,-0.6l0.7,-0.6l1.4,-0.6l2.2,-0.5l2.3,-0.1l1.8,0.2l0.9,0.8l-1.2,0.6l-1.9,0.2l-1.3,-0.4l-0.7,-0.5l-0.2,-0.4l0.2,-0.4l0.7,-0.4l1,-0.7l1.1,-0.9l0.3,-1l-0.3,-1l-1,-0.9l-0.6,-0.5l0.2,-0.3l0.4,-0.2l0.6,0l0.2,0.2l-0.2,0.2l-0.3,-0.1l0,-0.4l0.2,-0.6l0.1,-0.4l0,-0.3l-0.1,-0.2l-0.3,-0.2l-0.8,-0.1l-1.2,-0.2l-1.5,-0.7l-0.8,-0.9l-0.2,-0.9l0.1,-0.9l0.8,-0.9l1.2,-0.6l1.2,-0.2l0.9,0l-0.1,0.3l-0.9,0.2l-0.8,-0.2l-0.4,-0.3l-0.5,-0.3l-0.6,-0.5l-0.4,-0.7l-0.2,-0.4l-0.1,-0.4l0.4,-0.2l0.5,-0.2l0.5,-0.3l0.6,-0.4l0.9,-0.5l0.7,-0.8l0.3,-0.9l-0.4,-1.0" stroke="#e0302a" stroke-width="1.2"/>
<path d="M409.6,334.4l1.9,-1.1l2.6,-0.7l2.9,0l1.1,0.4l0,0.4l-0.2,0l0,-0.2l0.5,-0.3l0.7,-0.6l0.7,-0.6l0.6,-0.8l0.6,-0.8l0,-1l-1.2,-0.8l-1.7,-0.6l-1.3,-0.1l-1,0l-0.5,0.3l0.3,0.4l1.1,0.1l1.9,-0.1l1.6,-0.6l1,-0.9l0.3,-1.1l-0.9,-1.1l-1.8,-0.9l-2.1,-0.5l-1.9,0l-1.2,0.4l0.4,0.3l0.9,0l1.4,-0.3l1.2,-0.6l0.8,-0.8l0.1,-0.9l-0.3,-0.8l-1,-0.6l-1,-0.4l-0.8,-0.3l-0.8,0l-0.1,-0.1l0.4,-0.1l0.9,-0.1l0.7,-0.3l0.7,-0.4l0.3,-0.4l-0.2,-0.4l-0.1,-0.3l-0.5,-0.4l-0.6,-0.3l-1.1,-0.5l-0.9,-0.7l-0.6,-0.7l-0.1,-0.7l0.4,-0.8l0.9,-0.7l1.3,-0.3l0.9,0l0.3,0.1l-0.2,0.1l-0.7,0l-1,-0.3l-1.1,-0.7l-0.7,-0.8l0.1,-0.9l0.8,-0.8l1.5,-0.7l1.4,-0.3l1.3,0l0.4,0.2l-0.3,0.2l-1.3,-0.1l-1.5,-0.5l-1,-0.8" stroke="#e0302a" stroke-width="1.2"/>
<path d="M455.6,335.5l-1.1,0.5l-2,-0.1l-1.7,-0.8l-0.9,-1.1l0.2,-0.8l0.3,-0.5l0.5,-0.4l0.1,-0.2l0.5,0l0.4,-0.1l0.7,-0.1l0.2,-0.4l0,-0.4l-0.3,-0.5l-0.7,-0.6l0.1,-0.5l0.2,-0.3l0.5,-0.2l0.8,-0.2l1.2,-0.3l1.3,-0.5l1.1,-0.7l0.3,-0.6l0.9,-0.3l0.4,0l0.1,0l-0.6,0.1l-1.6,-0.1l-2.1,-0.5l-2.1,-1.1l-0.9,-1.4l0.2,-1.5l1.3,-1.3l2.4,-1.1l2.7,-0.3l2.2,0.1l1.5,0.5l0.4,0.7l-1.1,0.6l-2.2,0.2l-2.3,-0.4l-2.2,-0.8l-1.4,-1.4l0.3,-1.5l1.9,-1.1l1.5,-0.6l0.5,-0.5l-0.6,-0.5l-1,-0.1l-0.9,0.1l-0.4,0.2l0.1,0.2l0.3,0.2l0.9,0.3l1.6,0.1l1.9,-0.3l2.1,-0.9l1.2,-1.5l-0.5,-1.7l-2.2,-1l-2.5,-0.6l-1.8,0l-1.6,0.2l-0.7,0.5" stroke="#e0302a" stroke-width="1.2"/>
<path d="M470.7,334l1.2,0.5l-0.4,0.6l-1.3,0.3l-2.2,-0.1l-2.6,-0.7l-1.6,-1.3l0,-1.7l2.1,-1.5l3.2,-0.5l2,0.2l0.7,0.1l0,-0.2l-0.3,-0.5l-0.6,-0.6l-0.9,-0.8l-1.3,-0.5l-1.3,-0.4l-1.4,-0.1l-0.9,0.3l0.2,0.3l0.3,-0.1l1,0l0.9,0l1.3,-0.2l1.6,-0.5l1.3,-0.7l0.6,-0.9l0.5,-0.5l0.5,-0.3l0.5,-0.4l0.3,-0.3l0,-0.2l-0.1,-0.1l-0.6,-0.1l-0.8,-0.1l0,-0.4l0.7,-0.4l1.1,-0.4l1.3,-0.6l1.4,-0.9l0.8,-1.4l-0.5,-1.4l-1.9,-1.1l-2.5,-0.6l-3,-0.1l-2.1,0.7l-0.5,0.2l-0.3,-0.4l-0.4,-0.2l0,0.1l0.9,0.3l0.6,-0.3l0.2,-0.4l-0.4,-0.6l-0.5,-0.9l0.1,-1l0.5,-1l1,-0.9l1.4,-0.6l1.6,-0.3l1.3,0.1l0.7,0.2l0.1,0.2l-0.4,0.1l-0.9,-0.2l-1.2,-0.3l-1.2,-0.7l-0.7,-0.7l0.1,-0.9l0.5,-0.8l1,-0.6l1.3,-0.4l1,-0.2l0.5,-0.1l-0.2,0.1l-0.5,0l-0.8,-0.3l-1,-0.6l-0.5,-0.7" stroke="#e0302a" stroke-width="1.2"/>
<path d="M425.5,333.6l2.5,0l1,-0.1l0.4,-0.4l0.2,-0.6l0,-0.6l-0.9,-0.8l-1,-0.6l-1.3,-0.5l-1.6,-0.1l-1.4,0.4l-0.4,0.8l1.2,0.7l2.4,0.1l2.3,-0.4l2.1,-0.9l1.2,-1.1l-0.1,-1.2l-0.7,-0.9l-1.1,-0.6l-1.4,-0.2l-0.9,0l-0.4,0.2l0.1,0l0.6,0l0.9,-0.3l1,-0.6l0.7,-0.7l0.1,-0.9l-0.2,-0.8l-0.3,-0.6l-0.6,-0.5l-0.9,-0.2l-1,-0.1l-0.4,0.1l0.3,0.1l0.9,-0.1l1,-0.4l1,-0.5l0.7,-0.8l0,-0.8l-0.5,-0.9l-0.8,-0.8l-1.3,-0.5l-1.4,0l-0.5,0.3l0.5,0.2l1.3,0.1l1.9,-0.3l1,-0.5l0.1,-0.4l-0.1,-0.3l-0.4,-0.1l-1.3,-0.2l-1.6,-0.4l-0.8,-0.5l-0.3,-0.2l0.4,-0.1l1.1,-0.1l1.6,-0.3l1.9,-0.7l0.6,-0.5l-0.2,-0.2l0.8,-0.6l0.3,-1l0.3,-1.1l-0.4,-1.2l-1,-1.1l-1.9,-0.7l-1,-0.4l-0.2,-0.3l0.5,-0.3l0.6,-0.3l1,-0.1l0.2,-0.2l0,-0.4l-0.5,-0.5l-0.6,-0.5l-0.6,-0.5l-1,-0.4l-0.5,-0.1l-1.1,-0.3l-1,0.1l-0.2,0.3l0,0.0" stroke="#e0302a" stroke-width="1.2"/>
<path d="M453.8,334.7l-0.3,0.4l0.7,0.4l1,0l0.7,-0.3l0,-0.5l0,-0.7l0.1,-0.7l0.5,-0.8l0.7,-0.9l0.9,-0.7l1.4,-0.7l1.4,-0.4l1.1,-0.3l1.4,-0.2l1.2,0.3l-0.3,0.3l-0.6,0.1l-1.4,-0.1l-1.4,-0.5l-1.3,-0.8l-0.9,-1l-0.4,-1l0.7,-0.8l0.8,-0.6l1,-0.5l1.4,-0.2l0.8,0l0.4,0.1l-0.3,0l-0.2,0.3l-1,0l-2.1,-0.4l-1.9,-0.9l-0.7,-1.2l-0.2,-1.3l0.9,-1.3l0.8,-0.7l1.5,-0.7l2.6,-0.4l2.3,0.2l1.5,0.8l-0.3,1l-1.9,0.8l-3.2,0.1l-1.9,-0.6l-0.9,-0.5l0.4,-0.3l0.5,-0.2l1.6,-0.3l1.8,-0.9l0.3,-0.7l-0.5,-0.5l-1.2,-0.4l-1,-0.6l-1.1,-0.7l-0.9,-0.8l-0.3,-1.1l0.4,-0.9l1,-0.7l1.5,-0.5l1.2,-0.5l1.1,-0.1l1.2,0.2l0.4,0.4l-0.3,0.3l-1.6,0.1l-1.7,-0.3l-1.3,-0.6l-1.1,-0.9l-0.6,-1.3l0.2,-1.4l1.5,-1.2l2.2,-0.7l2.6,-0.1l1.6,0.5l-0.1,0.5l-0.8,0.2" stroke="#e0302a" stroke-width="1.2"/>
<path d="M443.7,334.2l2.4,-0.5l2.3,0l1,0.5l-0.1,0.6l-1.7,0.5l-2.3,-0.1l-2.3,-0.6l-1.2,-1.2l-0.2,-1.3l1,-1.2l1.9,-1.1l2.6,-0.8l2.8,-0.2l2.1,0.5l0.7,0.7l-0.7,0.6l-2.1,0.3l-2.7,-0.3l-2.3,-1l-1,-1.5l0.9,-1.5l0.8,-0.8l0.1,-0.4l-0.4,-0.2l-0.7,0.1l-0.3,0.4l0.4,0.3l1.4,0.2l1.7,-0.1l0.9,-0.4l0.2,-0.4l-0.4,-0.4l-0.7,-0.5l-0.9,-0.6l-0.7,-0.8l-0.2,-1l0.3,-0.6l0,-0.3l0.3,-0.2l0.5,0l0.5,0l1,-0.2l1.3,-0.4l0.8,-0.3l0.5,-0.4l0.1,-0.3l-0.3,-0.2l-0.8,-0.1l-1.4,-0.3l-1.8,-0.6l-1.9,-1l-1.1,-1.2l0,-1.3l0.8,-1.3l2.6,-1l2.9,-0.4l2.8,0.2l1.6,0.7l0.1,1l-1.5,0.6l-2.4,0.1l-2.6,-0.4l-2.5,-1l-1.5,-1.4l-0.5,-1.6l1.1,-1.5l2.4,-1l2.8,-0.3l2.4,0.5" stroke="#e0302a" stroke-width="1.2"/>
<path d="M510.5,335.2l-1.4,-1.1l-2,-0.7l-2.2,-0.1l-1.3,0.3l-0.3,0.4l0.9,0.4l1.4,0.2l2.2,-0.4l1.6,-0.9l1.1,-1.1l0.2,-1.2l-0.7,-1l-1.5,-0.8l-1.4,-0.4l-1.2,0l-0.7,0.3l0.2,0l0.4,-0.2l0.2,0l0.5,0.1l1.2,0.1l1.6,-0.1l0.7,-0.4l0.3,-0.4l-0.1,-0.3l-0.7,-0.6l-0.7,-0.5l-1.1,-0.7l-0.9,-0.8l0,-1.2l1,-1.1l1.4,-0.8l1.8,-0.4l1.1,-0.1l0.8,0.1l0.2,0.2l-0.5,0.1l-0.7,0l-1.3,-0.1l-1.4,-0.5l-1.3,-0.8l-0.7,-1.1l0.4,-1.2l0.9,-0.9l1.8,-0.8l2.3,-0.4l1.3,-0.2l0.5,-0.3l-0.1,-0.5l-0.6,-0.5l-1.1,-0.5l-1.2,-0.4l-1.5,-0.2l-1.2,0l-1,0.3l-0.2,0.5l0.3,0.1l1.2,0.2l0.1,-0.3l-0.4,-0.5l-0.9,-0.6l-0.6,-0.9l-0.3,-1l0.2,-1.1l1.1,-1.1l1.8,-0.9l2.5,-0.5l2.7,0.1l1.2,0.5l-0.1,0.6l-1.2,0.3l-2,-0.1l-2,-0.5l-1.5,-0.9l-0.5,-1.2l0.6,-0.9l0.6,-1l1.7,-0.6l2.1,-0.1l0.9,0.3l0,0.1" stroke="#e0302a" stroke-width="1.2"/>
<path d="M402.6,336.6l2,0.3l2.5,-0.3l2,-0.7l1.3,-1.2l0.1,-1.2l-1.1,-1.1l-1.4,-0.8l-1.8,-0.4l-1.7,0l-0.9,0.3l0,-0.1l0.2,-0.3l0.2,-0.6l0.1,-0.8l0.4,-1l1.1,-0.9l1.6,-0.6l2.1,-0.2l1.9,0.2l1,0.8l-0.6,0.7l-0.8,0l-0.2,-0.4l0.1,-0.6l0.3,-0.7l0.4,-0.9l0.1,-0.4l-0.5,-0.2l-0.8,0l-1.1,0.1l-2.1,-0.1l-1.9,-0.3l-2,-0.7l-1.5,-1l-0.4,-1.3l0.4,-1.3l1.9,-1.2l2,-0.7l2.2,-0.2l2,0.3l0.8,0.7l-0.5,0.7l-1.7,0.3l-0.8,-0.2l-0.1,-0.2l0.7,-0.4l-0.1,-0.3l-0.9,-0.3l-1.9,-0.5l-1.8,-0.8l-1.4,-1.3l-0.4,-1.4l0.8,-1.5l1.8,-1.1l2.4,-0.7l2.2,-0.1l1.8,0.1l0.9,0.3l0.3,0.3l-0.3,0.4l-1.2,0.1l-1.6,-0.2l-1.5,-0.4l-1.2,-0.8l-1.1,-1.1l-0.1,-1l0.1,-0.5l-0.3,-0.2l-0.4,0.1" stroke="#e0302a" stroke-width="1.2"/>
<path d="M451.3,336.8l-0.1,-1.2l0.9,-1.1l1.6,-0.8l2,-0.4l1.6,0l1.5,0.2l0.7,0.3l-0.4,0.5l-1.7,0.2l-2.8,-0.4l-1.5,-1.1l-0.8,-0.8l-0.6,-0.5l-0.4,-0.2l0.3,0l-0.1,-0.5l0.3,-0.9l-0.3,-1l0.3,-1l0.6,-0.8l0.3,-0.3l0.1,0l0.4,0.1l0.6,0.3l1.2,0.2l1.8,0.1l2.2,-0.2l2.5,-0.7l1.1,-0.6l0.4,-0.4l0,-0.3l-0.4,-0.2l-0.9,-0.1l-1.7,-0.1l-2.4,-0.5l-1.2,-0.6l-0.4,-0.5l0.3,-0.2l0.9,-0.1l1.1,-0.1l2.1,-0.3l2.2,-0.6l2,-1.1l0.9,-1.6l-0.8,-1.8l-2.4,-1.2l-2.6,-0.6l-2.4,-0.1l-1.5,0.3l-0.6,0.6l0.6,0.5l1.8,0.2l2.3,-0.3l1.8,-0.9l0.8,-1l-0.3,-1.1l-0.9,-0.8l-1.5,-0.5l-1.4,-0.1l-0.5,-0.1l0,-0.3l0,-0.4l0.2,-0.6l0.5,-0.5l0.7,-0.5l0.7,-0.3l0.7,-0.1l0.3,-0.1l0,0l-0.1,-0.3" stroke="#e0302a" stroke-width="1.2"/>
<path d="M489.3,334.8l2.2,0.3l0.4,0.6l-0.9,0.6l-2,0l-2.3,-0.5l-1.3,-0.9l-0.4,-1.3l0.7,-1.1l1.2,-1.1l2.2,-0.8l2.1,-0.1l1.5,0.2l0.7,0.4l0,0.5l-1.3,0.4l-2,-0.2l-1.9,-0.6l-1.2,-1.2l0.2,-1.5l1.4,-1.3l2,-0.7l2.3,-0.1l1.5,0.2l0.2,0.5l-0.9,0.4l-1.8,0.2l-2.2,-0.1l-2.3,-0.6l-1.3,-0.9l-1.1,-1.3l0.2,-1.3l1.4,-1.3l2.7,-0.9l3.3,-0.2l1.7,-0.1l0.8,-0.3l0.2,-0.4l-0.7,-0.4l-1,-0.5l-1.2,-0.4l-1.6,-0.3l-1.4,-0.1l-1,0l-0.6,0.4l0.2,0.4l0.5,-0.1l0.4,-0.3l-0.2,-0.6l-0.3,-0.7l-0.2,-0.9l0.1,-1l0.8,-0.9l2,-0.8l2.1,-0.4l2.2,0l1.2,0.4l0.3,0.5l-1,0.4l-2.1,0.2l-2.6,-0.1l-2.6,-0.5l-2.4,-1.1l-1.3,-1.4l0.4,-1.4l0.6,-1l0.9,-0.4l0.1,0l-0.2,0.1l0.2,0.2l0.9,0.3l1.1,0.1l1.8,-0.1l0.9,-0.4l1.3,-0.5" stroke="#e0302a" stroke-width="1.2"/>
<path d="M455.8,336.9l0.2,-2.4l0.4,-2.3l0.6,-1.3l0,-0.9l-0.3,-0.3l-0.1,0.2l1.4,0.9l1.6,0.9l1.6,0.7l1.4,0.8l1.3,0.5l0.7,-0.3l0.4,-0.4l0.3,-0.6l-0.2,-1l-0.1,-1.3l-0.5,-1.7l-0.2,-1.7l-0.3,-1.6l0.3,-1.7l0.3,-1.5l0.6,-1.4l1,-1l1,-0.8l0.2,-0.5l-0.3,-0.5l-0.3,-0.5l-0.4,-0.9l-0.5,-0.6l-0.8,-0.4l-1.3,-0.2l-1.2,0.1l-1.2,0.6l-0.5,0.9l-0.3,1.3l-0.6,1.2l-0.5,0.3l-0.6,-0.3l-0.4,-0.6l-0.3,-1.1l-0.8,-1.6l-0.8,-2l-0.3,-2.3l0.2,-2.2l0.3,-1.8l0.8,-1.4l1.2,-1.2l1.3,-0.7l1.4,-0.2l0.4,0.3l0.5,0.6l0.4,0.8l0,1l-0.2,1l0.5,0.9l0.6,0l1,-0.7l0.6,-1l0.4,-1.5l-0.5,-0.6l-0.1,-0.3l-0.2,0l-0.6,0.2l-0.4,0.7l-1,0.9l-1.4,0.6l-1.3,0.4l-1.2,-0.1l-1.4,-0.7l-1.6,-1.4l-0.6,-1.9l-0.2,-2.3l0.1,-2.4l0.7,-3l1.1,-3.2l1.6,-2.6l1.2,-1.3l0.2,-0.6l0.3,-0.9l0.5,-1.1l1,-1.1l0.9,-1.1l0.9,-1l0.6,0.7l1.1,0.7l1.2,0.8l0.6,1l0,1.2l-0.5,0.2l-0.4,-0.4l-0.6,-0.6l0.6,-0.7l1.1,-0.1l-0.4,-0.5l-0.2,-1l0.4,-0.5l-0.1,-0.2l-0.4,0.1l-0.5,0.3l-0.1,-0.1l-0.5,-0.6l-0.5,-0.9l-0.2,-1.1l-0.7,-1.5l-1.1,-1.6l-0.6,-1.4l-1.2,-1.3l-1.3,-1l-1.5,-0.6l-1.3,0l-0.8,-0.1l0,-0.3l0.3,-0.5l0.7,-0.8l-0.1,-0.5l-0.5,-0.3l0,-0.7l-0.1,-0.5l0.4,-0.6l0.7,-0.7l0.5,-0.9l0.2,-0.9l0.3,-0.7l0.5,-0.5l0.1,-0.1l0.7,0.1l0.1,0.5l1.1,0.6l0.4,1.4l0,1.6l-1.6,0.7l-1.7,0.3l-1.6,-0.2l-1.2,-0.8l-1,-1.1l-0.9,-1.4l-0.9,-1.7l-0.3,-1.8l-0.1,-1.7l0.4,-1.7l0.3,-1.4l0.3,-0.8l0.5,-0.4l0.4,-0.3l0.3,-0.2l0.2,-0.2l0.2,0.1l-0.4,0.2l-0.2,-0.3l0.1,-0.6l0.4,-0.9" stroke="#2c3c9e"/>
<path d="M466.3,330.1l1,1.2l1.1,1.2l0.9,0.9l0,0.8l-0.6,0.7l-1.1,0.5l-0.8,-0.2l-0.5,-0.5l0.1,-0.8l-0.4,-0.8l0.1,-0.9l0,-1.1l-0.1,-1l0.1,-1.3l0,-1.2l0,-1.4l0.2,-1.3l-0.4,-1.1l-0.3,-1l-0.8,-0.8l-0.7,-0.5l-0.8,-0.2l-0.7,-0.7l-1.2,0.2l-0.8,0.7l-0.2,1.3l-0.4,1.5l0.4,1.3l0.5,1.2l1,0.6l1.4,0l1.8,-0.9l1.6,-1.8l1.4,-2.4l0.9,-3.2l0.6,-3.2l0.6,-2.9l-1,-2.7l-1.5,-2.3l-1.6,-1.5l-1.5,-0.8l-1.8,1.1l-1,1.4l-0.3,1.5l-0.3,1.6l0.3,1.2l0.5,0.9l-0.3,0.8l0.6,0.4l0.5,-0.1l0.4,-0.5l0.7,-1.2l0.9,-1.4l1.2,-2.1l0.4,-2l0.1,-1.9l-0.5,-1.8l-0.7,-1l-0.3,-0.5l0.2,-0.3l0.3,-0.2l0.6,0l0.8,-0.2l0.7,0.5l0.2,0.9l-0.2,1.1l-0.9,1l-0.2,0.2l-0.1,-0.2l-0.2,-0.8l-0.2,-1.3l0.4,-1.7l0.1,-1.8l-0.1,-0.9l-0.1,-0.2l0,0l0,0.2l-0.1,0.5l-1,0.6l-1.5,0.4l-1.1,-0.2l-0.5,-0.5l-0.1,-0.6l0.4,-0.8l0.3,-1l0.8,-1.4l0.6,-2l0.1,-2.3l-0.3,-2.6l-0.7,-2l-0.6,-1.8l-0.3,-1.5l-0.1,-1.2l-0.2,-0.7l-0.4,-0.2l-0.3,0l-0.3,0.4l-0.1,0.6l0.5,0.6l0.6,0.8l0.6,1l0.7,0.9l1,0.6l1.1,0.1l1.8,-0.4l1.6,-0.9l1.4,-1.4l0.5,-1.9l0.2,-2.3l-0.3,-2.4l-0.3,-2.2l-0.6,-2.1l-0.9,-1.6l-1.7,-1.1l-1,-0.7l0,-0.5l0.6,-0.5l0.6,-0.5l0.6,-1l0.7,-0.3l0.2,0.9l-0.3,0.9l0,1.2l-0.3,1.3l-0.3,1.1l-0.5,0.7l-1.1,0.5l-1,0.1l-0.9,-0.3l-1,-0.6l-1.1,-0.6l-0.7,-0.6l-0.4,-0.5l-0.4,-0.5l-0.4,-0.7l-0.6,-0.7l-0.3,-0.7l0.8,-0.4l0.7,-0.5l0.4,-0.4l0.5,-0.4l0.8,-0.6l1.1,-0.8l1,-1.1l0.6,-1.2l0.4,-1.6l0.4,-1.6l-0.1,-1.8l-0.2,-2.2l-0.1,-2l-0.8,-2.0" stroke="#2c3c9e"/>
<path d="M512.1,338.5l0.9,-0.5l0.5,-0.4l-0.3,-0.4l-0.3,-0.3l-0.8,-0.3l-1,-0.6l-0.4,-0.4l0,-0.3l0.4,-0.2l0.8,-0.2l1.6,-0.3l1.7,-0.5l0.9,-0.5l0.2,-0.3l-0.2,-0.3l0.6,-0.4l1,-0.6l1,-0.7l1.1,-1.1l0.5,-1.5l-0.8,-1.5l-2.5,-1.2l-3.3,-0.4l-2.9,0.3l-1.6,1l0.7,1.1l3,0.6l3.5,-0.1l3.3,-1l2.1,-1.6l0,-2l-2.3,-1.5l-2.9,-0.5l-2.4,0.1l-1.1,0.7l0.8,0.6l1.5,0.3l1.8,-0.2l1.7,-0.5l1.1,-0.9l0.6,-1l-0.4,-1l-1.3,-0.8l-1.6,-0.4l-1.5,-0.1l-0.9,0.1l-0.1,0.2l0,0l-0.3,-0.2l-0.4,-0.3l-0.8,-0.6l-0.7,-0.8l-0.7,-0.9l0.7,-1l0.5,-0.4l0,-0.3l-0.1,-0.2l0.1,-0.2l0.1,-0.2l0.6,-0.1l0.6,-0.1l0.7,-0.2l1.1,-0.4l1.2,-0.5l0.8,-0.7l0.3,-0.8l-0.6,-0.8l-1,-0.6" stroke="#e0302a" stroke-width="1.2"/>
<path d="M428.7,335.5l2,0l1.6,0.3l0.8,0.4l-0.2,0.3l-1.1,0.1l-1.8,-0.2l-1.8,-0.7l-1.5,-1l-0.5,-1.3l0.7,-1.4l1.5,-1.1l2.6,-0.6l2.9,0l1.7,0.7l0,0.9l-1.2,0.7l-2.5,0.2l-2.8,-0.3l-2.4,-0.8l-2,-1.3l-0.2,-1.8l1.7,-1.7l3,-1.1l3.2,-0.5l2.7,0.1l0.9,-0.1l-0.3,-0.5l-1,-0.6l-0.5,-0.5l0.6,-0.1l0.2,-0.4l-0.6,-0.6l-1,-0.7l-1.8,-0.5l-2.5,-0.1l-1.9,0.2l-1.3,0.6l-0.3,0.7l0.7,0.6l1.6,0.3l2.4,0l3.2,-0.6l2.2,-1.2l1,-1.6l-0.3,-1.5l-1.5,-1.4l-2,-0.9l-2.2,-0.4l-2.4,0.2l-0.8,0.8l0.7,0.7l1.8,0.3l2.5,0l2.2,-0.6l1.3,-0.8l0.8,-0.9l-0.2,-1l-0.8,-0.9l-1.5,-0.7l-1.4,-0.2l-1.2,0.1l-0.5,0.5l1.4,0.5l1.1,-0.1l0.9,-0.2l0.1,-0.4l-0.3,-0.3l-0.9,-0.5l-0.6,-0.6l-0.5,-0.9l-0.3,-1l0,-1.3l0.6,-1.2l1.5,-1l2.3,-0.7l2.5,-0.1l0.9,-0.1l0.1,-0.3l-0.2,-0.4l-0.9,-0.7l-0.9,-0.6l-1.5,-0.5l-1.7,-0.3l-2,0.1l-1.3,0.5" stroke="#e0302a" stroke-width="1.2"/>
<path d="M474.9,338.7l1.8,-0.6l0.6,-0.6l0.5,-0.6l0.3,-0.7l0.2,-1l-0.3,-1l-1,-1l-1.5,-0.7l-1.5,-0.4l-1.3,0l-0.8,0.3l0.4,0.5l1.5,0.3l1.1,-0.2l1.3,-0.3l0.7,-0.4l0.1,-0.4l0,-0.5l-0.5,-0.4l-0.6,-0.6l-0.4,-0.6l-0.2,-0.8l-0.3,-0.9l0,-0.7l-0.1,-0.4l-0.3,0l0,0.1l0.1,0.1l1.1,0.2l1.8,0l2,-0.4l1.1,-0.5l0.3,-0.5l-0.3,-0.5l-0.8,-0.4l-0.8,-0.5l-1.2,-0.2l-1.7,-0.6l-1.3,-1.1l-0.2,-1.4l1.2,-1.4l1.9,-1.1l2.4,-0.6l2.6,0l1.3,0.6l0.2,0.7l-0.3,0.1l-0.1,-0.3l-0.2,-0.5l0,-0.6l-0.4,-0.7l-0.8,-0.9l-1.2,-0.8l-1.3,-0.7l-0.5,-0.7l0.3,-0.6l0.7,-0.4l0.9,-0.2l0.7,0l0.9,0.1l0.1,0.4l-0.5,0.4l-0.2,-0.1l0.1,-0.5l0.7,-0.8l0.3,-1l-0.2,-1.1l-0.7,-1.1l-1.7,-1l-2.3,-0.7l-2.6,-0.3l-1.8,0.1l-1.1,0.6l0.4,0.9l2.2,0.7l3.2,0.2l3.6,-0.7l2.6,-1.5l0.5,-1.7l-1.5,-1.6l-3.1,-1l-3.3,-0.3l-2.5,0.3l-1.3,0.6l0.1,0.7" stroke="#e0302a" stroke-width="1.2"/>
<path d="M450.3,330.6l-0.2,0.1l0.5,-0.2l0.9,-0.4l0.6,-0.3l0.8,-0.2l1.1,0.1l0.8,0.1l0.3,0.3l0.4,0.6l-0.2,0.7l-0.6,0.7l-0.5,0.4l-1.2,0.3l-1.3,0l-1.3,-0.4l-0.9,-0.7l-0.7,-0.1l-0.4,-1.6l0.1,-1.7l0.2,-1.1l0.2,-0.5l0.6,-0.3l0.1,0.1l-0.2,0.2l0.1,0.4l0.2,-0.2l0.3,-0.5l0.4,-0.9l-0.2,-1.1l0.1,-1.4l-0.4,-1.7l-0.2,-1.9l-0.1,-1.1l-0.2,-0.6l-0.3,-0.1l0,0.2l-0.4,0.3l-0.2,0.2l0.6,0.6l0.5,0.6l0.8,0.3l0.6,0.1l0.3,-0.2l0.7,0l1.2,0.2l1.2,-0.1l0.5,-0.3l-0.4,-0.4l-0.8,-0.4l-0.9,-0.5l-0.9,-0.7l-1,-0.9l-1.1,-1.1l-1.6,-1.7l-1.5,-2.4l-0.4,-2.4l0.5,-2.9l0.9,-3.1l1.1,-2.6l1.3,-2.3l1.6,-1.6l1.8,-0.9l0.8,-0.3l0,-0.5l-0.4,-0.7l-0.6,-0.6l-0.9,-0.3l-1.3,0l-1.1,0.6l-0.5,0.8l-0.1,1.2l-0.7,1.4l-0.7,1.8l0,2.3l0.4,1.8l1.4,1.4l1.5,0.8l2.3,0.1l1.7,-2.1l0.3,-1.7l-0.3,-1.1l-0.3,-0.8l-1.2,-0.7l-0.8,-0.7l-1,-0.8l-0.4,-0.8l0.1,-0.7l0.4,-0.5l1,-0.3l1.6,-0.4l1.6,-1.1l1.5,-1.5l1.1,-1.7l0.6,-2l0.1,-1.9l-0.7,-1.3l-0.5,-0.7l-0.1,-0.2l-0.3,0l-0.2,0l-0.7,0l-0.2,0.2l-0.5,0l0.4,0.9l-0.4,-0.3l-0.4,-0.3l-0.7,-0.5l-0.5,-0.7l-0.3,-0.8l0,-0.9l-0.4,-0.7l-0.5,-1.3l-0.6,-1.9l-0.7,-2.5l1,-2l1.1,-2l0.9,-2.2l1.8,-1.8l2.2,-0.2l1.6,0.3l1.8,0.9l0.6,1l0.1,1.3l-0.6,1.3l-0.9,1.3l-0.8,0.9l-1,0.5l-1.5,-0.1l-2.4,-0.8l-2.1,-1.3l-1.6,-1.8l-1.2,-2.1l-0.2,-2.9l-0.1,-2.8l0.2,-2.8l0.9,-2.3l1.2,-1.4l1.6,-0.6l1.8,0.3l1,0.8l0.4,1.1l-0.7,1.4l-0.2,1.6l-0.4,1.6l-0.6,1.3l-0.4,0.9l-0.2,-0.1l-0.1,-0.6l0.4,-0.9l0.3,-1.1l0.3,-1.3l0.5,-1.9l0.5,-2.1l-0.2,-2.1l-0.5,-2.2l-0.7,-2.4" stroke="#2c3c9e"/>
<path d="M469.4,339.5l-1.4,-0.6l-1.1,-0.9l-0.4,-1.1l0.2,-1.1l1.3,-1.1l2,-0.8l2.4,-0.3l2,0.2l1.2,0.4l-0.1,0.6l-1.3,0.2l-1.4,-0.2l-1.4,-0.6l-0.5,-0.9l-0.3,-0.9l0.5,-1l1,-0.8l1.3,-0.5l1.3,-0.3l0.8,0l0,0.1l-0.7,0l-1.1,-0.2l-1.1,0l-1.3,-0.5l-1.1,-0.8l-0.4,-1.2l0.5,-1.1l1.7,-1.1l2.2,-0.7l2.3,-0.2l0.7,-0.2l0,-0.3l-0.3,-0.6l-1.2,-0.5l-1.1,-0.5l0,-0.4l0.5,-0.4l1.4,-0.1l1.6,0.1l1.1,0.5l0,0.5l-0.8,0.5l-2.3,0.3l-2.7,-0.3l-2.6,-1l-1.1,-1l-0.6,-0.6l-0.3,-0.3l0.3,-0.1l0.9,0l1.5,0.1l2.3,-0.2l2.2,-0.5l2.1,-0.9l1.3,-1.1l0.4,-1.3l-0.5,-1.4l-1.5,-1.1l-2.5,-0.7l-1.5,-0.4l-0.4,-0.4l0.1,-0.3l0.5,-0.4l1.6,-0.4l1.8,-0.1l1.6,0.1l0.9,0.3l0.1,0.4l-0.8,0.4l-1.3,0.3l-2.2,0l-1.1,-0.3" stroke="#e0302a" stroke-width="1.2"/>
<path d="M518.1,339.6l1.8,-0.7l1.5,-1.1l0.5,-1.3l-0.9,-1.1l-1.2,-0.8l-1.8,-0.4l-1.8,0l-0.8,0.4l0.5,0.5l0.7,0.1l0.5,-0.2l-0.2,-0.4l-0.2,-0.5l0,-0.7l-0.2,-0.7l0.1,-1l0.5,-0.6l0,-0.3l0.1,-0.1l-0.1,0l0.7,0.1l0.9,0l1.4,0.1l1.9,-0.3l1.6,-1l1.1,-1.1l0.2,-1.1l-0.7,-1l-1.3,-0.8l-1.5,-0.4l-1.5,0.1l-0.8,0.3l0.3,0.2l1.1,0l1.2,-0.3l1.5,-0.6l0.8,-0.8l1.1,-1l-0.3,-1.3l-2,-1l-2.2,0l-1.1,0.4l0.1,0l0.4,0.1l0.5,0l0.2,-0.3l-0.3,-0.5l0,-0.3l0.4,-0.2l0.8,-0.3l1.2,-0.3l1.4,-0.6l0.8,-0.7l0.3,-1l0.2,-1l-0.9,-1l-1.9,-0.7l-2.2,-0.2l-1.2,-0.1l-0.4,-0.3l0.1,-0.5l0.7,-0.7l1.3,-0.7l1.3,-0.6l1.9,-0.3l1.6,0.1l1,0.4l-0.1,0.3l-0.2,-0.1l0,-0.3l0.3,-0.4l1.2,-0.5" stroke="#e0302a" stroke-width="1.2"/>
<path d="M523.1,339.1l1.4,0.2l1.9,-0.1l2.1,-0.7l1.4,-1.1l0.2,-1.3l-1,-1.2l-1.8,-0.8l-2,-0.4l-1.6,0.1l-0.6,0.3l0,0.4l0.6,0.2l1.6,0.1l2.1,-0.3l1.9,-0.9l1.2,-1.2l0,-1.3l-1,-1.1l-2,-0.8l-1.8,-0.3l-1.9,-0.2l-1.3,0.1l-0.7,0.5l0,0.5l1.4,0.5l2.5,0.3l2.8,-0.4l2.8,-1.1l1.6,-1.5l0.2,-1.1l0.2,-0.7l0.3,-0.2l0,0.2l0.1,-0.2l0.4,-0.8l0.2,-0.9l-0.3,-1.2l-1.1,-1.1l-1.7,-0.8l-2.5,-0.4l-2.3,0.2l-0.7,0.6l0.5,0l0.7,-0.5l0.7,-0.8l0.9,-0.8l1.5,-0.7l1.5,-0.6l1.9,-0.3l0.8,-0.3l0.8,-0.1l0,0l0,0.3l-0.3,0.5l-1.2,0.6l-2.6,0l-2.1,-0.5l-1.4,-0.9l-0.7,-1l0.1,-1.1l0.7,-0.9l1.3,-0.7l1.5,-0.5l1,-0.2l1,-0.1l0.5,0.1l0.1,0.1l-0.4,0.2l-1.5,-0.1l-1.9,-0.5l-1.7,-1l-0.5,-1.2l0.8,-1.4l2.1,-1.1l2.5,-0.4l2.3,0.2l0.4,0.7l0,0.8l-1.7,0.5l-1.5,-0.4l0.1,-0.4l0.6,-0.5l0.7,-0.6l0.8,-0.8l0.2,-0.6l0.4,-0.9l-0.1,-0.9l-0.2,-0.9l-1.2,-0.9" stroke="#e0302a" stroke-width="1.2"/>
<path d="M481.6,339.4l1.5,0.2l2.2,-0.2l2.1,-0.5l1.8,-0.9l1.2,-1.2l0.1,-1.3l-0.6,-0.9l-1.2,-0.6l-1.6,-0.4l-1.2,-0.1l-0.7,0.1l-0.2,0.2l0.2,-0.2l0.2,-0.4l0.3,-0.7l0.4,-0.7l0.6,-0.6l0.5,-0.6l0.7,-0.4l1,-0.3l0.1,-0.2l0.4,-0.2l0.4,-0.1l-0.1,0l-0.5,0l-0.7,0l-1,-0.1l-1.2,-0.3l-1,-0.7l-0.7,-1l0.1,-1.1l0.6,-0.8l0.4,-0.5l0.1,-0.4l-0.2,-0.3l-0.8,-0.2l-0.4,0.1l-0.1,0.1l0.3,0.2l1.3,0.1l1.7,-0.1l2.2,-0.3l1.7,-0.6l1.4,-0.8l0.7,-1.1l0,-1.1l-0.9,-1l-1.5,-1l-1.9,-0.6l-2,-0.2l-1.6,0.1l-0.6,0.3l0.2,0.3l0.9,0.2l1.8,0.1l2.1,-0.3l2.2,-0.6l1.6,-1l0.5,-1.2l-0.5,-1.2l-1.8,-1.2l-3,-0.8l-3.1,0l-2.1,0.7l-0.2,0.8l1.4,0.6l2.4,0.2l2.8,-0.4l2.2,-0.9l1.4,-1.3l-0.2,-1.6" stroke="#e0302a" stroke-width="1.2"/>
<path d="M397.3,339.3l1,0.4l1.8,0l2.3,-0.6l0.9,-0.7l0.1,-0.6l0,-0.4l-0.5,-0.2l-0.3,-0.2l-1.1,-0.2l-1.5,-0.4l-1.5,-0.8l-0.8,-1l0.1,-0.9l0.9,-0.9l1.2,-0.6l1.4,-0.4l1.3,-0.1l0.4,0.1l0.3,0.2l-0.8,0.4l-1.1,0l-0.7,-0.2l0.2,-0.3l0.7,-0.3l1.2,-0.5l1.8,-0.7l1.1,-0.9l0.7,-1.2l0,-1.4l-1.3,-1.3l-2.3,-0.8l-2.5,-0.4l-2.4,0.4l-0.9,0.2l-0.2,-0.2l0,-0.5l0.4,-0.8l1.3,-0.9l1.9,-0.8l2.2,-0.5l2,-0.2l1.7,0.4l0.9,0.5l-0.4,0.7l-1.8,0.4l-2.5,0l-2.4,-0.5l-2.1,-1.1l-1,-1.4l0.6,-1.5l2,-1.3l3.3,-0.6l3.2,0.2l1,0.8l-0.7,0.7l-1.8,0.2l-2.1,-0.3l-0.9,-0.7l0,-0.5l0.1,-0.4l0.5,-0.3l0.4,-0.4l1.1,-0.1l0.4,-0.5l0.3,-0.3l0.2,-0.5l0.7,-0.7l0.4,-0.7l0.3,-0.9l-0.1,-1.1l-1.4,-0.9l-1.5,-0.6l-1.3,-0.3l-0.9,0l-0.4,0l0,0.2l0.5,0.1l0.8,-0.1l1.1,-0.4l0.9,-0.5l0.6,-0.9l0.2,-0.9l-0.3,-0.7l-0.2,-0.4l0.2,-0.2l0.2,-0.1l-0.1,-0.1" stroke="#e0302a" stroke-width="1.2"/>
<path d="M406.3,339.5l-1,0.3l-1.8,0l-2.3,-0.5l-1,-0.6l-0.3,-0.5l0.3,-0.2l0.9,-0.2l1.8,-0.2l2.3,-0.3l2.4,-0.7l1.8,-1l0.7,-1.2l-0.2,-1.2l-1.2,-1.1l-2.2,-0.8l-2.3,-0.4l-2.2,0.1l-1.2,0.3l-0.1,0.5l1.1,0.5l1.6,0.2l0.8,-0.2l0,-0.4l-0.9,-0.4l-0.8,-0.5l-0.7,-0.8l-0.8,-1.1l0,-1.3l1.2,-1.3l1.6,-1l1.9,-0.7l2.5,-0.3l2.3,0.1l1.6,0.6l0.1,0.8l-1.1,0.5l-0.5,0l0.1,-0.3l0.9,-0.7l0.8,-0.8l0.7,-1.1l-0.3,-1.4l-0.9,-1.2l-1.9,-0.9l-2.1,-0.5l-1.7,-0.2l-1.4,0.4l-0.4,0.5l0.7,0.5l1.5,0.4l2.6,-0.1l2.4,-0.7l1.8,-1.2l0.4,-1.4l-0.7,-1.5l-2.3,-1.2l-2.8,-0.7l-3,0l-2.3,0.6l0.2,0.9l1.9,0.6l2.4,0.1l2,-0.4l2,-0.8l1.1,-1l0.4,-1.2l-0.2,-1.1l-1.4,-0.9l-1.8,-0.4l-1.1,-0.2l-0.7,-0.4l-0.3,-0.5l0.6,-0.7" stroke="#e0302a" stroke-width="1.2"/>
<path d="M508,340.8l-1.8,-0.7l-0.9,-1.1l0,-1.2l0.4,-1.2l1.6,-1.1l1.1,-0.6l0.6,-0.5l-0.1,-0.5l-1.1,-0.2l-1.3,0.2l-1.2,0.6l-0.1,0.7l1.3,0.7l2.6,0.3l2.6,-0.4l2.2,-0.8l1.6,-1.2l0.7,-1.4l-0.5,-1.5l-2.2,-1.3l-3.3,-0.7l-3.1,0.2l-1.4,0.8l0.3,0.9l0.8,0.2l0.4,-0.3l0.2,-0.5l-0.3,-0.7l-0.5,-0.9l0.2,-1.2l1.3,-1.2l2,-1l2.2,-0.6l2.4,-0.1l1.7,0.3l0.9,0.5l-1,0.5l-1.6,0.1l-1.8,-0.3l-1.9,-0.6l-1.4,-0.9l-0.5,-0.9l0.3,-1l1,-0.8l1.3,-0.5l1.9,-0.5l1.5,-0.1l1,0.1l0.3,0.3l-0.7,0.2l-1.4,0l-1.8,-0.4l-1.7,-0.8l-0.7,-0.7l-0.5,-0.6l-0.3,-0.4l0.1,-0.1l0.4,0l1,-0.1l1.5,-0.2l1.6,-0.6l1.2,-1l0.5,-1.1l-0.4,-1.2l-1,-0.8l-1.6,-0.6l-1.4,-0.2l-1.1,0.1l-0.5,0.4l0.2,0.4l1.6,0.2l2.6,-0.3l1.6,-0.9l0.5,-1.2l-0.2,-0.9l-0.3,-0.7l0,-0.4l0.3,-0.3l0.5,-0.1l0,0.1l-0.5,0.1l-1.1,0l-1.8,-0.2" stroke="#e0302a" stroke-width="1.2"/>
<path d="M501.8,339.7l0.7,-0.3l0.8,-0.6l0.9,-0.8l1.2,-0.8l1.6,-0.6l1.8,-0.4l1.7,-0.1l0.8,0.2l0.2,0.2l-0.4,0.2l-1.4,0.1l-1.3,-0.3l-1.2,-0.6l-0.8,-1l0.1,-1.1l1,-1.1l2.2,-0.8l1.9,-0.2l0.6,-0.1l-0.1,-0.2l-0.4,-0.5l-0.6,-0.7l-0.6,-0.6l-1.3,-0.4l-0.6,-0.4l0.3,-0.3l0.7,-0.4l0.8,-0.3l0.7,-0.4l0.7,-0.3l1,-0.2l0.9,0.2l0,0.4l-0.9,0.1l-1,-0.2l-1.1,-0.5l-1,-0.6l-0.7,-0.8l0,-0.9l0.6,-0.8l0.7,-0.6l1.2,-0.4l0.5,-0.3l0.2,-0.4l0,-0.4l-0.2,-0.4l-0.3,-0.4l-0.7,-0.3l-0.8,-0.2l-0.5,0l-0.5,0.3l0.4,0.2l1.3,-0.1l0.5,-0.5l-0.2,-0.5l-0.3,-0.4l-0.8,-0.3l-1.3,-0.4l-1.3,-0.7l-0.7,-1l0.3,-1l1,-1.2l1.7,-0.8l2,-0.5l1.6,0l0.8,0.4l-0.3,0.7l-1.5,0.4l-2.4,0l-1.7,-0.4l-0.7,-0.5l0.6,-0.3l1.2,-0.3l1.7,-0.3l1.9,-0.8l1.4,-0.9l0.3,-1.1l-0.3,-1l-0.6,-0.8l-1.1,-0.7l-1.2,-0.3l-1.2,-0.2l-0.4,0.1l0.1,0.2l0.7,0.1l1,-0.3l0.9,-0.5l0.1,-0.6l0.6,-0.2l0.3,-0.1l-0.2,-0.1" stroke="#e0302a" stroke-width="1.2"/>
<path d="M399.1,340.3l0.2,-1.1l-0.4,-1l-1.2,-0.9l-1.4,-0.6l-1.2,-0.3l-0.7,0l0.2,0.2l0.4,0.4l0.5,0.5l1.4,0.2l1.8,-0.2l2.3,-0.7l1.3,-1.1l0.1,-1.4l-1.2,-1.2l-2.3,-0.8l-2.1,-0.2l-1.5,0.2l-0.2,0l0.1,-0.4l0.2,-0.5l0.2,-0.7l0.7,-0.9l1.9,-0.8l2.4,-0.5l2.6,0.2l0.7,0.6l-0.2,0.5l-1.5,0.4l-2.1,-0.1l-2.1,-0.5l-1.9,-0.8l-1.1,-1.3l0.7,-1.6l1.9,-1.3l2.8,-0.7l2.9,-0.2l1.1,-0.2l0.2,-0.4l0,-0.4l-1.3,-0.7l-2,-0.6l-2.3,-0.3l-2.8,0.1l-2,0.7l0.3,0.8l1.8,0.5l2.4,0.1l2.5,-0.5l1.7,-0.8l1,-1.2l-0.1,-1.2l-1,-1l-1.9,-0.8l-1.2,-0.4l-0.5,-0.5l0.1,-0.5l0.4,-0.5l1.3,-0.3l1.4,-0.1l0.9,0.2l0.2,0.5l-1,0.6l-1.8,0.2l-2.6,-0.2l-2,-0.9l-0.9,-1.2l0.1,-1.3l1.4,-1.1l2.1,-0.8l2.4,-0.4l0.9,-0.2l0.3,-0.3l-0.2,-0.5l-0.5,-0.5l-1.1,-0.5l-1.6,-0.3l-1.5,0l-0.9,0.3l0,0.5l0.4,0.1l0.1,-0.4l-0.2,-0.6l-0.1,-1l0.3,-0.9" stroke="#e0302a" stroke-width="1.2"/>
<path d="M498,339.8l-0.9,-1l-1.5,-0.7l-1.5,-0.4l-1.8,-0.1l-1.3,0.3l-0.3,0.5l1.3,0.4l2,0.1l2.1,-0.3l1.8,-0.7l1.5,-0.9l0.9,-1.1l0.1,-1l-0.9,-0.9l-1.5,-0.6l-1.5,-0.3l-1.3,0l-0.4,0.1l0.3,0.2l0.4,0l0.6,0.1l1,-0.2l0.5,-0.4l0,-0.4l-0.5,-0.3l-0.8,-0.3l-0.9,-0.3l-1.1,-0.4l-0.8,-0.7l-0.5,-0.6l-0.6,-0.7l-0.4,-0.8l0,-1l0.6,-0.9l1.4,-1l2,-0.5l0.7,-0.5l0.1,-0.4l-0.7,-0.4l-0.9,-0.3l-0.9,-0.1l-0.9,0l-0.2,-0.1l0.1,-0.4l0.5,-0.7l0.8,-0.8l1.3,-0.7l1.5,-0.5l1.6,-0.2l1.6,0.1l0.8,0.2l0.1,0.4l-0.5,0.3l-0.2,-0.1l-1,-0.1l-1.4,-0.2l-1.4,-0.2l-1.8,-0.6l-1.4,-1.1l-0.5,-1.3l0.5,-1.4l1.4,-1.1l1.8,-0.6l2,-0.2l1.8,0.4l0.4,0.7l-1.7,0.6l-2.1,0l-0.9,-0.5l-0.2,-0.5l-0.3,-0.6l0,-0.6l-0.3,-0.7l0.4,-0.9l0.5,-0.9l0.6,-0.7l0.1,-0.4" stroke="#e0302a" stroke-width="1.2"/></g>
<g fill="#111"><path d="M452.7,193.3 L447,202.7 L458.4,202.7 Z"/><path d="M452.7,237 L447,227 L458.4,227 Z"/><rect x="451.8" y="201" width="1.8" height="28"/></g>
<g stroke="#d63a2c" stroke-width="1.45" fill="none" stroke-linejoin="round"><path d="M317,92 L327.5,91.5 L334.2,88.4 L345.2,94.5 L353.8,93 L363.5,90.5"/><path d="M327.8,84.8 Q325.9,91 327.8,97.3"/><path d="M353.3,85 Q355.2,91 353.3,97.3"/><path d="M345.2,94.5 L344.8,109.8 L333.4,117 L333.4,132.4 L345.6,138.9 L356.9,132.4 L356.9,121.3"/><path d="M344.8,109.8 L352.6,114.6"/><path d="M336.6,119.2 L336.6,130.4"/><path d="M346,135.2 L353.8,130.8"/></g>
<g fill="#d63a2c" font-family="Liberation Sans"><circle cx="316.3" cy="92" r="1.1"/><circle cx="364.4" cy="90.2" r="1.1"/><text x="356.6" y="97.8" font-size="7.6">m</text><text x="352.6" y="120.6" font-size="8.4">N</text></g>
<g fill="#111" font-family="Liberation Sans" font-weight="bold" font-style="italic"><text x="363" y="119.6" font-size="7.8">H<tspan font-size="4.5" dy="-3.6">+</tspan></text><text x="363" y="139.2" font-size="7.8">Cl<tspan font-size="4.5" dy="-3.6">-</tspan></text></g>
<g stroke="#2b3a8c" stroke-width="1.45" fill="none" stroke-linejoin="round"><path d="M313.5,252.8 L324,251.6 L330.8,249.8 L341.9,255.8 L350.4,252.6 L360,250.4"/><path d="M324.6,245.4 Q322.7,251.5 324.5,257.4"/><path d="M349.6,246.8 Q351.6,252.6 349.9,258.6"/><path d="M341.7,255.8 L341.7,271.6 L333.4,275.8"/><path d="M341.7,271.6 L349.9,276.1"/></g>
<path d="M334,279.6 L341.6,275.4 L349.6,279.6" stroke="#2b3a8c" stroke-width="0.9" fill="none" stroke-dasharray="1.1,1"/>
<g fill="#2b3a8c" font-family="Liberation Sans"><circle cx="312.8" cy="253" r="1.1"/><circle cx="360.8" cy="250.2" r="1.1"/><text x="352.8" y="259.6" font-size="7.6">n</text><text x="326.6" y="282.8" font-size="8">O</text><text x="352.8" y="281.8" font-size="8">O</text><circle cx="342" cy="280.8" r="1.9" fill="none" stroke="#5a64a8" stroke-width="0.8"/><path d="M340.9,280.8 h2.2" stroke="#5a64a8" stroke-width="0.7"/></g>
<text x="339.4" y="292.4" fill="#111" font-family="Liberation Sans" font-weight="bold" font-style="italic" font-size="7.6">K<tspan font-size="4.5" dy="-4">+</tspan></text>
</svg></body></html>
